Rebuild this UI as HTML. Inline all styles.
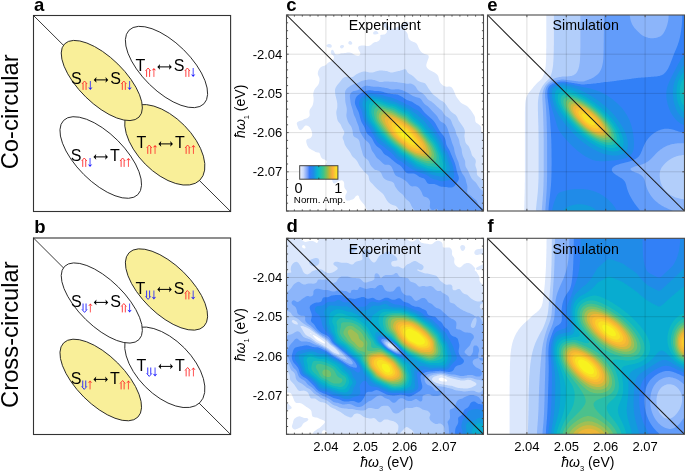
<!DOCTYPE html>
<html><head><meta charset="utf-8"><style>
html,body{margin:0;padding:0;background:#fff;}
svg{display:block;will-change:transform;}
text{font-family:"Liberation Sans", sans-serif;}
</style></head><body>
<svg width="685" height="472" viewBox="0 0 685 472">
<text x="34.0" y="10.9" font-size="18.5" text-anchor="start" font-weight="bold" font-style="normal" fill="#000" >a</text>
<text x="34.2" y="232.9" font-size="18.5" text-anchor="start" font-weight="bold" font-style="normal" fill="#000" >b</text>
<text x="286.3" y="11.0" font-size="18.5" text-anchor="start" font-weight="bold" font-style="normal" fill="#000" >c</text>
<text x="286.5" y="232.3" font-size="18.5" text-anchor="start" font-weight="bold" font-style="normal" fill="#000" >d</text>
<text x="487.3" y="11.0" font-size="18.5" text-anchor="start" font-weight="bold" font-style="normal" fill="#000" >e</text>
<text x="487.5" y="232.3" font-size="18.5" text-anchor="start" font-weight="bold" font-style="normal" fill="#000" >f</text>
<text transform="translate(17.8,111.8) rotate(-90)" font-size="23.8" text-anchor="middle">Co-circular</text>
<text transform="translate(17.6,334.6) rotate(-90)" font-size="23.8" text-anchor="middle">Cross-circular</text>
<rect x="33.5" y="15.5" width="197.1" height="196.0" fill="#fff" stroke="#333" stroke-width="1.1"/>
<line x1="33.5" y1="15.5" x2="230.6" y2="211.5" stroke="#222" stroke-width="0.9"/>
<ellipse cx="164.80" cy="144.80" rx="49.8" ry="27.5" transform="rotate(45.3 164.80 144.80)" fill="#f9ef99" stroke="#222" stroke-width="0.9"/>
<ellipse cx="101.80" cy="80.50" rx="52.2" ry="23.0" transform="rotate(44.5 101.80 80.50)" fill="#f9ef99" stroke="#222" stroke-width="0.9"/>
<ellipse cx="166.50" cy="67.00" rx="52.5" ry="24.3" transform="rotate(44.5 166.50 67.00)" fill="#fff" stroke="#222" stroke-width="0.9"/>
<ellipse cx="100.75" cy="157.50" rx="52.5" ry="24.0" transform="rotate(45.0 100.75 157.50)" fill="#fff" stroke="#222" stroke-width="0.9"/>
<text x="70.98" y="84.2" font-size="16" text-anchor="start" font-weight="normal" font-style="normal" fill="#000" >S</text><path d="M83.04999999999998,89.9 V83.2 M86.04999999999998,89.9 V83.2 M81.94999999999999,84.0 L84.54999999999998,81.0 L87.14999999999998,84.0" stroke="#ff2a2a" stroke-width="0.9" fill="none"/><path d="M90.34999999999998,81.0 V87.9" stroke="#2020ff" stroke-width="0.8" fill="none"/><path d="M88.14999999999998,87.30000000000001 L90.34999999999998,89.9 L92.54999999999998,87.30000000000001 L90.34999999999998,88.10000000000001 Z" fill="#2020ff"/><path d="M95.24999999999999,79.9 H106.74999999999999" stroke="#000" stroke-width="1" fill="none"/><path d="M93.74999999999999,79.9 L96.54999999999998,77.0 L95.94999999999999,79.9 L96.54999999999998,82.80000000000001 Z" fill="#000"/><path d="M108.24999999999999,79.9 L105.44999999999999,77.0 L106.04999999999998,79.9 L105.44999999999999,82.80000000000001 Z" fill="#000"/><text x="110.25" y="84.2" font-size="16" text-anchor="start" font-weight="normal" font-style="normal" fill="#000" >S</text><path d="M122.32199999999997,89.9 V83.2 M125.32199999999997,89.9 V83.2 M121.22199999999998,84.0 L123.82199999999997,81.0 L126.42199999999997,84.0" stroke="#ff2a2a" stroke-width="0.9" fill="none"/><path d="M129.62199999999999,81.0 V87.9" stroke="#2020ff" stroke-width="0.8" fill="none"/><path d="M127.42199999999998,87.30000000000001 L129.62199999999999,89.9 L131.82199999999997,87.30000000000001 L129.62199999999999,88.10000000000001 Z" fill="#2020ff"/>
<text x="135.43" y="71.2" font-size="16" text-anchor="start" font-weight="normal" font-style="normal" fill="#000" >T</text><path d="M146.602,76.9 V70.2 M149.602,76.9 V70.2 M145.502,71.0 L148.102,68.0 L150.702,71.0" stroke="#ff2a2a" stroke-width="0.9" fill="none"/><path d="M153.90200000000002,76.9 V70.0" stroke="#ff2a2a" stroke-width="0.8" fill="none"/><path d="M151.70200000000003,70.6 L153.90200000000002,68.0 L156.102,70.6 L153.90200000000002,69.8 Z" fill="#ff2a2a"/><path d="M158.802,66.9 H170.302" stroke="#000" stroke-width="1" fill="none"/><path d="M157.302,66.9 L160.102,64.0 L159.50199999999998,66.9 L160.102,69.80000000000001 Z" fill="#000"/><path d="M171.802,66.9 L169.00199999999998,64.0 L169.602,66.9 L169.00199999999998,69.80000000000001 Z" fill="#000"/><text x="173.8" y="71.2" font-size="16" text-anchor="start" font-weight="normal" font-style="normal" fill="#000" >S</text><path d="M185.874,76.9 V70.2 M188.874,76.9 V70.2 M184.774,71.0 L187.374,68.0 L189.974,71.0" stroke="#ff2a2a" stroke-width="0.9" fill="none"/><path d="M193.174,68.0 V74.9" stroke="#2020ff" stroke-width="0.8" fill="none"/><path d="M190.97400000000002,74.30000000000001 L193.174,76.9 L195.374,74.30000000000001 L193.174,75.10000000000001 Z" fill="#2020ff"/>
<text x="70.68" y="161.2" font-size="16" text-anchor="start" font-weight="normal" font-style="normal" fill="#000" >S</text><path d="M82.74799999999999,166.89999999999998 V160.2 M85.74799999999999,166.89999999999998 V160.2 M81.648,161.0 L84.24799999999999,158.0 L86.84799999999998,161.0" stroke="#ff2a2a" stroke-width="0.9" fill="none"/><path d="M90.04799999999999,158.0 V164.89999999999998" stroke="#2020ff" stroke-width="0.8" fill="none"/><path d="M87.84799999999998,164.29999999999998 L90.04799999999999,166.89999999999998 L92.24799999999999,164.29999999999998 L90.04799999999999,165.09999999999997 Z" fill="#2020ff"/><path d="M94.948,156.89999999999998 H106.448" stroke="#000" stroke-width="1" fill="none"/><path d="M93.448,156.89999999999998 L96.24799999999999,153.99999999999997 L95.648,156.89999999999998 L96.24799999999999,159.79999999999998 Z" fill="#000"/><path d="M107.948,156.89999999999998 L105.148,153.99999999999997 L105.74799999999999,156.89999999999998 L105.148,159.79999999999998 Z" fill="#000"/><text x="109.95" y="161.2" font-size="16" text-anchor="start" font-weight="normal" font-style="normal" fill="#000" >T</text><path d="M121.12399999999998,166.89999999999998 V160.2 M124.12399999999998,166.89999999999998 V160.2 M120.02399999999999,161.0 L122.62399999999998,158.0 L125.22399999999998,161.0" stroke="#ff2a2a" stroke-width="0.9" fill="none"/><path d="M128.42399999999998,166.89999999999998 V160.0" stroke="#ff2a2a" stroke-width="0.8" fill="none"/><path d="M126.22399999999998,160.6 L128.42399999999998,158.0 L130.62399999999997,160.6 L128.42399999999998,159.8 Z" fill="#ff2a2a"/>
<text x="136.57" y="148.2" font-size="16" text-anchor="start" font-weight="normal" font-style="normal" fill="#000" >T</text><path d="M147.75000000000003,153.89999999999998 V147.2 M150.75000000000003,153.89999999999998 V147.2 M146.65000000000003,148.0 L149.25000000000003,145.0 L151.85000000000002,148.0" stroke="#ff2a2a" stroke-width="0.9" fill="none"/><path d="M155.05000000000004,153.89999999999998 V147.0" stroke="#ff2a2a" stroke-width="0.8" fill="none"/><path d="M152.85000000000005,147.6 L155.05000000000004,145.0 L157.25000000000003,147.6 L155.05000000000004,146.8 Z" fill="#ff2a2a"/><path d="M159.95000000000002,143.89999999999998 H171.45000000000002" stroke="#000" stroke-width="1" fill="none"/><path d="M158.45000000000002,143.89999999999998 L161.25000000000003,140.99999999999997 L160.65,143.89999999999998 L161.25000000000003,146.79999999999998 Z" fill="#000"/><path d="M172.95000000000002,143.89999999999998 L170.15,140.99999999999997 L170.75000000000003,143.89999999999998 L170.15,146.79999999999998 Z" fill="#000"/><text x="174.95" y="148.2" font-size="16" text-anchor="start" font-weight="normal" font-style="normal" fill="#000" >T</text><path d="M186.12600000000003,153.89999999999998 V147.2 M189.12600000000003,153.89999999999998 V147.2 M185.02600000000004,148.0 L187.62600000000003,145.0 L190.22600000000003,148.0" stroke="#ff2a2a" stroke-width="0.9" fill="none"/><path d="M193.42600000000004,153.89999999999998 V147.0" stroke="#ff2a2a" stroke-width="0.8" fill="none"/><path d="M191.22600000000006,147.6 L193.42600000000004,145.0 L195.62600000000003,147.6 L193.42600000000004,146.8 Z" fill="#ff2a2a"/>
<rect x="33.5" y="238.0" width="197.1" height="196.5" fill="#fff" stroke="#333" stroke-width="1.1"/>
<line x1="33.5" y1="238.0" x2="230.6" y2="434.5" stroke="#222" stroke-width="0.9"/>
<ellipse cx="164.80" cy="367.30" rx="49.8" ry="27.5" transform="rotate(45.3 164.80 367.30)" fill="#fff" stroke="#222" stroke-width="0.9"/>
<ellipse cx="101.80" cy="303.00" rx="52.2" ry="23.0" transform="rotate(44.5 101.80 303.00)" fill="#fff" stroke="#222" stroke-width="0.9"/>
<ellipse cx="166.50" cy="289.50" rx="52.5" ry="24.3" transform="rotate(44.5 166.50 289.50)" fill="#f9ef99" stroke="#222" stroke-width="0.9"/>
<ellipse cx="100.75" cy="380.00" rx="52.5" ry="24.0" transform="rotate(45.0 100.75 380.00)" fill="#f9ef99" stroke="#222" stroke-width="0.9"/>
<text x="70.98" y="306.7" font-size="16" text-anchor="start" font-weight="normal" font-style="normal" fill="#000" >S</text><path d="M83.04999999999998,303.5 V310.2 M86.04999999999998,303.5 V310.2 M81.94999999999999,309.4 L84.54999999999998,312.4 L87.14999999999998,309.4" stroke="#2020ff" stroke-width="0.9" fill="none"/><path d="M90.34999999999998,312.4 V305.5" stroke="#ff2a2a" stroke-width="0.8" fill="none"/><path d="M88.14999999999998,306.1 L90.34999999999998,303.5 L92.54999999999998,306.1 L90.34999999999998,305.3 Z" fill="#ff2a2a"/><path d="M95.24999999999999,302.4 H106.74999999999999" stroke="#000" stroke-width="1" fill="none"/><path d="M93.74999999999999,302.4 L96.54999999999998,299.5 L95.94999999999999,302.4 L96.54999999999998,305.29999999999995 Z" fill="#000"/><path d="M108.24999999999999,302.4 L105.44999999999999,299.5 L106.04999999999998,302.4 L105.44999999999999,305.29999999999995 Z" fill="#000"/><text x="110.25" y="306.7" font-size="16" text-anchor="start" font-weight="normal" font-style="normal" fill="#000" >S</text><path d="M122.32199999999997,312.4 V305.7 M125.32199999999997,312.4 V305.7 M121.22199999999998,306.5 L123.82199999999997,303.5 L126.42199999999997,306.5" stroke="#ff2a2a" stroke-width="0.9" fill="none"/><path d="M129.62199999999999,303.5 V310.4" stroke="#2020ff" stroke-width="0.8" fill="none"/><path d="M127.42199999999998,309.79999999999995 L129.62199999999999,312.4 L131.82199999999997,309.79999999999995 L129.62199999999999,310.59999999999997 Z" fill="#2020ff"/>
<text x="135.43" y="293.7" font-size="16" text-anchor="start" font-weight="normal" font-style="normal" fill="#000" >T</text><path d="M146.602,290.5 V297.2 M149.602,290.5 V297.2 M145.502,296.4 L148.102,299.4 L150.702,296.4" stroke="#2020ff" stroke-width="0.9" fill="none"/><path d="M153.90200000000002,290.5 V297.4" stroke="#2020ff" stroke-width="0.8" fill="none"/><path d="M151.70200000000003,296.79999999999995 L153.90200000000002,299.4 L156.102,296.79999999999995 L153.90200000000002,297.59999999999997 Z" fill="#2020ff"/><path d="M158.802,289.4 H170.302" stroke="#000" stroke-width="1" fill="none"/><path d="M157.302,289.4 L160.102,286.5 L159.50199999999998,289.4 L160.102,292.29999999999995 Z" fill="#000"/><path d="M171.802,289.4 L169.00199999999998,286.5 L169.602,289.4 L169.00199999999998,292.29999999999995 Z" fill="#000"/><text x="173.8" y="293.7" font-size="16" text-anchor="start" font-weight="normal" font-style="normal" fill="#000" >S</text><path d="M185.874,299.4 V292.7 M188.874,299.4 V292.7 M184.774,293.5 L187.374,290.5 L189.974,293.5" stroke="#ff2a2a" stroke-width="0.9" fill="none"/><path d="M193.174,290.5 V297.4" stroke="#2020ff" stroke-width="0.8" fill="none"/><path d="M190.97400000000002,296.79999999999995 L193.174,299.4 L195.374,296.79999999999995 L193.174,297.59999999999997 Z" fill="#2020ff"/>
<text x="70.68" y="383.7" font-size="16" text-anchor="start" font-weight="normal" font-style="normal" fill="#000" >S</text><path d="M82.74799999999999,380.5 V387.2 M85.74799999999999,380.5 V387.2 M81.648,386.4 L84.24799999999999,389.4 L86.84799999999998,386.4" stroke="#2020ff" stroke-width="0.9" fill="none"/><path d="M90.04799999999999,389.4 V382.5" stroke="#ff2a2a" stroke-width="0.8" fill="none"/><path d="M87.84799999999998,383.1 L90.04799999999999,380.5 L92.24799999999999,383.1 L90.04799999999999,382.3 Z" fill="#ff2a2a"/><path d="M94.948,379.4 H106.448" stroke="#000" stroke-width="1" fill="none"/><path d="M93.448,379.4 L96.24799999999999,376.5 L95.648,379.4 L96.24799999999999,382.29999999999995 Z" fill="#000"/><path d="M107.948,379.4 L105.148,376.5 L105.74799999999999,379.4 L105.148,382.29999999999995 Z" fill="#000"/><text x="109.95" y="383.7" font-size="16" text-anchor="start" font-weight="normal" font-style="normal" fill="#000" >T</text><path d="M121.12399999999998,389.4 V382.7 M124.12399999999998,389.4 V382.7 M120.02399999999999,383.5 L122.62399999999998,380.5 L125.22399999999998,383.5" stroke="#ff2a2a" stroke-width="0.9" fill="none"/><path d="M128.42399999999998,389.4 V382.5" stroke="#ff2a2a" stroke-width="0.8" fill="none"/><path d="M126.22399999999998,383.1 L128.42399999999998,380.5 L130.62399999999997,383.1 L128.42399999999998,382.3 Z" fill="#ff2a2a"/>
<text x="136.57" y="370.7" font-size="16" text-anchor="start" font-weight="normal" font-style="normal" fill="#000" >T</text><path d="M147.75000000000003,367.5 V374.2 M150.75000000000003,367.5 V374.2 M146.65000000000003,373.4 L149.25000000000003,376.4 L151.85000000000002,373.4" stroke="#2020ff" stroke-width="0.9" fill="none"/><path d="M155.05000000000004,367.5 V374.4" stroke="#2020ff" stroke-width="0.8" fill="none"/><path d="M152.85000000000005,373.79999999999995 L155.05000000000004,376.4 L157.25000000000003,373.79999999999995 L155.05000000000004,374.59999999999997 Z" fill="#2020ff"/><path d="M159.95000000000002,366.4 H171.45000000000002" stroke="#000" stroke-width="1" fill="none"/><path d="M158.45000000000002,366.4 L161.25000000000003,363.5 L160.65,366.4 L161.25000000000003,369.29999999999995 Z" fill="#000"/><path d="M172.95000000000002,366.4 L170.15,363.5 L170.75000000000003,366.4 L170.15,369.29999999999995 Z" fill="#000"/><text x="174.95" y="370.7" font-size="16" text-anchor="start" font-weight="normal" font-style="normal" fill="#000" >T</text><path d="M186.12600000000003,376.4 V369.7 M189.12600000000003,376.4 V369.7 M185.02600000000004,370.5 L187.62600000000003,367.5 L190.22600000000003,370.5" stroke="#ff2a2a" stroke-width="0.9" fill="none"/><path d="M193.42600000000004,376.4 V369.5" stroke="#ff2a2a" stroke-width="0.8" fill="none"/><path d="M191.22600000000006,370.1 L193.42600000000004,367.5 L195.62600000000003,370.1 L193.42600000000004,369.3 Z" fill="#ff2a2a"/>
<clipPath id="clipc"><rect x="286.5" y="15.0" width="197.0" height="196.0"/></clipPath>
<g clip-path="url(#clipc)">
<rect x="286.5" y="15.0" width="197.0" height="196.0" fill="#fff"/>
<path fill-rule="evenodd" fill="#dbe7fc" d="M483.5,211.0 482.5,211.0 481.5,211.0 480.5,211.0 479.5,211.0 478.5,211.0 477.5,211.0 476.5,211.0 475.5,211.0 474.5,211.0 473.5,211.0 472.5,211.0 471.5,211.0 470.5,211.0 469.5,211.0 468.5,211.0 467.5,211.0 466.5,211.0 465.5,211.0 464.5,211.0 463.5,211.0 462.5,211.0 461.5,211.0 460.5,211.0 459.5,211.0 458.5,211.0 457.5,211.0 456.5,211.0 455.5,211.0 454.5,211.0 453.5,211.0 452.5,211.0 451.5,211.0 450.5,211.0 449.5,211.0 448.5,211.0 447.5,211.0 446.5,211.0 445.5,211.0 444.5,211.0 443.5,211.0 442.5,211.0 441.5,211.0 440.5,211.0 439.5,211.0 438.5,211.0 437.5,211.0 436.5,211.0 435.5,211.0 434.5,211.0 433.5,211.0 432.5,211.0 431.5,211.0 430.5,211.0 429.5,211.0 428.5,211.0 427.5,211.0 426.5,211.0 425.5,211.0 424.5,211.0 423.5,211.0 422.5,211.0 421.5,211.0 420.5,211.0 419.5,211.0 418.5,211.0 417.5,211.0 416.5,211.0 415.5,211.0 414.5,211.0 413.5,211.0 412.5,211.0 411.5,211.0 410.5,211.0 409.5,211.0 408.5,211.0 407.5,211.0 406.5,211.0 405.5,211.0 404.5,211.0 403.5,211.0 402.5,211.0 401.5,211.0 400.5,211.0 399.5,211.0 398.5,211.0 397.5,211.0 396.5,211.0 395.5,211.0 394.5,211.0 393.5,211.0 392.5,211.0 391.5,211.0 390.5,211.0 389.5,211.0 388.5,211.0 387.5,211.0 386.5,211.0 385.5,211.0 384.5,211.0 383.5,211.0 382.5,211.0 381.5,211.0 380.5,211.0 379.5,211.0 378.5,211.0 377.5,211.0 376.5,211.0 375.5,211.0 374.5,211.0 373.5,211.0 372.5,211.0 371.5,211.0 370.5,211.0 369.5,211.0 368.5,211.0 367.5,211.0 366.8,210.0 366.3,209.0 365.8,208.0 365.4,207.0 364.9,206.0 364.5,205.1 363.7,204.0 362.7,203.0 361.9,202.0 361.0,201.0 360.5,200.3 359.7,199.0 359.3,198.0 359.1,197.0 358.8,196.0 357.5,195.3 356.5,195.7 355.5,196.6 354.5,197.9 353.5,198.9 352.5,199.4 351.5,199.8 350.5,200.1 349.5,200.4 348.5,200.6 347.5,200.8 346.5,200.5 345.5,199.0 345.3,198.0 345.3,197.0 345.3,196.0 345.5,195.0 346.0,194.0 346.5,193.2 346.9,192.0 346.7,191.0 346.1,190.0 345.2,189.0 344.7,188.0 344.3,187.0 344.2,186.0 344.2,185.0 344.2,184.0 344.1,183.0 343.8,182.0 343.2,181.0 342.5,180.4 341.5,180.3 340.5,180.4 339.5,180.7 338.5,181.2 337.5,181.8 336.5,182.5 335.6,183.0 334.5,183.5 333.5,183.2 332.8,182.0 332.4,181.0 332.1,180.0 331.7,179.0 331.2,178.0 330.7,177.0 330.4,176.0 330.2,175.0 329.9,174.0 329.2,173.0 328.5,172.4 327.5,171.6 326.6,171.0 325.5,170.2 324.5,169.0 324.2,168.0 324.3,167.0 324.7,166.0 325.2,165.0 325.9,164.0 326.5,163.2 327.0,162.0 326.8,161.0 325.5,160.0 324.5,159.6 323.5,159.2 322.5,158.7 321.7,158.0 321.0,157.0 320.6,156.0 320.3,155.0 320.0,154.0 319.5,153.0 318.5,152.6 317.5,152.5 316.5,152.3 315.5,151.9 314.5,151.3 313.5,150.7 312.5,150.2 311.5,149.7 310.5,149.1 309.5,148.4 308.5,147.4 307.6,146.0 307.1,145.0 306.8,144.0 306.5,143.0 306.3,142.0 306.2,141.0 306.4,140.0 307.3,139.0 308.5,138.7 309.5,138.4 310.5,137.9 311.4,137.0 311.9,136.0 312.2,135.0 312.2,134.0 312.1,133.0 311.9,132.0 311.6,131.0 311.2,130.0 310.8,129.0 310.2,128.0 309.5,127.1 308.5,126.3 307.5,125.7 306.5,125.5 305.5,125.6 304.5,126.2 303.9,127.0 303.1,128.0 302.5,128.8 301.5,129.7 300.6,130.0 299.5,129.7 298.7,129.0 298.2,128.0 297.8,127.0 297.5,126.0 297.1,125.0 296.8,124.0 296.8,123.0 297.5,122.1 298.5,121.5 299.5,121.1 300.5,120.8 301.5,120.6 302.5,120.2 303.5,119.5 304.4,119.0 305.5,118.7 306.5,118.4 307.5,118.0 308.5,117.3 309.5,116.0 309.7,115.0 309.6,114.0 309.5,113.0 309.4,112.0 309.5,111.0 309.7,110.0 310.2,109.0 310.9,108.0 311.5,107.2 312.3,106.0 312.7,105.0 313.0,104.0 313.2,103.0 313.4,102.0 313.5,101.1 313.6,100.0 313.6,99.0 313.6,98.0 313.5,97.0 313.3,96.0 313.2,95.0 313.3,94.0 313.4,93.0 313.6,92.0 313.9,91.0 314.3,90.0 314.8,89.0 315.5,88.0 316.4,87.0 317.3,86.0 318.1,85.0 318.6,84.0 319.0,83.0 319.2,82.0 319.4,81.0 319.5,80.0 319.5,79.0 319.4,78.0 319.0,77.0 318.5,76.0 318.0,75.0 317.8,74.0 317.8,73.0 318.0,72.0 318.2,71.0 318.7,70.0 319.2,69.0 319.9,68.0 321.1,67.0 322.5,66.3 323.5,66.0 324.5,65.8 325.5,65.3 326.5,64.4 327.5,63.3 328.5,62.5 329.4,62.0 330.5,61.5 331.5,61.1 332.5,60.4 333.5,59.2 333.9,58.0 333.9,57.0 333.7,56.0 332.5,55.1 331.5,54.3 330.9,53.0 330.8,52.0 331.1,51.0 331.5,50.1 332.5,49.8 333.5,50.6 334.2,52.0 334.6,53.0 335.0,54.0 336.5,54.6 337.5,54.4 338.5,54.2 339.5,53.9 340.5,53.5 341.5,53.3 342.5,53.2 343.5,53.2 344.5,53.1 345.5,53.0 346.5,52.8 347.5,52.5 348.5,52.4 349.5,52.4 350.5,52.7 351.5,53.1 352.5,53.6 353.5,54.2 354.5,54.7 355.5,55.2 356.5,55.6 357.5,55.8 358.5,55.7 359.5,55.2 360.3,54.0 360.3,53.0 359.9,52.0 359.3,51.0 358.8,50.0 358.3,49.0 358.1,48.0 358.2,47.0 359.2,46.0 360.5,45.7 361.5,45.6 362.5,45.5 363.5,45.6 364.5,45.6 365.5,45.8 366.5,45.9 367.5,46.0 368.5,46.0 369.5,45.8 370.5,45.2 371.5,44.4 372.5,43.5 373.5,42.7 374.5,42.3 375.5,42.1 376.5,41.9 377.5,41.6 378.5,41.0 379.5,40.1 380.1,39.0 380.4,38.0 380.4,37.0 380.3,36.0 380.4,35.0 381.5,34.8 382.5,34.7 383.5,34.6 384.5,34.4 385.3,34.0 386.4,33.0 386.9,32.0 387.0,31.0 386.8,30.0 386.2,29.0 385.5,28.3 384.5,27.3 383.5,26.0 383.1,25.0 383.0,24.0 383.3,23.0 384.3,22.0 385.5,22.0 386.5,22.8 387.4,24.0 387.9,25.0 388.5,26.0 389.2,27.0 390.5,28.0 391.5,28.5 392.5,28.7 393.5,28.8 394.5,28.6 395.2,28.0 396.5,27.3 397.5,26.8 398.5,26.4 399.5,26.0 400.5,25.7 401.5,25.2 402.5,24.4 403.5,23.4 404.5,22.6 405.5,22.1 406.5,21.8 407.5,21.8 408.5,22.4 408.8,24.0 408.4,25.0 407.7,26.0 406.7,27.0 405.5,27.6 404.6,28.0 404.3,29.0 404.7,30.0 405.5,30.9 406.5,32.0 407.2,33.0 407.6,34.0 407.9,35.0 408.0,36.0 408.2,37.0 408.5,37.9 409.0,39.0 409.9,40.0 411.3,41.0 412.5,41.5 413.5,41.9 414.5,42.3 415.5,42.8 416.5,43.5 417.5,45.0 417.9,46.0 418.3,47.0 418.7,48.0 419.2,49.0 419.8,50.0 420.5,51.0 421.4,52.0 422.5,52.9 423.5,53.4 424.5,53.9 425.5,54.2 426.5,54.4 427.5,54.7 428.5,55.5 428.8,57.0 428.6,58.0 428.2,59.0 427.8,60.0 427.5,60.9 427.1,62.0 426.8,63.0 426.5,64.0 426.3,65.0 426.3,66.0 426.6,67.0 427.2,68.0 428.2,69.0 429.5,69.9 430.5,70.5 431.5,71.0 432.5,71.5 433.4,72.0 434.5,72.6 435.5,73.2 436.5,73.9 437.5,75.0 438.1,76.0 438.5,77.0 438.7,78.0 438.9,79.0 439.1,80.0 439.4,81.0 439.9,82.0 440.5,83.0 441.4,84.0 442.5,85.0 443.5,85.7 444.5,86.2 445.5,86.5 446.5,86.7 447.5,86.7 448.5,86.6 449.5,86.6 450.5,86.8 451.5,87.3 452.2,88.0 452.9,89.0 453.5,90.0 453.9,91.0 454.3,92.0 454.7,93.0 455.1,94.0 455.5,94.9 456.0,96.0 456.5,96.9 457.2,98.0 458.0,99.0 458.7,100.0 459.5,101.0 460.2,102.0 461.3,103.0 462.5,103.8 463.5,104.3 464.5,104.8 465.5,105.2 466.5,105.8 467.5,106.6 468.5,107.6 469.5,108.7 470.5,109.8 471.4,111.0 472.1,112.0 472.7,113.0 473.3,114.0 474.0,115.0 474.5,116.0 474.9,117.0 475.1,118.0 475.1,119.0 475.2,120.0 475.3,121.0 475.6,122.0 476.5,123.0 477.5,123.6 478.5,124.2 479.5,125.0 480.5,126.0 481.1,127.0 481.4,128.0 481.3,129.0 481.2,130.0 481.4,131.0 481.9,132.0 482.5,132.8 483.5,133.8 483.5,135.0 483.5,136.0 483.5,137.0 483.5,138.0 483.5,139.0 483.5,140.0 483.5,141.0 483.5,142.0 483.5,143.0 483.5,144.0 483.5,145.0 483.5,146.0 483.5,147.0 483.5,148.0 483.5,149.0 483.5,150.0 483.5,151.0 483.5,152.0 483.5,153.0 483.5,154.0 483.5,155.0 483.5,156.0 483.5,157.0 483.5,158.0 483.5,159.0 483.5,160.0 483.5,161.0 483.5,162.0 483.5,163.0 483.5,164.0 483.5,165.0 483.5,166.0 483.5,167.0 483.5,168.0 483.5,169.0 483.5,170.0 483.5,171.0 483.5,172.0 483.5,173.0 483.5,174.0 483.5,175.0 483.5,176.0 483.5,177.0 483.5,178.0 483.5,179.0 483.5,180.0 483.5,181.0 483.5,182.0 483.5,183.0 483.5,184.0 483.5,185.0 483.5,186.0 483.5,187.0 483.5,188.0 483.5,189.0 483.5,190.0 483.5,191.0 483.5,192.0 483.5,193.0 483.5,194.0 483.5,195.0 483.5,196.0 483.5,197.0 483.5,198.0 483.5,199.0 483.5,200.0 483.5,201.0 483.5,202.0 483.5,203.0 483.5,204.0 483.5,205.0 483.5,206.0 483.5,207.0 483.5,208.0 483.5,209.0 483.5,210.0 483.5,211.0ZM377.5,34.1 376.5,34.2 375.5,34.4 374.5,34.4 373.5,34.3 373.0,33.0 373.5,32.0 374.5,31.3 375.5,30.9 376.5,31.0 377.5,31.8 378.4,33.0 378.2,34.0ZM351.5,44.5 350.5,44.7 349.5,44.6 348.6,44.0 348.3,43.0 348.5,42.0 349.5,41.0 350.5,41.0 351.5,41.7 352.3,43.0 352.1,44.0ZM331.5,47.2 330.5,47.8 329.5,47.6 328.5,47.4 327.5,47.1 326.5,46.3 326.5,45.1 327.5,44.4 328.5,44.0 329.5,43.9 330.5,44.2 331.5,44.9 331.8,46.0 331.6,47.0ZM342.5,48.3 341.5,48.4 340.5,48.0 340.0,47.0 340.1,46.0 341.5,45.0 342.5,44.9 343.5,45.3 344.1,46.0 343.8,47.0 342.9,48.0ZM334.8,169.0 334.7,168.0 334.3,169.0Z"/>
<path fill-rule="evenodd" fill="#b2cefa" d="M483.5,211.0 482.5,211.0 481.5,211.0 480.5,211.0 479.5,211.0 478.5,211.0 477.5,211.0 476.5,211.0 475.5,211.0 474.5,211.0 473.5,211.0 472.5,211.0 471.5,211.0 470.5,211.0 469.5,211.0 468.5,211.0 467.5,211.0 466.5,211.0 465.5,211.0 464.5,211.0 463.5,211.0 462.5,211.0 461.5,211.0 460.5,211.0 459.5,211.0 458.5,211.0 457.5,211.0 456.5,211.0 455.5,211.0 454.5,211.0 453.5,211.0 452.5,211.0 451.5,211.0 450.5,211.0 449.5,211.0 448.5,211.0 447.5,211.0 446.5,211.0 445.5,211.0 444.5,211.0 443.5,211.0 442.5,211.0 441.5,211.0 440.5,211.0 439.5,211.0 438.5,211.0 437.5,211.0 436.5,211.0 435.5,211.0 434.5,211.0 433.5,211.0 432.5,211.0 431.5,211.0 430.5,211.0 429.5,211.0 428.5,211.0 427.5,211.0 426.5,211.0 425.5,211.0 424.5,211.0 423.5,211.0 422.5,211.0 421.5,211.0 420.5,211.0 419.5,211.0 418.5,211.0 417.5,211.0 416.5,211.0 415.5,211.0 414.5,211.0 413.5,211.0 412.5,211.0 411.5,211.0 410.5,211.0 409.5,211.0 408.5,211.0 407.5,211.0 406.5,211.0 405.5,211.0 404.5,211.0 403.5,211.0 402.5,211.0 401.5,211.0 400.5,211.0 399.5,210.5 398.5,209.2 397.7,208.0 397.0,207.0 395.8,206.0 394.5,205.4 393.5,205.2 392.6,205.0 391.5,204.6 390.5,204.1 389.5,203.3 388.5,202.4 387.5,201.2 386.6,200.0 386.0,199.0 385.5,198.1 384.9,197.0 384.5,196.2 383.8,195.0 383.0,194.0 382.0,193.0 380.8,192.0 379.6,191.0 378.5,190.1 377.5,189.2 376.5,188.3 375.5,187.3 374.5,186.2 373.5,185.0 372.6,184.0 371.5,183.0 370.5,182.0 369.8,181.0 369.3,180.0 369.1,179.0 368.9,178.0 368.7,177.0 368.5,176.1 367.9,175.0 366.9,174.0 365.6,173.0 364.5,172.0 363.6,171.0 362.8,170.0 362.1,169.0 361.5,168.3 360.5,167.1 359.7,166.0 359.1,165.0 358.6,164.0 358.1,163.0 357.6,162.0 357.0,161.0 356.2,160.0 355.5,159.2 354.5,158.3 353.5,157.5 352.5,156.5 351.5,155.1 351.0,154.0 350.5,153.0 349.9,152.0 349.2,151.0 348.5,150.1 347.6,149.0 346.9,148.0 346.2,147.0 345.6,146.0 345.0,145.0 344.6,144.0 344.3,143.0 344.1,142.0 343.8,141.0 343.4,140.0 342.9,139.0 342.6,138.0 342.7,137.0 343.0,136.0 343.5,135.2 344.0,134.0 344.3,133.0 344.3,132.0 343.9,131.0 343.5,130.2 342.8,129.0 342.2,128.0 341.7,127.0 341.3,126.0 340.9,125.0 340.3,124.0 339.5,123.0 338.6,122.0 337.9,121.0 337.5,120.0 337.2,119.0 337.0,118.0 336.9,117.0 336.7,116.0 336.5,115.0 336.4,114.0 336.3,113.0 336.3,112.0 336.4,111.0 336.7,110.0 336.9,109.0 337.2,108.0 337.3,107.0 337.3,106.0 337.3,105.0 337.3,104.0 337.2,103.0 337.0,102.0 336.9,101.0 336.6,100.0 336.4,99.0 336.1,98.0 335.9,97.0 335.6,96.0 335.4,95.0 335.3,94.0 335.1,93.0 335.0,92.0 335.0,91.0 335.0,90.0 335.2,89.0 335.5,88.1 336.0,87.0 336.5,86.2 337.3,85.0 338.2,84.0 339.0,83.0 339.9,82.0 340.7,81.0 341.4,80.0 342.1,79.0 343.0,78.0 344.5,77.2 345.5,76.9 346.5,76.8 347.5,76.8 348.5,76.9 349.5,77.1 350.5,77.2 351.5,77.2 352.5,76.9 353.5,76.4 354.5,75.7 355.4,75.0 356.5,74.3 357.5,73.7 358.5,73.2 359.5,72.8 360.5,72.4 361.5,72.0 362.5,71.7 363.5,71.5 364.5,71.5 365.5,71.5 366.5,71.7 367.5,71.9 368.5,72.2 369.5,72.4 370.5,72.5 371.5,72.5 372.5,72.4 373.5,72.2 374.5,71.9 375.5,71.5 376.5,71.2 377.5,70.9 378.5,70.7 379.5,70.5 380.5,70.5 381.5,70.6 382.5,70.6 383.5,70.7 384.5,70.8 385.5,70.9 386.5,71.1 387.5,71.3 388.5,71.7 389.5,72.1 390.5,72.4 391.5,72.5 392.5,72.4 393.5,72.2 394.5,71.9 395.5,71.7 396.5,71.5 397.5,71.3 398.5,71.1 399.5,70.9 400.5,70.6 401.5,70.3 402.4,70.0 403.5,69.6 404.5,69.3 405.5,69.2 406.4,70.0 406.8,71.0 407.3,72.0 408.1,73.0 409.5,74.0 410.5,74.4 411.5,75.0 412.5,75.7 413.5,76.6 414.5,77.6 415.5,78.6 416.5,79.6 417.5,80.4 418.4,81.0 419.5,81.6 420.5,82.0 421.5,82.3 422.5,82.5 423.5,82.7 424.4,83.0 425.5,83.8 426.4,85.0 427.0,86.0 427.5,86.8 428.2,88.0 428.9,89.0 429.5,89.8 430.3,91.0 431.1,92.0 431.8,93.0 432.5,93.7 433.5,94.7 434.5,95.5 435.5,96.2 436.5,97.0 437.5,97.8 438.5,98.7 439.5,99.6 440.5,100.2 441.5,100.8 442.5,101.3 443.5,102.0 444.5,102.8 445.5,104.0 446.2,105.0 446.9,106.0 447.5,107.0 448.2,108.0 448.9,109.0 449.5,109.7 450.5,110.9 451.5,111.9 452.5,112.8 453.5,113.5 454.3,114.0 455.5,114.8 456.5,115.9 457.1,117.0 457.5,117.8 458.0,119.0 458.4,120.0 459.0,121.0 459.7,122.0 460.4,123.0 461.1,124.0 461.8,125.0 462.5,126.0 463.2,127.0 463.8,128.0 464.2,129.0 464.6,130.0 464.8,131.0 464.9,132.0 464.8,133.0 464.6,134.0 464.5,135.0 464.4,136.0 464.5,137.0 464.7,138.0 464.9,139.0 465.0,140.0 465.2,141.0 465.4,142.0 465.8,143.0 466.5,144.0 467.5,144.9 468.5,146.0 469.1,147.0 469.5,148.0 469.9,149.0 470.3,150.0 470.7,151.0 471.1,152.0 471.3,153.0 471.6,154.0 471.9,155.0 472.5,156.0 473.4,157.0 474.4,158.0 475.2,159.0 475.6,160.0 475.8,161.0 475.8,162.0 475.6,163.0 475.4,164.0 475.3,165.0 475.5,166.0 475.8,167.0 476.2,168.0 476.5,168.9 476.8,170.0 476.9,171.0 476.8,172.0 476.8,173.0 476.9,174.0 477.2,175.0 478.0,176.0 479.2,177.0 480.4,178.0 481.4,179.0 482.2,180.0 483.0,181.0 483.5,182.0 483.5,183.0 483.5,184.0 483.5,185.0 483.5,186.0 483.5,187.0 483.5,188.0 483.5,189.0 483.5,190.0 483.5,191.0 483.5,192.0 483.5,193.0 483.5,194.0 483.5,195.0 483.5,196.0 483.5,197.0 483.5,198.0 483.5,199.0 483.5,200.0 483.5,201.0 483.5,202.0 483.5,203.0 483.5,204.0 483.5,205.0 483.5,206.0 483.5,207.0 483.5,208.0 483.5,209.0 483.5,210.0 483.5,211.0Z"/>
<path fill-rule="evenodd" fill="#8cb5fa" d="M483.5,211.0 482.5,211.0 481.5,211.0 480.5,211.0 479.5,211.0 478.5,211.0 477.5,211.0 476.5,211.0 475.5,211.0 474.5,211.0 473.5,211.0 472.5,211.0 471.5,211.0 470.5,211.0 469.5,211.0 468.5,211.0 467.5,211.0 466.5,211.0 465.5,211.0 464.5,211.0 463.5,211.0 462.5,211.0 461.5,211.0 460.5,211.0 459.5,211.0 458.5,211.0 457.5,211.0 456.5,211.0 455.5,211.0 454.5,211.0 453.5,211.0 452.5,211.0 451.5,211.0 450.5,211.0 449.5,211.0 448.5,211.0 447.5,211.0 446.5,211.0 445.5,211.0 444.5,211.0 443.5,211.0 442.5,211.0 441.5,211.0 440.5,211.0 439.5,211.0 438.5,211.0 437.5,211.0 436.5,211.0 435.5,211.0 434.5,211.0 433.5,211.0 432.5,211.0 431.5,211.0 430.5,211.0 429.5,211.0 428.5,211.0 427.5,211.0 426.5,211.0 425.5,211.0 424.5,211.0 423.5,211.0 422.5,211.0 421.5,211.0 420.5,211.0 419.5,211.0 418.5,211.0 417.5,211.0 416.5,211.0 415.5,211.0 414.5,210.0 413.6,209.0 412.7,208.0 412.1,207.0 411.5,206.0 411.1,205.0 410.6,204.0 410.1,203.0 409.5,202.1 408.5,201.1 407.5,200.3 406.5,199.5 405.5,198.5 404.5,197.2 403.8,196.0 403.1,195.0 402.1,194.0 400.7,193.0 399.5,192.1 398.5,191.1 397.6,190.0 396.9,189.0 396.1,188.0 395.5,187.1 394.9,186.0 394.6,185.0 394.3,184.0 393.8,183.0 392.5,182.0 391.5,181.6 390.5,181.3 389.5,181.0 388.5,180.8 387.5,180.4 386.5,180.0 385.5,179.5 384.7,179.0 383.6,178.0 382.9,177.0 382.4,176.0 382.0,175.0 381.6,174.0 381.1,173.0 380.5,172.2 379.5,171.3 378.5,170.7 377.5,170.4 376.5,170.1 375.5,169.9 374.5,169.4 373.5,168.6 372.5,167.6 371.5,166.4 370.5,165.0 369.9,164.0 369.5,163.0 369.1,162.0 368.6,161.0 367.9,160.0 366.7,159.0 365.5,158.2 364.5,157.3 363.5,156.1 363.0,155.0 362.7,154.0 362.4,153.0 362.2,152.0 361.9,151.0 361.6,150.0 361.3,149.0 361.0,148.0 360.7,147.0 360.4,146.0 360.2,145.0 360.0,144.0 359.8,143.0 359.6,142.0 359.3,141.0 358.8,140.0 358.0,139.0 356.5,138.1 355.5,137.6 354.5,137.1 353.5,136.0 353.1,135.0 352.9,134.0 352.8,133.0 352.7,132.0 352.6,131.0 352.4,130.0 352.1,129.0 351.8,128.0 351.4,127.0 350.8,126.0 350.1,125.0 349.5,124.2 348.7,123.0 348.2,122.0 347.7,121.0 347.4,120.0 347.1,119.0 346.8,118.0 346.6,117.0 346.4,116.0 346.4,115.0 346.4,114.0 346.6,113.0 346.7,112.0 346.8,111.0 346.8,110.0 346.8,109.0 346.7,108.0 346.5,107.0 346.3,106.0 346.0,105.0 345.8,104.0 345.6,103.0 345.4,102.0 345.3,101.0 345.2,100.0 345.2,99.0 345.2,98.0 345.1,97.0 345.1,96.0 345.1,95.0 345.0,94.0 345.0,93.0 345.1,92.0 345.3,91.0 345.8,90.0 346.5,89.1 347.5,88.0 348.5,87.2 349.5,86.4 350.5,85.7 351.5,85.2 352.5,84.7 353.5,84.3 354.5,84.1 355.5,83.8 356.5,83.5 357.5,83.1 358.5,82.6 359.5,82.0 360.5,81.5 361.5,81.0 362.5,80.7 363.5,80.4 364.5,80.2 365.5,80.0 366.5,79.9 367.5,79.7 368.5,79.6 369.5,79.6 370.5,79.6 371.5,79.6 372.5,79.7 373.5,79.9 374.5,80.1 375.5,80.4 376.5,80.8 377.5,81.3 378.5,81.6 379.5,81.9 380.5,82.0 381.4,82.0 382.5,81.9 383.5,81.7 384.5,81.6 385.5,81.5 386.5,81.5 387.5,81.6 388.5,81.6 389.5,81.7 390.5,81.7 391.5,81.7 392.5,81.7 393.5,81.8 394.5,81.9 395.5,82.0 396.5,82.1 397.5,82.3 398.5,82.5 399.5,82.6 400.5,82.7 401.5,82.8 402.5,83.0 403.5,83.1 404.5,83.3 405.5,83.5 406.5,83.7 407.5,83.7 408.5,83.7 409.5,83.6 410.5,83.6 411.5,83.8 412.5,84.2 413.5,84.8 414.5,85.5 415.5,86.4 416.5,87.9 417.0,89.0 417.7,90.0 418.5,90.8 419.5,91.4 420.4,92.0 421.5,92.6 422.5,93.3 423.4,94.0 424.4,95.0 425.3,96.0 426.1,97.0 426.8,98.0 427.5,98.9 428.5,99.8 429.5,100.5 430.4,101.0 431.5,101.6 432.5,102.4 433.3,103.0 434.4,104.0 435.5,105.0 436.5,106.0 437.5,106.9 438.5,107.8 439.5,108.7 440.5,109.4 441.5,110.3 442.1,111.0 442.8,112.0 443.4,113.0 444.0,114.0 444.8,115.0 445.5,115.7 446.5,116.4 447.5,117.0 448.5,117.7 449.5,118.4 450.5,119.5 451.3,121.0 451.7,122.0 452.0,123.0 452.4,124.0 452.8,125.0 453.3,126.0 453.8,127.0 454.4,128.0 454.8,129.0 455.2,130.0 455.5,130.9 455.8,132.0 456.0,133.0 456.3,134.0 456.7,135.0 457.2,136.0 457.8,137.0 458.3,138.0 458.7,139.0 459.0,140.0 459.3,141.0 459.4,142.0 459.6,143.0 459.8,144.0 460.1,145.0 460.5,145.9 460.9,147.0 461.3,148.0 461.6,149.0 461.7,150.0 461.8,151.0 461.9,152.0 462.1,153.0 462.3,154.0 462.6,155.0 462.9,156.0 463.3,157.0 463.8,158.0 464.3,159.0 464.7,160.0 465.1,161.0 465.2,162.0 465.2,163.0 465.2,164.0 465.3,165.0 465.5,166.0 465.8,167.0 466.4,168.0 467.0,169.0 467.5,169.8 468.2,171.0 468.6,172.0 469.1,173.0 469.5,174.0 469.9,175.0 470.4,176.0 470.9,177.0 471.4,178.0 472.1,179.0 473.0,180.0 474.1,181.0 475.3,182.0 476.2,183.0 476.9,184.0 477.5,184.9 478.1,186.0 478.8,187.0 479.4,188.0 480.3,189.0 481.5,190.0 482.5,190.5 483.5,191.0 483.5,192.0 483.5,193.0 483.5,194.0 483.5,195.0 483.5,196.0 483.5,197.0 483.5,198.0 483.5,199.0 483.5,200.0 483.5,201.0 483.5,202.0 483.5,203.0 483.5,204.0 483.5,205.0 483.5,206.0 483.5,207.0 483.5,208.0 483.5,209.0 483.5,210.0 483.5,211.0Z"/>
<path fill-rule="evenodd" fill="#629cfa" d="M483.5,211.0 482.5,211.0 481.5,211.0 480.5,211.0 479.5,211.0 478.5,211.0 477.5,211.0 476.5,211.0 475.5,211.0 474.5,211.0 473.5,211.0 472.5,211.0 471.5,211.0 470.5,211.0 469.5,211.0 468.5,211.0 467.5,211.0 466.5,211.0 465.5,211.0 464.5,211.0 463.5,211.0 462.5,211.0 461.5,211.0 460.5,211.0 459.5,211.0 458.5,211.0 457.5,211.0 456.5,211.0 455.5,211.0 454.5,211.0 453.5,211.0 452.5,211.0 451.5,211.0 450.5,211.0 449.5,211.0 448.5,211.0 447.5,211.0 446.5,211.0 445.5,211.0 444.5,211.0 443.5,211.0 442.5,211.0 441.5,211.0 440.5,211.0 439.5,211.0 438.6,211.0 438.0,210.0 437.5,209.1 436.5,208.7 435.6,209.0 434.5,209.5 433.5,209.9 432.5,210.0 431.5,209.7 430.7,209.0 430.2,208.0 429.9,207.0 429.8,206.0 429.9,205.0 430.0,204.0 430.1,203.0 430.1,202.0 429.9,201.0 429.5,200.0 428.9,199.0 427.9,198.0 426.5,197.2 425.6,197.0 424.5,196.7 423.5,196.2 422.7,195.0 422.3,194.0 422.0,193.0 421.5,192.0 421.0,191.0 420.5,190.2 419.7,189.0 418.8,188.0 417.6,187.0 416.5,186.5 415.5,186.3 414.5,186.3 413.5,186.3 412.5,186.4 411.5,186.3 410.5,185.8 409.6,185.0 408.7,184.0 407.9,183.0 407.0,182.0 405.8,181.0 404.5,180.0 403.5,179.4 402.5,178.8 401.5,178.2 400.5,177.7 399.5,177.2 398.5,176.9 397.5,176.5 396.5,176.0 395.5,175.3 394.6,174.0 394.2,173.0 393.8,172.0 393.4,171.0 393.0,170.0 392.6,169.0 392.1,168.0 391.6,167.0 390.8,166.0 389.5,165.1 388.5,164.8 387.5,164.8 386.5,164.8 385.5,164.7 384.5,164.4 383.7,164.0 382.5,163.1 381.5,162.1 380.5,161.1 379.5,160.1 378.5,159.2 377.5,158.4 376.5,157.4 375.5,156.0 375.0,155.0 374.5,154.2 373.7,153.0 372.9,152.0 372.2,151.0 371.7,150.0 371.3,149.0 371.0,148.0 370.7,147.0 370.4,146.0 370.0,145.0 369.5,144.0 368.8,143.0 367.9,142.0 366.6,141.0 365.5,140.1 364.5,139.0 363.8,138.0 363.2,137.0 362.5,136.0 361.9,135.0 361.3,134.0 360.7,133.0 360.2,132.0 359.7,131.0 359.4,130.0 359.2,129.0 359.0,128.0 358.8,127.0 358.5,126.0 358.1,125.0 357.7,124.0 357.3,123.0 356.9,122.0 356.5,121.0 356.2,120.0 355.9,119.0 355.5,118.0 355.0,117.0 354.5,116.0 354.0,115.0 353.7,114.0 353.4,113.0 353.2,112.0 353.0,111.0 352.7,110.0 352.4,109.0 352.1,108.0 351.8,107.0 351.5,106.1 351.1,105.0 350.9,104.0 350.7,103.0 350.5,102.0 350.4,101.0 350.3,100.0 350.1,99.0 350.0,98.0 349.9,97.0 349.8,96.0 350.0,95.0 350.3,94.0 350.9,93.0 351.9,92.0 353.5,91.1 354.5,90.9 355.5,90.7 356.5,90.5 357.5,90.2 358.5,89.8 359.5,89.2 360.5,88.5 361.5,87.8 362.5,87.0 363.5,86.4 364.5,86.0 365.5,85.8 366.5,85.8 367.5,85.8 368.5,86.0 369.5,86.1 370.5,86.3 371.5,86.4 372.5,86.6 373.5,86.7 374.5,86.7 375.5,86.7 376.5,86.7 377.5,86.7 378.5,86.8 379.5,86.9 380.5,87.0 381.5,87.2 382.5,87.4 383.5,87.6 384.5,87.8 385.5,87.9 386.5,88.1 387.5,88.3 388.5,88.6 389.5,88.9 390.5,89.2 391.5,89.4 392.5,89.6 393.5,89.6 394.5,89.5 395.5,89.3 396.5,89.2 397.5,89.2 398.5,89.2 399.5,89.4 400.5,89.7 401.5,90.0 402.5,90.3 403.5,90.8 404.5,91.2 405.5,91.7 406.5,92.2 407.5,92.7 408.5,93.3 409.5,93.9 410.5,94.5 411.3,95.0 412.5,95.7 413.5,96.2 414.5,96.6 415.5,96.9 416.5,97.2 417.5,97.4 418.5,97.7 419.5,98.1 420.5,98.8 421.5,99.8 422.3,101.0 422.9,102.0 423.5,102.8 424.5,103.9 425.5,104.7 426.5,105.4 427.4,106.0 428.5,106.9 429.5,108.0 430.4,109.0 431.3,110.0 432.2,111.0 433.2,112.0 434.1,113.0 435.1,114.0 436.1,115.0 436.9,116.0 437.5,116.8 438.1,118.0 438.7,119.0 439.3,120.0 440.1,121.0 441.4,122.0 442.5,122.5 443.5,123.0 444.5,123.7 445.5,124.8 446.3,126.0 446.8,127.0 447.3,128.0 447.7,129.0 448.0,130.0 448.3,131.0 448.6,132.0 448.9,133.0 449.3,134.0 449.6,135.0 449.9,136.0 450.2,137.0 450.6,138.0 450.9,139.0 451.2,140.0 451.5,141.0 451.8,142.0 452.1,143.0 452.5,144.0 452.9,145.0 453.3,146.0 453.7,147.0 454.0,148.0 454.2,149.0 454.3,150.0 454.5,151.0 454.7,152.0 455.0,153.0 455.3,154.0 455.6,155.0 456.0,156.0 456.3,157.0 456.7,158.0 457.1,159.0 457.5,159.9 458.0,161.0 458.4,162.0 458.7,163.0 458.9,164.0 459.1,165.0 459.4,166.0 459.7,167.0 460.0,168.0 460.3,169.0 460.7,170.0 461.1,171.0 461.5,172.0 462.0,173.0 462.5,173.9 463.3,175.0 464.0,176.0 464.5,176.8 465.1,178.0 465.5,179.0 465.8,180.0 466.0,181.0 466.2,182.0 466.5,183.0 466.8,184.0 467.1,185.0 467.3,186.0 467.4,187.0 467.4,188.0 467.3,189.0 467.2,190.0 467.2,191.0 467.2,192.0 467.4,193.0 468.3,194.0 469.5,194.7 470.5,195.4 471.5,196.3 472.2,197.0 473.3,198.0 474.5,199.0 475.5,199.8 476.5,200.8 477.2,202.0 477.7,203.0 478.2,204.0 478.8,205.0 479.5,205.8 480.5,206.8 481.5,207.4 482.5,207.9 483.5,208.2 483.5,210.0 483.5,211.0Z"/>
<path fill-rule="evenodd" fill="#3280f7" d="M452.5,187.2 451.5,187.4 450.5,187.5 449.5,187.5 448.5,187.4 447.5,187.3 446.5,187.1 445.5,187.0 444.5,186.9 443.5,186.8 442.5,186.8 441.5,186.7 440.5,186.6 439.5,186.2 438.5,185.8 437.5,185.3 436.5,184.8 435.5,184.4 434.5,184.1 433.5,184.0 432.5,183.9 431.5,184.0 430.5,184.1 429.5,184.1 428.5,183.8 427.5,183.2 426.6,182.0 426.0,181.0 425.5,180.0 424.7,179.0 423.5,178.2 422.5,177.9 421.5,177.7 420.5,177.3 419.5,176.9 418.5,176.2 417.5,175.5 416.5,174.8 415.5,174.3 414.5,173.8 413.5,173.6 412.5,173.4 411.5,173.4 410.5,173.4 409.5,173.4 408.5,173.4 407.5,173.2 406.5,172.7 405.6,172.0 404.7,171.0 403.9,170.0 403.2,169.0 402.5,168.0 401.7,167.0 400.7,166.0 399.5,165.1 398.5,164.5 397.6,164.0 396.5,163.3 395.5,162.5 394.5,161.7 393.7,161.0 392.5,160.0 391.5,159.2 390.5,158.3 389.5,157.5 388.5,156.8 387.5,156.1 386.5,155.6 385.5,155.0 384.5,154.2 383.5,153.2 382.7,152.0 382.1,151.0 381.5,150.2 380.5,149.1 379.5,148.3 378.5,147.6 377.7,147.0 376.6,146.0 375.7,145.0 375.0,144.0 374.3,143.0 373.8,142.0 373.3,141.0 372.8,140.0 372.3,139.0 371.6,138.0 370.8,137.0 369.7,136.0 368.5,135.0 367.5,134.0 366.8,133.0 366.2,132.0 365.8,131.0 365.5,130.0 365.2,129.0 364.8,128.0 364.4,127.0 363.8,126.0 363.2,125.0 362.6,124.0 362.0,123.0 361.5,122.0 361.1,121.0 360.8,120.0 360.5,119.1 360.2,118.0 359.9,117.0 359.7,116.0 359.5,115.1 359.2,114.0 358.9,113.0 358.6,112.0 358.1,111.0 357.6,110.0 357.1,109.0 356.6,108.0 356.2,107.0 355.8,106.0 355.4,105.0 355.1,104.0 354.9,103.0 354.9,102.0 355.0,101.0 355.2,100.0 355.4,99.0 355.8,98.0 356.3,97.0 357.1,96.0 358.3,95.0 359.5,94.2 360.5,93.6 361.5,93.1 362.5,92.6 363.5,92.1 364.5,91.6 365.5,91.1 366.5,90.7 367.5,90.4 368.5,90.2 369.5,90.2 370.5,90.3 371.5,90.5 372.5,90.6 373.5,90.8 374.5,90.9 375.4,91.0 376.5,91.1 377.5,91.1 378.5,91.1 379.5,91.2 380.5,91.3 381.5,91.5 382.5,91.8 383.5,92.1 384.5,92.4 385.5,92.7 386.5,93.0 387.5,93.2 388.5,93.4 389.5,93.6 390.5,93.8 391.5,94.0 392.5,94.1 393.5,94.2 394.5,94.2 395.5,94.3 396.5,94.4 397.5,94.5 398.5,94.9 399.5,95.4 400.5,96.0 401.5,96.6 402.5,97.1 403.5,97.7 404.5,98.4 405.3,99.0 406.5,99.7 407.5,100.2 408.5,100.6 409.5,100.9 410.5,101.2 411.5,101.6 412.4,102.0 413.5,102.7 414.5,103.4 415.4,104.0 416.5,104.7 417.5,105.2 418.5,105.8 419.5,106.5 420.5,107.4 421.5,108.5 422.5,109.9 423.3,111.0 424.1,112.0 425.0,113.0 426.1,114.0 427.2,115.0 428.3,116.0 429.5,117.0 430.5,117.9 431.5,118.8 432.5,119.8 433.5,120.8 434.5,122.0 435.2,123.0 435.8,124.0 436.3,125.0 436.9,126.0 437.4,127.0 438.0,128.0 438.5,129.0 439.1,130.0 439.7,131.0 440.4,132.0 441.2,133.0 442.0,134.0 442.9,135.0 443.5,135.8 444.3,137.0 444.8,138.0 445.2,139.0 445.5,140.0 445.7,141.0 445.9,142.0 446.0,143.0 446.2,144.0 446.5,144.9 447.0,146.0 447.5,147.0 448.1,148.0 448.8,149.0 449.3,150.0 449.8,151.0 450.2,152.0 450.6,153.0 451.0,154.0 451.4,155.0 451.9,156.0 452.3,157.0 452.7,158.0 453.2,159.0 453.6,160.0 454.0,161.0 454.4,162.0 454.8,163.0 455.1,164.0 455.4,165.0 455.7,166.0 455.9,167.0 456.2,168.0 456.4,169.0 456.6,170.0 456.8,171.0 457.1,172.0 457.4,173.0 457.7,174.0 458.1,175.0 458.5,176.0 458.7,177.0 458.9,178.0 458.8,179.0 458.6,180.0 458.0,181.0 457.5,181.8 456.7,183.0 456.0,184.0 455.5,184.8 454.5,186.0 453.5,186.7 452.5,187.2Z"/>
<path fill-rule="evenodd" fill="#208be8" d="M443.5,181.1 442.5,181.2 441.5,181.2 440.5,181.0 439.5,180.7 438.5,180.4 437.5,180.1 436.5,179.8 435.5,179.6 434.5,179.4 433.5,179.1 432.5,178.8 431.5,178.3 430.5,177.7 429.6,177.0 428.5,176.1 427.5,175.4 426.5,174.8 425.5,174.4 424.5,174.0 423.5,173.7 422.5,173.4 421.5,173.1 420.5,172.8 419.5,172.5 418.5,172.1 417.5,171.7 416.5,171.3 415.5,170.9 414.5,170.5 413.5,170.0 412.5,169.5 411.6,169.0 410.5,168.3 409.5,167.6 408.6,167.0 407.5,166.2 406.5,165.5 405.5,164.6 404.8,164.0 403.5,163.0 402.5,162.2 401.5,161.6 400.5,161.1 399.5,160.6 398.5,160.0 397.5,159.3 396.5,158.4 395.5,157.4 394.5,156.3 393.5,155.1 392.5,154.0 391.6,153.0 390.5,152.0 389.5,151.2 388.5,150.5 387.8,150.0 386.5,149.0 385.5,148.2 384.5,147.3 383.5,146.5 382.5,145.8 381.5,145.2 380.5,144.6 379.5,144.0 378.5,143.2 377.5,142.2 376.6,141.0 376.1,140.0 375.6,139.0 375.1,138.0 374.6,137.0 374.1,136.0 373.5,135.0 372.9,134.0 372.2,133.0 371.6,132.0 371.0,131.0 370.5,130.0 369.9,129.0 369.2,128.0 368.5,127.1 367.6,126.0 366.8,125.0 366.1,124.0 365.5,123.0 364.9,122.0 364.5,121.1 364.0,120.0 363.6,119.0 363.3,118.0 363.0,117.0 362.7,116.0 362.6,115.0 362.4,114.0 362.2,113.0 362.0,112.0 361.7,111.0 361.3,110.0 360.9,109.0 360.4,108.0 359.9,107.0 359.5,106.1 359.2,105.0 359.0,104.0 359.0,103.0 359.2,102.0 359.5,101.1 359.9,100.0 360.3,99.0 360.9,98.0 361.8,97.0 363.2,96.0 364.5,95.3 365.5,94.8 366.5,94.3 367.5,93.9 368.5,93.6 369.5,93.4 370.5,93.3 371.5,93.3 372.5,93.5 373.5,93.7 374.5,93.9 375.5,94.1 376.5,94.3 377.5,94.4 378.5,94.6 379.5,94.7 380.5,94.9 381.5,95.0 382.5,95.3 383.5,95.6 384.5,95.9 385.5,96.2 386.5,96.4 387.5,96.6 388.5,96.9 389.5,97.1 390.5,97.3 391.5,97.6 392.5,98.0 393.5,98.3 394.5,98.7 395.5,99.2 396.5,99.6 397.4,100.0 398.5,100.4 399.5,100.9 400.5,101.3 401.5,101.7 402.5,102.2 403.5,102.8 404.5,103.3 405.5,103.9 406.5,104.4 407.5,104.8 408.5,105.3 409.5,105.8 410.5,106.4 411.3,107.0 412.5,107.8 413.5,108.5 414.5,109.0 415.5,109.4 416.5,109.8 417.5,110.3 418.5,110.9 419.5,111.8 420.5,112.9 421.5,114.0 422.5,114.9 423.5,115.8 424.5,116.7 425.5,117.6 426.5,118.6 427.5,119.5 428.5,120.6 429.5,121.7 430.5,122.9 431.3,124.0 432.0,125.0 432.7,126.0 433.4,127.0 434.1,128.0 434.8,129.0 435.4,130.0 436.0,131.0 436.5,131.8 437.2,133.0 437.9,134.0 438.5,134.8 439.3,136.0 440.0,137.0 440.5,138.0 441.1,139.0 441.5,139.9 442.0,141.0 442.5,142.0 442.8,143.0 443.2,144.0 443.5,144.9 443.9,146.0 444.3,147.0 444.9,148.0 445.5,149.0 446.2,150.0 446.8,151.0 447.4,152.0 447.9,153.0 448.3,154.0 448.7,155.0 449.0,156.0 449.4,157.0 449.8,158.0 450.2,159.0 450.6,160.0 451.0,161.0 451.5,162.0 451.9,163.0 452.2,164.0 452.6,165.0 452.8,166.0 453.1,167.0 453.3,168.0 453.4,169.0 453.6,170.0 453.7,171.0 453.8,172.0 453.9,173.0 454.0,174.0 454.1,175.0 454.1,176.0 453.9,177.0 453.5,177.9 452.5,178.9 451.5,179.4 450.5,179.8 449.5,180.0 448.5,180.2 447.5,180.4 446.5,180.6 445.5,180.8 444.5,181.0 443.5,181.1Z"/>
<path fill-rule="evenodd" fill="#129bdc" d="M444.5,176.2 443.5,176.6 442.5,176.8 441.5,176.9 440.5,176.8 439.5,176.5 438.5,176.3 437.6,176.0 436.5,175.7 435.5,175.5 434.5,175.2 433.5,175.0 432.5,174.7 431.5,174.4 430.5,173.9 429.5,173.4 428.6,173.0 427.5,172.5 426.5,172.1 425.5,171.7 424.5,171.4 423.6,171.0 422.5,170.6 421.5,170.3 420.5,169.9 419.5,169.6 418.5,169.3 417.5,168.9 416.5,168.5 415.5,168.0 414.5,167.4 413.5,166.7 412.7,166.0 411.5,165.0 410.5,164.2 409.5,163.5 408.5,162.7 407.5,162.0 406.5,161.3 405.5,160.6 404.7,160.0 403.5,159.2 402.5,158.6 401.5,158.0 400.5,157.5 399.7,157.0 398.5,156.2 397.5,155.3 396.5,154.3 395.5,153.2 394.5,152.0 393.6,151.0 392.5,150.0 391.5,149.1 390.5,148.4 389.5,147.6 388.7,147.0 387.5,146.0 386.5,145.2 385.5,144.3 384.5,143.4 383.5,142.5 382.5,141.7 381.7,141.0 380.5,140.0 379.5,139.0 378.6,138.0 377.9,137.0 377.2,136.0 376.5,135.0 375.9,134.0 375.3,133.0 374.6,132.0 374.0,131.0 373.5,130.1 372.9,129.0 372.2,128.0 371.6,127.0 370.8,126.0 369.9,125.0 369.1,124.0 368.5,123.2 367.7,122.0 367.2,121.0 366.7,120.0 366.3,119.0 365.9,118.0 365.6,117.0 365.3,116.0 365.1,115.0 364.9,114.0 364.8,113.0 364.6,112.0 364.4,111.0 364.1,110.0 363.7,109.0 363.4,108.0 363.0,107.0 362.7,106.0 362.5,105.1 362.4,104.0 362.5,103.0 362.7,102.0 363.0,101.0 363.5,100.2 364.5,99.0 365.5,98.2 366.5,97.6 367.5,97.1 368.5,96.7 369.5,96.4 370.5,96.2 371.5,96.1 372.5,96.1 373.5,96.3 374.5,96.4 375.5,96.6 376.5,96.8 377.5,97.0 378.5,97.1 379.5,97.3 380.5,97.6 381.5,97.8 382.5,98.2 383.5,98.5 384.5,98.9 385.5,99.2 386.5,99.6 387.5,99.8 388.5,100.1 389.5,100.4 390.5,100.6 391.5,100.9 392.5,101.2 393.5,101.5 394.5,101.9 395.5,102.2 396.5,102.6 397.5,103.0 398.5,103.4 399.5,103.9 400.5,104.4 401.5,104.9 402.5,105.5 403.4,106.0 404.5,106.6 405.5,107.2 406.5,107.7 407.5,108.2 408.5,108.7 409.5,109.2 410.5,109.9 411.5,110.6 412.5,111.4 413.3,112.0 414.5,112.9 415.5,113.6 416.5,114.3 417.4,115.0 418.5,116.0 419.5,116.9 420.5,117.8 421.5,118.7 422.5,119.6 423.5,120.6 424.5,121.6 425.5,122.8 426.4,124.0 427.1,125.0 427.8,126.0 428.5,126.9 429.5,128.0 430.5,129.0 431.5,129.9 432.5,131.0 433.3,132.0 434.0,133.0 434.5,133.8 435.3,135.0 436.0,136.0 436.5,136.8 437.3,138.0 437.9,139.0 438.5,139.9 439.1,141.0 439.6,142.0 440.1,143.0 440.5,143.8 441.0,145.0 441.4,146.0 441.7,147.0 442.1,148.0 442.5,148.9 443.1,150.0 443.7,151.0 444.4,152.0 445.0,153.0 445.5,153.9 446.0,155.0 446.4,156.0 446.7,157.0 447.0,158.0 447.3,159.0 447.6,160.0 447.9,161.0 448.3,162.0 448.7,163.0 449.0,164.0 449.3,165.0 449.6,166.0 449.9,167.0 450.0,168.0 450.1,169.0 450.1,170.0 449.9,171.0 449.5,171.9 448.8,173.0 447.7,174.0 446.5,174.9 445.5,175.6 444.5,176.2Z"/>
<path fill-rule="evenodd" fill="#08acd0" d="M441.5,173.1 440.5,173.2 439.5,173.1 438.5,173.0 437.5,172.8 436.5,172.7 435.5,172.5 434.5,172.3 433.5,172.1 432.5,171.8 431.5,171.5 430.5,171.2 429.5,170.9 428.5,170.6 427.5,170.2 426.5,169.9 425.5,169.5 424.5,169.1 423.5,168.6 422.5,168.2 421.5,167.8 420.5,167.4 419.5,167.1 418.5,166.7 417.5,166.3 416.5,165.8 415.5,165.1 414.5,164.4 413.5,163.6 412.5,162.8 411.6,162.0 410.5,161.2 409.5,160.5 408.7,160.0 407.5,159.2 406.5,158.5 405.5,157.8 404.5,157.1 403.5,156.4 402.5,155.8 401.5,155.2 400.5,154.6 399.7,154.0 398.5,153.0 397.5,152.1 396.5,151.1 395.5,150.1 394.5,149.1 393.5,148.3 392.5,147.5 391.5,146.7 390.6,146.0 389.5,145.1 388.5,144.2 387.5,143.2 386.5,142.2 385.5,141.1 384.5,140.0 383.5,139.0 382.5,138.0 381.5,137.1 380.5,136.1 379.5,135.0 378.6,134.0 377.8,133.0 377.1,132.0 376.5,131.2 375.7,130.0 375.1,129.0 374.5,128.1 373.8,127.0 373.1,126.0 372.5,125.2 371.6,124.0 370.9,123.0 370.2,122.0 369.6,121.0 369.1,120.0 368.6,119.0 368.2,118.0 367.8,117.0 367.5,116.0 367.3,115.0 367.1,114.0 366.9,113.0 366.8,112.0 366.6,111.0 366.5,110.0 366.2,109.0 366.0,108.0 365.8,107.0 365.6,106.0 365.6,105.0 365.6,104.0 365.8,103.0 366.3,102.0 367.1,101.0 368.4,100.0 369.5,99.4 370.5,99.0 371.5,98.8 372.5,98.7 373.5,98.7 374.5,98.7 375.5,98.8 376.5,99.0 377.5,99.1 378.5,99.3 379.5,99.6 380.5,99.9 381.5,100.2 382.5,100.6 383.5,101.0 384.5,101.4 385.5,101.7 386.5,102.1 387.5,102.5 388.5,102.8 389.5,103.0 390.5,103.3 391.5,103.5 392.5,103.7 393.5,103.9 394.5,104.2 395.5,104.6 396.5,105.0 397.5,105.5 398.5,106.0 399.5,106.6 400.5,107.2 401.5,107.8 402.5,108.4 403.5,109.0 404.5,109.5 405.5,110.0 406.5,110.4 407.5,110.9 408.5,111.4 409.4,112.0 410.5,112.9 411.5,114.0 412.4,115.0 413.3,116.0 414.4,117.0 415.5,117.9 416.5,118.7 417.5,119.6 418.5,120.5 419.5,121.4 420.2,122.0 421.3,123.0 422.3,124.0 423.2,125.0 424.1,126.0 424.8,127.0 425.5,127.9 426.3,129.0 427.2,130.0 428.2,131.0 429.3,132.0 430.3,133.0 431.2,134.0 432.0,135.0 432.7,136.0 433.4,137.0 434.2,138.0 434.9,139.0 435.5,139.8 436.3,141.0 436.9,142.0 437.5,142.9 438.1,144.0 438.5,144.8 439.0,146.0 439.4,147.0 439.8,148.0 440.2,149.0 440.6,150.0 441.0,151.0 441.5,151.9 442.1,153.0 442.7,154.0 443.2,155.0 443.6,156.0 444.0,157.0 444.2,158.0 444.5,159.0 444.7,160.0 445.0,161.0 445.3,162.0 445.6,163.0 445.9,164.0 446.2,165.0 446.4,166.0 446.5,167.0 446.5,168.0 446.3,169.0 445.9,170.0 445.2,171.0 444.5,171.7 443.5,172.4 442.5,172.9 441.5,173.1Z"/>
<path fill-rule="evenodd" fill="#0fb8c2" d="M438.5,170.0 437.5,170.0 436.5,170.0 435.5,169.8 434.5,169.7 433.5,169.5 432.5,169.3 431.5,169.1 430.5,168.8 429.5,168.6 428.5,168.4 427.5,168.1 426.5,167.7 425.5,167.3 424.5,166.9 423.5,166.4 422.5,165.9 421.5,165.5 420.5,165.1 419.5,164.7 418.5,164.3 417.5,163.8 416.5,163.2 415.5,162.6 414.8,162.0 413.5,161.1 412.5,160.4 411.5,159.7 410.6,159.0 409.5,158.3 408.5,157.6 407.6,157.0 406.5,156.3 405.5,155.6 404.7,155.0 403.5,154.2 402.5,153.6 401.6,153.0 400.5,152.2 399.5,151.4 398.5,150.5 397.5,149.5 396.5,148.6 395.7,148.0 394.5,147.0 393.5,146.2 392.5,145.4 391.5,144.6 390.8,144.0 389.7,143.0 388.7,142.0 387.8,141.0 386.9,140.0 386.0,139.0 385.1,138.0 384.5,137.3 383.5,136.3 382.5,135.3 381.5,134.3 380.5,133.3 379.5,132.2 378.6,131.0 377.8,130.0 377.1,129.0 376.5,128.0 375.8,127.0 375.2,126.0 374.5,125.0 373.8,124.0 373.1,123.0 372.5,122.0 371.9,121.0 371.4,120.0 370.9,119.0 370.5,118.1 370.1,117.0 369.7,116.0 369.4,115.0 369.2,114.0 369.1,113.0 369.0,112.0 368.9,111.0 368.8,110.0 368.7,109.0 368.7,108.0 368.7,107.0 368.7,106.0 368.9,105.0 369.3,104.0 369.9,103.0 371.1,102.0 372.5,101.4 373.5,101.1 374.5,101.1 375.5,101.1 376.5,101.2 377.5,101.3 378.5,101.5 379.5,101.7 380.5,102.0 381.5,102.3 382.5,102.7 383.4,103.0 384.5,103.4 385.5,103.9 386.5,104.2 387.5,104.6 388.5,104.9 389.5,105.2 390.5,105.4 391.5,105.6 392.5,105.8 393.5,106.1 394.5,106.4 395.5,106.8 396.5,107.3 397.5,107.9 398.5,108.5 399.5,109.2 400.5,109.8 401.5,110.4 402.5,111.0 403.5,111.5 404.5,111.9 405.5,112.4 406.5,112.8 407.5,113.4 408.4,114.0 409.4,115.0 410.3,116.0 411.2,117.0 412.2,118.0 413.3,119.0 414.5,120.0 415.5,120.8 416.5,121.7 417.5,122.5 418.5,123.4 419.2,124.0 420.3,125.0 421.3,126.0 422.2,127.0 423.0,128.0 423.8,129.0 424.5,130.0 425.3,131.0 426.2,132.0 427.1,133.0 428.1,134.0 428.9,135.0 429.7,136.0 430.5,137.0 431.3,138.0 432.1,139.0 432.9,140.0 433.7,141.0 434.5,142.0 435.1,143.0 435.7,144.0 436.3,145.0 436.8,146.0 437.3,147.0 437.7,148.0 438.1,149.0 438.5,150.0 438.9,151.0 439.4,152.0 439.8,153.0 440.3,154.0 440.7,155.0 441.1,156.0 441.4,157.0 441.7,158.0 441.9,159.0 442.1,160.0 442.4,161.0 442.6,162.0 442.9,163.0 443.1,164.0 443.3,165.0 443.3,166.0 443.1,167.0 442.7,168.0 441.8,169.0 440.5,169.6 439.5,169.9 438.5,170.0Z"/>
<path fill-rule="evenodd" fill="#28beaa" d="M438.5,166.3 437.5,166.7 436.5,166.8 435.5,166.9 434.5,166.8 433.5,166.7 432.5,166.5 431.5,166.4 430.5,166.3 429.5,166.2 428.5,166.0 427.5,165.8 426.5,165.5 425.5,165.1 424.5,164.6 423.5,164.2 422.5,163.8 421.5,163.4 420.6,163.0 419.5,162.6 418.5,162.1 417.5,161.6 416.5,161.0 415.5,160.4 414.5,159.7 413.5,159.1 412.5,158.4 411.5,157.8 410.5,157.1 409.5,156.4 408.5,155.8 407.5,155.1 406.5,154.4 405.5,153.8 404.5,153.1 403.5,152.4 402.5,151.7 401.6,151.0 400.5,150.1 399.5,149.2 398.5,148.4 397.5,147.5 396.5,146.7 395.6,146.0 394.5,145.2 393.5,144.3 392.5,143.5 391.5,142.6 390.5,141.6 389.5,140.6 388.5,139.5 387.5,138.4 386.5,137.2 385.5,136.0 384.6,135.0 383.6,134.0 382.6,133.0 381.7,132.0 380.8,131.0 379.9,130.0 379.2,129.0 378.5,128.0 377.8,127.0 377.1,126.0 376.5,125.1 375.8,124.0 375.2,123.0 374.6,122.0 374.1,121.0 373.7,120.0 373.2,119.0 372.8,118.0 372.5,117.1 372.1,116.0 371.8,115.0 371.6,114.0 371.4,113.0 371.3,112.0 371.3,111.0 371.4,110.0 371.5,109.0 371.6,108.0 371.9,107.0 372.3,106.0 372.9,105.0 374.3,104.0 375.5,103.7 376.5,103.6 377.5,103.6 378.5,103.7 379.5,103.9 380.5,104.1 381.5,104.4 382.5,104.7 383.5,105.0 384.5,105.4 385.5,105.7 386.5,106.1 387.5,106.5 388.5,106.8 389.5,107.1 390.5,107.3 391.5,107.5 392.5,107.8 393.5,108.1 394.5,108.5 395.4,109.0 396.5,109.6 397.5,110.3 398.5,110.9 399.5,111.5 400.3,112.0 401.5,112.6 402.5,113.1 403.5,113.6 404.4,114.0 405.5,114.5 406.3,115.0 407.5,115.8 408.5,116.8 409.5,117.8 410.5,118.8 411.5,119.8 412.5,120.6 413.5,121.4 414.2,122.0 415.4,123.0 416.5,123.9 417.5,124.7 418.5,125.6 419.5,126.5 420.5,127.6 421.5,128.8 422.5,130.0 423.2,131.0 424.1,132.0 424.9,133.0 425.5,133.7 426.5,134.9 427.3,136.0 428.1,137.0 428.8,138.0 429.5,138.9 430.4,140.0 431.3,141.0 432.2,142.0 432.9,143.0 433.5,143.9 434.1,145.0 434.7,146.0 435.2,147.0 435.7,148.0 436.1,149.0 436.5,149.9 437.0,151.0 437.4,152.0 437.8,153.0 438.2,154.0 438.5,154.9 438.8,156.0 439.0,157.0 439.1,158.0 439.3,159.0 439.4,160.0 439.6,161.0 439.7,162.0 439.9,163.0 439.9,164.0 439.7,165.0 439.0,166.0Z"/>
<path fill-rule="evenodd" fill="#4bc18c" d="M433.5,163.2 432.5,163.4 431.5,163.5 430.5,163.5 429.5,163.5 428.5,163.5 427.5,163.4 426.5,163.1 425.5,162.8 424.5,162.5 423.5,162.1 422.5,161.8 421.5,161.4 420.5,161.0 419.5,160.6 418.5,160.1 417.5,159.6 416.5,159.1 415.5,158.6 414.6,158.0 413.5,157.4 412.5,156.7 411.5,156.1 410.5,155.5 409.5,154.8 408.5,154.2 407.5,153.5 406.7,153.0 405.5,152.2 404.5,151.5 403.5,150.7 402.5,150.0 401.5,149.1 400.5,148.3 399.5,147.4 398.5,146.6 397.7,146.0 396.5,145.0 395.5,144.2 394.5,143.4 393.5,142.5 392.5,141.6 391.5,140.6 390.5,139.6 389.5,138.6 388.5,137.4 387.5,136.2 386.5,135.0 385.7,134.0 384.8,133.0 383.9,132.0 383.0,131.0 382.1,130.0 381.5,129.3 380.6,128.0 379.9,127.0 379.2,126.0 378.5,125.0 377.8,124.0 377.2,123.0 376.6,122.0 376.1,121.0 375.7,120.0 375.3,119.0 375.0,118.0 374.7,117.0 374.4,116.0 374.2,115.0 374.0,114.0 373.9,113.0 374.0,112.0 374.1,111.0 374.3,110.0 374.7,109.0 375.3,108.0 376.4,107.0 377.5,106.5 378.5,106.3 379.5,106.3 380.5,106.3 381.5,106.4 382.5,106.6 383.5,106.9 384.5,107.2 385.5,107.5 386.5,107.9 387.5,108.2 388.5,108.5 389.5,108.8 390.5,109.1 391.5,109.4 392.5,109.7 393.5,110.1 394.5,110.6 395.5,111.2 396.5,111.8 397.5,112.4 398.5,113.0 399.5,113.5 400.4,114.0 401.5,114.5 402.5,115.0 403.5,115.5 404.5,116.0 405.5,116.6 406.5,117.3 407.4,118.0 408.4,119.0 409.5,120.0 410.5,120.9 411.5,121.8 412.5,122.6 413.5,123.3 414.3,124.0 415.5,124.9 416.5,125.7 417.5,126.6 418.5,127.6 419.5,128.7 420.5,129.8 421.4,131.0 422.2,132.0 423.0,133.0 423.8,134.0 424.5,134.9 425.4,136.0 426.1,137.0 426.8,138.0 427.5,138.9 428.3,140.0 429.1,141.0 430.0,142.0 430.8,143.0 431.5,144.0 432.2,145.0 432.7,146.0 433.3,147.0 433.8,148.0 434.2,149.0 434.7,150.0 435.1,151.0 435.4,152.0 435.8,153.0 436.1,154.0 436.4,155.0 436.5,156.0 436.6,157.0 436.6,158.0 436.4,159.0 436.3,160.0 435.9,161.0 435.5,161.8 434.5,162.8 433.5,163.2Z"/>
<path fill-rule="evenodd" fill="#73c26e" d="M428.5,161.1 427.5,161.0 426.5,160.9 425.5,160.7 424.5,160.5 423.5,160.2 422.5,159.8 421.5,159.5 420.5,159.1 419.5,158.7 418.5,158.3 417.5,157.9 416.5,157.4 415.7,157.0 414.5,156.4 413.5,155.8 412.5,155.2 411.5,154.6 410.6,154.0 409.5,153.4 408.5,152.7 407.5,152.1 406.5,151.4 405.5,150.7 404.6,150.0 403.5,149.2 402.5,148.3 401.5,147.4 400.5,146.6 399.8,146.0 398.5,145.0 397.5,144.2 396.5,143.4 395.5,142.5 394.5,141.6 393.8,141.0 392.8,140.0 391.7,139.0 390.8,138.0 389.9,137.0 389.0,136.0 388.2,135.0 387.5,134.1 386.7,133.0 385.8,132.0 385.0,131.0 384.2,130.0 383.5,129.2 382.6,128.0 381.9,127.0 381.2,126.0 380.6,125.0 379.9,124.0 379.2,123.0 378.6,122.0 378.0,121.0 377.6,120.0 377.2,119.0 376.9,118.0 376.7,117.0 376.6,116.0 376.5,115.0 376.5,114.0 376.6,113.0 376.9,112.0 377.4,111.0 378.3,110.0 379.5,109.2 380.5,108.8 381.5,108.7 382.5,108.7 383.5,108.8 384.5,109.0 385.5,109.3 386.5,109.7 387.5,110.0 388.5,110.3 389.5,110.6 390.5,110.8 391.5,111.1 392.5,111.5 393.5,112.0 394.5,112.5 395.4,113.0 396.5,113.6 397.5,114.2 398.5,114.8 399.5,115.3 400.5,115.8 401.5,116.2 402.5,116.7 403.5,117.2 404.5,117.8 405.5,118.5 406.5,119.3 407.3,120.0 408.4,121.0 409.5,121.9 410.5,122.8 411.5,123.5 412.5,124.3 413.4,125.0 414.5,125.9 415.5,126.7 416.5,127.6 417.5,128.5 418.5,129.6 419.5,130.8 420.5,132.0 421.3,133.0 422.1,134.0 422.9,135.0 423.5,135.8 424.4,137.0 425.2,138.0 425.8,139.0 426.5,140.0 427.2,141.0 428.0,142.0 428.8,143.0 429.5,143.9 430.2,145.0 430.8,146.0 431.4,147.0 431.9,148.0 432.3,149.0 432.7,150.0 433.1,151.0 433.5,152.0 433.8,153.0 434.0,154.0 434.2,155.0 434.2,156.0 434.1,157.0 433.8,158.0 433.3,159.0 432.5,159.9 431.5,160.5 430.5,160.8 429.5,161.0 428.5,161.1Z"/>
<path fill-rule="evenodd" fill="#a0bf55" d="M429.5,158.2 428.5,158.5 427.5,158.7 426.5,158.7 425.5,158.6 424.5,158.5 423.5,158.2 422.5,157.9 421.5,157.6 420.5,157.3 419.5,156.9 418.5,156.6 417.5,156.2 416.5,155.8 415.5,155.4 414.5,154.9 413.5,154.3 412.5,153.7 411.5,153.1 410.5,152.6 409.6,152.0 408.5,151.3 407.5,150.7 406.5,150.0 405.5,149.2 404.5,148.4 403.5,147.6 402.5,146.7 401.7,146.0 400.5,145.0 399.5,144.2 398.5,143.5 397.5,142.6 396.8,142.0 395.7,141.0 394.6,140.0 393.6,139.0 392.6,138.0 391.6,137.0 390.7,136.0 389.9,135.0 389.1,134.0 388.5,133.2 387.6,132.0 386.9,131.0 386.1,130.0 385.5,129.2 384.6,128.0 383.9,127.0 383.2,126.0 382.6,125.0 381.9,124.0 381.3,123.0 380.6,122.0 380.1,121.0 379.5,120.0 379.2,119.0 378.9,118.0 378.7,117.0 378.7,116.0 378.8,115.0 379.1,114.0 379.5,113.1 380.4,112.0 381.5,111.3 382.5,111.0 383.5,111.0 384.5,111.1 385.5,111.3 386.5,111.6 387.5,111.9 388.5,112.1 389.5,112.4 390.5,112.6 391.5,112.9 392.5,113.3 393.5,113.7 394.5,114.2 395.5,114.8 396.5,115.3 397.5,115.9 398.5,116.4 399.5,116.9 400.5,117.4 401.5,117.9 402.5,118.4 403.5,119.0 404.5,119.6 405.5,120.4 406.2,121.0 407.4,122.0 408.5,122.9 409.5,123.7 410.5,124.4 411.2,125.0 412.5,126.0 413.5,126.7 414.5,127.6 415.5,128.5 416.5,129.4 417.5,130.5 418.5,131.7 419.5,132.9 420.4,134.0 421.2,135.0 422.0,136.0 422.8,137.0 423.5,137.9 424.3,139.0 424.9,140.0 425.5,140.8 426.3,142.0 427.0,143.0 427.7,144.0 428.3,145.0 428.9,146.0 429.4,147.0 429.9,148.0 430.3,149.0 430.7,150.0 431.1,151.0 431.4,152.0 431.6,153.0 431.7,154.0 431.7,155.0 431.5,156.0 431.0,157.0 429.9,158.0Z"/>
<path fill-rule="evenodd" fill="#cdba3e" d="M426.5,156.2 425.5,156.3 424.5,156.3 423.5,156.2 422.5,156.0 421.5,155.7 420.5,155.5 419.5,155.2 418.5,154.9 417.5,154.6 416.5,154.3 415.5,153.8 414.5,153.4 413.5,152.8 412.5,152.3 411.5,151.7 410.5,151.2 409.5,150.6 408.6,150.0 407.5,149.2 406.5,148.5 405.5,147.7 404.7,147.0 403.5,146.0 402.5,145.1 401.5,144.3 400.5,143.5 399.5,142.7 398.6,142.0 397.5,141.0 396.5,140.1 395.5,139.1 394.5,138.1 393.5,137.2 392.5,136.1 391.5,135.0 390.7,134.0 389.9,133.0 389.2,132.0 388.5,131.0 387.9,130.0 387.2,129.0 386.5,128.0 385.8,127.0 385.2,126.0 384.5,125.0 384.0,124.0 383.5,123.2 382.9,122.0 382.3,121.0 381.8,120.0 381.5,119.1 381.2,118.0 381.2,117.0 381.3,116.0 381.8,115.0 382.5,114.3 383.5,113.8 384.5,113.7 385.5,113.7 386.5,113.8 387.5,114.0 388.5,114.1 389.5,114.3 390.5,114.5 391.5,114.7 392.4,115.0 393.5,115.4 394.5,115.9 395.5,116.4 396.5,117.0 397.5,117.5 398.5,118.0 399.5,118.5 400.5,119.0 401.5,119.6 402.5,120.1 403.5,120.8 404.5,121.5 405.5,122.2 406.5,123.0 407.5,123.8 408.5,124.5 409.5,125.3 410.5,126.0 411.5,126.8 412.5,127.6 413.5,128.5 414.5,129.4 415.2,130.0 416.1,131.0 417.0,132.0 417.8,133.0 418.5,133.9 419.4,135.0 420.2,136.0 421.1,137.0 421.9,138.0 422.5,138.8 423.4,140.0 424.1,141.0 424.7,142.0 425.3,143.0 425.9,144.0 426.5,145.0 427.0,146.0 427.5,147.0 427.8,148.0 428.2,149.0 428.5,150.0 428.8,151.0 429.0,152.0 429.1,153.0 429.0,154.0 428.5,155.0 427.5,155.8 426.5,156.2Z"/>
<path fill-rule="evenodd" fill="#eeb637" d="M424.5,153.5 423.5,153.8 422.5,153.8 421.5,153.7 420.5,153.6 419.5,153.4 418.5,153.2 417.6,153.0 416.5,152.7 415.5,152.3 414.5,151.8 413.5,151.3 412.5,150.8 411.5,150.3 410.5,149.7 409.5,149.1 408.5,148.4 407.5,147.7 406.6,147.0 405.5,146.1 404.5,145.2 403.5,144.3 402.5,143.5 401.5,142.7 400.5,142.0 399.5,141.2 398.5,140.3 397.5,139.4 396.5,138.4 395.5,137.4 394.5,136.4 393.5,135.3 392.5,134.2 391.6,133.0 390.9,132.0 390.2,131.0 389.6,130.0 389.0,129.0 388.5,128.2 387.8,127.0 387.1,126.0 386.6,125.0 386.0,124.0 385.6,123.0 385.2,122.0 384.9,121.0 384.7,120.0 384.6,119.0 384.8,118.0 385.5,117.2 386.5,116.8 387.5,116.5 388.5,116.4 389.5,116.4 390.5,116.5 391.5,116.6 392.5,116.9 393.5,117.2 394.5,117.6 395.5,118.1 396.5,118.6 397.3,119.0 398.5,119.6 399.5,120.2 400.5,120.7 401.5,121.3 402.5,121.9 403.5,122.6 404.5,123.2 405.5,124.0 406.5,124.7 407.5,125.4 408.4,126.0 409.5,126.8 410.5,127.6 411.5,128.5 412.5,129.3 413.2,130.0 414.2,131.0 415.2,132.0 416.0,133.0 416.8,134.0 417.5,134.9 418.4,136.0 419.2,137.0 420.1,138.0 420.9,139.0 421.5,139.7 422.4,141.0 423.1,142.0 423.7,143.0 424.2,144.0 424.7,145.0 425.1,146.0 425.5,147.0 425.7,148.0 425.9,149.0 426.1,150.0 426.1,151.0 426.0,152.0 425.5,152.9 424.5,153.5Z"/>
<path fill-rule="evenodd" fill="#fabe30" d="M421.5,151.2 420.5,151.3 419.5,151.4 418.5,151.3 417.5,151.2 416.5,150.9 415.5,150.6 414.5,150.2 413.5,149.7 412.5,149.2 411.5,148.7 410.5,148.1 409.5,147.5 408.5,146.8 407.5,146.0 406.5,145.2 405.5,144.3 404.5,143.5 403.5,142.7 402.6,142.0 401.5,141.2 400.5,140.4 399.5,139.6 398.5,138.7 397.8,138.0 396.9,137.0 395.9,136.0 395.0,135.0 394.1,134.0 393.5,133.3 392.5,132.0 391.9,131.0 391.3,130.0 390.8,129.0 390.3,128.0 389.8,127.0 389.3,126.0 388.9,125.0 388.5,124.1 388.2,123.0 388.0,122.0 388.1,121.0 388.5,120.2 389.5,119.4 390.5,119.0 391.5,118.9 392.5,119.0 393.5,119.2 394.5,119.5 395.5,119.9 396.5,120.4 397.5,120.9 398.5,121.4 399.5,121.9 400.5,122.5 401.3,123.0 402.5,123.7 403.5,124.3 404.5,125.0 405.5,125.6 406.5,126.3 407.5,127.0 408.5,127.7 409.5,128.5 410.5,129.3 411.2,130.0 412.3,131.0 413.2,132.0 414.1,133.0 414.9,134.0 415.5,134.7 416.5,136.0 417.3,137.0 418.1,138.0 419.0,139.0 419.8,140.0 420.5,140.9 421.2,142.0 421.8,143.0 422.3,144.0 422.7,145.0 423.1,146.0 423.3,147.0 423.4,148.0 423.4,149.0 423.0,150.0 422.0,151.0Z"/>
<path fill-rule="evenodd" fill="#facf2a" d="M419.5,148.2 418.5,148.6 417.5,148.7 416.5,148.6 415.5,148.4 414.5,148.1 413.5,147.7 412.5,147.3 411.5,146.8 410.5,146.2 409.5,145.6 408.7,145.0 407.5,144.1 406.5,143.3 405.5,142.5 404.5,141.7 403.5,141.0 402.5,140.3 401.5,139.5 400.5,138.7 399.7,138.0 398.7,137.0 397.8,136.0 396.9,135.0 396.0,134.0 395.1,133.0 394.5,132.1 393.8,131.0 393.2,130.0 392.8,129.0 392.4,128.0 392.1,127.0 391.8,126.0 391.6,125.0 391.6,124.0 391.9,123.0 393.5,122.0 394.5,122.0 395.5,122.2 396.5,122.6 397.5,123.0 398.5,123.5 399.5,124.0 400.5,124.5 401.4,125.0 402.5,125.6 403.5,126.2 404.5,126.8 405.5,127.4 406.4,128.0 407.5,128.7 408.5,129.5 409.5,130.3 410.2,131.0 411.2,132.0 412.1,133.0 412.9,134.0 413.5,134.8 414.5,136.0 415.2,137.0 416.0,138.0 416.8,139.0 417.5,139.8 418.3,141.0 419.0,142.0 419.5,143.0 419.9,144.0 420.2,145.0 420.3,146.0 420.3,147.0 419.7,148.0Z"/>
<path fill-rule="evenodd" fill="#f9e123" d="M414.5,145.2 413.5,145.1 412.5,144.8 411.5,144.4 410.7,144.0 409.5,143.2 408.5,142.5 407.8,142.0 406.5,141.1 405.5,140.4 404.5,139.8 403.5,139.1 402.5,138.4 401.5,137.6 400.8,137.0 399.8,136.0 399.0,135.0 398.1,134.0 397.5,133.2 396.6,132.0 396.0,131.0 395.6,130.0 395.3,129.0 395.2,128.0 395.4,127.0 396.4,126.0 397.5,125.9 398.5,126.2 399.5,126.5 400.5,126.9 401.5,127.4 402.5,127.9 403.5,128.4 404.5,128.9 405.5,129.4 406.5,130.0 407.5,130.7 408.5,131.6 409.5,132.6 410.5,133.8 411.4,135.0 412.1,136.0 412.8,137.0 413.5,137.9 414.3,139.0 415.0,140.0 415.5,140.8 416.1,142.0 416.3,143.0 416.2,144.0 415.5,144.9 414.5,145.2Z"/>
<path fill-rule="evenodd" fill="#f8f21e" d="M408.5,138.7 407.5,138.6 406.5,138.3 405.5,137.9 404.5,137.4 403.5,136.7 402.6,136.0 401.7,135.0 401.0,134.0 400.5,133.0 400.3,132.0 400.9,131.0 402.5,130.9 403.5,131.2 404.5,131.5 405.5,131.9 406.5,132.6 407.5,133.6 408.5,134.9 409.0,136.0 409.4,137.0 409.4,138.0 408.5,138.7Z"/>
<path d="M325.9,15.0V211.0M286.5,54.2H483.5M365.3,15.0V211.0M286.5,93.4H483.5M404.7,15.0V211.0M286.5,132.6H483.5M444.1,15.0V211.0M286.5,171.8H483.5" stroke="#000" stroke-opacity="0.13" stroke-width="1" fill="none"/>
<line x1="286.5" y1="15.0" x2="483.5" y2="211.0" stroke="#1a1a1a" stroke-width="1.05"/>
</g>
<path d="M286.5,15.0v2.2M286.5,211.0v-2.2M286.5,15.0h2.2M483.5,15.0h-2.2M294.4,15.0v1.6M294.4,211.0v-1.6M286.5,22.8h1.6M483.5,22.8h-1.6M302.3,15.0v1.6M302.3,211.0v-1.6M286.5,30.7h1.6M483.5,30.7h-1.6M310.1,15.0v1.6M310.1,211.0v-1.6M286.5,38.5h1.6M483.5,38.5h-1.6M318.0,15.0v1.6M318.0,211.0v-1.6M286.5,46.4h1.6M483.5,46.4h-1.6M325.9,15.0v2.2M325.9,211.0v-2.2M286.5,54.2h2.2M483.5,54.2h-2.2M333.8,15.0v1.6M333.8,211.0v-1.6M286.5,62.0h1.6M483.5,62.0h-1.6M341.7,15.0v1.6M341.7,211.0v-1.6M286.5,69.9h1.6M483.5,69.9h-1.6M349.5,15.0v1.6M349.5,211.0v-1.6M286.5,77.7h1.6M483.5,77.7h-1.6M357.4,15.0v1.6M357.4,211.0v-1.6M286.5,85.6h1.6M483.5,85.6h-1.6M365.3,15.0v2.2M365.3,211.0v-2.2M286.5,93.4h2.2M483.5,93.4h-2.2M373.2,15.0v1.6M373.2,211.0v-1.6M286.5,101.2h1.6M483.5,101.2h-1.6M381.1,15.0v1.6M381.1,211.0v-1.6M286.5,109.1h1.6M483.5,109.1h-1.6M388.9,15.0v1.6M388.9,211.0v-1.6M286.5,116.9h1.6M483.5,116.9h-1.6M396.8,15.0v1.6M396.8,211.0v-1.6M286.5,124.8h1.6M483.5,124.8h-1.6M404.7,15.0v2.2M404.7,211.0v-2.2M286.5,132.6h2.2M483.5,132.6h-2.2M412.6,15.0v1.6M412.6,211.0v-1.6M286.5,140.4h1.6M483.5,140.4h-1.6M420.5,15.0v1.6M420.5,211.0v-1.6M286.5,148.3h1.6M483.5,148.3h-1.6M428.3,15.0v1.6M428.3,211.0v-1.6M286.5,156.1h1.6M483.5,156.1h-1.6M436.2,15.0v1.6M436.2,211.0v-1.6M286.5,164.0h1.6M483.5,164.0h-1.6M444.1,15.0v2.2M444.1,211.0v-2.2M286.5,171.8h2.2M483.5,171.8h-2.2M452.0,15.0v1.6M452.0,211.0v-1.6M286.5,179.6h1.6M483.5,179.6h-1.6M459.9,15.0v1.6M459.9,211.0v-1.6M286.5,187.5h1.6M483.5,187.5h-1.6M467.7,15.0v1.6M467.7,211.0v-1.6M286.5,195.3h1.6M483.5,195.3h-1.6M475.6,15.0v1.6M475.6,211.0v-1.6M286.5,203.2h1.6M483.5,203.2h-1.6M483.5,15.0v2.2M483.5,211.0v-2.2M286.5,211.0h2.2M483.5,211.0h-2.2" stroke="#444" stroke-width="0.9" fill="none"/>
<rect x="286.5" y="15.0" width="197.0" height="196.0" fill="none" stroke="#4a4a4a" stroke-width="1.1"/>
<text x="384.7" y="30.3" font-size="14.2" text-anchor="middle" font-weight="normal" font-style="normal" fill="#000" >Experiment</text>
<text x="282.3" y="58.8" font-size="13" text-anchor="end" font-weight="normal" font-style="normal" fill="#000" >-2.04</text>
<text x="282.3" y="98.0" font-size="13" text-anchor="end" font-weight="normal" font-style="normal" fill="#000" >-2.05</text>
<text x="282.3" y="137.2" font-size="13" text-anchor="end" font-weight="normal" font-style="normal" fill="#000" >-2.06</text>
<text x="282.3" y="176.4" font-size="13" text-anchor="end" font-weight="normal" font-style="normal" fill="#000" >-2.07</text>
<text transform="translate(245.2,111.3) rotate(-90)" font-size="14" text-anchor="middle"><tspan font-style="italic">ħω</tspan><tspan font-size="7.5" dy="3.8">1</tspan><tspan dy="-3.8"> (eV)</tspan></text>
<clipPath id="clipe"><rect x="487.5" y="15.0" width="197.0" height="196.0"/></clipPath>
<g clip-path="url(#clipe)">
<rect x="487.5" y="15.0" width="197.0" height="196.0" fill="#fff"/>
<path fill-rule="evenodd" fill="#dbe7fc" d="M684.5,211.0 683.5,211.0 682.5,211.0 681.5,211.0 680.5,211.0 679.5,211.0 678.5,211.0 677.5,211.0 676.5,211.0 675.5,211.0 674.5,211.0 673.5,211.0 672.5,211.0 671.5,211.0 670.5,211.0 669.5,211.0 668.5,211.0 667.5,211.0 666.5,211.0 665.5,211.0 664.5,211.0 663.5,211.0 662.5,211.0 661.5,211.0 660.5,211.0 659.5,211.0 658.5,211.0 657.5,211.0 656.5,211.0 655.5,211.0 654.5,211.0 653.5,211.0 652.5,211.0 651.5,211.0 650.5,211.0 649.5,211.0 648.5,211.0 647.5,211.0 646.5,211.0 645.5,211.0 644.5,211.0 643.5,211.0 642.5,211.0 641.5,211.0 640.5,211.0 639.5,211.0 638.5,211.0 637.5,211.0 636.5,211.0 635.5,211.0 634.5,211.0 633.5,211.0 632.5,211.0 631.5,211.0 630.5,211.0 629.5,211.0 628.5,211.0 627.5,211.0 626.5,211.0 625.5,211.0 624.5,211.0 623.5,211.0 622.5,211.0 621.5,211.0 620.5,211.0 619.5,211.0 618.5,211.0 617.5,211.0 616.5,211.0 615.5,211.0 614.5,211.0 613.5,211.0 612.5,211.0 611.5,211.0 610.5,211.0 609.5,211.0 608.5,211.0 607.5,211.0 606.5,211.0 605.5,211.0 604.5,211.0 603.5,211.0 602.5,211.0 601.5,211.0 600.5,211.0 599.5,211.0 598.5,211.0 597.5,211.0 596.5,211.0 595.5,211.0 594.5,211.0 593.5,211.0 592.5,211.0 591.5,211.0 590.5,211.0 589.5,211.0 588.5,211.0 587.5,211.0 586.5,211.0 585.5,211.0 584.5,211.0 583.5,211.0 582.5,211.0 581.5,211.0 580.5,211.0 579.5,211.0 578.5,211.0 577.5,211.0 576.5,211.0 575.5,211.0 574.5,211.0 573.5,211.0 572.5,211.0 571.5,211.0 570.5,211.0 569.5,211.0 568.5,211.0 567.5,211.0 566.5,211.0 565.5,211.0 564.5,211.0 563.5,211.0 562.5,211.0 561.5,211.0 560.5,211.0 559.5,211.0 558.5,211.0 557.5,211.0 556.5,211.0 555.5,211.0 554.5,211.0 553.5,211.0 552.5,211.0 551.5,211.0 550.5,211.0 549.5,211.0 548.5,211.0 547.5,211.0 546.5,211.0 545.5,211.0 544.5,211.0 543.5,211.0 542.5,211.0 541.5,211.0 540.5,211.0 539.5,211.0 538.5,211.0 537.5,211.0 536.5,211.0 535.5,211.0 534.5,211.0 533.5,211.0 532.5,211.0 531.5,211.0 530.5,211.0 529.5,211.0 528.5,211.0 527.5,211.0 526.5,211.0 525.5,211.0 524.5,211.0 524.2,210.0 524.3,209.0 524.3,208.0 524.3,207.0 524.3,206.0 524.3,205.0 524.4,204.0 524.4,203.0 524.4,202.0 524.4,201.0 524.5,200.0 524.5,199.0 524.5,198.0 524.5,197.0 524.6,196.0 524.6,195.0 524.6,194.0 524.7,193.0 524.7,192.0 524.7,191.0 524.7,190.0 524.8,189.0 524.8,188.0 524.8,187.0 524.8,186.0 524.8,185.0 524.8,184.0 524.8,183.0 524.9,182.0 524.9,181.0 524.9,180.0 524.9,179.0 524.9,178.0 524.9,177.0 524.9,176.0 524.9,175.0 524.9,174.0 524.9,173.0 524.9,172.0 524.9,171.0 524.9,170.0 524.9,169.0 524.9,168.0 524.9,167.0 524.9,166.0 524.9,165.0 524.9,164.0 524.9,163.0 524.9,162.0 524.9,161.0 524.9,160.0 524.9,159.0 524.9,158.0 524.9,157.0 524.9,156.0 524.9,155.0 524.9,154.0 524.9,153.0 524.9,152.0 524.9,151.0 524.9,150.0 524.9,149.0 524.9,148.0 524.9,147.0 524.9,146.0 524.9,145.0 524.9,144.0 524.9,143.0 524.9,142.0 524.9,141.0 524.9,140.0 524.9,139.0 524.9,138.0 524.9,137.0 524.9,136.0 524.9,135.0 524.9,134.0 524.9,133.0 524.9,132.0 524.9,131.0 524.9,130.0 524.9,129.0 524.9,128.0 524.9,127.0 524.9,126.0 524.9,125.0 524.9,124.0 524.9,123.0 524.9,122.0 524.9,121.0 524.9,120.0 524.9,119.0 524.9,118.0 524.9,117.0 524.9,116.0 524.9,115.0 524.9,114.0 524.9,113.0 524.9,112.0 525.0,111.0 525.0,110.0 525.0,109.0 525.0,108.0 525.1,107.0 525.1,106.0 525.2,105.0 525.2,104.0 525.3,103.0 525.4,102.0 525.5,101.0 525.7,100.0 526.0,99.0 526.2,98.0 526.5,97.1 527.0,96.0 527.4,95.0 528.0,94.0 528.7,93.0 529.4,92.0 530.3,91.0 531.1,90.0 532.0,89.0 532.8,88.0 533.5,87.1 534.4,86.0 535.3,85.0 536.2,84.0 537.1,83.0 538.2,82.0 539.4,81.0 540.5,80.0 541.5,79.0 542.2,78.0 542.7,77.0 543.2,76.0 543.7,75.0 544.0,74.0 544.4,73.0 544.6,72.0 544.9,71.0 545.1,70.0 545.3,69.0 545.4,68.0 545.6,67.0 545.7,66.0 545.8,65.0 545.8,64.0 545.9,63.0 546.0,62.0 546.0,61.0 546.0,60.0 546.1,59.0 546.1,58.0 546.1,57.0 546.2,56.0 546.2,55.0 546.2,54.0 546.2,53.0 546.2,52.0 546.2,51.0 546.2,50.0 546.2,49.0 546.3,48.0 546.3,47.0 546.3,46.0 546.3,45.0 546.3,44.0 546.3,43.0 546.3,42.0 546.3,41.0 546.3,40.0 546.3,39.0 546.3,38.0 546.3,37.0 546.3,36.0 546.3,35.0 546.3,34.0 546.3,33.0 546.3,32.0 546.3,31.0 546.3,30.0 546.3,29.0 546.3,28.0 546.3,27.0 546.3,26.0 546.3,25.0 546.3,24.0 546.3,23.0 546.3,22.0 546.3,21.0 546.3,20.0 546.3,19.0 546.3,18.0 546.3,17.0 546.3,16.0 546.3,15.0 547.5,15.0 548.5,15.0 549.5,15.0 550.5,15.0 551.5,15.0 552.5,15.0 553.5,15.0 554.5,15.0 555.5,15.0 556.5,15.0 557.5,15.0 558.5,15.0 559.5,15.0 560.5,15.0 561.5,15.0 562.5,15.0 563.5,15.0 564.5,15.0 565.5,15.0 566.5,15.0 567.5,15.0 568.5,15.0 569.5,15.0 570.5,15.0 571.5,15.0 572.5,15.0 573.5,15.0 574.5,15.0 575.5,15.0 576.5,15.0 577.5,15.0 578.5,15.0 579.5,15.0 580.5,15.0 581.5,15.0 582.5,15.0 583.5,15.0 584.5,15.0 585.5,15.0 586.5,15.0 587.5,15.0 588.5,15.0 589.5,15.0 590.5,15.0 591.5,15.0 592.5,15.0 593.5,15.0 594.5,15.0 595.5,15.0 596.5,15.0 597.5,15.0 598.5,15.0 599.5,15.0 600.5,15.0 601.5,15.0 602.5,15.0 603.5,15.0 604.5,15.0 605.5,15.0 606.5,15.0 607.5,15.0 608.5,15.0 609.5,15.0 610.5,15.0 611.5,15.0 612.5,15.0 613.5,15.0 614.5,15.0 615.5,15.0 616.5,15.0 617.5,15.0 618.5,15.0 619.5,15.0 620.5,15.0 621.5,15.0 622.5,15.0 623.5,15.0 624.5,15.0 625.5,15.0 626.5,15.0 627.5,15.0 628.5,15.0 629.5,15.0 630.5,15.0 631.5,15.0 632.5,15.0 633.5,15.0 634.5,15.0 635.5,15.0 636.5,15.0 637.5,15.0 638.5,15.0 639.5,15.0 640.5,15.0 641.5,15.0 642.5,15.0 643.5,15.0 644.5,15.0 645.5,15.0 646.5,15.0 647.5,15.0 648.5,15.0 649.5,15.0 650.5,15.0 651.5,15.0 652.5,15.0 653.5,15.0 654.5,15.0 655.5,15.0 656.5,15.0 657.5,15.0 658.5,15.0 659.5,15.0 660.5,15.0 661.5,15.0 662.5,15.0 663.5,15.0 664.5,15.0 665.5,15.0 666.5,15.0 667.5,15.0 668.5,15.0 669.5,15.0 670.5,15.0 671.5,15.0 672.5,15.0 673.5,15.0 674.5,15.0 675.5,15.0 676.5,15.0 677.5,15.0 678.5,15.0 679.5,15.0 680.5,15.0 681.5,15.0 682.5,15.0 683.5,15.0 684.5,15.0 684.5,16.0 684.5,17.0 684.5,18.0 684.5,19.0 684.5,20.0 684.5,21.0 684.5,22.0 684.5,23.0 684.5,24.0 684.5,25.0 684.5,26.0 684.5,27.0 684.5,28.0 684.5,29.0 684.5,30.0 684.5,31.0 684.5,32.0 684.5,33.0 684.5,34.0 684.5,35.0 684.5,36.0 684.5,37.0 684.5,38.0 684.5,39.0 684.5,40.0 684.5,41.0 684.5,42.0 684.5,43.0 684.5,44.0 684.5,45.0 684.5,46.0 684.5,47.0 684.5,48.0 684.5,49.0 684.5,50.0 684.5,51.0 684.5,52.0 684.5,53.0 684.5,54.0 684.5,55.0 684.5,56.0 684.5,57.0 684.5,58.0 684.5,59.0 684.5,60.0 684.5,61.0 684.5,62.0 684.5,63.0 684.5,64.0 684.5,65.0 684.5,66.0 684.5,67.0 684.5,68.0 684.5,69.0 684.5,70.0 684.5,71.0 684.5,72.0 684.5,73.0 684.5,74.0 684.5,75.0 684.5,76.0 684.5,77.0 684.5,78.0 684.5,79.0 684.5,80.0 684.5,81.0 684.5,82.0 684.5,83.0 684.5,84.0 684.5,85.0 684.5,86.0 684.5,87.0 684.5,88.0 684.5,89.0 684.5,90.0 684.5,91.0 684.5,92.0 684.5,93.0 684.5,94.0 684.5,95.0 684.5,96.0 684.5,97.0 684.5,98.0 684.5,99.0 684.5,100.0 684.5,101.0 684.5,102.0 684.5,103.0 684.5,104.0 684.5,105.0 684.5,106.0 684.5,107.0 684.5,108.0 684.5,109.0 684.5,110.0 684.5,111.0 684.5,112.0 684.5,113.0 684.5,114.0 684.5,115.0 684.5,116.0 684.5,117.0 684.5,118.0 684.5,119.0 684.5,120.0 684.5,121.0 684.5,122.0 684.5,123.0 684.5,124.0 684.5,125.0 684.5,126.0 684.5,127.0 684.5,128.0 684.5,129.0 684.5,130.0 684.5,131.0 684.5,132.0 684.5,133.0 684.5,134.0 684.5,135.0 684.5,136.0 684.5,137.0 684.5,138.0 684.5,139.0 684.5,140.0 684.5,141.0 684.5,142.0 684.5,143.0 684.5,144.0 684.5,145.0 684.5,146.0 684.5,147.0 684.5,148.0 684.5,149.0 684.5,150.0 684.5,151.0 684.5,152.0 684.5,153.0 684.5,154.0 684.5,155.0 684.5,156.0 684.5,157.0 684.5,158.0 684.5,159.0 684.5,160.0 684.5,161.0 684.5,162.0 684.5,163.0 684.5,164.0 684.5,165.0 684.5,166.0 684.5,167.0 684.5,168.0 684.5,169.0 684.5,170.0 684.5,171.0 684.5,172.0 684.5,173.0 684.5,174.0 684.5,175.0 684.5,176.0 684.5,177.0 684.5,178.0 684.5,179.0 684.5,180.0 684.5,181.0 684.5,182.0 684.5,183.0 684.5,184.0 684.5,185.0 684.5,186.0 684.5,187.0 684.5,188.0 684.5,189.0 684.5,190.0 684.5,191.0 684.5,192.0 684.5,193.0 684.5,194.0 684.5,195.0 684.5,196.0 684.5,197.0 684.5,198.0 684.5,199.0 684.5,200.0 684.5,201.0 684.5,202.0 684.5,203.0 684.5,204.0 684.5,205.0 684.5,206.0 684.5,207.0 684.5,208.0 684.5,209.0 684.5,210.0 684.5,211.0Z"/>
<path fill-rule="evenodd" fill="#b2cefa" d="M684.5,211.0 683.5,211.0 682.5,211.0 681.5,211.0 680.5,211.0 679.5,211.0 678.5,211.0 677.5,211.0 676.5,211.0 675.5,211.0 674.5,211.0 673.5,211.0 672.5,211.0 671.5,211.0 670.5,211.0 669.5,211.0 668.5,211.0 667.5,211.0 666.5,211.0 665.5,211.0 664.5,211.0 663.5,211.0 662.5,211.0 661.5,211.0 660.5,211.0 659.5,211.0 658.5,211.0 657.5,211.0 656.5,211.0 655.5,211.0 654.5,211.0 653.5,211.0 652.5,211.0 651.5,211.0 650.5,211.0 649.5,211.0 648.5,211.0 647.5,211.0 646.5,211.0 645.5,211.0 644.5,211.0 643.5,211.0 642.5,211.0 641.5,211.0 640.5,211.0 639.5,211.0 638.5,211.0 637.5,211.0 636.5,211.0 635.5,211.0 634.5,211.0 633.5,211.0 632.5,211.0 631.5,211.0 630.5,211.0 629.5,211.0 628.5,211.0 627.5,211.0 626.5,211.0 625.5,211.0 624.5,211.0 623.5,211.0 622.5,211.0 621.5,211.0 620.5,211.0 619.5,211.0 618.5,211.0 617.5,211.0 616.5,211.0 615.5,211.0 614.5,211.0 613.5,211.0 612.5,211.0 611.5,211.0 610.5,211.0 609.5,211.0 608.5,211.0 607.5,211.0 606.5,211.0 605.5,211.0 604.5,211.0 603.5,211.0 602.5,211.0 601.5,211.0 600.5,211.0 599.5,211.0 598.5,211.0 597.5,211.0 596.5,211.0 595.5,211.0 594.5,211.0 593.5,211.0 592.5,211.0 591.5,211.0 590.5,211.0 589.5,211.0 588.5,211.0 587.5,211.0 586.5,211.0 585.5,211.0 584.5,211.0 583.5,211.0 582.5,211.0 581.5,211.0 580.5,211.0 579.5,211.0 578.5,211.0 577.5,211.0 576.5,211.0 575.5,211.0 574.5,211.0 573.5,211.0 572.5,211.0 571.5,211.0 570.5,211.0 569.5,211.0 568.5,211.0 567.5,211.0 566.5,211.0 565.5,211.0 564.5,211.0 563.5,211.0 562.5,211.0 561.5,211.0 560.5,211.0 559.5,211.0 558.5,211.0 557.5,211.0 556.5,211.0 555.5,211.0 554.5,211.0 553.5,211.0 552.5,211.0 551.5,211.0 550.5,211.0 549.5,211.0 548.5,211.0 547.5,211.0 546.5,211.0 545.5,211.0 544.5,211.0 543.5,211.0 542.5,211.0 541.5,211.0 540.5,211.0 539.5,211.0 538.5,211.0 537.5,211.0 536.5,211.0 535.9,210.0 536.0,209.0 536.1,208.0 536.2,207.0 536.3,206.0 536.4,205.0 536.5,204.0 536.6,203.0 536.7,202.0 536.8,201.0 537.0,200.0 537.1,199.0 537.2,198.0 537.3,197.0 537.4,196.0 537.5,195.0 537.6,194.0 537.7,193.0 537.8,192.0 537.9,191.0 537.9,190.0 538.0,189.0 538.1,188.0 538.1,187.0 538.2,186.0 538.2,185.0 538.3,184.0 538.3,183.0 538.4,182.0 538.4,181.0 538.4,180.0 538.5,179.0 538.5,178.0 538.5,177.0 538.5,176.0 538.5,175.0 538.5,174.0 538.6,173.0 538.6,172.0 538.6,171.0 538.6,170.0 538.6,169.0 538.6,168.0 538.6,167.0 538.6,166.0 538.6,165.0 538.6,164.0 538.6,163.0 538.6,162.0 538.6,161.0 538.6,160.0 538.6,159.0 538.6,158.0 538.6,157.0 538.6,156.0 538.6,155.0 538.6,154.0 538.6,153.0 538.6,152.0 538.6,151.0 538.6,150.0 538.6,149.0 538.6,148.0 538.6,147.0 538.6,146.0 538.6,145.0 538.6,144.0 538.6,143.0 538.6,142.0 538.6,141.0 538.6,140.0 538.6,139.0 538.5,138.0 538.5,137.0 538.5,136.0 538.5,135.0 538.5,134.0 538.5,133.0 538.5,132.0 538.5,131.0 538.4,130.0 538.4,129.0 538.4,128.0 538.4,127.0 538.4,126.0 538.3,125.0 538.3,124.0 538.3,123.0 538.2,122.0 538.2,121.0 538.2,120.0 538.2,119.0 538.1,118.0 538.1,117.0 538.1,116.0 538.0,115.0 538.0,114.0 538.0,113.0 538.0,112.0 537.9,111.0 537.9,110.0 537.9,109.0 537.9,108.0 537.9,107.0 537.9,106.0 537.9,105.0 537.9,104.0 537.9,103.0 538.0,102.0 538.1,101.0 538.1,100.0 538.3,99.0 538.4,98.0 538.5,97.0 538.7,96.0 538.9,95.0 539.1,94.0 539.4,93.0 539.7,92.0 540.1,91.0 540.5,90.0 541.0,89.0 541.5,88.0 542.0,87.0 542.7,86.0 543.3,85.0 544.1,84.0 544.9,83.0 545.8,82.0 546.5,81.3 547.5,80.3 548.5,79.3 549.5,78.0 550.1,77.0 550.5,76.1 551.0,75.0 551.3,74.0 551.6,73.0 551.9,72.0 552.1,71.0 552.3,70.0 552.5,69.0 552.7,68.0 552.8,67.0 553.0,66.0 553.1,65.0 553.2,64.0 553.2,63.0 553.3,62.0 553.4,61.0 553.4,60.0 553.5,59.0 553.5,58.0 553.6,57.0 553.6,56.0 553.6,55.0 553.7,54.0 553.7,53.0 553.7,52.0 553.8,51.0 553.8,50.0 553.8,49.0 553.8,48.0 553.8,47.0 553.8,46.0 553.9,45.0 553.9,44.0 553.9,43.0 553.9,42.0 553.9,41.0 553.9,40.0 553.9,39.0 553.9,38.0 553.9,37.0 553.9,36.0 553.9,35.0 553.9,34.0 553.9,33.0 553.9,32.0 553.9,31.0 553.9,30.0 553.9,29.0 553.9,28.0 553.9,27.0 553.9,26.0 553.9,25.0 553.9,24.0 553.9,23.0 553.9,22.0 553.9,21.0 553.9,20.0 553.9,19.0 553.9,18.0 553.9,17.0 553.9,16.0 553.9,15.0 555.5,15.0 556.5,15.0 557.5,15.0 558.5,15.0 559.5,15.0 560.5,15.0 561.5,15.0 562.5,15.0 563.5,15.0 564.5,15.0 565.5,15.0 566.5,15.0 567.5,15.0 568.5,15.0 569.5,15.0 570.5,15.0 571.5,15.0 572.5,15.0 573.5,15.0 574.5,15.0 575.5,15.0 576.5,15.0 577.5,15.0 578.5,15.0 579.5,15.0 580.5,15.0 581.5,15.0 582.5,15.0 583.5,15.0 584.5,15.0 585.5,15.0 586.5,15.0 587.5,15.0 588.5,15.0 589.5,15.0 590.5,15.0 591.5,15.0 592.5,15.0 593.5,15.0 594.5,15.0 595.5,15.0 596.5,15.0 597.5,15.0 598.5,15.0 599.5,15.0 600.5,15.0 601.5,15.0 602.5,15.0 603.5,15.0 604.5,15.0 605.5,15.0 606.5,15.0 607.5,15.0 608.5,15.0 609.5,15.0 610.5,15.0 611.5,15.0 612.5,15.0 613.5,15.0 614.5,15.0 615.5,15.0 616.5,15.0 617.5,15.0 618.5,15.0 619.5,15.0 620.5,15.0 621.5,15.0 622.5,15.0 623.5,15.0 624.5,15.0 625.5,15.0 626.5,15.0 627.5,15.0 628.5,15.0 629.5,15.0 630.5,15.0 631.5,15.0 632.5,15.0 633.5,15.0 634.5,15.0 635.5,15.0 636.5,15.0 637.5,15.0 638.5,15.0 639.5,15.0 640.5,15.0 641.5,15.0 642.5,15.0 643.5,15.0 644.5,15.0 645.5,15.0 646.5,15.0 647.5,15.0 648.5,15.0 649.5,15.0 650.5,15.0 651.5,15.0 652.5,15.0 653.5,15.0 654.5,15.0 655.5,15.0 656.5,15.0 657.5,15.0 658.5,15.0 659.5,15.0 660.5,15.0 661.5,15.0 662.5,15.0 663.5,15.0 664.5,15.0 665.5,15.0 666.5,15.0 667.5,15.0 668.5,15.0 669.5,15.0 670.5,15.0 671.5,15.0 672.5,15.0 673.5,15.0 674.5,15.0 675.5,15.0 676.5,15.0 677.5,15.0 678.5,15.0 679.5,15.0 680.5,15.0 681.5,15.0 682.5,15.0 683.5,15.0 684.5,15.0 684.5,16.0 684.5,17.0 684.5,18.0 684.5,19.0 684.5,20.0 684.5,21.0 684.5,22.0 684.5,23.0 684.5,24.0 684.5,25.0 684.5,26.0 684.5,27.0 684.5,28.0 684.5,29.0 684.5,30.0 684.5,31.0 684.5,32.0 684.5,33.0 684.5,34.0 684.5,35.0 684.5,36.0 684.5,37.0 684.5,38.0 684.5,39.0 684.5,40.0 684.5,41.0 684.5,42.0 684.5,43.0 684.5,44.0 684.5,45.0 684.5,46.0 684.5,47.0 684.5,48.0 684.5,49.0 684.5,50.0 684.5,51.0 684.5,52.0 684.5,53.0 684.5,54.0 684.5,55.0 684.5,56.0 684.5,57.0 684.5,58.0 684.5,59.0 684.5,60.0 684.5,61.0 684.5,62.0 684.5,63.0 684.5,64.0 684.5,65.0 684.5,66.0 684.5,67.0 684.5,68.0 684.5,69.0 684.5,70.0 684.5,71.0 684.5,72.0 684.5,73.0 684.5,74.0 684.5,75.0 684.5,76.0 684.5,77.0 684.5,78.0 684.5,79.0 684.5,80.0 684.5,81.0 684.5,82.0 684.5,83.0 684.5,84.0 684.5,85.0 684.5,86.0 684.5,87.0 684.5,88.0 684.5,89.0 684.5,90.0 684.5,91.0 684.5,92.0 684.5,93.0 684.5,94.0 684.5,95.0 684.5,96.0 684.5,97.0 684.5,98.0 684.5,99.0 684.5,100.0 684.5,101.0 684.5,102.0 684.5,103.0 684.5,104.0 684.5,105.0 684.5,106.0 684.5,107.0 684.5,108.0 684.5,109.0 684.5,110.0 684.5,111.0 684.5,112.0 684.5,113.0 684.5,114.0 684.5,115.0 684.5,116.0 684.5,117.0 684.5,118.0 684.5,119.0 684.5,120.0 684.5,121.0 684.5,122.0 684.5,123.0 684.5,124.0 684.5,125.0 684.5,126.0 684.5,127.0 684.5,128.0 684.5,129.0 684.5,130.0 684.5,131.0 684.5,132.0 684.5,133.0 684.5,134.0 684.5,135.0 684.5,136.0 684.5,137.0 684.5,138.0 684.5,139.0 684.5,140.0 684.5,141.0 684.5,142.0 684.5,143.0 684.5,144.0 684.5,145.0 684.5,146.0 684.5,147.0 684.5,148.0 684.5,149.0 684.5,150.0 684.5,151.0 684.5,152.0 684.5,153.0 684.5,154.0 684.5,155.0 684.5,156.0 684.5,157.0 684.5,158.0 684.5,159.0 684.5,160.0 684.5,161.0 684.5,162.0 684.5,163.0 684.5,164.0 684.5,165.0 684.5,166.0 684.5,167.0 684.5,168.0 684.5,169.0 684.5,170.0 684.5,171.0 684.5,172.0 684.5,173.0 684.5,174.0 684.5,175.0 684.5,176.0 684.5,177.0 684.5,178.0 684.5,179.0 684.5,180.0 684.5,181.0 684.5,182.0 684.5,183.0 684.5,184.0 684.5,185.0 684.5,186.0 684.5,187.0 684.5,188.0 684.5,189.0 684.5,190.0 684.5,191.0 684.5,192.0 684.5,193.0 684.5,194.0 684.5,195.0 684.5,196.0 684.5,197.0 684.5,198.0 684.5,199.0 684.5,200.0 684.5,201.0 684.5,202.0 684.5,203.0 684.5,204.0 684.5,205.0 684.5,206.0 684.5,207.0 684.5,208.0 684.5,209.0 684.5,210.0 684.5,211.0Z"/>
<path fill-rule="evenodd" fill="#8cb5fa" d="M684.5,211.0 683.5,211.0 682.5,211.0 681.5,211.0 680.5,211.0 679.5,211.0 678.5,211.0 677.5,211.0 676.5,211.0 675.5,211.0 674.5,211.0 673.5,211.0 672.5,211.0 671.5,211.0 670.5,211.0 669.5,211.0 668.5,211.0 667.5,211.0 666.5,211.0 665.5,211.0 664.5,211.0 663.5,211.0 662.5,211.0 661.5,211.0 660.5,211.0 659.5,211.0 658.5,211.0 657.5,211.0 656.5,211.0 655.5,211.0 654.5,211.0 653.5,211.0 652.5,211.0 651.5,211.0 650.5,211.0 649.5,211.0 648.5,211.0 647.5,211.0 646.5,211.0 645.5,211.0 644.5,211.0 643.5,211.0 642.5,211.0 641.5,211.0 640.5,211.0 639.5,211.0 638.5,211.0 637.5,211.0 636.5,211.0 635.5,211.0 634.5,211.0 633.5,211.0 632.5,211.0 631.5,211.0 630.5,211.0 629.5,211.0 628.5,211.0 627.5,211.0 626.5,211.0 625.5,211.0 624.5,211.0 623.5,211.0 622.5,211.0 621.5,211.0 620.5,211.0 619.5,211.0 618.5,211.0 617.5,211.0 616.5,211.0 615.5,211.0 614.5,211.0 613.5,211.0 612.5,211.0 611.5,211.0 610.5,211.0 609.5,211.0 608.5,211.0 607.5,211.0 606.5,211.0 605.5,211.0 604.5,211.0 603.5,211.0 602.5,211.0 601.5,211.0 600.5,211.0 599.5,211.0 598.5,211.0 597.5,211.0 596.5,211.0 595.5,211.0 594.5,211.0 593.5,211.0 592.5,211.0 591.5,211.0 590.5,211.0 589.5,211.0 588.5,211.0 587.5,211.0 586.5,211.0 585.5,211.0 584.5,211.0 583.5,211.0 582.5,211.0 581.5,211.0 580.5,211.0 579.5,211.0 578.5,211.0 577.5,211.0 576.5,211.0 575.5,211.0 574.5,211.0 573.5,211.0 572.5,211.0 571.5,211.0 570.5,211.0 569.5,211.0 568.5,211.0 567.5,211.0 566.5,211.0 565.5,211.0 564.5,211.0 563.5,211.0 562.5,211.0 561.5,211.0 560.5,211.0 559.5,211.0 558.5,211.0 557.5,211.0 556.5,211.0 555.5,211.0 554.5,211.0 553.5,211.0 552.5,211.0 551.5,211.0 550.5,211.0 549.5,211.0 548.5,211.0 547.5,211.0 546.5,211.0 545.5,211.0 544.5,211.0 543.5,211.0 542.5,211.0 541.8,210.0 541.9,209.0 542.0,208.0 542.0,207.0 542.1,206.0 542.2,205.0 542.3,204.0 542.3,203.0 542.4,202.0 542.5,201.1 542.6,200.0 542.7,199.0 542.7,198.0 542.8,197.0 542.9,196.0 543.0,195.0 543.0,194.0 543.1,193.0 543.2,192.0 543.2,191.0 543.3,190.0 543.3,189.0 543.4,188.0 543.4,187.0 543.5,186.0 543.5,185.0 543.5,184.0 543.5,183.0 543.6,182.0 543.6,181.0 543.6,180.0 543.6,179.0 543.6,178.0 543.7,177.0 543.7,176.0 543.7,175.0 543.7,174.0 543.7,173.0 543.7,172.0 543.7,171.0 543.7,170.0 543.7,169.0 543.7,168.0 543.7,167.0 543.7,166.0 543.7,165.0 543.7,164.0 543.7,163.0 543.7,162.0 543.7,161.0 543.7,160.0 543.7,159.0 543.7,158.0 543.7,157.0 543.7,156.0 543.7,155.0 543.7,154.0 543.7,153.0 543.7,152.0 543.7,151.0 543.7,150.0 543.7,149.0 543.7,148.0 543.7,147.0 543.7,146.0 543.7,145.0 543.7,144.0 543.7,143.0 543.7,142.0 543.7,141.0 543.7,140.0 543.7,139.0 543.7,138.0 543.6,137.0 543.6,136.0 543.6,135.0 543.6,134.0 543.6,133.0 543.6,132.0 543.6,131.0 543.6,130.0 543.5,129.0 543.5,128.0 543.5,127.0 543.5,126.0 543.4,125.0 543.4,124.0 543.4,123.0 543.4,122.0 543.3,121.0 543.3,120.0 543.3,119.0 543.2,118.0 543.2,117.0 543.2,116.0 543.1,115.0 543.1,114.0 543.1,113.0 543.0,112.0 543.0,111.0 542.9,110.0 542.9,109.0 542.8,108.0 542.8,107.0 542.7,106.0 542.7,105.0 542.6,104.0 542.6,103.0 542.5,102.0 542.5,101.0 542.4,100.0 542.4,99.0 542.4,98.0 542.4,97.0 542.4,96.0 542.4,95.0 542.5,94.0 542.7,93.0 542.8,92.0 543.1,91.0 543.4,90.0 543.7,89.0 544.1,88.0 544.5,87.2 545.2,86.0 545.8,85.0 546.5,84.2 547.5,83.2 548.5,82.3 549.5,81.6 550.3,81.0 551.5,80.1 552.5,79.4 553.5,78.8 554.5,78.4 555.5,78.1 556.5,77.8 557.5,77.6 558.5,77.3 559.5,77.1 560.5,77.0 561.5,76.7 562.5,76.6 563.5,76.5 564.5,76.5 565.5,76.5 566.5,76.4 567.5,76.4 568.5,76.3 569.5,76.2 570.5,76.1 571.5,75.9 572.5,75.6 573.5,75.2 574.5,74.6 575.4,74.0 576.3,73.0 577.0,72.0 577.5,71.1 578.0,70.0 578.4,69.0 578.7,68.0 578.9,67.0 579.2,66.0 579.3,65.0 579.5,64.1 579.7,63.0 579.8,62.0 579.9,61.0 580.0,60.0 580.0,59.0 580.1,58.0 580.1,57.0 580.2,56.0 580.2,55.0 580.3,54.0 580.3,53.0 580.3,52.0 580.3,51.0 580.3,50.0 580.3,49.0 580.4,48.0 580.4,47.0 580.4,46.0 580.4,45.0 580.4,44.0 580.4,43.0 580.4,42.0 580.4,41.0 580.4,40.0 580.4,39.0 580.4,38.0 580.4,37.0 580.4,36.0 580.4,35.0 580.4,34.0 580.4,33.0 580.4,32.0 580.4,31.0 580.4,30.0 580.4,29.0 580.4,28.0 580.4,27.0 580.4,26.0 580.4,25.0 580.4,24.0 580.4,23.0 580.4,22.0 580.4,21.0 580.4,20.0 580.4,19.0 580.4,18.0 580.4,17.0 580.4,16.0 580.4,15.0 581.5,15.0 582.5,15.0 583.5,15.0 584.5,15.0 585.5,15.0 586.5,15.0 587.5,15.0 588.5,15.0 589.5,15.0 590.5,15.0 591.5,15.0 592.5,15.0 593.5,15.0 594.5,15.0 595.5,15.0 596.5,15.0 597.5,15.0 598.5,15.0 599.5,15.0 600.5,15.0 601.5,15.0 602.5,15.0 603.5,15.0 604.5,15.0 605.5,15.0 606.5,15.0 607.5,15.0 608.5,15.0 609.5,15.0 610.5,15.0 611.5,15.0 612.5,15.0 613.5,15.0 614.5,15.0 615.5,15.0 616.5,15.0 617.5,15.0 618.5,15.0 619.5,15.0 620.5,15.0 621.5,15.0 622.5,15.0 623.5,15.0 624.5,15.0 625.5,15.0 626.5,15.0 627.5,15.0 628.5,15.0 629.5,15.0 630.5,15.0 631.5,15.0 632.5,15.0 633.5,15.0 634.5,15.0 635.5,15.0 636.5,15.0 637.5,15.0 638.5,15.0 639.5,15.0 640.5,15.0 641.5,15.0 642.5,15.0 643.5,15.0 644.5,15.0 645.5,15.0 646.5,15.0 647.5,15.0 648.5,15.0 649.5,15.0 650.5,15.0 651.5,15.0 652.5,15.0 653.5,15.0 654.5,15.0 655.5,15.0 656.5,15.0 657.5,15.0 658.5,15.0 659.5,15.0 660.5,15.0 661.5,15.0 662.5,15.0 663.5,15.0 664.5,15.0 665.5,15.0 666.5,15.0 667.5,15.0 668.5,15.0 669.5,15.0 670.5,15.0 671.5,15.0 672.5,15.0 673.5,15.0 674.5,15.0 675.5,15.0 676.5,15.0 677.5,15.0 678.5,15.0 679.5,15.0 680.5,15.0 681.5,15.0 682.5,15.0 683.5,15.0 684.5,15.0 684.5,16.0 684.5,17.0 684.5,18.0 684.5,19.0 684.5,20.0 684.5,21.0 684.5,22.0 684.5,23.0 684.5,24.0 684.5,25.0 684.5,26.0 684.5,27.0 684.5,28.0 684.5,29.0 684.5,30.0 684.5,31.0 684.5,32.0 684.5,33.0 684.5,34.0 684.5,35.0 684.5,36.0 684.5,37.0 684.5,38.0 684.5,39.0 684.5,40.0 684.5,41.0 684.5,42.0 684.5,43.0 684.5,44.0 684.5,45.0 684.5,46.0 684.5,47.0 684.5,48.0 684.5,49.0 684.5,50.0 684.5,51.0 684.5,52.0 684.5,53.0 684.5,54.0 684.5,55.0 684.5,56.0 684.5,57.0 684.5,58.0 684.5,59.0 684.5,60.0 684.5,61.0 684.5,62.0 684.5,63.0 684.5,64.0 684.5,65.0 684.5,66.0 684.5,67.0 684.5,68.0 684.5,69.0 684.5,70.0 684.5,71.0 684.5,72.0 684.5,73.0 684.5,74.0 684.5,75.0 684.5,76.0 684.5,77.0 684.5,78.0 684.5,79.0 684.5,80.0 684.5,81.0 684.5,82.0 684.5,83.0 684.5,84.0 684.5,85.0 684.5,86.0 684.5,87.0 684.5,88.0 684.5,89.0 684.5,90.0 684.5,91.0 684.5,92.0 684.5,93.0 684.5,94.0 684.5,95.0 684.5,96.0 684.5,97.0 684.5,98.0 684.5,99.0 684.5,100.0 684.5,101.0 684.5,102.0 684.5,103.0 684.5,104.0 684.5,105.0 684.5,106.0 684.5,107.0 684.5,108.0 684.5,109.0 684.5,110.0 684.5,111.0 684.5,112.0 684.5,113.0 684.5,114.0 684.5,115.0 684.5,116.0 684.5,117.0 684.5,118.0 684.5,119.0 684.5,120.0 684.5,121.0 684.5,122.0 684.5,123.0 684.5,124.0 684.5,125.0 684.5,126.0 684.5,127.0 684.5,128.0 684.5,129.0 684.5,130.0 684.5,131.0 684.5,132.0 684.5,133.0 684.5,134.0 684.5,135.0 684.5,136.0 684.5,137.0 684.5,138.0 684.5,139.0 684.5,140.0 684.5,141.0 684.5,142.0 684.5,143.0 684.5,144.0 684.5,145.0 684.5,146.0 684.5,147.0 684.5,148.0 684.5,149.0 684.5,150.0 684.5,151.0 684.5,152.0 684.5,153.0 684.5,154.0 684.5,155.0 683.5,155.0 682.5,155.1 681.5,155.2 680.5,155.4 679.5,155.6 678.5,155.8 677.5,156.0 676.5,156.3 675.5,156.7 674.5,157.1 673.5,157.5 672.5,158.0 671.5,158.5 670.7,159.0 669.5,159.8 668.5,160.5 667.5,161.2 666.6,162.0 665.5,163.0 664.5,164.0 663.6,165.0 662.8,166.0 662.0,167.0 661.5,167.8 660.9,169.0 660.5,169.9 660.1,171.0 659.9,172.0 659.8,173.0 659.7,174.0 659.7,175.0 659.7,176.0 659.8,177.0 659.9,178.0 660.0,179.0 660.2,180.0 660.4,181.0 660.6,182.0 660.9,183.0 661.3,184.0 661.7,185.0 662.1,186.0 662.7,187.0 663.3,188.0 664.0,189.0 664.8,190.0 665.5,190.8 666.5,191.8 667.5,192.8 668.5,193.6 669.5,194.3 670.5,195.0 671.5,195.6 672.3,196.0 673.5,196.6 674.4,197.0 675.5,197.4 676.5,197.8 677.5,198.1 678.5,198.3 679.5,198.6 680.5,198.8 681.5,198.9 682.5,199.1 683.5,199.2 684.5,199.2 684.5,201.0 684.5,202.0 684.5,203.0 684.5,204.0 684.5,205.0 684.5,206.0 684.5,207.0 684.5,208.0 684.5,209.0 684.5,210.0 684.5,211.0Z"/>
<path fill-rule="evenodd" fill="#629cfa" d="M672.5,211.0 671.5,211.0 670.5,211.0 669.5,211.0 668.5,211.0 667.5,211.0 666.5,211.0 665.5,211.0 664.5,211.0 663.5,211.0 662.5,211.0 661.5,211.0 660.5,211.0 659.5,211.0 658.5,211.0 657.5,211.0 656.5,211.0 655.5,211.0 654.5,211.0 653.5,211.0 652.5,211.0 651.5,211.0 650.5,211.0 649.5,211.0 648.5,211.0 647.5,211.0 646.5,211.0 645.5,211.0 644.5,211.0 643.5,211.0 642.5,211.0 641.5,211.0 640.5,211.0 639.5,211.0 638.5,211.0 637.5,211.0 636.5,211.0 635.5,211.0 634.5,211.0 633.5,211.0 632.5,211.0 631.5,211.0 630.5,211.0 629.5,211.0 628.5,211.0 627.5,211.0 626.5,211.0 625.5,211.0 624.5,211.0 623.5,211.0 622.5,211.0 621.5,211.0 620.5,211.0 619.5,211.0 618.5,211.0 617.5,211.0 616.5,211.0 615.5,211.0 614.5,211.0 613.5,211.0 612.5,211.0 611.5,211.0 610.5,211.0 609.5,211.0 608.5,211.0 607.5,211.0 606.5,211.0 605.5,211.0 604.5,211.0 603.5,211.0 602.5,211.0 601.5,211.0 600.5,211.0 599.5,211.0 598.5,211.0 597.5,211.0 596.5,211.0 595.5,211.0 594.5,211.0 593.5,211.0 592.5,211.0 591.5,211.0 590.5,211.0 589.5,211.0 588.5,211.0 587.5,211.0 586.5,211.0 585.5,211.0 584.5,211.0 583.5,211.0 582.5,211.0 581.5,211.0 580.5,211.0 579.5,211.0 578.5,211.0 577.5,211.0 576.5,211.0 575.5,211.0 574.5,211.0 573.5,211.0 572.5,211.0 571.5,211.0 570.5,211.0 569.5,211.0 568.5,211.0 567.5,211.0 566.5,211.0 565.5,211.0 564.5,211.0 563.5,211.0 562.5,211.0 561.5,211.0 560.5,211.0 559.5,211.0 558.5,211.0 557.5,211.0 556.5,211.0 555.5,211.0 554.5,211.0 553.5,211.0 552.5,211.0 551.5,211.0 550.5,211.0 549.5,211.0 548.5,211.0 547.5,211.0 546.5,211.0 545.5,211.0 545.4,210.0 545.4,209.0 545.5,208.0 545.5,207.0 545.6,206.0 545.7,205.0 545.7,204.0 545.8,203.0 545.9,202.0 546.0,201.0 546.0,200.0 546.1,199.0 546.2,198.0 546.2,197.0 546.3,196.0 546.4,195.0 546.4,194.0 546.5,193.0 546.6,192.0 546.6,191.0 546.7,190.0 546.7,189.0 546.8,188.0 546.8,187.0 546.8,186.0 546.9,185.0 546.9,184.0 546.9,183.0 547.0,182.0 547.0,181.0 547.0,180.0 547.0,179.0 547.0,178.0 547.1,177.0 547.1,176.0 547.1,175.0 547.1,174.0 547.1,173.0 547.1,172.0 547.1,171.0 547.1,170.0 547.1,169.0 547.1,168.0 547.1,167.0 547.1,166.0 547.1,165.0 547.1,164.0 547.1,163.0 547.1,162.0 547.1,161.0 547.1,160.0 547.1,159.0 547.1,158.0 547.1,157.0 547.1,156.0 547.1,155.0 547.1,154.0 547.1,153.0 547.1,152.0 547.1,151.0 547.1,150.0 547.1,149.0 547.1,148.0 547.1,147.0 547.1,146.0 547.1,145.0 547.1,144.0 547.1,143.0 547.1,142.0 547.1,141.0 547.1,140.0 547.0,139.0 547.0,138.0 547.0,137.0 547.0,136.0 547.0,135.0 547.0,134.0 546.9,133.0 546.9,132.0 546.9,131.0 546.9,130.0 546.9,129.0 546.8,128.0 546.8,127.0 546.8,126.0 546.7,125.0 546.7,124.0 546.7,123.0 546.7,122.0 546.6,121.0 546.6,120.0 546.5,119.0 546.5,118.0 546.5,117.0 546.4,116.0 546.4,115.0 546.3,114.0 546.3,113.0 546.2,112.0 546.2,111.0 546.1,110.0 546.1,109.0 546.0,108.0 545.9,107.0 545.9,106.0 545.8,105.0 545.7,104.0 545.6,103.0 545.5,102.0 545.4,101.0 545.4,100.0 545.3,99.0 545.2,98.0 545.1,97.0 545.1,96.0 545.1,95.0 545.1,94.0 545.1,93.0 545.2,92.0 545.3,91.0 545.5,90.0 545.8,89.0 546.1,88.0 546.5,87.1 547.2,86.0 548.0,85.0 549.1,84.0 550.5,83.0 551.5,82.4 552.5,81.9 553.5,81.4 554.5,81.1 555.5,80.8 556.5,80.6 557.5,80.3 558.5,80.1 559.5,80.0 560.5,79.8 561.5,79.6 562.5,79.5 563.5,79.6 564.5,79.7 565.5,79.8 566.5,79.9 567.5,80.1 568.5,80.2 569.5,80.3 570.5,80.4 571.5,80.5 572.5,80.7 573.5,80.8 574.5,80.9 575.5,81.1 576.5,81.2 577.5,81.3 578.5,81.4 579.5,81.5 580.5,81.6 581.5,81.6 582.5,81.6 583.5,81.4 584.5,81.2 585.5,80.8 586.5,80.5 587.5,80.1 588.5,79.7 589.5,79.3 590.5,78.9 591.5,78.4 592.4,78.0 593.5,77.4 594.5,76.8 595.5,76.1 596.5,75.3 597.5,74.5 598.5,73.4 599.5,72.2 600.2,71.0 600.8,70.0 601.2,69.0 601.6,68.0 601.9,67.0 602.2,66.0 602.4,65.0 602.6,64.0 602.8,63.0 603.0,62.0 603.1,61.0 603.2,60.0 603.3,59.0 603.4,58.0 603.4,57.0 603.5,56.0 603.5,55.1 603.5,54.0 603.6,53.0 603.6,52.0 603.6,51.0 603.7,50.0 603.7,49.0 603.7,48.0 603.7,47.0 603.7,46.0 603.7,45.0 603.7,44.0 603.7,43.0 603.8,42.0 603.8,41.0 603.8,40.0 603.8,39.0 603.8,38.0 603.8,37.0 603.8,36.0 603.8,35.0 603.8,34.0 603.9,33.0 603.9,32.0 603.9,31.0 603.9,30.0 603.9,29.0 603.9,28.0 603.9,27.0 603.9,26.0 603.9,25.0 603.9,24.0 604.0,23.0 604.0,22.0 604.0,21.0 604.0,20.0 604.0,19.0 604.0,18.0 604.0,17.0 604.0,16.0 604.0,15.0 605.5,15.0 606.5,15.0 607.5,15.0 608.5,15.0 609.5,15.0 610.5,15.0 611.5,15.0 612.5,15.0 613.5,15.0 614.5,15.0 615.5,15.0 616.5,15.0 617.5,15.0 618.5,15.0 619.5,15.0 620.5,15.0 621.5,15.0 622.5,15.0 623.5,15.0 624.5,15.0 625.5,15.0 626.5,15.0 627.5,15.0 628.5,15.0 629.5,15.0 629.9,16.0 630.0,17.0 630.2,18.0 630.3,19.0 630.6,20.0 630.8,21.0 631.2,22.0 631.6,23.0 632.0,24.0 632.5,24.9 633.2,26.0 633.8,27.0 634.5,27.9 635.5,29.0 636.4,30.0 637.4,31.0 638.4,32.0 639.5,33.0 640.5,33.9 641.5,34.7 642.5,35.4 643.5,36.0 644.5,36.5 645.5,36.9 646.5,37.3 647.5,37.6 648.5,37.9 649.5,38.0 650.5,38.2 651.5,38.2 652.5,38.3 653.5,38.2 654.5,38.1 655.5,38.0 656.5,37.7 657.5,37.5 658.5,37.1 659.5,36.7 660.5,36.2 661.5,35.6 662.5,34.6 663.5,33.3 664.2,32.0 664.8,31.0 665.2,30.0 665.7,29.0 666.1,28.0 666.5,27.0 666.8,26.0 667.2,25.0 667.4,24.0 667.7,23.0 667.9,22.0 668.1,21.0 668.3,20.0 668.4,19.0 668.5,18.0 668.6,17.0 668.6,16.0 668.6,15.0 670.5,15.0 671.5,15.0 672.5,15.0 673.5,15.0 674.5,15.0 675.5,15.0 676.5,15.0 677.5,15.0 678.5,15.0 679.5,15.0 680.5,15.0 681.5,15.0 682.5,15.0 683.5,15.0 684.5,15.0 684.5,16.0 684.5,17.0 684.5,18.0 684.5,19.0 684.5,20.0 684.5,21.0 684.5,22.0 684.5,23.0 684.5,24.0 684.5,25.0 684.5,26.0 684.5,27.0 684.5,28.0 684.5,29.0 684.5,30.0 684.5,31.0 684.5,32.0 684.5,33.0 684.5,34.0 684.5,35.0 684.5,36.0 684.5,37.0 684.5,38.0 684.5,39.0 684.5,40.0 684.5,41.0 684.5,42.0 684.5,43.0 684.5,44.0 684.5,45.0 684.5,46.0 684.5,47.0 684.5,48.0 684.5,49.0 684.5,50.0 684.5,51.0 684.5,52.0 684.5,53.0 684.5,54.0 684.5,55.0 684.5,56.0 684.5,57.0 684.5,58.0 684.5,59.0 684.5,60.0 684.5,61.0 684.5,62.0 684.5,63.0 684.5,64.0 684.5,65.0 684.5,66.0 684.5,67.0 684.5,68.0 684.5,69.0 684.5,70.0 684.5,71.0 684.5,72.0 684.5,73.0 684.5,74.0 684.5,75.0 684.5,76.0 684.5,77.0 684.5,78.0 684.5,79.0 684.5,80.0 684.5,81.0 684.5,82.0 684.5,83.0 684.5,84.0 684.5,85.0 684.5,86.0 684.5,87.0 684.5,88.0 684.5,89.0 684.5,90.0 684.5,91.0 684.5,92.0 684.5,93.0 684.5,94.0 684.5,95.0 684.5,96.0 684.5,97.0 684.5,98.0 684.5,99.0 684.5,100.0 684.5,101.0 684.5,102.0 684.5,103.0 684.5,104.0 684.5,105.0 684.5,106.0 684.5,107.0 684.5,108.0 684.5,109.0 684.5,110.0 684.5,111.0 684.5,112.0 684.5,113.0 684.5,114.0 684.5,115.0 684.5,116.0 684.5,117.0 684.5,118.0 684.5,119.0 684.5,120.0 684.5,121.0 684.5,122.0 684.5,123.0 684.5,124.0 684.5,125.0 684.5,126.0 684.5,127.0 684.5,128.0 684.5,129.0 684.5,130.0 684.5,131.0 684.5,132.0 684.5,133.0 684.5,134.0 684.5,135.0 684.5,136.0 684.5,137.0 684.5,138.0 684.5,139.0 684.5,140.0 684.5,141.0 684.5,142.0 684.5,143.0 683.5,143.2 682.5,143.2 681.5,143.2 680.5,143.2 679.5,143.2 678.5,143.3 677.5,143.3 676.5,143.4 675.5,143.6 674.5,143.7 673.5,143.9 672.5,144.1 671.5,144.3 670.5,144.6 669.5,144.9 668.5,145.3 667.5,145.6 666.5,146.1 665.5,146.6 664.6,147.0 663.5,147.6 662.5,148.2 661.5,148.9 660.5,149.6 659.5,150.4 658.8,151.0 657.6,152.0 656.6,153.0 655.6,154.0 654.7,155.0 653.8,156.0 652.8,157.0 651.9,158.0 650.9,159.0 649.8,160.0 648.5,161.0 647.5,161.7 646.5,162.3 645.5,162.9 644.5,163.4 643.5,163.8 642.5,164.2 641.5,164.6 640.5,164.9 639.5,165.2 638.5,165.5 637.5,165.8 636.6,166.0 635.5,166.3 634.5,166.6 633.5,166.9 632.5,167.4 631.5,167.8 630.5,168.8 630.7,170.0 631.5,170.6 632.5,171.2 633.5,171.6 634.4,172.0 635.5,172.4 636.5,172.8 637.5,173.2 638.5,173.6 639.5,174.2 640.5,174.8 641.5,175.5 642.5,176.4 643.5,177.7 644.2,179.0 644.6,180.0 644.9,181.0 645.2,182.0 645.4,183.0 645.7,184.0 645.9,185.0 646.2,186.0 646.5,187.0 646.8,188.0 647.2,189.0 647.6,190.0 648.1,191.0 648.6,192.0 649.2,193.0 649.8,194.0 650.4,195.0 651.1,196.0 651.9,197.0 652.5,197.7 653.5,198.9 654.5,199.9 655.5,200.9 656.5,201.8 657.5,202.6 658.5,203.4 659.3,204.0 660.5,204.8 661.5,205.5 662.4,206.0 663.5,206.6 664.5,207.2 665.5,207.6 666.5,208.1 667.5,208.6 668.5,209.0 669.5,209.4 670.5,209.8 671.5,210.2 672.5,210.8Z"/>
<path fill-rule="evenodd" fill="#3280f7" d="M639.5,211.0 638.5,211.0 637.5,211.0 636.5,211.0 635.5,211.0 634.5,211.0 633.5,211.0 632.5,211.0 631.5,211.0 630.5,211.0 629.5,211.0 628.5,211.0 627.5,211.0 626.5,211.0 625.5,211.0 624.5,211.0 623.5,211.0 622.5,211.0 621.5,211.0 620.5,211.0 619.5,211.0 618.5,211.0 617.5,211.0 616.5,211.0 615.5,211.0 614.5,211.0 613.5,211.0 612.5,211.0 611.5,211.0 610.5,211.0 609.5,211.0 608.5,211.0 607.5,211.0 606.5,211.0 605.5,211.0 604.5,211.0 603.5,211.0 602.5,211.0 601.5,211.0 600.5,211.0 599.5,211.0 598.5,211.0 597.5,211.0 596.5,211.0 595.5,211.0 594.5,211.0 593.5,211.0 592.5,211.0 591.5,211.0 590.5,211.0 589.5,211.0 588.5,211.0 587.5,211.0 586.5,211.0 585.5,211.0 584.5,211.0 583.5,211.0 582.5,211.0 581.5,211.0 580.5,211.0 579.5,211.0 578.5,211.0 577.5,211.0 576.5,211.0 575.5,211.0 574.5,211.0 573.5,211.0 572.5,211.0 571.5,211.0 570.5,211.0 569.5,211.0 568.5,211.0 567.5,211.0 566.5,211.0 565.5,211.0 564.5,211.0 563.5,211.0 562.5,211.0 561.5,211.0 560.5,211.0 559.5,211.0 558.5,211.0 557.5,211.0 556.5,211.0 555.5,211.0 554.5,211.0 553.5,211.0 552.5,211.0 551.5,211.0 550.5,211.0 549.5,211.0 548.5,211.0 548.5,210.0 548.6,209.0 548.6,208.0 548.7,207.0 548.8,206.0 548.9,205.0 549.0,204.0 549.1,203.0 549.2,202.0 549.3,201.0 549.4,200.0 549.5,199.0 549.7,198.0 549.8,197.0 549.9,196.0 550.0,195.0 550.1,194.0 550.2,193.0 550.3,192.0 550.4,191.0 550.5,190.0 550.6,189.0 550.7,188.0 550.8,187.0 550.9,186.0 551.0,185.0 551.0,184.0 551.1,183.0 551.2,182.0 551.2,181.0 551.3,180.0 551.3,179.0 551.3,178.0 551.4,177.0 551.4,176.0 551.4,175.0 551.4,174.0 551.5,173.0 551.5,172.0 551.5,171.0 551.5,170.0 551.5,169.0 551.5,168.0 551.5,167.0 551.6,166.0 551.6,165.0 551.6,164.0 551.6,163.0 551.6,162.0 551.6,161.0 551.6,160.0 551.6,159.0 551.6,158.0 551.5,157.0 551.5,156.0 551.5,155.0 551.5,154.0 551.5,153.0 551.5,152.0 551.5,151.0 551.5,150.0 551.5,149.0 551.4,148.0 551.4,147.0 551.4,146.0 551.4,145.0 551.4,144.0 551.3,143.0 551.3,142.0 551.3,141.0 551.3,140.0 551.2,139.0 551.2,138.0 551.1,137.0 551.1,136.0 551.0,135.0 551.0,134.0 550.9,133.0 550.9,132.0 550.8,131.0 550.8,130.0 550.7,129.0 550.6,128.0 550.6,127.0 550.5,126.0 550.4,125.0 550.4,124.0 550.3,123.0 550.2,122.0 550.2,121.0 550.1,120.0 550.0,119.0 550.0,118.0 549.9,117.0 549.8,116.0 549.7,115.0 549.6,114.0 549.5,113.0 549.4,112.0 549.3,111.0 549.2,110.0 549.0,109.0 548.9,108.0 548.8,107.0 548.7,106.0 548.5,105.0 548.4,104.0 548.3,103.0 548.1,102.0 548.0,101.0 547.9,100.0 547.7,99.0 547.6,98.0 547.5,97.0 547.4,96.0 547.4,95.0 547.3,94.0 547.3,93.0 547.4,92.0 547.4,91.0 547.6,90.0 547.8,89.0 548.2,88.0 548.7,87.0 549.5,86.0 550.5,85.1 551.5,84.4 552.5,83.8 553.5,83.4 554.5,83.0 555.5,82.7 556.5,82.4 557.5,82.2 558.5,82.0 559.5,81.8 560.5,81.6 561.5,81.5 562.5,81.4 563.5,81.5 564.5,81.6 565.5,81.8 566.5,81.9 567.5,82.1 568.5,82.2 569.5,82.4 570.5,82.6 571.5,82.7 572.5,82.9 573.5,83.1 574.5,83.2 575.5,83.4 576.5,83.6 577.5,83.7 578.5,83.9 579.5,84.1 580.5,84.2 581.5,84.4 582.5,84.4 583.5,84.4 584.5,84.4 585.5,84.3 586.5,84.2 587.5,84.1 588.5,84.1 589.5,84.0 590.5,83.9 591.5,83.8 592.5,83.7 593.5,83.6 594.5,83.5 595.5,83.4 596.5,83.3 597.5,83.1 598.5,83.0 599.5,82.9 600.5,82.7 601.5,82.5 602.5,82.4 603.5,82.2 604.5,82.1 605.5,82.0 606.5,82.0 607.5,81.9 608.5,81.8 609.5,81.7 610.5,81.5 611.5,81.4 612.5,81.3 613.5,81.2 614.5,81.0 615.5,80.9 616.5,80.7 617.5,80.6 618.5,80.4 619.5,80.3 620.5,80.2 621.5,80.1 622.5,80.0 623.5,79.8 624.5,79.7 625.5,79.6 626.5,79.5 627.5,79.3 628.5,79.2 629.5,79.0 630.5,78.9 631.5,78.8 632.5,78.6 633.5,78.5 634.5,78.3 635.5,78.2 636.5,78.0 637.5,77.9 638.5,77.8 639.5,77.7 640.5,77.7 641.5,77.6 642.5,77.5 643.5,77.4 644.5,77.4 645.5,77.3 646.5,77.2 647.5,77.2 648.5,77.1 649.5,77.0 650.5,76.9 651.5,76.8 652.5,76.8 653.5,76.7 654.5,76.6 655.5,76.5 656.5,76.4 657.5,76.2 658.5,76.1 659.5,75.9 660.5,75.6 661.5,75.3 662.5,74.8 663.5,74.2 664.5,73.3 665.5,72.3 666.5,71.0 667.2,70.0 667.8,69.0 668.4,68.0 668.8,67.0 669.3,66.0 669.7,65.0 670.2,64.0 670.5,63.1 670.9,62.0 671.3,61.0 671.7,60.0 672.1,59.0 672.5,58.0 672.8,57.0 673.2,56.0 673.6,55.0 674.0,54.0 674.4,53.0 674.8,52.0 675.2,51.0 675.7,50.0 676.1,49.0 676.5,48.0 676.9,47.0 677.3,46.0 677.7,45.0 678.0,44.0 678.4,43.0 678.7,42.0 679.0,41.0 679.3,40.0 679.5,39.1 679.8,38.0 680.0,37.0 680.2,36.0 680.4,35.0 680.6,34.0 680.7,33.0 680.9,32.0 681.1,31.0 681.2,30.0 681.3,29.0 681.4,28.0 681.6,27.0 681.7,26.0 681.8,25.0 681.9,24.0 681.9,23.0 682.0,22.0 682.1,21.0 682.1,20.0 682.2,19.0 682.2,18.0 682.2,17.0 682.2,16.0 682.2,15.0 683.5,15.0 684.5,15.0 684.5,16.0 684.5,17.0 684.5,18.0 684.5,19.0 684.5,20.0 684.5,21.0 684.5,22.0 684.5,23.0 684.5,24.0 684.5,25.0 684.5,26.0 684.5,27.0 684.5,28.0 684.5,29.0 684.5,30.0 684.5,31.0 684.5,32.0 684.5,33.0 684.5,34.0 684.5,35.0 684.5,36.0 684.5,37.0 684.5,38.0 684.5,39.0 684.5,40.0 684.5,41.0 684.5,42.0 684.5,43.0 684.5,44.0 684.5,45.0 684.5,46.0 684.5,47.0 684.5,48.0 684.5,49.0 684.5,50.0 684.5,51.0 684.5,52.0 684.5,53.0 684.5,54.0 684.5,55.0 684.5,56.0 684.5,57.0 684.5,58.0 684.5,59.0 684.5,60.0 684.5,61.0 684.5,62.0 684.5,63.0 684.5,64.0 684.5,65.0 684.5,66.0 684.5,67.0 684.5,68.0 684.5,69.0 684.5,70.0 684.5,71.0 684.5,72.0 684.5,73.0 684.5,74.0 684.5,75.0 684.5,76.0 684.5,77.0 684.5,78.0 684.5,79.0 684.5,80.0 684.5,81.0 684.5,82.0 684.5,83.0 684.5,84.0 684.5,85.0 684.5,86.0 684.5,87.0 684.5,88.0 684.5,89.0 684.5,90.0 684.5,91.0 684.5,92.0 684.5,93.0 684.5,94.0 684.5,95.0 684.5,96.0 684.5,97.0 684.5,98.0 684.5,99.0 684.5,100.0 684.5,101.0 684.5,102.0 684.5,103.0 684.5,104.0 684.5,105.0 684.5,106.0 684.5,107.0 684.5,108.0 684.5,109.0 684.5,110.0 684.5,111.0 684.5,112.0 684.5,113.0 684.5,114.0 684.5,115.0 684.5,116.0 684.5,117.0 684.5,118.0 684.5,119.0 684.5,120.0 684.5,121.0 684.5,122.0 684.5,123.0 684.5,124.0 684.5,125.0 684.5,126.0 684.5,127.0 684.5,128.0 684.5,129.0 684.5,130.0 684.5,131.0 684.5,132.0 683.5,132.5 682.5,132.4 681.5,132.2 680.5,131.9 679.5,131.7 678.5,131.4 677.5,131.1 676.5,130.8 675.5,130.4 674.5,130.1 673.5,129.8 672.5,129.5 671.5,129.3 670.5,129.0 669.5,128.9 668.5,128.7 667.5,128.7 666.5,128.7 665.5,128.7 664.5,128.8 663.5,129.0 662.5,129.2 661.5,129.5 660.5,129.8 659.5,130.2 658.5,130.6 657.7,131.0 656.5,131.6 655.5,132.2 654.5,132.8 653.5,133.5 652.5,134.2 651.5,135.0 650.5,136.0 649.5,137.0 648.6,138.0 647.8,139.0 647.1,140.0 646.5,140.8 645.8,142.0 645.2,143.0 644.7,144.0 644.2,145.0 643.8,146.0 643.3,147.0 642.9,148.0 642.5,149.0 642.2,150.0 641.8,151.0 641.3,152.0 640.9,153.0 640.4,154.0 639.8,155.0 639.1,156.0 638.2,157.0 637.0,158.0 635.5,159.0 634.5,159.5 633.5,160.0 632.5,160.4 631.5,160.8 630.5,161.1 629.5,161.4 628.5,161.7 627.5,162.0 626.5,162.2 625.5,162.5 624.5,162.7 623.5,163.0 622.5,163.2 621.5,163.5 620.5,163.7 619.6,164.0 618.5,164.4 617.5,164.7 616.5,165.1 615.5,165.6 614.7,166.0 613.5,166.8 612.5,167.8 611.9,169.0 611.8,170.0 612.0,171.0 612.5,171.8 613.5,173.0 614.5,173.8 615.5,174.6 616.5,175.2 617.5,175.8 618.5,176.5 619.4,177.0 620.5,177.7 621.5,178.3 622.5,179.0 623.5,179.9 624.4,181.0 625.1,182.0 625.5,182.9 625.9,184.0 626.2,185.0 626.4,186.0 626.7,187.0 626.9,188.0 627.2,189.0 627.6,190.0 627.9,191.0 628.3,192.0 628.7,193.0 629.1,194.0 629.6,195.0 630.1,196.0 630.7,197.0 631.2,198.0 631.8,199.0 632.4,200.0 633.0,201.0 633.7,202.0 634.3,203.0 635.0,204.0 635.8,205.0 636.5,206.0 637.3,207.0 638.1,208.0 638.9,209.0 639.5,209.8 640.2,211.0Z"/>
<path fill-rule="evenodd" fill="#208be8" d="M684.5,125.0 683.5,124.8 682.5,124.4 681.5,124.0 680.5,123.4 679.5,122.8 678.5,122.1 677.5,121.2 676.5,120.3 675.5,119.3 674.5,118.1 673.7,117.0 673.0,116.0 672.3,115.0 671.7,114.0 671.1,113.0 670.6,112.0 670.1,111.0 669.7,110.0 669.3,109.0 668.9,108.0 668.6,107.0 668.2,106.0 667.9,105.0 667.6,104.0 667.4,103.0 667.2,102.0 667.0,101.0 666.8,100.0 666.6,99.0 666.5,98.0 666.4,97.0 666.4,96.0 666.3,95.0 666.3,94.0 666.4,93.0 666.4,92.0 666.5,91.0 666.7,90.0 666.8,89.0 667.0,88.0 667.3,87.0 667.6,86.0 667.9,85.0 668.3,84.0 668.7,83.0 669.1,82.0 669.5,81.2 670.0,80.0 670.5,79.1 671.0,78.0 671.5,77.1 672.0,76.0 672.5,75.1 673.0,74.0 673.5,73.1 674.1,72.0 674.5,71.1 675.1,70.0 675.5,69.2 676.1,68.0 676.6,67.0 677.2,66.0 677.7,65.0 678.2,64.0 678.8,63.0 679.4,62.0 679.9,61.0 680.5,60.0 681.1,59.0 681.8,58.0 682.4,57.0 683.2,56.0 684.2,55.0 684.5,56.0 684.5,57.0 684.5,58.0 684.5,59.0 684.5,60.0 684.5,61.0 684.5,62.0 684.5,63.0 684.5,64.0 684.5,65.0 684.5,66.0 684.5,67.0 684.5,68.0 684.5,69.0 684.5,70.0 684.5,71.0 684.5,72.0 684.5,73.0 684.5,74.0 684.5,75.0 684.5,76.0 684.5,77.0 684.5,78.0 684.5,79.0 684.5,80.0 684.5,81.0 684.5,82.0 684.5,83.0 684.5,84.0 684.5,85.0 684.5,86.0 684.5,87.0 684.5,88.0 684.5,89.0 684.5,90.0 684.5,91.0 684.5,92.0 684.5,93.0 684.5,94.0 684.5,95.0 684.5,96.0 684.5,97.0 684.5,98.0 684.5,99.0 684.5,100.0 684.5,101.0 684.5,102.0 684.5,103.0 684.5,104.0 684.5,105.0 684.5,106.0 684.5,107.0 684.5,108.0 684.5,109.0 684.5,110.0 684.5,111.0 684.5,112.0 684.5,113.0 684.5,114.0 684.5,115.0 684.5,116.0 684.5,117.0 684.5,118.0 684.5,119.0 684.5,120.0 684.5,121.0 684.5,122.0 684.5,123.0 684.5,124.0 684.5,125.0ZM607.5,161.0 606.5,161.1 605.5,161.2 604.5,161.2 603.5,161.3 602.5,161.3 601.5,161.3 600.5,161.3 599.5,161.2 598.5,161.1 597.5,161.0 596.5,160.9 595.5,160.7 594.5,160.5 593.5,160.2 592.5,159.9 591.5,159.5 590.5,159.1 589.5,158.6 588.5,158.1 587.5,157.6 586.5,157.0 585.5,156.4 584.5,155.8 583.5,155.2 582.5,154.5 581.5,153.8 580.5,153.0 579.5,152.3 578.5,151.5 577.5,150.7 576.7,150.0 575.6,149.0 574.5,148.1 573.5,147.2 572.5,146.2 571.5,145.2 570.5,144.3 569.5,143.2 568.5,142.2 567.5,141.1 566.5,140.0 565.6,139.0 564.8,138.0 563.9,137.0 563.1,136.0 562.5,135.2 561.6,134.0 560.8,133.0 560.1,132.0 559.5,131.2 558.8,130.0 558.3,129.0 557.9,128.0 557.5,127.1 557.2,126.0 556.8,125.0 556.5,124.0 556.3,123.0 556.0,122.0 555.7,121.0 555.4,120.0 555.1,119.0 554.8,118.0 554.5,117.0 554.2,116.0 553.9,115.0 553.6,114.0 553.3,113.0 553.0,112.0 552.6,111.0 552.3,110.0 552.1,109.0 551.8,108.0 551.5,107.0 551.3,106.0 551.0,105.0 550.8,104.0 550.6,103.0 550.4,102.0 550.2,101.0 550.0,100.0 549.9,99.0 549.7,98.0 549.6,97.0 549.5,96.0 549.4,95.0 549.4,94.0 549.4,93.0 549.4,92.0 549.5,91.0 549.7,90.0 550.0,89.0 550.4,88.0 551.1,87.0 552.2,86.0 553.5,85.2 554.5,84.8 555.5,84.4 556.5,84.0 557.5,83.8 558.5,83.5 559.5,83.4 560.5,83.2 561.5,83.1 562.5,83.1 563.5,83.1 564.5,83.3 565.5,83.4 566.5,83.6 567.5,83.8 568.5,84.0 569.5,84.2 570.5,84.4 571.5,84.6 572.5,84.8 573.5,85.0 574.5,85.2 575.5,85.5 576.5,85.7 577.5,85.9 578.5,86.1 579.5,86.4 580.5,86.6 581.5,86.8 582.5,87.0 583.5,87.2 584.5,87.4 585.5,87.5 586.5,87.7 587.5,87.9 588.5,88.1 589.5,88.4 590.5,88.6 591.5,88.9 592.5,89.2 593.5,89.5 594.5,89.8 595.5,90.1 596.5,90.4 597.5,90.8 598.5,91.2 599.5,91.6 600.5,92.0 601.5,92.5 602.5,92.9 603.5,93.4 604.5,94.0 605.5,94.6 606.5,95.2 607.5,95.8 608.5,96.4 609.4,97.0 610.5,97.8 611.5,98.5 612.5,99.3 613.4,100.0 614.5,100.9 615.5,101.8 616.5,102.7 617.5,103.6 618.5,104.5 619.5,105.5 620.5,106.5 621.5,107.6 622.5,108.8 623.4,110.0 624.2,111.0 624.9,112.0 625.5,112.9 626.2,114.0 626.8,115.0 627.4,116.0 627.9,117.0 628.4,118.0 628.9,119.0 629.3,120.0 629.8,121.0 630.1,122.0 630.5,123.0 630.8,124.0 631.2,125.0 631.4,126.0 631.7,127.0 632.0,128.0 632.2,129.0 632.4,130.0 632.6,131.0 632.8,132.0 633.0,133.0 633.1,134.0 633.3,135.0 633.4,136.0 633.5,137.0 633.7,138.0 633.8,139.0 633.8,140.0 633.9,141.0 634.0,142.0 634.0,143.0 634.0,144.0 634.0,145.0 633.9,146.0 633.8,147.0 633.7,148.0 633.6,149.0 633.4,150.0 633.1,151.0 632.7,152.0 632.3,153.0 631.6,154.0 630.8,155.0 629.7,156.0 628.5,156.8 627.5,157.3 626.5,157.8 625.5,158.2 624.5,158.5 623.5,158.8 622.5,159.0 621.5,159.2 620.5,159.4 619.5,159.6 618.5,159.8 617.5,159.9 616.5,160.0 615.5,160.2 614.5,160.3 613.5,160.4 612.5,160.5 611.5,160.6 610.5,160.7 609.5,160.8 608.5,160.9 607.5,161.0ZM616.5,211.0 615.5,211.0 614.5,211.0 613.5,211.0 612.5,211.0 611.5,211.0 610.5,211.0 609.5,211.0 608.5,211.0 607.5,211.0 606.5,211.0 605.5,211.0 604.5,211.0 603.5,211.0 602.5,211.0 601.5,211.0 600.5,211.0 599.5,211.0 598.5,211.0 597.5,211.0 596.5,211.0 595.5,211.0 594.5,211.0 593.5,211.0 592.5,211.0 591.5,211.0 590.5,211.0 589.5,211.0 588.5,211.0 587.5,211.0 586.5,211.0 585.5,211.0 584.5,211.0 583.5,211.0 582.5,211.0 581.5,211.0 580.5,211.0 579.5,211.0 578.5,211.0 577.5,211.0 576.5,211.0 575.5,211.0 574.5,211.0 573.5,211.0 572.5,211.0 571.5,211.0 570.5,211.0 569.5,211.0 568.5,211.0 567.5,211.0 566.5,211.0 565.5,211.0 564.5,211.0 563.5,211.0 562.5,211.0 561.5,211.0 560.5,211.0 559.5,211.0 558.5,211.0 557.5,211.0 556.5,211.0 555.5,211.0 554.5,211.0 553.5,211.0 552.5,211.0 552.2,210.0 552.3,209.0 552.5,208.1 552.8,207.0 553.0,206.0 553.3,205.0 553.6,204.0 553.9,203.0 554.3,202.0 554.6,201.0 555.0,200.0 555.4,199.0 555.8,198.0 556.2,197.0 556.7,196.0 557.2,195.0 557.8,194.0 558.5,193.2 559.5,192.6 560.5,192.1 561.5,191.8 562.5,191.5 563.5,191.2 564.5,190.9 565.5,190.6 566.5,190.4 567.5,190.2 568.5,189.9 569.5,189.8 570.5,189.6 571.5,189.4 572.5,189.3 573.5,189.2 574.5,189.1 575.5,189.0 576.5,189.0 577.5,188.9 578.5,188.9 579.5,188.9 580.5,188.9 581.5,189.0 582.5,189.0 583.5,189.1 584.5,189.2 585.5,189.3 586.5,189.5 587.5,189.6 588.5,189.8 589.4,190.0 590.5,190.2 591.5,190.5 592.5,190.8 593.5,191.1 594.5,191.4 595.5,191.8 596.5,192.2 597.5,192.7 598.5,193.1 599.5,193.6 600.5,194.2 601.5,194.7 602.5,195.3 603.5,196.0 604.5,196.7 605.5,197.4 606.2,198.0 607.5,199.0 608.5,199.9 609.5,200.9 610.5,201.9 611.5,203.0 612.4,204.0 613.2,205.0 613.9,206.0 614.5,206.8 615.3,208.0 615.9,209.0 616.4,210.0 616.7,211.0Z"/>
<path fill-rule="evenodd" fill="#129bdc" d="M684.5,118.4 683.5,118.1 682.5,117.5 681.5,116.8 680.6,116.0 679.7,115.0 678.9,114.0 678.2,113.0 677.5,112.0 677.0,111.0 676.5,110.0 676.0,109.0 675.6,108.0 675.2,107.0 674.9,106.0 674.6,105.0 674.3,104.0 674.1,103.0 673.8,102.0 673.6,101.0 673.5,100.0 673.3,99.0 673.2,98.0 673.1,97.0 673.0,96.0 672.9,95.0 672.9,94.0 672.9,93.0 672.9,92.0 672.9,91.0 673.0,90.0 673.0,89.0 673.1,88.0 673.3,87.0 673.4,86.0 673.6,85.0 673.9,84.0 674.1,83.0 674.4,82.0 674.7,81.0 675.1,80.0 675.5,79.0 675.9,78.0 676.4,77.0 676.8,76.0 677.3,75.0 677.9,74.0 678.4,73.0 679.0,72.0 679.5,71.1 680.2,70.0 680.8,69.0 681.5,68.0 682.2,67.0 683.1,66.0 684.4,65.0 684.5,66.0 684.5,67.0 684.5,68.0 684.5,69.0 684.5,70.0 684.5,71.0 684.5,72.0 684.5,73.0 684.5,74.0 684.5,75.0 684.5,76.0 684.5,77.0 684.5,78.0 684.5,79.0 684.5,80.0 684.5,81.0 684.5,82.0 684.5,83.0 684.5,84.0 684.5,85.0 684.5,86.0 684.5,87.0 684.5,88.0 684.5,89.0 684.5,90.0 684.5,91.0 684.5,92.0 684.5,93.0 684.5,94.0 684.5,95.0 684.5,96.0 684.5,97.0 684.5,98.0 684.5,99.0 684.5,100.0 684.5,101.0 684.5,102.0 684.5,103.0 684.5,104.0 684.5,105.0 684.5,106.0 684.5,107.0 684.5,108.0 684.5,109.0 684.5,110.0 684.5,111.0 684.5,112.0 684.5,113.0 684.5,114.0 684.5,115.0 684.5,116.0 684.5,117.0 684.5,118.0ZM619.5,155.1 618.5,155.3 617.5,155.4 616.5,155.5 615.5,155.5 614.5,155.5 613.5,155.5 612.5,155.5 611.5,155.4 610.5,155.3 609.5,155.1 608.5,155.0 607.5,154.8 606.5,154.5 605.5,154.3 604.5,154.0 603.5,153.7 602.5,153.4 601.5,153.0 600.5,152.6 599.5,152.2 598.5,151.8 597.5,151.3 596.5,150.8 595.5,150.3 594.5,149.8 593.5,149.3 592.5,148.7 591.5,148.1 590.5,147.5 589.7,147.0 588.5,146.2 587.5,145.5 586.7,145.0 585.5,144.1 584.5,143.4 583.5,142.6 582.7,142.0 581.5,141.0 580.5,140.2 579.5,139.3 578.5,138.4 577.5,137.5 576.5,136.6 575.5,135.6 574.5,134.6 573.5,133.6 572.5,132.6 571.5,131.5 570.5,130.4 569.5,129.3 568.5,128.1 567.5,127.0 566.7,126.0 565.9,125.0 565.1,124.0 564.5,123.3 563.5,122.0 562.8,121.0 562.0,120.0 561.3,119.0 560.6,118.0 559.9,117.0 559.2,116.0 558.6,115.0 558.0,114.0 557.5,113.1 557.0,112.0 556.5,111.0 556.0,110.0 555.6,109.0 555.2,108.0 554.8,107.0 554.5,106.2 554.1,105.0 553.7,104.0 553.4,103.0 553.1,102.0 552.8,101.0 552.6,100.0 552.4,99.0 552.2,98.0 552.0,97.0 551.9,96.0 551.8,95.0 551.8,94.0 551.9,93.0 552.0,92.0 552.2,91.0 552.5,90.0 553.0,89.0 553.8,88.0 555.0,87.0 556.5,86.2 557.5,85.8 558.5,85.6 559.5,85.4 560.5,85.3 561.5,85.2 562.5,85.2 563.5,85.3 564.5,85.5 565.5,85.7 566.5,85.9 567.5,86.1 568.5,86.3 569.5,86.6 570.5,86.8 571.5,87.1 572.5,87.4 573.5,87.7 574.4,88.0 575.5,88.4 576.5,88.7 577.5,89.1 578.5,89.5 579.5,89.9 580.5,90.3 581.5,90.8 582.5,91.2 583.5,91.7 584.5,92.2 585.5,92.7 586.5,93.2 587.5,93.8 588.5,94.4 589.5,94.9 590.5,95.5 591.3,96.0 592.5,96.7 593.5,97.4 594.4,98.0 595.5,98.7 596.5,99.4 597.4,100.0 598.5,100.8 599.5,101.5 600.5,102.3 601.4,103.0 602.5,103.9 603.5,104.7 604.5,105.5 605.5,106.4 606.2,107.0 607.3,108.0 608.3,109.0 609.4,110.0 610.4,111.0 611.3,112.0 612.3,113.0 613.2,114.0 614.1,115.0 614.9,116.0 615.5,116.7 616.5,118.0 617.3,119.0 618.0,120.0 618.7,121.0 619.4,122.0 620.1,123.0 620.7,124.0 621.3,125.0 621.9,126.0 622.5,127.0 623.1,128.0 623.5,128.9 624.1,130.0 624.5,131.0 625.0,132.0 625.4,133.0 625.8,134.0 626.1,135.0 626.5,136.0 626.8,137.0 627.1,138.0 627.3,139.0 627.5,139.9 627.7,141.0 627.8,142.0 627.9,143.0 628.0,144.0 628.0,145.0 627.9,146.0 627.8,147.0 627.6,148.0 627.3,149.0 626.9,150.0 626.3,151.0 625.5,152.0 624.5,152.9 623.5,153.6 622.5,154.1 621.5,154.5 620.5,154.8 619.5,155.1ZM595.5,211.0 594.5,211.0 593.5,211.0 592.5,211.0 591.5,211.0 590.5,211.0 589.5,211.0 588.5,211.0 587.5,211.0 586.5,211.0 585.5,211.0 584.5,211.0 583.5,211.0 582.5,211.0 581.5,211.0 580.5,211.0 579.5,211.0 578.5,211.0 577.5,211.0 576.5,211.0 575.5,211.0 574.5,211.0 573.5,211.0 572.5,211.0 571.5,211.0 570.5,211.0 569.5,211.0 568.5,211.0 567.5,211.0 566.5,211.0 565.5,211.0 564.5,211.0 563.5,211.0 563.2,210.0 564.3,209.0 565.5,208.1 566.5,207.5 567.4,207.0 568.5,206.5 569.5,206.1 570.5,205.7 571.5,205.4 572.5,205.1 573.5,204.9 574.5,204.7 575.5,204.5 576.5,204.4 577.5,204.3 578.5,204.3 579.5,204.3 580.5,204.3 581.5,204.3 582.5,204.4 583.5,204.5 584.5,204.7 585.5,204.9 586.5,205.1 587.5,205.4 588.5,205.7 589.4,206.0 590.5,206.5 591.5,206.9 592.5,207.5 593.4,208.0 594.5,208.8 595.5,209.7 596.5,211.0 595.5,211.0Z"/>
<path fill-rule="evenodd" fill="#08acd0" d="M684.5,112.3 683.5,111.8 682.5,111.0 681.6,110.0 680.8,109.0 680.2,108.0 679.7,107.0 679.2,106.0 678.8,105.0 678.4,104.0 678.1,103.0 677.8,102.0 677.5,101.0 677.3,100.0 677.1,99.0 676.9,98.0 676.8,97.0 676.7,96.0 676.6,95.0 676.6,94.0 676.5,93.0 676.5,92.0 676.5,91.0 676.6,90.0 676.7,89.0 676.8,88.0 676.9,87.0 677.1,86.0 677.3,85.0 677.5,84.1 677.8,83.0 678.1,82.0 678.4,81.0 678.8,80.0 679.3,79.0 679.8,78.0 680.3,77.0 680.9,76.0 681.5,75.0 682.2,74.0 683.0,73.0 684.3,72.0 684.5,73.0 684.5,74.0 684.5,75.0 684.5,76.0 684.5,77.0 684.5,78.0 684.5,79.0 684.5,80.0 684.5,81.0 684.5,82.0 684.5,83.0 684.5,84.0 684.5,85.0 684.5,86.0 684.5,87.0 684.5,88.0 684.5,89.0 684.5,90.0 684.5,91.0 684.5,92.0 684.5,93.0 684.5,94.0 684.5,95.0 684.5,96.0 684.5,97.0 684.5,98.0 684.5,99.0 684.5,100.0 684.5,101.0 684.5,102.0 684.5,103.0 684.5,104.0 684.5,105.0 684.5,106.0 684.5,107.0 684.5,108.0 684.5,109.0 684.5,110.0 684.5,111.0 684.5,112.0ZM616.5,151.2 615.5,151.3 614.5,151.4 613.5,151.4 612.5,151.4 611.5,151.3 610.5,151.1 609.5,151.0 608.5,150.8 607.5,150.5 606.5,150.3 605.6,150.0 604.5,149.7 603.5,149.3 602.5,148.9 601.5,148.5 600.5,148.1 599.5,147.7 598.5,147.2 597.5,146.7 596.5,146.2 595.5,145.7 594.5,145.1 593.5,144.5 592.6,144.0 591.5,143.3 590.5,142.7 589.5,142.0 588.5,141.3 587.5,140.6 586.7,140.0 585.5,139.1 584.5,138.4 583.5,137.6 582.8,137.0 581.6,136.0 580.5,135.1 579.5,134.2 578.5,133.3 577.5,132.4 576.5,131.4 575.5,130.4 574.5,129.4 573.5,128.4 572.5,127.4 571.5,126.3 570.5,125.2 569.5,124.0 568.6,123.0 567.8,122.0 567.0,121.0 566.2,120.0 565.5,119.1 564.6,118.0 563.9,117.0 563.2,116.0 562.5,115.1 561.8,114.0 561.1,113.0 560.5,112.1 559.8,111.0 559.2,110.0 558.7,109.0 558.1,108.0 557.6,107.0 557.2,106.0 556.8,105.0 556.4,104.0 556.1,103.0 555.8,102.0 555.5,101.0 555.3,100.0 555.1,99.0 554.9,98.0 554.8,97.0 554.8,96.0 554.8,95.0 554.9,94.0 555.1,93.0 555.5,92.0 556.0,91.0 556.5,90.2 557.5,89.3 558.5,88.8 559.5,88.5 560.5,88.4 561.5,88.3 562.5,88.3 563.5,88.3 564.5,88.4 565.5,88.6 566.5,88.8 567.5,89.0 568.5,89.2 569.5,89.5 570.5,89.8 571.5,90.1 572.5,90.4 573.5,90.8 574.5,91.2 575.5,91.6 576.4,92.0 577.5,92.5 578.5,92.9 579.5,93.4 580.5,93.9 581.5,94.4 582.5,94.9 583.5,95.5 584.5,96.0 585.5,96.6 586.5,97.2 587.5,97.8 588.5,98.4 589.4,99.0 590.5,99.7 591.5,100.4 592.4,101.0 593.5,101.7 594.5,102.5 595.2,103.0 596.5,104.0 597.5,104.7 598.5,105.5 599.5,106.3 600.3,107.0 601.5,108.0 602.5,108.9 603.5,109.8 604.5,110.7 605.5,111.7 606.5,112.7 607.5,113.7 608.5,114.7 609.5,115.8 610.5,116.9 611.4,118.0 612.3,119.0 613.1,120.0 613.9,121.0 614.5,121.8 615.4,123.0 616.1,124.0 616.7,125.0 617.4,126.0 618.0,127.0 618.5,127.8 619.2,129.0 619.7,130.0 620.2,131.0 620.7,132.0 621.2,133.0 621.6,134.0 622.0,135.0 622.3,136.0 622.7,137.0 622.9,138.0 623.2,139.0 623.3,140.0 623.5,141.0 623.6,142.0 623.6,143.0 623.5,143.9 623.3,145.0 623.1,146.0 622.7,147.0 622.1,148.0 621.5,148.7 620.5,149.6 619.5,150.2 618.5,150.7 617.5,151.0 616.5,151.2Z"/>
<path fill-rule="evenodd" fill="#0fb8c2" d="M684.5,105.9 683.5,105.2 682.5,104.0 682.0,103.0 681.5,102.0 681.1,101.0 680.8,100.0 680.5,99.0 680.3,98.0 680.1,97.0 679.9,96.0 679.8,95.0 679.7,94.0 679.7,93.0 679.7,92.0 679.7,91.0 679.8,90.0 679.8,89.0 680.0,88.0 680.1,87.0 680.3,86.0 680.6,85.0 680.9,84.0 681.2,83.0 681.6,82.0 682.1,81.0 682.7,80.0 683.4,79.0 684.5,78.1 684.5,80.0 684.5,81.0 684.5,82.0 684.5,83.0 684.5,84.0 684.5,85.0 684.5,86.0 684.5,87.0 684.5,88.0 684.5,89.0 684.5,90.0 684.5,91.0 684.5,92.0 684.5,93.0 684.5,94.0 684.5,95.0 684.5,96.0 684.5,97.0 684.5,98.0 684.5,99.0 684.5,100.0 684.5,101.0 684.5,102.0 684.5,103.0 684.5,104.0 684.5,105.0 684.5,105.9ZM616.5,147.0 615.5,147.4 614.5,147.7 613.5,147.9 612.5,148.0 611.5,148.0 610.5,147.9 609.5,147.8 608.5,147.7 607.5,147.5 606.5,147.2 605.5,147.0 604.5,146.7 603.5,146.3 602.6,146.0 601.5,145.6 600.5,145.2 599.5,144.7 598.5,144.2 597.5,143.8 596.5,143.2 595.5,142.7 594.5,142.1 593.5,141.6 592.6,141.0 591.5,140.3 590.5,139.7 589.5,139.0 588.5,138.3 587.5,137.6 586.7,137.0 585.5,136.1 584.5,135.3 583.5,134.5 582.5,133.7 581.7,133.0 580.5,132.0 579.5,131.1 578.5,130.2 577.5,129.2 576.5,128.3 575.5,127.3 574.5,126.2 573.5,125.2 572.5,124.1 571.5,123.0 570.6,122.0 569.8,121.0 568.9,120.0 568.1,119.0 567.5,118.2 566.6,117.0 565.9,116.0 565.1,115.0 564.5,114.1 563.8,113.0 563.1,112.0 562.5,111.0 561.9,110.0 561.3,109.0 560.8,108.0 560.3,107.0 559.8,106.0 559.4,105.0 559.0,104.0 558.6,103.0 558.3,102.0 558.0,101.0 557.9,100.0 557.7,99.0 557.7,98.0 557.7,97.0 557.8,96.0 558.1,95.0 558.5,94.1 559.4,93.0 560.5,92.3 561.5,91.9 562.5,91.7 563.5,91.5 564.5,91.5 565.5,91.5 566.5,91.6 567.5,91.8 568.5,91.9 569.5,92.2 570.5,92.4 571.5,92.7 572.4,93.0 573.5,93.4 574.5,93.7 575.5,94.1 576.5,94.6 577.5,95.0 578.5,95.4 579.5,95.9 580.5,96.4 581.5,96.9 582.5,97.5 583.4,98.0 584.5,98.6 585.5,99.2 586.5,99.8 587.5,100.4 588.4,101.0 589.5,101.7 590.5,102.4 591.4,103.0 592.5,103.8 593.5,104.5 594.5,105.3 595.4,106.0 596.5,106.9 597.5,107.7 598.5,108.5 599.5,109.4 600.2,110.0 601.3,111.0 602.4,112.0 603.5,113.0 604.5,114.0 605.5,115.0 606.4,116.0 607.3,117.0 608.2,118.0 609.1,119.0 609.9,120.0 610.5,120.7 611.5,122.0 612.3,123.0 613.0,124.0 613.7,125.0 614.3,126.0 615.0,127.0 615.5,127.9 616.2,129.0 616.7,130.0 617.2,131.0 617.7,132.0 618.1,133.0 618.5,133.9 618.9,135.0 619.2,136.0 619.5,137.0 619.7,138.0 619.9,139.0 620.0,140.0 620.0,141.0 619.9,142.0 619.7,143.0 619.4,144.0 618.8,145.0 618.0,146.0 616.6,147.0Z"/>
<path fill-rule="evenodd" fill="#28beaa" d="M684.5,96.8 683.8,95.0 683.5,94.0 683.4,93.0 683.4,92.0 683.4,91.0 683.5,90.0 683.7,89.0 684.1,88.0 684.5,87.0 684.5,88.0 684.5,89.0 684.5,90.0 684.5,91.0 684.5,92.0 684.5,93.0 684.5,94.0 684.5,95.0 684.5,96.0ZM610.5,145.1 609.5,145.1 608.5,145.0 607.5,144.9 606.5,144.7 605.5,144.5 604.5,144.2 603.5,143.9 602.5,143.6 601.5,143.2 600.5,142.8 599.5,142.4 598.6,142.0 597.5,141.5 596.6,141.0 595.5,140.5 594.7,140.0 593.5,139.3 592.5,138.7 591.5,138.1 590.5,137.4 589.5,136.8 588.5,136.1 587.5,135.3 586.5,134.6 585.7,134.0 584.5,133.0 583.5,132.2 582.5,131.4 581.5,130.6 580.5,129.7 579.8,129.0 578.7,128.0 577.7,127.0 576.6,126.0 575.7,125.0 574.7,124.0 573.8,123.0 572.9,122.0 572.0,121.0 571.1,120.0 570.5,119.2 569.5,118.0 568.7,117.0 568.0,116.0 567.3,115.0 566.6,114.0 565.9,113.0 565.3,112.0 564.7,111.0 564.1,110.0 563.5,109.0 563.0,108.0 562.6,107.0 562.1,106.0 561.7,105.0 561.4,104.0 561.1,103.0 560.9,102.0 560.7,101.0 560.6,100.0 560.7,99.0 560.9,98.0 561.2,97.0 561.9,96.0 563.3,95.0 564.5,94.6 565.5,94.4 566.5,94.3 567.5,94.3 568.5,94.4 569.5,94.5 570.5,94.7 571.5,94.9 572.5,95.2 573.5,95.5 574.5,95.9 575.5,96.2 576.5,96.6 577.4,97.0 578.5,97.5 579.5,98.0 580.5,98.4 581.5,99.0 582.5,99.5 583.4,100.0 584.5,100.6 585.5,101.2 586.5,101.8 587.5,102.5 588.3,103.0 589.5,103.8 590.5,104.5 591.5,105.2 592.5,105.9 593.5,106.7 594.5,107.5 595.5,108.3 596.4,109.0 597.5,109.9 598.5,110.8 599.5,111.7 600.5,112.6 601.5,113.6 602.5,114.5 603.5,115.5 604.5,116.6 605.5,117.7 606.5,118.8 607.5,120.0 608.3,121.0 609.1,122.0 609.9,123.0 610.5,123.9 611.3,125.0 612.0,126.0 612.5,126.9 613.2,128.0 613.8,129.0 614.3,130.0 614.8,131.0 615.2,132.0 615.6,133.0 616.0,134.0 616.3,135.0 616.5,136.0 616.7,137.0 616.8,138.0 616.9,139.0 616.8,140.0 616.6,141.0 616.2,142.0 615.5,143.0 614.5,143.9 613.5,144.4 612.5,144.8 611.5,145.0 610.5,145.1Z"/>
<path fill-rule="evenodd" fill="#4bc18c" d="M610.5,142.2 609.5,142.4 608.5,142.5 607.5,142.5 606.5,142.4 605.5,142.3 604.5,142.1 603.5,141.8 602.5,141.6 601.5,141.2 600.5,140.9 599.5,140.5 598.5,140.0 597.5,139.6 596.5,139.1 595.5,138.6 594.5,138.0 593.5,137.4 592.5,136.8 591.5,136.2 590.5,135.6 589.6,135.0 588.5,134.2 587.5,133.5 586.5,132.7 585.5,132.0 584.5,131.2 583.5,130.4 582.5,129.5 581.5,128.6 580.8,128.0 579.7,127.0 578.7,126.0 577.6,125.0 576.6,124.0 575.7,123.0 574.8,122.0 573.9,121.0 573.0,120.0 572.2,119.0 571.5,118.2 570.6,117.0 569.8,116.0 569.1,115.0 568.5,114.1 567.8,113.0 567.2,112.0 566.6,111.0 566.0,110.0 565.5,109.0 565.0,108.0 564.6,107.0 564.2,106.0 563.9,105.0 563.6,104.0 563.5,103.0 563.4,102.0 563.4,101.0 563.6,100.0 564.0,99.0 564.8,98.0 566.5,97.1 567.5,96.9 568.5,96.8 569.5,96.8 570.5,96.9 571.5,97.0 572.5,97.2 573.5,97.5 574.5,97.7 575.5,98.1 576.5,98.4 577.5,98.8 578.5,99.3 579.5,99.7 580.5,100.2 581.5,100.7 582.5,101.2 583.5,101.8 584.5,102.3 585.5,102.9 586.5,103.5 587.5,104.2 588.5,104.8 589.5,105.5 590.5,106.2 591.5,107.0 592.5,107.7 593.5,108.5 594.5,109.3 595.4,110.0 596.5,111.0 597.5,111.8 598.5,112.7 599.5,113.7 600.5,114.6 601.5,115.6 602.5,116.7 603.5,117.7 604.5,118.8 605.5,120.0 606.3,121.0 607.1,122.0 607.9,123.0 608.5,123.9 609.3,125.0 609.9,126.0 610.5,126.9 611.1,128.0 611.7,129.0 612.2,130.0 612.6,131.0 613.0,132.0 613.4,133.0 613.7,134.0 613.9,135.0 614.0,136.0 614.1,137.0 614.0,138.0 613.8,139.0 613.4,140.0 612.6,141.0 611.5,141.8 610.5,142.2Z"/>
<path fill-rule="evenodd" fill="#73c26e" d="M607.5,140.1 606.5,140.1 605.5,140.1 604.5,140.0 603.5,139.9 602.5,139.6 601.5,139.4 600.5,139.0 599.5,138.7 598.5,138.3 597.5,137.9 596.5,137.4 595.5,136.9 594.5,136.4 593.5,135.8 592.5,135.2 591.5,134.6 590.6,134.0 589.5,133.3 588.5,132.6 587.7,132.0 586.5,131.1 585.5,130.3 584.5,129.5 583.5,128.7 582.7,128.0 581.6,127.0 580.5,126.0 579.5,125.1 578.5,124.1 577.5,123.1 576.5,122.0 575.6,121.0 574.7,120.0 573.9,119.0 573.0,118.0 572.3,117.0 571.5,116.0 570.8,115.0 570.1,114.0 569.5,113.0 568.9,112.0 568.3,111.0 567.8,110.0 567.3,109.0 566.9,108.0 566.5,107.0 566.2,106.0 566.0,105.0 565.9,104.0 565.9,103.0 566.1,102.0 566.5,101.0 567.4,100.0 568.5,99.4 569.5,99.1 570.5,99.0 571.5,99.0 572.5,99.1 573.5,99.3 574.5,99.5 575.5,99.8 576.5,100.1 577.5,100.5 578.5,100.9 579.5,101.3 580.5,101.8 581.5,102.3 582.5,102.8 583.5,103.3 584.5,103.9 585.5,104.5 586.4,105.0 587.5,105.7 588.5,106.4 589.4,107.0 590.5,107.8 591.5,108.5 592.5,109.3 593.4,110.0 594.5,110.9 595.5,111.8 596.5,112.6 597.5,113.5 598.5,114.5 599.5,115.4 600.5,116.5 601.5,117.5 602.5,118.6 603.5,119.8 604.5,121.0 605.3,122.0 606.1,123.0 606.8,124.0 607.5,125.0 608.1,126.0 608.7,127.0 609.3,128.0 609.8,129.0 610.2,130.0 610.6,131.0 611.0,132.0 611.2,133.0 611.4,134.0 611.5,135.0 611.5,136.0 611.3,137.0 610.9,138.0 610.0,139.0 608.5,139.8 607.5,140.1Z"/>
<path fill-rule="evenodd" fill="#a0bf55" d="M607.5,137.1 606.5,137.6 605.5,137.8 604.5,137.9 603.5,137.9 602.5,137.7 601.5,137.5 600.5,137.3 599.6,137.0 598.5,136.6 597.5,136.2 596.5,135.8 595.5,135.3 594.5,134.8 593.5,134.3 592.5,133.7 591.5,133.1 590.5,132.4 589.5,131.8 588.5,131.1 587.5,130.4 586.5,129.6 585.7,129.0 584.5,128.0 583.5,127.2 582.5,126.3 581.5,125.4 580.5,124.4 579.5,123.5 578.5,122.4 577.5,121.4 576.5,120.3 575.5,119.1 574.6,118.0 573.8,117.0 573.1,116.0 572.5,115.2 571.7,114.0 571.1,113.0 570.5,112.0 570.0,111.0 569.5,110.0 569.1,109.0 568.8,108.0 568.5,107.0 568.3,106.0 568.3,105.0 568.4,104.0 568.8,103.0 569.5,102.1 570.5,101.6 571.5,101.3 572.5,101.2 573.5,101.2 574.5,101.3 575.5,101.5 576.5,101.8 577.5,102.1 578.5,102.4 579.5,102.8 580.5,103.3 581.5,103.7 582.5,104.2 583.5,104.8 584.5,105.3 585.5,105.9 586.5,106.5 587.5,107.2 588.5,107.8 589.5,108.5 590.5,109.3 591.5,110.0 592.5,110.8 593.5,111.6 594.5,112.4 595.5,113.3 596.3,114.0 597.3,115.0 598.4,116.0 599.3,117.0 600.3,118.0 601.2,119.0 602.1,120.0 602.9,121.0 603.5,121.8 604.4,123.0 605.1,124.0 605.8,125.0 606.4,126.0 606.9,127.0 607.5,128.0 607.9,129.0 608.3,130.0 608.6,131.0 608.9,132.0 609.0,133.0 609.0,134.0 608.9,135.0 608.5,136.0 607.6,137.0Z"/>
<path fill-rule="evenodd" fill="#cdba3e" d="M604.5,135.4 603.5,135.6 602.5,135.7 601.5,135.6 600.5,135.5 599.5,135.3 598.6,135.0 597.5,134.6 596.5,134.2 595.5,133.8 594.5,133.3 593.5,132.8 592.5,132.2 591.5,131.6 590.5,131.0 589.5,130.3 588.5,129.6 587.6,129.0 586.5,128.2 585.5,127.4 584.5,126.5 583.5,125.7 582.7,125.0 581.7,124.0 580.6,123.0 579.6,122.0 578.7,121.0 577.8,120.0 577.0,119.0 576.1,118.0 575.5,117.2 574.6,116.0 573.9,115.0 573.3,114.0 572.7,113.0 572.2,112.0 571.7,111.0 571.3,110.0 571.0,109.0 570.7,108.0 570.6,107.0 570.7,106.0 571.0,105.0 571.9,104.0 573.5,103.4 574.5,103.3 575.5,103.4 576.5,103.5 577.5,103.7 578.4,104.0 579.5,104.4 580.5,104.8 581.5,105.2 582.5,105.7 583.5,106.2 584.5,106.7 585.5,107.3 586.5,107.9 587.5,108.6 588.5,109.2 589.5,109.9 590.5,110.7 591.5,111.4 592.2,112.0 593.4,113.0 594.5,113.9 595.5,114.8 596.5,115.8 597.5,116.8 598.5,117.8 599.5,118.9 600.5,120.0 601.3,121.0 602.1,122.0 602.8,123.0 603.5,124.0 604.1,125.0 604.7,126.0 605.2,127.0 605.7,128.0 606.0,129.0 606.4,130.0 606.6,131.0 606.6,132.0 606.5,133.0 606.2,134.0 605.5,134.8 604.5,135.4Z"/>
<path fill-rule="evenodd" fill="#eeb637" d="M602.5,133.2 601.5,133.4 600.5,133.5 599.5,133.4 598.5,133.2 597.5,133.0 596.5,132.6 595.5,132.2 594.5,131.8 593.5,131.3 592.5,130.7 591.5,130.2 590.5,129.6 589.6,129.0 588.5,128.2 587.5,127.5 586.5,126.7 585.6,126.0 584.5,125.1 583.5,124.2 582.5,123.3 581.5,122.3 580.5,121.3 579.5,120.2 578.5,119.0 577.7,118.0 576.9,117.0 576.2,116.0 575.5,115.0 574.9,114.0 574.4,113.0 573.9,112.0 573.5,111.0 573.2,110.0 573.1,109.0 573.1,108.0 573.3,107.0 574.2,106.0 575.5,105.5 576.5,105.5 577.5,105.5 578.5,105.7 579.5,106.0 580.5,106.3 581.5,106.7 582.5,107.1 583.5,107.6 584.5,108.1 585.5,108.7 586.5,109.3 587.5,109.9 588.5,110.6 589.5,111.3 590.4,112.0 591.5,112.8 592.5,113.7 593.5,114.5 594.5,115.4 595.5,116.4 596.5,117.4 597.5,118.4 598.5,119.6 599.5,120.8 600.5,122.0 601.2,123.0 601.8,124.0 602.4,125.0 602.9,126.0 603.4,127.0 603.8,128.0 604.0,129.0 604.2,130.0 604.1,131.0 603.8,132.0 602.8,133.0Z"/>
<path fill-rule="evenodd" fill="#fabe30" d="M599.5,131.1 598.5,131.2 597.5,131.1 596.5,130.8 595.5,130.5 594.5,130.2 593.5,129.7 592.5,129.2 591.5,128.7 590.5,128.1 589.5,127.4 588.5,126.7 587.5,126.0 586.5,125.2 585.5,124.4 584.5,123.5 583.5,122.6 582.5,121.6 581.5,120.6 580.5,119.5 579.5,118.3 578.5,117.0 577.8,116.0 577.2,115.0 576.7,114.0 576.2,113.0 575.8,112.0 575.6,111.0 575.5,110.0 575.8,109.0 576.5,108.2 577.5,107.8 578.5,107.7 579.5,107.8 580.5,108.0 581.5,108.3 582.5,108.7 583.5,109.1 584.5,109.6 585.5,110.2 586.5,110.8 587.5,111.4 588.4,112.0 589.5,112.8 590.5,113.5 591.5,114.3 592.3,115.0 593.4,116.0 594.5,117.0 595.5,118.0 596.4,119.0 597.2,120.0 598.0,121.0 598.8,122.0 599.5,123.0 600.1,124.0 600.5,124.8 601.0,126.0 601.4,127.0 601.6,128.0 601.6,129.0 601.2,130.0 600.5,130.7 599.5,131.1Z"/>
<path fill-rule="evenodd" fill="#facf2a" d="M597.5,128.4 596.5,128.6 595.5,128.5 594.5,128.2 593.5,127.9 592.5,127.5 591.5,127.0 590.5,126.4 589.5,125.8 588.5,125.1 587.5,124.4 586.5,123.6 585.5,122.7 584.7,122.0 583.7,121.0 582.7,120.0 581.9,119.0 581.1,118.0 580.5,117.2 579.7,116.0 579.2,115.0 578.7,114.0 578.4,113.0 578.4,112.0 578.7,111.0 579.5,110.4 580.5,110.3 581.5,110.3 582.5,110.6 583.5,110.9 584.5,111.3 585.5,111.8 586.5,112.4 587.5,113.0 588.5,113.7 589.5,114.4 590.3,115.0 591.5,116.0 592.5,116.9 593.5,117.9 594.5,118.9 595.4,120.0 596.2,121.0 596.9,122.0 597.5,122.9 598.0,124.0 598.5,125.0 598.7,126.0 598.7,127.0 598.2,128.0Z"/>
<path fill-rule="evenodd" fill="#f9e123" d="M594.5,125.1 593.5,125.3 592.5,125.1 591.5,124.8 590.5,124.3 589.5,123.7 588.5,123.1 587.5,122.3 586.5,121.5 585.5,120.5 584.5,119.5 583.5,118.2 582.7,117.0 582.2,116.0 582.0,115.0 582.1,114.0 583.5,113.5 584.5,113.7 585.5,114.0 586.5,114.5 587.5,115.0 588.5,115.7 589.5,116.4 590.5,117.3 591.3,118.0 592.3,119.0 593.1,120.0 593.9,121.0 594.5,122.0 594.9,123.0 595.1,124.0 594.7,125.0Z"/>
<path d="M526.9,15.0V211.0M487.5,54.2H684.5M566.3,15.0V211.0M487.5,93.4H684.5M605.7,15.0V211.0M487.5,132.6H684.5M645.1,15.0V211.0M487.5,171.8H684.5" stroke="#000" stroke-opacity="0.13" stroke-width="1" fill="none"/>
<line x1="487.5" y1="15.0" x2="684.5" y2="211.0" stroke="#1a1a1a" stroke-width="1.05"/>
</g>
<path d="M526.9,15.0v2.2M526.9,211.0v-2.2M487.5,54.2h2.2M684.5,54.2h-2.2M566.3,15.0v2.2M566.3,211.0v-2.2M487.5,93.4h2.2M684.5,93.4h-2.2M605.7,15.0v2.2M605.7,211.0v-2.2M487.5,132.6h2.2M684.5,132.6h-2.2M645.1,15.0v2.2M645.1,211.0v-2.2M487.5,171.8h2.2M684.5,171.8h-2.2" stroke="#444" stroke-width="0.9" fill="none"/>
<rect x="487.5" y="15.0" width="197.0" height="196.0" fill="none" stroke="#4a4a4a" stroke-width="1.1"/>
<text x="585.7" y="30.3" font-size="14.2" text-anchor="middle" font-weight="normal" font-style="normal" fill="#000" >Simulation</text>
<clipPath id="clipd"><rect x="286.5" y="238.3" width="197.0" height="196.0"/></clipPath>
<g clip-path="url(#clipd)">
<rect x="286.5" y="238.3" width="197.0" height="196.0" fill="#fff"/>
<path fill-rule="evenodd" fill="#dbe7fc" d="M483.5,434.3 482.5,434.3 481.5,434.3 480.5,434.3 479.5,434.3 478.5,434.3 477.5,434.3 476.5,434.3 475.5,434.3 474.5,434.3 473.5,434.3 472.5,434.3 471.5,434.3 470.5,434.3 469.5,434.3 468.5,434.3 467.5,434.3 466.5,434.3 465.5,434.3 464.5,434.3 463.5,434.3 462.5,434.3 461.5,434.3 460.5,434.3 459.5,434.3 458.5,434.3 457.5,434.3 456.5,434.3 455.5,434.3 454.5,434.3 453.5,434.3 452.5,434.3 451.5,434.3 450.5,434.3 449.5,434.3 448.5,434.3 447.5,434.3 446.5,434.3 445.5,434.3 444.5,434.3 443.5,434.3 442.5,434.3 441.5,434.3 440.5,434.3 439.5,434.3 438.5,434.3 437.5,434.3 436.5,434.3 435.5,434.3 434.5,434.3 433.5,434.3 432.5,434.3 431.5,434.3 430.5,434.3 429.5,434.3 428.5,434.3 427.5,434.3 426.5,434.3 425.5,434.3 424.5,434.3 423.5,434.3 422.5,434.3 421.5,434.3 420.5,434.3 419.5,434.3 418.5,434.3 417.5,434.3 416.5,434.3 415.5,434.3 414.5,434.3 413.5,434.3 412.5,434.3 411.5,434.3 410.5,434.3 409.5,434.3 408.5,434.3 407.5,434.3 406.5,434.3 405.5,434.3 404.5,434.3 403.5,434.3 402.5,434.3 401.5,434.3 400.5,434.3 399.5,434.3 398.5,434.3 397.5,434.3 396.5,434.3 395.5,434.3 394.5,434.3 393.5,434.3 392.5,434.3 391.5,434.3 390.5,434.3 389.5,434.3 388.5,434.3 387.5,434.3 386.5,434.3 385.5,434.3 384.5,434.3 383.5,434.3 382.5,434.3 381.5,434.3 380.5,434.3 379.5,434.3 378.5,434.3 377.5,434.3 376.5,434.3 375.5,434.3 374.5,434.3 373.5,434.3 372.5,434.3 371.5,434.3 370.5,434.3 369.5,434.3 368.5,434.3 367.5,434.3 366.5,434.3 365.5,434.3 364.5,434.3 363.5,434.3 362.5,434.3 361.5,433.6 360.5,433.2 359.5,433.1 358.5,433.0 357.5,433.1 356.5,433.2 355.5,433.7 354.5,434.3 353.5,434.3 352.5,434.3 351.5,434.3 350.5,434.3 349.5,434.3 348.5,434.3 347.5,434.3 346.5,434.3 345.5,434.3 344.5,434.3 343.5,434.3 342.5,434.3 341.5,434.3 340.5,434.3 339.5,434.3 338.5,434.3 337.5,434.3 336.5,434.3 335.5,434.3 334.5,434.3 333.5,434.3 332.5,434.3 331.5,434.3 330.5,434.3 329.5,434.3 328.5,434.3 327.5,434.3 327.1,433.3 326.8,432.3 326.3,431.3 325.5,430.5 324.5,430.2 323.5,430.3 322.5,431.0 321.9,432.3 321.7,433.3 321.6,434.3 320.5,434.3 319.5,434.3 318.5,434.3 317.5,434.3 316.5,434.3 315.5,434.3 314.5,434.3 313.5,434.3 313.0,433.3 313.4,432.3 314.3,431.3 315.5,430.4 316.5,429.7 317.5,429.1 318.5,428.6 319.5,427.9 320.3,427.3 321.4,426.3 322.4,425.3 323.5,424.3 324.4,423.3 324.9,422.3 324.8,421.3 323.6,420.3 322.5,419.9 321.5,419.6 320.5,419.2 319.5,418.7 318.5,418.2 317.5,417.8 316.5,417.6 315.5,417.5 314.5,417.3 313.5,417.1 312.5,416.4 312.0,415.3 311.8,414.3 311.7,413.3 311.6,412.3 311.4,411.3 310.9,410.3 310.0,409.3 308.6,408.3 307.5,407.6 306.5,407.0 305.5,406.3 304.5,405.6 303.5,404.8 302.7,404.3 301.5,403.6 300.6,403.3 299.5,403.0 298.5,402.9 297.5,402.9 296.5,402.9 295.5,402.5 294.5,401.3 294.0,400.3 293.7,399.3 293.3,398.3 292.9,397.3 292.5,396.3 292.1,395.3 291.6,394.3 290.7,393.3 289.5,392.6 288.5,392.4 287.5,392.4 286.5,392.3 286.5,391.3 286.5,390.3 286.5,389.3 286.5,388.3 286.5,387.3 286.5,386.3 286.5,385.3 286.5,384.3 286.5,383.3 286.5,382.3 286.5,381.3 286.5,380.3 286.5,379.3 286.5,378.3 286.5,377.3 286.5,376.3 286.5,375.3 286.5,374.3 286.5,373.3 286.5,372.3 286.5,371.3 286.5,370.3 286.5,369.3 286.5,368.3 286.5,367.3 286.5,366.3 286.5,365.3 286.5,364.3 286.5,363.3 286.5,362.3 286.5,361.3 286.5,360.3 286.5,359.3 286.5,358.3 286.5,357.3 286.5,356.3 286.5,355.3 286.5,354.3 286.5,353.3 286.5,352.3 286.5,351.3 286.5,350.3 286.5,349.3 286.5,348.3 286.5,347.3 286.5,346.3 286.5,345.3 286.5,344.3 286.5,343.3 286.5,342.3 286.5,341.3 286.5,340.3 286.5,339.3 286.5,338.3 286.5,337.3 286.5,336.3 286.5,335.3 286.5,334.3 286.5,333.3 286.5,332.3 286.5,331.3 286.5,330.3 286.5,329.3 286.5,328.3 286.5,327.3 286.5,326.3 286.5,325.3 286.5,324.3 286.5,323.3 286.5,322.3 286.5,321.3 286.5,320.3 286.5,319.3 286.5,318.3 286.5,317.3 286.5,316.3 286.5,315.3 286.5,314.3 286.5,313.3 286.5,312.3 286.5,311.3 286.5,310.3 286.5,309.3 286.5,308.3 286.5,307.3 286.5,306.3 286.5,305.3 286.5,304.3 286.5,303.3 286.5,302.3 286.5,301.3 286.5,300.3 286.5,299.3 286.5,298.3 286.5,297.3 286.5,296.3 286.5,295.3 286.5,294.3 286.5,293.3 286.5,292.3 286.5,291.3 286.5,290.3 286.5,289.3 286.5,288.3 286.5,287.3 286.5,286.3 286.5,285.3 286.5,284.3 286.5,283.3 286.5,282.3 286.5,281.3 286.5,280.3 286.5,279.3 286.5,278.3 286.5,277.3 286.5,276.3 286.5,275.3 286.5,274.3 286.5,273.3 286.5,272.3 286.5,271.3 286.5,270.3 286.5,269.3 286.5,268.3 286.5,267.3 286.5,266.3 286.5,265.3 286.5,264.3 286.5,263.3 286.5,262.3 286.5,261.3 286.5,260.3 286.5,259.3 286.5,258.3 286.5,257.3 286.5,256.3 286.5,255.3 286.5,254.3 286.5,253.3 286.5,252.3 286.5,251.3 286.5,250.3 286.5,249.3 286.5,248.3 286.5,247.3 286.5,246.3 286.5,245.3 286.5,244.3 286.5,243.3 286.5,242.3 286.5,241.3 286.5,240.3 286.5,239.3 286.5,238.3 287.5,238.3 288.5,238.3 289.5,238.3 290.5,238.3 291.5,238.3 292.5,238.3 293.5,238.3 294.5,238.3 295.5,238.3 296.5,238.3 297.5,238.3 298.5,238.3 299.5,238.3 300.5,238.9 301.5,239.8 302.5,240.6 303.5,241.3 304.5,241.8 305.5,241.9 306.5,241.8 307.5,241.6 308.5,241.3 309.5,241.1 310.5,241.0 311.5,240.9 312.5,241.0 313.5,241.3 314.5,241.8 315.4,242.3 316.5,242.9 317.5,242.7 318.1,241.3 318.4,240.3 318.7,239.3 318.9,238.3 320.5,238.3 321.5,238.3 322.5,238.3 323.5,238.3 324.5,238.3 325.5,238.3 326.5,238.3 327.5,238.3 328.5,238.3 329.5,238.3 330.5,238.3 331.5,238.3 332.5,238.3 333.5,238.3 334.5,238.3 335.5,238.3 336.5,238.3 337.5,238.3 338.5,238.3 339.5,238.3 340.5,238.3 341.5,238.3 342.5,238.3 343.5,238.3 344.5,238.3 345.5,238.3 346.5,238.3 347.5,238.3 348.5,238.3 349.5,238.3 350.5,238.3 351.5,238.3 352.5,238.3 353.5,238.3 354.5,238.3 355.5,238.3 356.5,238.3 357.5,238.3 358.5,238.3 359.5,238.3 360.5,238.3 361.5,238.3 362.5,238.3 363.5,238.3 364.5,238.3 365.5,238.3 366.5,238.3 367.5,238.3 368.5,238.3 369.5,238.3 370.5,238.3 371.5,238.3 372.5,238.3 373.5,238.3 374.5,238.3 375.5,238.3 376.5,238.3 377.5,238.3 378.5,238.3 379.5,238.3 380.5,238.3 381.5,238.3 382.5,238.3 383.5,238.3 384.5,238.3 385.5,238.3 386.5,238.3 387.5,238.3 388.5,238.3 389.5,238.3 390.5,238.3 391.5,238.3 392.5,238.3 393.5,238.3 394.5,238.3 395.5,238.3 396.5,238.3 397.5,238.3 398.5,238.3 399.5,238.3 400.5,238.3 401.5,238.3 402.5,238.3 403.5,238.3 404.5,238.3 405.5,238.3 406.5,238.3 407.2,239.3 408.4,240.3 409.5,240.9 410.5,241.3 411.5,241.4 412.5,241.4 413.5,241.2 414.5,240.8 415.5,240.0 416.3,239.3 417.5,238.3 418.5,239.1 419.2,240.3 419.9,241.3 420.5,242.0 421.5,242.8 422.5,243.1 423.5,243.3 424.5,243.4 425.5,243.5 426.5,243.7 427.5,243.8 428.5,244.0 429.5,244.2 430.5,244.3 431.5,244.2 432.5,243.8 433.3,243.3 434.4,242.3 435.5,241.4 436.5,240.9 437.5,240.7 438.5,240.8 439.5,241.0 440.5,241.4 441.5,242.1 442.3,243.3 442.6,244.3 442.7,245.3 442.7,246.3 443.1,247.3 444.5,247.8 445.5,247.6 446.5,247.5 447.5,247.4 448.5,247.4 449.5,247.6 450.5,248.2 451.4,249.3 451.8,250.3 452.1,251.3 452.1,252.3 452.0,253.3 452.0,254.3 452.3,255.3 453.0,256.3 453.8,257.3 454.3,258.3 454.4,259.3 454.3,260.3 454.2,261.3 454.2,262.3 454.4,263.3 454.9,264.3 455.5,265.1 456.5,266.1 457.5,266.8 458.4,267.3 459.5,267.5 460.5,267.2 461.5,266.4 462.5,265.4 463.5,264.5 464.5,263.8 465.5,263.4 466.5,263.1 467.5,263.0 468.5,263.0 469.5,263.3 470.5,263.7 471.4,264.3 472.5,265.3 473.4,266.3 474.3,267.3 475.1,268.3 475.0,269.3 474.6,270.3 475.5,271.0 476.5,271.7 477.3,273.3 477.9,274.3 478.5,275.3 479.1,276.3 479.4,277.3 479.5,278.3 479.4,279.3 479.4,280.3 479.7,281.3 480.3,282.3 481.1,283.3 482.2,284.3 483.5,285.2 483.5,286.3 483.5,287.3 483.5,288.3 483.5,289.3 483.5,290.3 483.5,291.3 483.5,292.3 483.5,293.3 483.5,294.3 483.5,295.3 483.5,296.3 483.5,297.3 483.5,298.3 483.5,299.3 483.5,300.3 483.5,301.3 483.5,302.3 483.5,303.3 483.5,304.3 483.5,305.3 483.5,306.3 483.5,307.3 483.5,308.3 483.5,309.3 483.5,310.3 483.5,311.3 483.5,312.3 483.5,313.3 483.5,314.3 483.5,315.3 483.5,316.3 483.5,317.3 483.5,318.3 483.5,319.3 483.5,320.3 483.5,321.3 483.5,322.3 483.5,323.3 483.5,324.3 483.5,325.3 483.5,326.3 483.5,327.3 483.5,328.3 483.5,329.3 483.5,330.3 483.5,331.3 483.5,332.3 483.5,333.3 483.5,334.3 483.5,335.3 483.5,336.3 483.5,337.3 483.5,338.3 483.5,339.3 483.5,340.3 483.5,341.3 483.5,342.3 483.5,343.3 483.5,344.3 483.5,345.3 483.5,346.3 483.5,347.3 483.5,348.3 483.5,349.3 483.5,350.3 483.5,351.3 483.5,352.3 483.5,353.3 483.5,354.3 483.5,355.3 483.5,356.3 483.5,357.3 483.5,358.3 483.5,359.3 483.5,360.3 483.5,361.3 483.5,362.3 483.5,363.3 483.5,364.3 483.5,365.3 483.5,366.3 483.5,367.3 483.5,368.3 483.5,369.3 483.5,370.3 483.5,371.3 483.5,372.3 483.5,373.3 483.5,374.3 483.5,375.3 483.5,376.3 483.5,377.3 483.5,378.3 483.5,379.3 483.5,380.3 483.5,381.3 483.5,382.3 483.5,383.3 483.5,384.3 483.5,385.3 483.5,386.3 483.5,387.3 483.5,388.3 483.5,389.3 483.5,390.3 483.5,391.3 483.5,392.3 483.5,393.3 483.5,394.3 483.5,395.3 483.5,396.3 483.5,397.3 483.5,398.3 483.5,399.3 483.5,400.3 483.5,401.3 483.5,402.3 483.5,403.3 483.5,404.3 483.5,405.3 483.5,406.3 483.5,407.3 483.5,408.3 483.5,409.3 483.5,410.3 483.5,411.3 483.5,412.3 483.5,413.3 483.5,414.3 483.5,415.3 483.5,416.3 483.5,417.3 483.5,418.3 483.5,419.3 483.5,420.3 483.5,421.3 483.5,422.3 483.5,423.3 483.5,424.3 483.5,425.3 483.5,426.3 483.5,427.3 483.5,428.3 483.5,429.3 483.5,430.3 483.5,431.3 483.5,432.3 483.5,433.3 483.5,434.3ZM483.5,240.8 482.5,239.8 482.0,238.3 483.5,238.3 483.5,239.3 483.5,240.3ZM305.4,248.3 305.5,247.3 305.1,246.3 304.5,245.4 303.5,244.9 302.6,245.3 302.0,246.3 302.1,247.3 303.4,248.3 304.5,248.5ZM463.5,250.7 462.5,250.9 461.5,250.4 460.8,249.3 460.4,248.3 460.2,247.3 460.3,246.3 461.3,245.3 462.5,245.1 463.5,245.3 464.5,245.8 465.3,247.3 465.1,248.3 464.8,249.3 464.0,250.3ZM480.5,254.3 479.5,254.5 478.5,254.7 477.5,254.9 476.5,254.9 475.5,254.7 474.5,253.7 474.3,252.3 474.7,251.3 475.4,250.3 476.5,249.6 477.4,249.3 478.5,249.1 479.5,248.9 480.5,248.8 481.5,248.7 482.5,248.6 483.5,248.5 483.5,250.3 483.5,251.3 483.5,252.3 483.5,253.3 482.5,254.1 481.5,254.2 480.5,254.3ZM480.5,269.5 479.5,269.7 478.5,269.9 477.5,270.1 476.5,269.8 475.8,268.3 477.0,267.3 478.5,266.4 479.5,265.9 480.5,265.4 481.5,264.9 482.5,264.6 483.5,264.4 483.5,265.3 483.5,266.3 483.5,267.3 483.5,268.3 482.5,269.1 481.5,269.3 480.5,269.5ZM312.0,334.3 310.7,333.3 309.8,333.3 311.2,334.3ZM325.2,343.3 324.6,342.3 323.5,341.3 322.5,340.6 321.5,339.8 320.5,339.1 319.5,338.3 318.5,337.7 317.5,337.0 316.5,336.4 315.5,336.0 314.5,335.5 313.5,335.1 312.5,335.3 313.5,336.3 314.3,337.3 315.2,338.3 316.3,339.3 317.5,340.2 318.5,340.8 319.4,341.3 320.5,341.8 321.3,342.3 322.5,342.8 323.3,343.3 324.5,343.6ZM447.0,381.3 447.2,380.3 446.0,379.3 444.5,378.4 443.5,378.0 442.5,377.7 441.5,377.6 440.5,377.7 439.5,378.0 438.5,379.1 439.2,380.3 440.5,380.9 441.5,381.2 442.5,381.4 443.5,381.5 444.5,381.6 445.5,381.5 446.5,381.4ZM289.5,409.4 288.5,409.7 287.5,409.9 286.5,410.0 286.5,408.3 286.5,407.3 286.5,406.3 286.5,405.3 286.5,404.3 286.5,403.3 287.5,403.2 288.5,404.0 289.5,405.1 290.5,406.1 291.5,407.1 291.7,408.3 290.5,409.0 289.5,409.4ZM295.5,429.5 294.5,429.5 293.5,429.1 292.7,428.3 292.1,427.3 291.9,426.3 292.1,425.3 292.5,424.3 292.8,423.3 293.1,422.3 293.2,421.3 293.5,420.4 294.0,419.3 295.0,418.3 296.5,417.3 297.5,416.8 298.5,416.4 299.5,416.3 300.5,416.5 301.5,416.9 302.4,417.3 303.5,417.7 304.5,417.9 305.5,417.9 306.5,418.0 307.5,418.3 308.4,419.3 308.0,420.3 306.9,421.3 305.5,421.9 304.5,422.4 303.5,423.2 302.7,424.3 302.2,425.3 301.6,426.3 300.6,427.3 299.5,427.8 298.5,428.2 297.5,428.7 296.5,429.1 295.5,429.5Z"/>
<path fill-rule="evenodd" fill="#b2cefa" d="M352.5,253.6 351.5,253.5 350.5,252.8 349.5,251.7 349.0,250.3 349.2,249.3 349.9,248.3 351.0,247.3 352.5,246.6 353.4,246.3 354.5,246.2 355.5,246.3 356.5,246.9 357.5,248.1 357.1,249.3 355.7,250.3 354.7,251.3 353.8,252.3 352.8,253.3ZM483.5,434.3 482.5,434.3 481.5,434.3 480.5,434.3 479.5,434.3 478.5,434.3 477.5,434.3 476.5,434.3 475.5,434.3 474.5,434.3 473.5,434.3 472.5,434.3 471.5,434.3 470.5,434.3 469.5,434.3 468.5,434.3 467.5,434.3 466.5,434.3 465.5,434.3 464.5,434.3 463.5,434.3 462.5,434.3 461.5,434.3 460.5,434.3 459.5,434.3 458.5,434.3 457.5,434.3 456.5,434.3 455.5,434.3 454.5,434.3 453.5,434.3 452.5,434.3 451.5,434.3 450.5,434.3 449.5,434.3 448.5,434.3 447.5,434.3 446.5,434.3 445.5,434.3 444.5,434.3 443.5,434.3 442.5,434.3 441.5,434.3 440.5,434.3 439.5,434.3 438.5,434.3 437.5,434.3 436.5,434.3 435.5,434.3 434.5,434.3 433.5,434.3 432.5,434.3 431.5,434.3 430.5,434.3 429.5,434.3 428.5,434.3 427.5,434.3 426.5,434.3 425.5,434.3 424.5,434.3 423.5,434.3 422.5,434.3 421.5,434.3 420.5,434.3 419.5,434.3 418.5,434.3 417.5,434.3 416.5,434.3 415.5,434.3 414.5,434.3 414.0,433.3 413.6,432.3 413.0,431.3 412.1,430.3 410.8,429.3 409.5,428.4 408.5,427.8 407.5,427.3 406.5,427.1 405.5,427.4 404.5,428.3 403.8,429.3 402.9,430.3 401.8,431.3 400.8,432.3 400.0,433.3 399.5,434.3 398.5,434.3 397.5,434.3 396.5,434.3 396.6,433.3 397.2,432.3 397.7,431.3 398.0,430.3 398.2,429.3 398.3,428.3 398.4,427.3 398.4,426.3 398.2,425.3 397.6,424.3 396.7,423.3 395.5,422.3 394.5,421.7 393.6,421.3 392.5,421.0 391.5,420.7 390.5,420.5 389.5,420.2 388.5,419.8 387.5,419.5 386.5,419.4 385.5,419.4 384.5,419.6 383.5,420.1 382.5,420.9 381.5,421.7 380.5,422.3 379.5,422.3 378.5,421.8 377.5,421.0 376.9,420.3 376.0,419.3 374.7,418.3 373.5,418.1 372.5,418.2 371.5,418.4 370.5,418.5 369.5,418.4 368.6,418.3 367.5,418.1 366.5,417.9 365.5,417.6 364.5,417.3 363.5,416.8 362.5,416.1 361.5,415.3 360.5,414.6 359.5,414.1 358.5,413.8 357.5,413.6 356.5,413.6 355.5,413.8 354.5,414.1 353.5,415.0 352.7,416.3 351.8,417.3 350.5,417.5 349.5,417.2 348.5,416.8 347.5,416.4 346.5,416.0 345.5,415.5 344.5,414.9 343.7,414.3 342.5,413.4 341.5,412.7 340.5,412.1 339.5,411.5 338.5,411.0 337.5,410.4 336.5,409.9 335.5,409.3 334.5,408.8 333.5,408.4 332.5,408.0 331.5,407.6 330.5,407.0 329.6,406.3 328.5,405.3 327.5,404.4 326.5,403.7 325.5,403.1 324.5,402.7 323.5,402.5 322.5,402.3 321.5,402.2 320.5,402.0 319.5,401.6 318.5,401.0 317.6,400.3 316.5,399.4 315.5,398.8 314.5,398.6 313.5,398.5 312.5,398.6 311.5,398.5 310.5,397.9 309.6,396.3 309.2,395.3 308.8,394.3 308.3,393.3 307.5,392.3 306.5,391.6 305.5,391.1 304.5,390.8 303.5,390.6 302.5,390.7 301.5,390.8 300.5,391.0 299.5,391.1 298.5,390.6 297.5,389.5 296.7,388.3 296.1,387.3 295.5,386.4 294.7,385.3 294.0,384.3 293.0,383.3 292.1,382.3 291.1,381.3 290.5,380.4 290.0,379.3 289.8,378.3 289.8,377.3 289.7,376.3 289.6,375.3 289.3,374.3 288.9,373.3 288.4,372.3 288.0,371.3 287.6,370.3 287.2,369.3 286.9,368.3 286.6,367.3 286.5,366.3 286.5,365.3 286.5,364.3 286.5,363.3 286.5,362.3 286.5,361.3 286.5,360.3 286.5,359.3 286.5,358.3 286.5,357.3 286.5,356.3 286.5,355.3 286.5,354.3 286.5,353.3 286.5,352.3 286.5,351.3 286.5,350.3 286.5,349.3 286.5,348.3 286.5,347.3 286.5,346.3 286.5,345.3 286.5,344.3 286.5,343.3 286.5,342.3 286.5,341.3 286.5,340.3 286.5,339.3 286.5,338.3 286.5,337.3 286.5,336.3 286.5,335.3 286.5,334.3 286.5,333.3 286.5,332.3 286.5,331.3 286.5,330.3 286.5,329.3 286.5,328.3 286.5,327.3 286.5,326.3 286.5,325.3 286.5,324.3 286.5,323.3 286.5,322.3 286.5,321.3 286.5,320.3 286.5,319.3 286.5,318.3 287.5,317.4 287.2,316.3 286.5,315.6 286.5,314.3 286.5,313.3 286.5,312.3 286.5,311.3 286.5,310.3 286.5,309.3 286.5,308.3 286.5,307.3 286.5,306.3 286.5,305.3 286.5,304.3 286.5,303.3 286.5,302.3 286.5,301.3 286.5,300.3 286.5,299.3 286.5,298.3 286.5,297.3 286.5,296.3 286.5,295.3 286.5,294.3 286.5,293.3 286.5,292.3 286.5,291.3 286.5,290.3 286.5,289.3 286.5,288.3 286.5,287.3 286.5,286.3 286.5,285.3 286.5,284.3 286.5,283.3 286.5,282.3 286.6,281.3 286.5,280.3 286.5,279.3 286.5,278.3 286.5,277.3 286.5,276.3 286.5,275.3 286.5,274.3 286.5,273.3 287.5,272.9 288.5,272.9 289.5,272.8 290.5,272.8 291.4,272.3 291.1,271.3 290.8,270.3 290.7,269.3 290.8,268.3 290.9,267.3 291.2,266.3 291.7,265.3 292.3,264.3 293.2,263.3 294.5,262.3 295.5,261.9 296.5,261.8 297.5,262.2 298.5,263.1 299.3,264.3 300.0,265.3 300.5,266.1 301.2,267.3 301.7,268.3 302.2,269.3 302.5,270.3 302.9,271.3 303.5,272.3 304.4,273.3 305.5,274.0 306.5,274.3 307.5,274.4 308.5,274.1 309.5,273.6 310.5,272.7 311.5,271.8 312.3,271.3 313.5,270.7 314.5,270.4 315.5,270.0 316.5,269.7 317.5,269.4 318.5,269.3 319.5,269.3 320.5,269.3 321.5,269.4 322.5,269.9 323.5,270.7 324.5,271.5 325.5,272.1 326.5,272.6 327.5,272.9 328.5,273.1 329.5,273.2 330.5,273.0 331.5,272.8 332.5,272.4 333.5,271.9 334.5,271.4 335.5,270.8 336.4,270.3 337.5,269.3 337.7,268.3 337.2,267.3 336.5,266.7 335.5,266.1 334.5,265.5 333.5,264.5 333.4,263.3 334.3,262.3 335.5,261.8 336.5,261.7 337.5,261.8 338.5,262.0 339.4,262.3 340.5,262.6 341.5,262.8 342.5,262.8 343.5,262.7 344.5,262.7 345.5,262.7 346.5,262.8 347.5,263.0 348.5,263.3 349.5,263.7 350.5,264.2 351.5,264.5 352.5,264.5 353.5,263.9 354.5,262.8 355.5,261.9 356.5,261.5 357.4,261.3 358.5,261.0 359.5,260.8 360.5,260.6 361.4,260.3 362.5,259.3 362.5,258.3 362.4,257.3 362.2,256.3 362.2,255.3 362.2,254.3 362.2,253.3 362.2,252.3 362.1,251.3 362.5,250.4 363.5,249.9 364.5,249.6 365.4,249.3 366.5,249.1 367.5,249.3 368.5,249.7 369.5,250.3 370.5,250.9 371.5,251.7 371.7,253.3 370.5,254.2 369.5,255.0 368.7,256.3 368.8,257.3 369.3,258.3 370.0,259.3 370.8,260.3 371.5,261.0 372.5,262.0 373.5,262.6 374.5,262.5 375.5,261.7 376.5,260.4 377.2,259.3 377.8,258.3 378.4,257.3 379.0,256.3 380.0,255.3 381.5,254.4 382.5,254.0 383.5,253.5 384.5,252.9 385.4,252.3 386.5,251.7 387.5,251.4 388.5,251.4 389.5,251.8 390.5,252.6 391.2,253.3 392.3,254.3 393.5,255.1 394.5,255.7 395.4,256.3 396.4,257.3 397.0,258.3 397.3,259.3 397.3,260.3 395.5,260.7 394.5,260.8 393.5,260.9 392.5,261.2 391.5,262.1 391.2,263.3 391.3,264.3 391.7,265.3 392.5,266.2 393.5,266.6 394.5,266.8 395.5,266.7 396.5,266.6 397.5,266.6 398.5,266.6 399.5,267.0 400.5,267.5 401.5,268.1 402.5,268.4 403.5,268.4 404.5,267.6 405.3,266.3 406.1,265.3 407.5,264.3 408.5,263.9 409.5,263.5 410.5,263.0 411.5,262.3 412.5,261.7 413.5,261.2 414.5,261.0 415.5,261.1 416.5,261.4 417.5,262.0 418.5,262.7 419.4,263.3 420.5,264.0 421.4,264.3 422.5,264.9 423.5,266.2 423.6,267.3 423.4,268.3 422.8,269.3 421.5,270.2 420.5,270.2 419.5,270.0 418.5,269.5 417.5,269.2 417.2,270.3 418.5,271.1 419.5,271.5 420.5,271.7 421.5,272.3 422.5,272.6 423.5,273.0 424.5,273.3 425.5,273.4 426.5,273.4 427.5,273.5 428.5,273.7 429.5,273.9 430.5,274.2 431.5,274.4 432.5,274.7 433.5,275.0 434.5,275.3 435.5,275.6 436.5,276.1 437.5,276.9 438.5,278.2 439.2,279.3 439.8,280.3 440.9,281.3 442.3,282.3 443.5,283.2 444.5,283.9 445.5,284.4 446.5,284.7 447.5,284.7 448.5,284.6 449.5,284.4 450.5,284.4 451.5,284.9 452.4,286.3 452.4,287.3 452.4,288.3 452.6,289.3 453.5,290.2 454.5,290.3 455.5,290.2 456.5,289.7 457.4,289.3 458.5,288.9 459.5,289.1 460.5,290.0 461.4,291.3 462.1,292.3 463.2,293.3 464.5,293.9 465.5,294.2 466.5,294.5 467.5,295.1 468.5,296.0 469.5,297.1 470.5,298.0 471.5,298.8 472.3,299.3 473.5,300.0 474.5,300.5 475.5,301.0 476.5,301.3 477.5,301.5 478.5,301.6 479.5,301.5 480.5,301.2 481.5,300.9 482.5,300.8 483.5,300.9 483.5,302.3 482.9,303.3 481.5,303.8 480.5,304.6 479.8,306.3 479.8,307.3 480.4,308.3 481.5,309.2 482.5,309.9 483.5,310.4 483.5,312.3 483.5,313.3 483.5,314.3 483.5,315.3 483.5,316.3 483.5,317.3 483.5,318.3 483.5,319.3 483.5,320.3 483.5,321.3 483.5,322.3 483.5,323.3 483.5,324.3 483.5,325.3 483.5,326.3 483.5,327.3 483.5,328.3 483.5,329.3 483.5,330.3 483.5,331.3 483.5,332.3 483.5,333.3 483.5,334.3 483.5,335.3 483.5,336.3 483.5,337.3 483.5,338.3 483.5,339.3 483.5,340.3 483.5,341.3 483.5,342.3 483.5,343.3 483.5,344.3 483.5,345.3 483.5,346.3 483.5,347.3 483.5,348.3 483.5,349.3 483.5,350.3 483.5,351.3 483.5,352.3 483.5,353.3 483.5,354.3 483.5,355.3 483.5,356.3 483.5,357.3 483.5,358.3 483.5,359.3 483.5,360.3 483.5,361.3 483.5,362.3 483.5,363.3 483.5,364.3 483.5,365.3 483.5,366.3 483.5,367.3 483.5,368.3 483.5,369.3 483.5,370.3 483.5,371.3 483.5,372.3 483.5,373.3 483.5,374.3 483.5,375.3 483.5,376.3 483.5,377.3 483.5,378.3 483.5,379.3 483.5,380.3 483.5,381.3 483.5,382.3 483.5,383.3 483.5,384.3 483.5,385.3 483.5,386.3 483.5,387.3 483.5,388.3 483.5,389.3 483.5,390.3 483.5,391.3 483.5,392.3 483.5,393.3 483.5,394.3 483.5,395.3 483.5,396.3 483.5,397.3 483.5,398.3 483.5,399.3 483.5,400.3 483.5,401.3 483.5,402.3 483.5,403.3 483.5,404.3 483.5,405.3 483.5,406.3 483.5,407.3 483.5,408.3 483.5,409.3 483.5,410.3 483.5,411.3 483.5,412.3 483.5,413.3 483.5,414.3 483.5,415.3 483.5,416.3 483.5,417.3 483.5,418.3 483.5,419.3 483.5,420.3 483.5,421.3 483.5,422.3 483.5,423.3 483.5,424.3 483.5,425.3 483.5,426.3 483.5,427.3 483.5,428.3 483.5,429.3 483.5,430.3 483.5,431.3 483.5,432.3 483.5,433.3 483.5,434.3ZM316.5,265.8 315.5,266.1 314.5,266.2 313.5,266.2 312.5,266.1 311.5,265.8 310.5,265.1 309.8,264.3 309.3,263.3 309.1,262.3 309.2,261.3 309.8,260.3 311.5,259.3 312.5,258.9 313.5,258.6 314.5,258.3 315.5,258.1 316.5,258.0 317.5,258.2 318.5,258.8 319.2,260.3 319.3,261.3 319.3,262.3 319.1,263.3 318.5,264.3 317.5,265.2 316.5,265.8ZM298.0,324.3 297.7,323.3 297.1,322.3 296.1,321.3 294.5,320.4 293.5,320.1 292.5,320.1 291.7,321.3 292.2,322.3 293.3,323.3 294.5,323.9 295.5,324.3 296.5,324.5 297.5,324.5ZM339.6,354.3 339.2,353.3 338.5,352.3 337.7,351.3 336.8,350.3 335.9,349.3 334.8,348.3 333.6,347.3 332.5,346.5 331.5,345.8 330.5,345.1 329.6,344.3 328.7,343.3 327.8,342.3 326.8,341.3 325.6,340.3 324.5,339.5 323.5,338.8 322.7,338.3 321.5,337.5 320.5,336.9 319.7,336.3 318.5,335.5 317.5,334.8 316.5,334.1 315.5,333.4 314.5,332.6 313.5,331.9 312.7,331.3 311.5,330.4 310.5,329.7 309.5,329.0 308.5,328.4 307.5,327.9 306.5,327.4 305.5,327.1 304.5,326.7 303.5,326.3 302.5,326.1 301.5,325.9 300.5,326.1 300.8,327.3 301.5,328.3 302.2,329.3 302.7,330.3 303.3,331.3 303.8,332.3 304.5,333.3 305.2,334.3 306.3,335.3 307.5,336.0 308.5,336.6 309.5,337.1 310.5,337.6 311.5,338.2 312.5,338.9 313.5,339.7 314.2,340.3 315.5,341.2 316.5,341.9 317.5,342.5 318.5,343.0 319.5,343.5 320.5,344.1 321.5,344.6 322.5,345.1 323.5,345.7 324.5,346.2 325.5,346.8 326.4,347.3 327.5,348.0 328.5,348.6 329.4,349.3 330.5,350.2 331.5,351.0 332.5,351.7 333.4,352.3 334.5,352.9 335.3,353.3 336.5,353.8 337.5,354.1 338.5,354.4 339.5,354.4ZM394.9,348.3 394.5,347.4 393.6,346.3 392.5,345.3 391.5,344.6 390.5,344.0 389.5,343.6 388.6,343.3 387.5,343.7 387.9,345.3 388.5,346.0 389.5,346.9 390.5,347.5 391.5,348.1 392.5,348.6 393.5,348.9 394.5,349.0ZM468.3,388.3 469.5,388.1 470.5,387.8 471.5,387.5 472.5,387.1 473.5,386.6 474.5,386.1 475.5,385.5 476.5,384.3 476.2,383.3 475.0,382.3 473.5,381.5 472.5,380.9 471.5,380.5 470.5,380.1 469.5,379.9 468.5,379.8 467.5,379.8 466.5,380.0 465.5,380.2 464.5,380.4 463.5,380.6 462.5,380.6 461.5,380.5 460.5,380.4 459.5,380.1 458.5,379.9 457.5,379.7 456.5,379.5 455.5,379.2 454.5,379.0 453.5,378.7 452.5,378.5 451.5,378.2 450.5,377.9 449.5,377.6 448.6,377.3 447.5,376.9 446.5,376.5 445.5,376.1 444.5,375.8 443.5,375.5 442.5,375.3 441.5,375.1 440.5,375.1 439.5,375.2 438.5,375.4 437.5,375.6 436.5,375.9 435.5,376.2 434.5,376.6 433.5,377.1 432.5,378.0 432.0,379.3 432.3,380.3 433.3,381.3 434.5,382.0 435.5,382.5 436.5,382.9 437.5,383.3 438.5,383.6 439.5,383.9 440.5,384.1 441.5,384.2 442.5,384.4 443.5,384.6 444.5,384.8 445.5,384.9 446.5,385.1 447.5,385.3 448.5,385.4 449.5,385.6 450.5,385.7 451.5,385.8 452.5,386.1 453.5,386.4 454.5,386.8 455.5,387.2 456.5,387.5 457.5,387.8 458.5,387.9 459.5,388.1 460.5,388.2 461.5,388.2 462.4,388.3 463.5,388.4 464.5,388.4 465.5,388.5 466.5,388.5 467.5,388.4Z"/>
<path fill-rule="evenodd" fill="#8cb5fa" d="M483.5,434.3 482.5,434.3 481.5,434.3 480.5,434.3 479.5,434.3 478.5,434.3 477.5,434.3 476.5,434.3 475.5,434.3 474.5,434.3 473.5,434.3 472.5,434.3 471.5,434.3 470.5,434.3 469.5,434.3 468.5,434.3 467.5,434.3 466.5,434.3 465.5,434.3 464.5,434.3 463.5,434.3 462.5,434.3 461.5,434.3 460.5,434.3 459.5,434.3 458.5,434.3 457.5,434.3 456.5,434.3 455.5,434.3 454.5,434.3 453.5,434.3 452.5,434.3 451.5,434.3 450.5,434.3 449.5,434.3 448.5,434.3 447.5,434.3 446.5,434.3 445.5,434.3 444.9,433.3 444.7,432.3 444.6,431.3 444.5,430.3 444.5,429.3 444.4,428.3 444.1,427.3 443.7,426.3 442.9,425.3 441.8,424.3 440.5,423.6 439.5,423.4 438.5,423.5 437.5,423.9 436.5,424.1 435.5,424.0 434.5,423.5 433.5,423.0 432.5,422.3 431.5,421.5 430.5,420.5 429.8,419.3 429.5,418.4 429.4,417.3 429.8,416.3 430.3,415.3 430.4,414.3 430.0,413.3 429.3,412.3 428.5,411.5 427.5,410.8 426.5,410.4 425.5,410.2 424.5,410.0 423.5,409.8 422.5,409.4 421.5,408.8 420.6,408.3 419.5,407.6 418.5,407.2 417.5,406.9 416.5,406.8 415.5,406.9 414.5,407.2 413.5,407.6 412.5,407.9 411.5,408.1 410.5,408.1 409.5,408.0 408.5,407.9 407.5,407.8 406.5,407.8 405.5,408.2 404.5,408.8 403.5,409.4 402.5,410.1 401.5,410.8 400.5,411.6 399.7,412.3 398.5,413.0 397.6,413.3 396.5,413.4 395.5,413.4 394.5,413.2 393.5,412.7 392.5,411.7 391.6,410.3 391.0,409.3 390.5,408.5 389.6,407.3 388.5,406.3 387.5,405.8 386.5,405.7 385.5,405.7 384.5,405.7 383.5,405.8 382.5,405.9 381.5,406.3 380.5,407.0 379.5,408.0 378.5,408.8 377.5,409.1 376.5,409.1 375.5,408.9 374.5,408.7 373.5,408.4 372.5,408.2 371.5,408.0 370.5,407.9 369.5,407.9 368.5,408.1 367.5,408.6 366.5,409.2 365.5,409.9 364.5,410.2 363.5,410.4 362.5,410.5 361.5,410.5 360.5,410.5 359.5,410.3 358.5,410.2 357.5,410.0 356.5,409.9 355.5,409.7 354.5,409.5 353.5,409.3 352.5,409.1 351.5,409.0 350.5,408.9 349.5,408.9 348.5,408.9 347.5,408.7 346.5,408.6 345.5,408.5 344.5,408.4 343.5,408.3 342.5,408.2 341.5,408.0 340.5,407.7 339.5,407.4 338.5,406.9 337.5,406.5 336.5,406.1 335.5,405.7 334.5,405.4 333.5,405.0 332.5,404.5 331.5,403.8 330.5,403.1 329.6,402.3 328.5,401.4 327.5,400.7 326.5,400.2 325.5,399.7 324.5,399.4 323.5,399.1 322.5,398.7 321.5,398.3 320.5,397.7 319.5,396.9 318.7,396.3 317.5,395.4 316.5,394.9 315.5,394.3 314.5,393.7 313.5,392.9 312.5,391.8 311.5,390.7 310.5,389.8 309.5,389.1 308.5,388.6 307.5,388.0 306.5,387.4 305.5,386.6 304.5,385.8 303.5,385.0 302.6,384.3 301.5,383.6 300.5,383.1 299.5,382.5 298.5,381.9 297.5,381.0 296.8,380.3 296.2,379.3 295.8,378.3 295.6,377.3 295.5,376.3 295.3,375.3 295.0,374.3 294.6,373.3 293.8,372.3 292.6,371.3 291.5,370.4 290.7,369.3 290.2,368.3 289.8,367.3 289.5,366.3 289.2,365.3 288.7,364.3 288.2,363.3 287.6,362.3 287.0,361.3 286.5,360.3 286.5,359.3 286.5,358.3 286.5,357.3 286.5,356.3 286.5,355.3 286.5,354.3 286.5,353.3 286.5,352.3 286.5,351.3 286.5,350.3 286.5,349.3 286.5,348.3 286.5,347.3 286.5,346.3 286.5,345.3 286.5,344.3 286.5,343.3 286.5,342.3 286.5,341.3 286.5,340.3 286.5,339.3 286.5,338.3 286.5,337.3 286.5,336.3 287.5,335.5 288.5,335.1 289.5,334.8 290.5,334.5 291.5,334.2 292.5,333.8 293.5,333.3 294.5,332.6 295.5,331.9 296.5,331.4 297.5,331.3 298.5,331.5 299.5,332.1 300.5,333.1 301.3,334.3 302.0,335.3 302.8,336.3 303.5,337.0 304.5,337.6 305.5,338.0 306.5,338.3 307.5,338.6 308.5,338.9 309.5,339.3 310.5,339.8 311.5,340.3 312.5,341.0 313.5,341.6 314.5,342.3 315.5,342.9 316.5,343.4 317.5,343.9 318.3,344.3 319.5,344.9 320.4,345.3 321.5,345.9 322.4,346.3 323.5,346.9 324.5,347.5 325.5,348.0 326.5,348.7 327.5,349.3 328.5,350.0 329.5,350.7 330.2,351.3 331.5,352.3 332.5,353.0 333.5,353.7 334.5,354.3 335.5,354.8 336.4,355.3 337.5,355.9 338.3,356.3 339.5,356.9 340.5,357.5 341.5,357.9 342.5,358.4 343.5,358.8 344.5,359.3 345.5,359.6 346.5,359.9 346.5,358.5 345.5,357.3 344.6,356.3 343.7,355.3 342.7,354.3 341.7,353.3 340.6,352.3 339.5,351.3 338.5,350.3 337.5,349.4 336.5,348.4 335.5,347.6 334.5,346.7 333.5,346.0 332.6,345.3 331.5,344.5 330.5,343.5 329.5,342.5 328.5,341.3 327.5,340.3 326.5,339.4 325.5,338.7 324.5,338.1 323.5,337.5 322.5,336.9 321.6,336.3 320.5,335.6 319.5,334.9 318.7,334.3 317.5,333.4 316.5,332.7 315.5,331.9 314.7,331.3 313.5,330.3 312.5,329.5 311.5,328.6 310.5,327.8 309.7,327.3 308.5,326.5 307.5,325.9 306.5,325.4 305.5,324.8 304.7,324.3 303.5,323.5 302.5,322.8 301.5,322.0 300.7,321.3 299.6,320.3 298.5,319.3 297.5,318.6 296.5,317.9 295.5,317.4 294.5,316.9 293.5,316.3 292.5,315.4 291.6,314.3 291.0,313.3 290.1,312.3 288.5,311.3 287.5,310.9 286.5,310.6 286.5,309.3 286.5,308.3 286.5,307.3 286.5,306.3 286.5,305.3 286.5,304.3 286.5,303.3 286.5,302.3 286.5,301.3 286.5,300.3 286.5,299.3 286.5,298.3 286.5,297.3 286.5,296.3 286.5,295.3 286.5,294.3 286.5,293.3 286.5,292.3 287.5,291.7 288.5,291.0 289.2,290.3 290.2,289.3 291.0,288.3 291.8,287.3 292.4,286.3 293.1,285.3 294.0,284.3 295.3,283.3 296.5,282.6 297.5,282.0 298.5,281.7 299.5,281.9 300.5,282.7 301.5,283.6 302.5,284.1 303.5,284.4 304.5,284.5 305.5,284.4 306.5,284.1 307.5,283.7 308.5,283.5 309.5,283.4 310.5,283.4 311.5,283.6 312.5,283.7 313.5,283.7 314.5,283.6 315.4,283.3 316.5,282.5 317.3,281.3 317.6,280.3 318.5,279.5 319.5,279.4 320.5,279.6 321.5,279.8 322.5,279.8 323.5,279.7 324.5,279.6 325.5,279.6 326.5,279.6 327.5,279.8 328.5,280.1 329.5,280.6 330.5,281.2 331.5,282.0 332.5,282.7 333.5,283.0 334.5,282.8 335.5,282.3 336.5,281.4 337.2,280.3 337.8,279.3 338.5,278.3 339.5,277.5 340.5,276.9 341.5,276.6 342.5,276.4 343.5,276.4 344.5,276.4 345.5,276.4 346.5,276.5 347.5,276.6 348.5,276.8 349.5,277.1 350.5,277.5 351.5,277.7 352.5,277.9 353.5,278.0 354.5,278.1 355.5,278.1 356.5,278.2 357.5,278.2 358.5,278.3 359.5,278.5 360.5,279.0 361.5,279.9 362.5,281.1 363.5,282.0 364.5,282.5 365.5,282.6 366.5,282.5 367.5,282.2 368.5,281.8 369.5,281.5 370.5,281.2 371.5,280.9 372.5,280.6 373.5,280.0 374.2,279.3 374.5,278.3 374.5,277.3 374.5,276.3 374.6,275.3 374.9,274.3 375.5,273.5 376.5,273.2 377.5,273.4 378.5,274.2 379.3,275.3 379.7,276.3 380.0,277.3 380.5,278.2 381.5,278.0 382.2,277.3 383.1,276.3 384.5,275.4 385.5,275.1 386.5,275.0 387.5,275.0 388.5,275.1 389.5,275.1 390.5,275.1 391.5,275.1 392.5,274.8 393.5,274.4 394.5,273.7 395.5,273.1 396.5,273.1 397.5,273.6 398.5,275.3 399.0,276.3 400.5,277.0 401.5,277.1 402.5,277.3 403.5,277.4 404.5,277.6 405.5,277.7 406.5,277.9 407.5,278.1 408.5,278.8 409.4,280.3 410.1,281.3 411.5,282.0 412.4,282.3 413.5,282.5 414.5,282.9 415.3,283.3 416.5,284.3 417.4,285.3 418.3,286.3 419.5,286.8 420.5,286.5 421.5,286.2 422.5,285.9 423.5,285.9 424.5,286.1 425.5,286.4 426.5,286.6 427.5,286.6 428.5,286.3 429.5,286.0 430.5,286.0 431.5,286.2 432.5,286.7 433.3,287.3 434.2,288.3 435.1,289.3 436.2,290.3 437.5,291.0 438.5,291.1 439.5,291.0 440.5,290.8 441.5,291.7 442.5,292.7 443.4,293.3 444.5,293.8 445.4,294.3 446.5,294.9 447.5,295.6 448.2,296.3 448.9,297.3 449.2,298.3 449.3,299.3 449.4,300.3 449.5,301.3 450.0,302.3 451.5,303.1 452.5,303.3 453.5,303.6 454.5,304.1 455.5,304.9 456.5,305.9 457.5,306.9 458.5,307.6 459.5,308.2 460.5,308.9 461.5,309.5 462.5,310.1 463.5,310.7 464.5,311.1 465.5,311.6 466.5,312.0 467.5,312.4 468.5,312.7 469.5,313.1 470.5,313.5 471.5,313.9 472.5,314.5 473.5,315.1 474.5,315.9 475.4,316.3 476.5,316.7 477.5,316.3 478.5,316.3 479.5,316.9 480.5,318.2 481.1,319.3 481.7,320.3 482.2,321.3 482.7,322.3 483.3,323.3 483.5,324.3 483.5,325.3 483.5,326.3 483.5,327.3 483.5,328.3 483.5,329.3 483.5,330.3 483.5,331.3 483.5,332.3 483.5,333.3 483.5,334.3 483.5,335.3 483.5,336.3 483.5,337.3 483.5,338.3 483.5,339.3 483.5,340.3 483.5,341.3 483.5,342.3 483.5,343.3 483.5,344.3 483.5,345.3 483.5,346.3 483.5,347.3 483.5,348.3 483.5,349.3 483.5,350.3 483.5,351.3 483.5,352.3 483.5,353.3 483.5,354.3 483.5,355.3 483.5,356.3 483.5,357.3 483.5,358.3 483.5,359.3 483.5,360.3 483.5,361.3 483.5,362.3 483.5,363.3 483.5,364.3 483.5,365.3 483.5,366.3 483.5,367.3 483.5,368.3 483.5,369.3 483.5,370.3 483.5,371.3 483.5,372.3 483.5,373.3 483.5,374.3 483.5,375.3 483.5,376.3 483.5,377.3 483.5,378.3 483.5,379.3 483.5,380.3 483.5,381.3 482.5,380.9 481.5,380.6 480.6,380.3 479.5,380.1 478.5,379.8 477.5,379.7 476.5,379.4 475.5,379.2 474.5,378.9 473.5,378.6 472.6,378.3 471.5,378.0 470.5,377.8 469.5,377.7 468.5,377.7 467.5,377.8 466.5,378.0 465.5,378.2 464.5,378.3 463.5,378.4 462.5,378.5 461.5,378.4 460.5,378.2 459.5,378.0 458.5,377.8 457.5,377.6 456.5,377.3 455.5,377.1 454.5,376.9 453.5,376.7 452.5,376.5 451.5,376.3 450.5,376.1 449.5,375.9 448.5,375.7 447.5,375.3 446.5,375.0 445.5,374.7 444.5,374.3 443.5,374.1 442.5,373.9 441.5,373.8 440.5,373.7 439.5,373.8 438.5,373.9 437.5,374.0 436.5,374.2 435.5,374.4 434.5,374.6 433.5,374.8 432.5,375.1 431.5,375.4 430.5,375.8 429.7,376.3 428.7,377.3 428.2,378.3 428.1,379.3 428.2,380.3 428.8,381.3 429.5,382.0 430.5,382.7 431.5,383.2 432.5,383.7 433.5,384.2 434.5,384.7 435.5,385.1 436.5,385.6 437.5,385.9 438.5,386.1 439.5,386.3 440.5,386.4 441.5,386.5 442.5,386.7 443.5,386.8 444.5,387.1 445.5,387.3 446.5,387.6 447.5,387.9 448.5,388.0 449.5,388.2 450.5,388.4 451.5,388.8 452.5,389.1 453.5,389.6 454.5,390.1 455.4,390.3 456.5,390.5 457.5,390.6 458.5,390.7 459.5,390.8 460.5,391.0 461.5,391.1 462.5,391.3 463.5,391.4 464.5,391.4 465.5,391.4 466.5,391.3 467.5,391.2 468.5,391.0 469.5,390.9 470.5,390.8 471.5,390.7 472.5,390.7 473.5,390.8 474.5,391.0 475.5,391.4 476.5,391.9 477.4,392.3 478.5,392.6 479.5,392.6 480.5,392.3 481.5,391.5 482.5,390.3 483.5,389.3 483.5,390.3 483.5,391.3 483.5,392.3 483.5,393.3 483.5,394.3 483.5,395.3 483.5,396.3 483.5,397.3 483.5,398.3 483.5,399.3 483.5,400.3 483.5,401.3 483.5,402.3 483.5,403.3 483.5,404.3 483.5,405.3 483.5,406.3 483.5,407.3 483.5,408.3 483.5,409.3 483.5,410.3 483.5,411.3 483.5,412.3 483.5,413.3 483.5,414.3 483.5,415.3 483.5,416.3 483.5,417.3 483.5,418.3 483.5,419.3 483.5,420.3 483.5,421.3 483.5,422.3 483.5,423.3 483.5,424.3 483.5,425.3 483.5,426.3 483.5,427.3 483.5,428.3 483.5,429.3 483.5,430.3 483.5,431.3 483.5,432.3 483.5,433.3 483.5,434.3ZM474.5,327.3 475.2,326.3 475.6,325.3 475.9,324.3 476.2,323.3 476.3,322.3 476.5,321.4 476.6,320.3 476.6,319.3 476.2,318.3 475.5,317.6 474.5,318.1 473.5,319.1 472.7,320.3 472.2,321.3 471.8,322.3 471.4,323.3 471.0,324.3 470.8,325.3 470.8,326.3 471.3,327.3 472.5,328.0 473.5,327.9 474.5,327.3ZM397.5,350.3 397.2,349.3 396.7,348.3 395.9,347.3 394.9,346.3 393.8,345.3 392.6,344.3 391.5,343.5 390.5,342.9 389.5,342.4 388.5,342.0 387.5,341.7 386.5,341.7 385.5,342.0 385.3,343.3 385.8,344.3 386.5,345.3 387.4,346.3 388.5,347.3 389.5,348.0 390.5,348.6 391.5,349.1 392.5,349.7 393.5,350.2 394.5,350.6 395.5,350.9 396.5,351.0 397.5,350.3ZM440.5,434.3 439.5,434.3 439.4,433.3 440.5,433.1 441.1,434.3Z"/>
<path fill-rule="evenodd" fill="#629cfa" d="M361.5,406.5 360.5,406.8 359.5,406.9 358.5,407.0 357.5,406.9 356.5,406.7 355.5,406.4 354.5,406.1 353.5,405.5 352.5,405.0 351.5,404.5 350.5,404.2 349.5,404.1 348.5,404.1 347.5,404.1 346.5,404.2 345.5,404.3 344.5,404.4 343.5,404.5 342.5,404.4 341.5,404.1 340.5,403.8 339.5,403.4 338.5,403.1 337.5,402.8 336.5,402.7 335.5,402.5 334.5,402.3 333.5,401.9 332.5,401.3 331.5,400.6 330.5,399.8 329.5,399.1 328.5,398.4 327.5,397.9 326.5,397.4 325.5,397.0 324.5,396.6 323.5,396.2 322.5,395.7 321.5,395.1 320.5,394.5 319.5,393.9 318.6,393.3 317.5,392.6 316.5,391.9 315.8,391.3 314.8,390.3 313.9,389.3 312.9,388.3 311.7,387.3 310.5,386.5 309.5,385.8 308.7,385.3 307.6,384.3 306.8,383.3 306.1,382.3 305.2,381.3 303.9,380.3 302.5,379.5 301.5,378.9 300.5,378.3 299.5,377.4 298.7,376.3 298.2,375.3 297.9,374.3 297.5,373.3 297.2,372.3 296.7,371.3 296.1,370.3 295.5,369.6 294.5,368.7 293.5,367.7 292.5,366.3 292.0,365.3 291.5,364.3 291.0,363.3 290.5,362.3 290.0,361.3 289.5,360.3 289.1,359.3 288.7,358.3 288.1,357.3 287.5,356.3 286.9,355.3 286.5,354.4 286.5,353.3 286.5,352.3 286.8,351.3 287.3,350.3 287.9,349.3 288.4,348.3 288.8,347.3 289.3,346.3 289.9,345.3 290.5,344.4 291.5,343.3 292.5,342.3 293.4,341.3 294.2,340.3 295.0,339.3 296.5,338.5 297.5,338.8 298.5,339.6 299.2,340.3 300.5,341.1 301.5,341.5 302.5,341.6 303.5,341.6 304.5,341.6 305.5,341.6 306.5,341.6 307.5,341.7 308.5,341.9 309.5,342.1 310.5,342.5 311.5,343.0 312.5,343.5 313.5,344.0 314.5,344.5 315.5,344.8 316.5,345.2 317.5,345.5 318.5,345.8 319.5,346.2 320.5,346.7 321.5,347.1 322.5,347.6 323.5,348.2 324.5,348.7 325.5,349.3 326.5,349.9 327.5,350.5 328.5,351.2 329.5,352.0 330.5,352.8 331.5,353.5 332.5,354.3 333.5,354.9 334.5,355.5 335.5,356.1 336.5,356.6 337.5,357.2 338.5,357.8 339.4,358.3 340.5,358.9 341.5,359.5 342.5,360.1 343.5,360.7 344.5,361.3 345.5,361.9 346.5,362.5 347.5,363.0 348.5,363.5 349.5,364.0 350.4,364.3 351.5,364.5 352.4,364.3 352.9,363.3 352.6,362.3 352.0,361.3 351.2,360.3 350.5,359.5 349.5,358.6 348.5,357.7 347.5,356.8 346.5,356.0 345.7,355.3 344.6,354.3 343.5,353.3 342.5,352.5 341.5,351.6 340.5,350.7 339.5,349.8 338.5,348.9 337.8,348.3 336.6,347.3 335.5,346.4 334.5,345.6 333.5,344.8 332.5,344.0 331.7,343.3 330.8,342.3 330.1,341.3 329.5,340.5 328.5,339.3 327.5,338.4 326.5,337.7 325.5,337.1 324.5,336.5 323.5,336.0 322.5,335.4 321.5,334.8 320.7,334.3 319.5,333.5 318.5,332.7 317.5,331.9 316.5,331.0 315.6,330.3 314.5,329.3 313.5,328.3 312.5,327.3 311.5,326.4 310.5,325.6 309.5,324.9 308.5,324.3 307.5,323.6 306.5,322.6 305.5,321.3 305.2,320.3 305.1,319.3 305.2,318.3 305.2,317.3 305.0,316.3 303.5,315.7 302.5,315.7 301.5,315.7 300.5,315.5 299.5,315.1 298.5,314.5 297.5,313.3 297.2,312.3 297.0,311.3 296.8,310.3 296.5,309.3 296.1,308.3 295.6,307.3 294.6,306.3 293.5,305.5 292.5,304.7 291.6,303.3 291.6,302.3 292.0,301.3 293.5,300.3 294.5,300.5 295.5,301.1 296.5,301.7 297.5,301.9 298.5,301.7 299.5,301.1 300.5,300.4 301.5,299.6 302.5,298.8 303.2,298.3 304.5,297.4 305.5,296.8 306.5,296.3 307.5,296.0 308.5,296.1 309.5,296.4 310.5,296.4 311.5,296.3 312.5,295.7 313.4,294.3 313.4,293.3 313.4,292.3 313.5,291.3 314.0,290.3 315.1,289.3 316.5,288.8 317.5,288.7 318.5,288.8 319.5,289.0 320.5,289.3 321.5,289.6 322.5,289.8 323.5,289.9 324.5,289.9 325.5,289.9 326.5,289.9 327.5,290.1 328.5,290.3 329.5,290.6 330.5,290.9 331.5,291.2 332.5,291.4 333.5,291.5 334.5,291.4 335.5,291.2 336.5,290.8 337.5,290.4 338.5,290.2 339.5,290.2 340.5,290.4 341.5,290.6 342.5,290.8 343.5,290.9 344.5,290.9 345.5,291.0 346.5,291.2 347.5,291.7 348.5,292.5 349.5,293.0 350.5,292.9 351.1,291.3 351.5,290.3 352.5,289.9 353.5,289.8 354.5,289.8 355.5,290.0 356.5,290.1 357.5,289.9 358.2,289.3 358.7,288.3 359.2,287.3 360.5,287.1 361.5,287.4 362.5,287.8 363.5,288.2 364.5,288.6 365.5,288.8 366.5,288.9 367.5,288.8 368.5,288.5 369.5,288.2 370.5,288.0 371.5,287.9 372.5,288.1 373.5,288.3 374.5,288.4 375.5,287.9 376.5,287.0 377.2,286.3 378.5,285.4 379.5,285.0 380.5,284.9 381.5,285.0 382.5,285.6 383.0,286.3 383.5,287.2 384.0,288.3 384.5,289.3 385.3,290.3 386.5,291.1 387.5,291.4 388.5,291.6 389.5,291.7 390.5,291.7 391.5,291.6 392.5,291.4 393.5,290.9 394.3,290.3 395.1,289.3 395.8,288.3 396.5,287.5 397.5,286.8 398.5,286.4 399.5,286.5 400.2,287.3 400.6,288.3 400.8,289.3 401.1,290.3 401.5,291.2 402.1,292.3 403.0,293.3 404.1,294.3 405.5,295.1 406.5,295.4 407.5,295.5 408.5,295.5 409.5,295.6 410.5,295.9 411.5,296.6 412.1,297.3 412.9,298.3 413.5,299.1 414.5,300.2 415.5,300.8 416.5,300.9 417.5,300.6 418.5,300.1 419.5,299.4 420.5,298.8 421.5,298.3 422.5,298.0 423.5,297.9 424.5,298.1 425.5,298.7 426.2,299.3 427.0,300.3 427.5,301.2 428.3,302.3 429.5,303.0 430.4,303.3 431.5,303.8 432.5,304.6 433.2,305.3 434.2,306.3 435.4,307.3 436.5,308.0 437.5,308.3 438.5,308.6 439.5,308.9 440.5,309.5 441.4,310.3 442.3,311.3 443.4,312.3 444.5,313.3 445.5,314.1 446.5,315.0 447.5,315.9 448.5,316.8 449.5,317.6 450.5,318.1 451.5,318.7 452.5,319.1 453.5,319.6 454.5,320.2 455.5,321.0 456.2,322.3 456.4,323.3 456.4,324.3 456.4,325.3 456.2,326.3 456.1,327.3 456.0,328.3 456.5,329.1 457.5,329.3 458.5,329.4 459.5,329.6 460.5,330.0 461.5,330.5 462.5,331.2 463.5,331.7 464.5,332.2 465.5,332.5 466.5,332.6 467.5,332.6 468.5,332.7 469.5,332.8 470.5,333.0 471.5,333.5 472.5,334.2 473.4,335.3 473.8,336.3 473.9,337.3 473.7,338.3 473.0,339.3 472.2,340.3 471.5,341.3 471.1,342.3 470.8,343.3 470.4,344.3 469.9,345.3 469.1,346.3 468.1,347.3 467.1,348.3 466.5,349.0 465.5,350.1 464.7,351.3 464.5,352.3 465.2,353.3 466.3,354.3 467.5,355.3 468.5,356.0 469.4,356.3 470.5,355.9 471.5,354.8 472.4,353.3 472.8,352.3 473.0,351.3 473.1,350.3 473.1,349.3 473.2,348.3 473.3,347.3 473.7,346.3 474.5,345.6 475.5,345.4 476.5,345.6 477.5,346.2 478.3,347.3 478.7,348.3 479.0,349.3 479.1,350.3 479.0,351.3 478.7,352.3 478.4,353.3 478.2,354.3 478.1,355.3 478.3,356.3 478.5,357.2 478.1,358.3 476.5,358.5 475.5,358.9 474.5,359.3 473.5,359.9 472.7,361.3 472.6,362.3 472.8,363.3 473.2,364.3 474.0,365.3 474.9,366.3 476.0,367.3 477.5,368.0 478.5,368.4 479.5,368.9 480.5,369.7 481.5,371.3 481.8,372.3 481.9,373.3 481.8,374.3 481.3,375.3 480.5,376.0 479.5,376.5 478.5,376.6 477.5,376.6 476.5,376.5 475.5,376.2 474.5,375.7 473.5,375.4 472.5,375.1 471.5,374.9 470.5,374.9 469.5,374.9 468.5,375.0 467.5,375.1 466.5,375.4 465.5,375.6 464.5,375.8 463.5,376.0 462.5,376.1 461.5,376.0 460.5,375.9 459.5,375.7 458.5,375.5 457.5,375.3 456.5,375.0 455.5,374.8 454.5,374.6 453.5,374.5 452.5,374.4 451.5,374.4 450.5,374.3 449.5,374.2 448.5,374.0 447.5,373.7 446.5,373.5 445.5,373.2 444.5,372.9 443.5,372.7 442.5,372.5 441.5,372.4 440.5,372.4 439.5,372.4 438.5,372.4 437.5,372.5 436.5,372.7 435.5,372.8 434.5,372.9 433.5,373.0 432.5,373.2 431.5,373.3 430.5,373.5 429.5,373.7 428.5,374.1 427.5,374.5 426.5,375.2 425.5,376.3 424.9,377.3 424.6,378.3 424.5,379.3 424.6,380.3 424.9,381.3 425.3,382.3 425.9,383.3 426.5,384.0 427.5,384.8 428.5,385.2 429.5,385.6 430.5,386.0 431.5,386.5 432.5,387.2 433.4,388.3 434.1,389.3 435.0,390.3 436.5,391.0 437.5,391.1 438.5,391.0 439.5,391.0 440.5,391.0 441.5,391.2 442.1,392.3 441.8,393.3 441.1,394.3 439.9,395.3 438.5,395.8 437.5,395.9 436.5,395.9 435.5,396.0 434.5,396.0 433.5,396.0 432.5,395.8 431.5,395.4 430.5,394.6 429.5,394.2 428.5,394.0 427.5,394.0 426.5,394.2 425.5,394.5 424.5,394.9 423.6,395.3 422.6,396.3 422.4,397.3 422.4,398.3 422.4,399.3 422.2,400.3 421.5,401.3 420.5,401.6 419.5,401.3 418.5,400.6 417.5,399.7 416.5,399.1 415.5,399.1 414.5,399.4 413.5,399.9 412.5,400.5 411.5,400.9 410.5,401.1 409.5,401.1 408.5,400.9 407.5,400.7 406.5,400.4 405.5,399.9 404.5,399.3 403.5,398.8 402.5,398.3 401.5,398.2 400.5,398.3 399.5,398.7 398.6,399.3 397.6,400.3 396.7,401.3 395.6,402.3 394.5,402.8 393.5,402.8 392.5,402.5 391.5,401.7 390.5,400.7 389.5,399.8 388.6,399.3 387.5,398.9 386.5,398.6 385.5,398.2 384.5,397.7 383.5,397.0 382.5,396.3 381.5,395.8 380.5,395.5 379.5,395.5 378.5,395.7 377.5,396.1 376.5,396.6 375.5,397.2 374.5,397.9 373.5,398.8 372.5,399.6 371.5,400.3 370.5,400.7 369.5,401.1 368.5,401.5 367.5,402.2 366.5,403.0 365.5,403.8 364.5,404.6 363.6,405.3 362.5,406.0 361.5,406.5ZM399.3,352.3 399.5,351.3 399.1,350.3 398.5,349.3 397.8,348.3 396.9,347.3 396.0,346.3 394.9,345.3 393.8,344.3 392.5,343.3 391.5,342.6 390.5,342.0 389.5,341.5 388.5,341.0 387.5,340.6 386.5,340.3 385.5,340.2 384.5,340.2 383.5,340.9 383.4,342.3 383.9,343.3 384.5,344.2 385.4,345.3 386.3,346.3 387.4,347.3 388.5,348.2 389.5,348.8 390.3,349.3 391.5,350.0 392.5,350.5 393.5,351.1 394.5,351.6 395.5,352.0 396.5,352.4 397.5,352.6 398.5,352.6ZM483.5,360.5 482.5,360.7 481.5,360.7 480.5,360.3 479.5,359.3 478.7,358.3 480.5,358.1 481.5,358.1 482.5,358.3 483.5,358.8 483.5,360.3ZM483.5,434.3 482.5,434.3 481.5,434.3 480.5,434.3 479.5,434.3 478.5,434.3 477.5,434.3 476.5,434.3 475.5,434.3 474.5,434.3 473.5,434.3 472.5,434.3 471.5,434.3 470.5,434.3 469.5,434.3 468.5,434.3 467.5,434.3 466.5,434.3 465.5,434.3 464.5,434.3 463.5,434.3 462.5,434.3 461.5,434.3 460.5,434.3 459.5,434.3 458.5,434.3 457.5,434.3 456.5,434.3 455.5,434.3 454.5,434.3 453.5,434.3 452.5,434.3 451.5,434.3 450.5,434.3 449.5,434.3 449.2,433.3 449.1,432.3 449.0,431.3 448.9,430.3 448.8,429.3 448.8,428.3 448.7,427.3 448.6,426.3 448.4,425.3 448.1,424.3 447.8,423.3 447.5,422.3 447.8,421.3 448.5,420.4 449.5,419.3 449.8,418.3 450.0,417.3 450.0,416.3 449.9,415.3 449.9,414.3 449.8,413.3 449.7,412.3 449.6,411.3 449.7,410.3 450.5,409.3 451.5,408.9 452.5,408.6 453.5,408.2 454.5,407.3 455.1,406.3 455.4,405.3 455.7,404.3 456.0,403.3 456.5,402.3 457.0,401.3 457.8,400.3 459.5,399.3 460.5,399.1 461.5,398.8 462.5,398.4 463.5,397.8 464.4,397.3 465.5,396.7 466.4,396.3 467.5,395.9 468.5,395.6 469.4,395.3 470.5,395.1 471.5,395.0 472.5,395.0 473.5,395.1 474.5,395.4 475.5,395.7 476.5,396.0 477.5,396.4 478.5,397.0 479.5,397.9 480.4,399.3 481.2,400.3 482.5,401.2 483.5,401.5 483.5,403.3 483.5,404.3 483.5,405.3 483.5,406.3 483.5,407.3 483.5,408.3 483.5,409.3 483.5,410.3 483.5,411.3 483.5,412.3 483.5,413.3 483.5,414.3 483.5,415.3 483.5,416.3 483.5,417.3 483.5,418.3 483.5,419.3 483.5,420.3 483.5,421.3 483.5,422.3 483.5,423.3 483.5,424.3 483.5,425.3 483.5,426.3 483.5,427.3 483.5,428.3 483.5,429.3 483.5,430.3 483.5,431.3 483.5,432.3 483.5,433.3 483.5,434.3Z"/>
<path fill-rule="evenodd" fill="#3280f7" d="M359.5,402.5 358.5,402.7 357.5,402.6 356.6,402.3 355.5,401.7 354.5,401.2 353.5,400.9 352.5,400.9 351.5,401.0 350.5,401.1 349.5,401.2 348.5,401.4 347.5,401.5 346.5,401.5 345.5,401.5 344.5,401.4 343.5,401.2 342.5,400.9 341.5,400.5 340.5,400.1 339.5,399.6 338.6,399.3 337.5,399.0 336.5,398.7 335.5,398.6 334.5,398.3 333.5,398.0 332.5,397.6 331.5,397.1 330.5,396.6 329.5,396.1 328.5,395.5 327.5,394.9 326.5,394.5 325.5,394.0 324.5,393.7 323.5,393.4 322.5,393.0 321.5,392.6 320.5,392.1 319.5,391.5 318.5,390.9 317.8,390.3 316.7,389.3 315.8,388.3 315.1,387.3 314.5,386.5 313.5,385.4 312.5,384.5 311.5,383.6 310.5,382.6 309.5,381.5 308.5,380.4 307.5,379.4 306.5,378.7 305.5,378.0 304.5,377.4 303.5,376.9 302.5,376.3 301.5,375.5 300.5,374.3 300.0,373.3 299.6,372.3 299.3,371.3 299.0,370.3 298.7,369.3 298.2,368.3 297.6,367.3 296.8,366.3 296.0,365.3 295.1,364.3 294.2,363.3 293.5,362.4 292.9,361.3 292.4,360.3 292.1,359.3 291.9,358.3 291.8,357.3 291.8,356.3 291.9,355.3 292.1,354.3 292.4,353.3 292.7,352.3 293.0,351.3 293.3,350.3 293.8,349.3 294.5,348.3 295.5,347.6 296.5,347.2 297.5,346.9 298.5,346.7 299.5,346.5 300.5,346.3 301.5,346.2 302.5,345.9 303.5,345.7 304.5,345.5 305.5,345.4 306.5,345.3 307.5,345.4 308.5,345.6 309.5,345.9 310.5,346.3 311.5,346.6 312.5,346.9 313.5,347.1 314.5,347.2 315.5,347.2 316.5,347.2 317.5,347.3 318.5,347.6 319.5,347.9 320.5,348.2 321.5,348.7 322.5,349.2 323.5,349.7 324.5,350.2 325.5,350.7 326.5,351.3 327.5,351.9 328.5,352.6 329.4,353.3 330.5,354.1 331.5,354.9 332.5,355.6 333.5,356.2 334.5,356.8 335.4,357.3 336.5,357.9 337.5,358.5 338.5,359.1 339.5,359.7 340.5,360.3 341.5,360.9 342.5,361.6 343.5,362.2 344.5,362.9 345.5,363.6 346.5,364.2 347.5,364.8 348.3,365.3 349.5,366.0 350.5,366.4 351.5,366.8 352.5,367.1 353.5,367.4 354.5,367.6 355.5,367.8 356.5,367.8 357.0,366.3 356.7,365.3 356.2,364.3 355.7,363.3 355.0,362.3 354.2,361.3 353.5,360.5 352.5,359.5 351.5,358.6 350.5,357.7 349.5,356.8 348.5,356.0 347.6,355.3 346.5,354.3 345.5,353.5 344.5,352.6 343.5,351.8 342.5,351.0 341.7,350.3 340.5,349.3 339.5,348.4 338.5,347.6 337.5,346.8 336.5,346.0 335.7,345.3 334.5,344.4 333.5,343.5 332.5,342.5 331.6,341.3 331.1,340.3 330.5,339.3 329.9,338.3 329.1,337.3 327.9,336.3 326.5,335.3 325.5,334.8 324.5,334.4 323.5,333.9 322.5,333.5 321.5,332.9 320.6,332.3 319.5,331.4 318.5,330.5 317.5,329.4 316.5,328.3 315.9,327.3 315.3,326.3 314.7,325.3 313.9,324.3 312.9,323.3 311.7,322.3 311.1,321.3 310.9,320.3 311.1,319.3 311.4,318.3 311.6,317.3 311.8,316.3 311.8,315.3 311.7,314.3 311.4,313.3 311.1,312.3 310.7,311.3 310.3,310.3 310.0,309.3 309.7,308.3 309.7,307.3 310.0,306.3 310.7,305.3 311.5,304.7 312.5,304.1 313.5,303.6 314.5,303.1 315.5,302.8 316.5,302.6 317.5,302.5 318.5,302.4 319.5,302.3 320.5,302.0 321.4,301.3 321.9,300.3 322.2,299.3 322.7,298.3 323.5,297.5 324.5,297.2 325.5,297.3 326.5,297.3 327.5,297.2 328.5,296.9 329.5,296.4 330.5,295.9 331.5,295.6 332.5,295.4 333.5,295.3 334.5,295.2 335.5,295.1 336.5,295.0 337.5,295.0 338.5,294.9 339.5,294.9 340.5,295.0 341.5,295.2 342.5,295.6 343.5,296.2 344.5,296.9 345.5,297.5 346.5,297.8 347.5,298.0 348.5,298.1 349.5,298.2 350.5,298.3 351.5,298.5 352.5,298.7 353.5,298.8 354.5,298.9 355.5,298.8 356.5,298.6 357.5,298.3 358.5,298.1 359.5,297.8 360.5,297.4 361.5,297.0 362.5,296.9 363.5,296.9 364.5,297.3 365.5,298.0 366.5,298.5 367.5,298.7 368.5,298.7 369.5,298.5 370.5,298.2 371.5,297.9 372.5,297.8 373.5,298.1 374.5,298.6 375.5,299.2 376.5,299.7 377.5,300.1 378.5,300.2 379.5,300.2 380.5,300.0 381.5,299.6 382.5,299.1 383.5,298.6 384.5,298.1 385.5,297.8 386.5,297.7 387.5,297.8 388.5,298.0 389.5,298.5 390.5,298.9 391.5,299.4 392.5,299.7 393.5,299.8 394.5,299.7 395.5,299.4 396.5,299.0 397.5,298.6 398.5,298.3 399.5,298.3 400.5,298.7 401.2,299.3 402.1,300.3 403.1,301.3 404.5,302.1 405.5,302.3 406.5,302.5 407.5,302.8 408.5,303.2 409.5,303.8 410.5,304.5 411.5,305.2 412.5,305.7 413.5,306.1 414.5,306.5 415.5,306.7 416.5,306.8 417.5,306.8 418.5,307.0 419.5,307.3 420.5,307.8 421.4,308.3 422.5,308.9 423.5,309.3 424.5,309.7 425.5,310.3 426.5,311.3 426.9,312.3 427.2,313.3 427.8,314.3 428.5,314.9 429.5,315.5 430.5,315.8 431.5,316.0 432.5,316.2 433.5,316.4 434.5,316.6 435.5,317.1 436.5,318.1 437.5,319.3 438.5,320.2 439.5,320.9 440.5,321.6 441.3,322.3 442.2,323.3 442.7,324.3 443.2,325.3 443.8,326.3 444.5,327.1 445.5,327.9 446.5,328.5 447.5,329.2 448.4,330.3 449.0,331.3 449.5,332.3 449.9,333.3 450.5,334.3 451.4,335.3 452.5,336.1 453.5,336.5 454.5,336.8 455.5,337.1 456.5,337.7 457.3,338.3 457.9,339.3 458.2,340.3 458.4,341.3 458.7,342.3 458.9,343.3 459.2,344.3 459.3,345.3 459.3,346.3 459.2,347.3 459.0,348.3 458.8,349.3 458.7,350.3 458.6,351.3 458.7,352.3 458.9,353.3 459.2,354.3 459.7,355.3 460.3,356.3 461.1,357.3 462.2,358.3 463.2,359.3 463.8,360.3 464.0,361.3 463.7,362.3 463.0,363.3 461.6,364.3 460.5,364.7 459.5,365.0 458.5,365.2 457.5,365.5 456.5,366.0 455.5,366.7 454.5,368.0 454.0,369.3 453.5,370.1 452.5,371.0 451.5,371.5 450.5,371.8 449.5,371.9 448.5,371.9 447.5,371.8 446.5,371.7 445.5,371.5 444.5,371.4 443.5,371.2 442.5,371.0 441.5,370.9 440.5,370.8 439.5,370.8 438.5,370.9 437.5,370.9 436.5,371.0 435.5,371.1 434.5,371.2 433.5,371.3 432.5,371.4 431.5,371.5 430.5,371.6 429.5,371.6 428.5,371.7 427.5,371.8 426.5,372.0 425.5,372.3 424.5,372.7 423.5,373.2 422.5,373.8 421.7,374.3 420.9,375.3 420.5,376.3 420.5,377.3 420.6,378.3 420.8,379.3 421.0,380.3 421.1,381.3 421.4,382.3 421.7,383.3 421.9,384.3 422.2,385.3 422.3,386.3 422.3,387.3 422.1,388.3 421.5,389.3 420.6,390.3 419.5,391.2 418.5,391.8 417.5,392.5 416.5,393.1 415.5,393.7 414.5,394.2 413.5,394.9 412.7,395.3 411.5,395.9 410.5,396.3 409.5,396.5 408.5,396.4 407.5,396.2 406.5,395.9 405.5,395.6 404.6,395.3 403.5,395.1 402.5,394.9 401.5,394.8 400.5,394.8 399.5,394.8 398.5,394.9 397.5,395.0 396.5,395.2 395.6,395.3 394.5,395.5 393.5,395.5 392.5,395.4 391.5,395.3 390.5,395.2 389.5,395.1 388.5,394.9 387.5,394.7 386.5,394.4 385.5,394.0 384.5,393.5 383.5,392.9 382.5,392.4 381.5,391.9 380.5,391.4 379.5,390.9 378.5,390.5 377.5,390.2 376.5,390.1 375.5,390.2 374.5,390.6 373.5,391.1 372.5,391.5 371.5,391.7 370.5,391.8 369.5,391.7 368.5,391.7 367.5,391.9 366.5,392.5 366.0,393.3 365.5,394.3 365.1,395.3 364.7,396.3 364.2,397.3 363.6,398.3 363.0,399.3 362.2,400.3 361.5,401.2 360.5,402.0 359.5,402.5ZM401.2,354.3 401.8,353.3 401.6,352.3 401.0,351.3 400.5,350.5 399.6,349.3 398.8,348.3 397.9,347.3 397.0,346.3 395.9,345.3 394.8,344.3 393.6,343.3 392.5,342.5 391.5,341.8 390.5,341.1 389.5,340.5 388.5,340.0 387.5,339.6 386.6,339.3 385.5,339.0 384.5,338.8 383.5,338.7 382.5,338.9 381.7,339.3 381.3,340.3 381.4,341.3 381.9,342.3 382.5,343.1 383.4,344.3 384.3,345.3 385.3,346.3 386.3,347.3 387.5,348.3 388.5,349.0 389.5,349.6 390.5,350.2 391.5,350.8 392.4,351.3 393.5,351.9 394.5,352.5 395.5,353.0 396.5,353.4 397.5,353.8 398.5,354.1 399.5,354.3 400.5,354.4ZM483.5,434.3 482.5,434.3 481.5,434.3 480.5,434.3 479.5,434.3 478.5,434.3 477.5,434.3 476.5,434.3 475.5,434.3 474.5,434.3 473.5,434.3 472.5,434.3 471.5,434.3 470.5,434.3 469.5,434.3 468.5,434.3 467.5,434.3 466.5,434.3 465.5,434.3 464.5,434.3 463.5,434.3 462.5,434.3 461.5,434.3 460.5,434.3 459.5,434.3 458.5,434.3 457.5,434.3 456.5,434.3 455.5,434.3 455.0,433.3 455.0,432.3 455.1,431.3 455.2,430.3 455.3,429.3 455.5,428.4 455.9,427.3 456.4,426.3 457.1,425.3 457.6,424.3 458.0,423.3 458.2,422.3 458.3,421.3 458.2,420.3 458.1,419.3 458.1,418.3 458.5,417.3 459.5,416.4 460.5,415.9 461.4,415.3 462.4,414.3 463.0,413.3 463.3,412.3 463.6,411.3 464.0,410.3 464.8,409.3 466.5,408.3 467.5,407.7 468.5,406.8 469.5,405.3 469.9,404.3 470.4,403.3 471.4,402.3 472.5,401.7 473.5,401.5 474.5,401.6 475.5,402.1 476.5,402.8 477.3,403.3 478.5,403.9 479.5,404.1 480.5,404.3 481.5,404.4 482.5,404.4 483.5,404.5 483.5,406.3 483.5,407.3 483.5,408.3 483.5,409.3 483.5,410.3 483.5,411.3 483.5,412.3 483.5,413.3 483.5,414.3 483.5,415.3 483.5,416.3 483.5,417.3 483.5,418.3 483.5,419.3 483.5,420.3 483.5,421.3 483.5,422.3 483.5,423.3 483.5,424.3 483.5,425.3 483.5,426.3 483.5,427.3 483.5,428.3 483.5,429.3 483.5,430.3 483.5,431.3 483.5,432.3 483.5,433.3 483.5,434.3Z"/>
<path fill-rule="evenodd" fill="#208be8" d="M350.5,398.4 349.5,398.7 348.5,399.0 347.5,399.1 346.5,399.1 345.5,399.1 344.5,398.9 343.5,398.6 342.5,398.2 341.5,397.7 340.7,397.3 339.5,396.7 338.5,396.3 337.5,396.0 336.5,395.8 335.5,395.5 334.5,395.3 333.5,395.0 332.5,394.7 331.5,394.3 330.5,393.8 329.5,393.1 328.5,392.5 327.5,392.0 326.5,391.6 325.5,391.4 324.5,391.3 323.5,391.1 322.5,390.8 321.5,390.5 320.5,390.0 319.5,389.4 318.5,388.6 317.5,387.5 316.6,386.3 316.0,385.3 315.3,384.3 314.5,383.4 313.5,382.4 312.5,381.5 311.5,380.6 310.5,379.6 309.5,378.7 308.5,377.9 307.7,377.3 306.5,376.6 305.5,376.0 304.5,375.4 303.5,374.7 302.5,373.7 301.7,372.3 301.4,371.3 301.1,370.3 300.8,369.3 300.5,368.4 300.0,367.3 299.5,366.3 298.9,365.3 298.3,364.3 297.6,363.3 296.8,362.3 296.1,361.3 295.5,360.4 295.1,359.3 294.9,358.3 294.9,357.3 295.0,356.3 295.2,355.3 295.5,354.4 296.1,353.3 296.9,352.3 298.3,351.3 299.5,350.7 300.5,350.5 301.5,350.2 302.5,350.1 303.5,349.9 304.5,349.8 305.5,349.6 306.5,349.4 307.5,349.2 308.5,349.1 309.5,349.1 310.5,349.1 311.5,349.2 312.5,349.3 313.5,349.4 314.5,349.4 315.5,349.4 316.5,349.4 317.5,349.5 318.5,349.7 319.5,350.0 320.4,350.3 321.5,350.8 322.5,351.2 323.5,351.5 324.5,351.9 325.5,352.3 326.5,352.8 327.4,353.3 328.5,354.0 329.5,354.8 330.5,355.5 331.5,356.2 332.5,356.9 333.5,357.5 334.5,358.0 335.5,358.6 336.5,359.1 337.5,359.7 338.5,360.3 339.5,360.9 340.5,361.5 341.5,362.2 342.5,362.9 343.5,363.6 344.5,364.3 345.5,365.1 346.5,365.8 347.5,366.5 348.5,367.2 349.5,367.7 350.5,368.2 351.5,368.7 352.5,369.1 353.5,369.7 354.4,370.3 355.5,371.2 356.5,371.9 357.5,372.4 358.5,372.6 359.5,372.1 360.0,371.3 360.3,370.3 360.3,369.3 360.2,368.3 359.8,367.3 359.3,366.3 358.8,365.3 358.1,364.3 357.5,363.4 356.7,362.3 355.9,361.3 355.1,360.3 354.0,359.3 352.9,358.3 351.7,357.3 350.5,356.3 349.5,355.5 348.5,354.7 347.5,353.8 346.5,352.9 345.8,352.3 344.6,351.3 343.5,350.4 342.5,349.6 341.5,348.7 340.5,347.9 339.7,347.3 338.5,346.4 337.5,345.6 336.5,344.8 335.5,344.0 334.7,343.3 333.7,342.3 333.0,341.3 332.5,340.3 332.2,339.3 331.8,338.3 331.3,337.3 330.6,336.3 329.7,335.3 328.7,334.3 327.8,333.3 326.9,332.3 326.0,331.3 325.5,330.5 324.5,329.4 323.6,328.3 323.1,327.3 322.7,326.3 322.4,325.3 322.1,324.3 321.9,323.3 321.7,322.3 321.5,321.3 321.2,320.3 320.9,319.3 320.6,318.3 320.2,317.3 319.8,316.3 319.4,315.3 318.5,314.4 317.5,313.8 316.5,313.0 315.9,312.3 315.2,311.3 314.9,310.3 314.9,309.3 315.1,308.3 315.7,307.3 316.5,306.6 317.5,306.1 318.5,305.9 319.5,305.9 320.5,305.8 321.5,305.8 322.5,305.6 323.5,305.1 324.5,304.5 325.5,303.6 326.5,302.8 327.3,302.3 328.5,301.9 329.5,301.7 330.5,301.7 331.5,301.7 332.5,301.8 333.5,301.7 334.5,301.6 335.5,301.2 336.5,300.5 337.5,300.0 338.5,299.8 339.5,300.0 340.5,300.5 341.5,301.1 342.5,301.8 343.5,302.2 344.5,302.3 345.5,302.4 346.5,302.3 347.5,302.2 348.5,302.2 349.5,302.5 350.5,303.3 351.4,304.3 352.3,305.3 353.5,306.3 354.5,306.7 355.5,307.0 356.5,307.0 357.5,307.0 358.5,306.8 359.5,306.7 360.5,306.7 361.5,306.7 362.5,306.7 363.5,306.7 364.5,306.6 365.5,306.3 366.5,305.7 367.5,304.7 368.5,303.5 369.5,302.6 370.5,302.0 371.5,301.7 372.5,301.6 373.5,301.7 374.5,301.9 375.5,302.1 376.5,302.4 377.5,302.5 378.5,302.5 379.5,302.4 380.5,302.2 381.5,301.9 382.5,301.5 383.5,301.1 384.5,300.7 385.5,300.6 386.5,300.6 387.5,300.8 388.5,301.3 389.5,301.9 390.5,302.6 391.5,303.2 392.5,303.6 393.5,304.0 394.5,304.2 395.5,304.4 396.5,304.5 397.5,304.7 398.5,304.8 399.5,305.0 400.5,305.3 401.5,305.5 402.5,305.7 403.5,305.9 404.5,306.1 405.4,306.3 406.5,306.6 407.5,306.9 408.5,307.3 409.5,307.7 410.5,308.1 411.5,308.6 412.5,309.0 413.5,309.4 414.5,309.8 415.5,310.1 416.5,310.5 417.5,310.9 418.5,311.3 419.5,311.8 420.4,312.3 421.5,313.0 422.5,313.7 423.5,314.7 424.5,315.7 425.2,316.3 426.5,317.2 427.5,317.7 428.5,318.1 429.5,318.5 430.5,318.9 431.4,319.3 432.5,320.1 433.5,321.0 434.5,322.0 435.5,322.9 436.5,323.7 437.2,324.3 438.2,325.3 439.0,326.3 439.7,327.3 440.5,328.3 441.5,329.3 442.5,330.2 443.5,330.9 444.5,331.7 445.3,332.3 446.1,333.3 446.7,334.3 447.1,335.3 447.5,336.1 448.1,337.3 448.7,338.3 449.3,339.3 449.9,340.3 450.4,341.3 450.9,342.3 451.4,343.3 452.0,344.3 452.5,345.3 452.9,346.3 453.3,347.3 453.7,348.3 454.0,349.3 454.3,350.3 454.6,351.3 454.9,352.3 455.3,353.3 455.8,354.3 456.2,355.3 456.5,356.3 456.7,357.3 456.7,358.3 456.4,359.3 455.8,360.3 454.8,361.3 453.7,362.3 452.7,363.3 451.8,364.3 451.0,365.3 450.3,366.3 449.6,367.3 448.9,368.3 447.5,369.3 446.5,369.6 445.5,369.7 444.5,369.7 443.5,369.7 442.5,369.6 441.5,369.5 440.5,369.4 439.5,369.4 438.5,369.4 437.5,369.4 436.5,369.5 435.5,369.6 434.5,369.7 433.5,369.8 432.5,369.9 431.5,369.9 430.5,369.9 429.5,369.9 428.5,369.8 427.5,369.7 426.5,369.5 425.5,369.4 424.5,369.5 423.5,369.6 422.5,369.9 421.5,370.2 420.5,370.6 419.5,370.9 418.5,371.5 417.5,372.3 417.1,373.3 416.9,374.3 417.0,375.3 417.2,376.3 417.4,377.3 417.6,378.3 417.7,379.3 417.8,380.3 417.9,381.3 418.0,382.3 418.1,383.3 418.2,384.3 418.4,385.3 418.5,386.3 418.4,387.3 418.1,388.3 417.5,389.3 416.5,390.3 415.5,391.0 414.5,391.6 413.5,392.1 412.5,392.5 411.5,392.9 410.5,393.1 409.5,393.3 408.5,393.3 407.5,393.3 406.5,393.2 405.5,393.1 404.5,393.1 403.5,393.1 402.5,393.0 401.5,393.0 400.5,392.9 399.5,392.9 398.5,392.9 397.5,392.9 396.5,392.9 395.5,393.0 394.5,393.0 393.5,393.1 392.5,393.0 391.5,393.0 390.5,392.8 389.5,392.7 388.5,392.4 387.5,392.1 386.5,391.7 385.6,391.3 384.5,390.8 383.5,390.4 382.5,389.9 381.5,389.4 380.5,388.9 379.5,388.3 378.5,387.8 377.5,387.4 376.5,387.1 375.5,386.9 374.5,386.8 373.5,386.7 372.5,386.6 371.5,386.4 370.5,386.1 369.5,385.6 368.5,384.7 367.6,383.3 367.0,382.3 366.5,381.6 365.5,380.9 364.5,380.8 363.5,381.1 362.5,381.8 361.5,382.7 360.5,384.0 360.0,385.3 359.7,386.3 359.7,387.3 359.8,388.3 360.0,389.3 360.1,390.3 360.3,391.3 360.3,392.3 360.2,393.3 359.9,394.3 359.0,395.3 357.5,396.0 356.5,396.2 355.5,396.4 354.5,396.7 353.5,397.1 352.5,397.5 351.5,398.0 350.5,398.4ZM404.3,355.3 404.1,354.3 403.6,353.3 402.9,352.3 402.2,351.3 401.5,350.5 400.5,349.3 399.6,348.3 398.7,347.3 397.7,346.3 396.7,345.3 395.6,344.3 394.5,343.3 393.5,342.5 392.5,341.7 391.5,341.0 390.5,340.4 389.5,339.7 388.6,339.3 387.5,338.8 386.5,338.4 385.5,338.0 384.5,337.8 383.5,337.6 382.5,337.4 381.5,337.4 380.5,337.7 379.8,338.3 379.5,339.3 379.7,340.3 380.1,341.3 380.7,342.3 381.5,343.3 382.4,344.3 383.4,345.3 384.4,346.3 385.5,347.3 386.5,348.2 387.5,348.9 388.5,349.6 389.5,350.2 390.5,350.8 391.5,351.4 392.5,352.0 393.5,352.6 394.5,353.2 395.5,353.7 396.5,354.2 397.5,354.7 398.5,355.1 399.5,355.5 400.5,355.9 401.5,356.1 402.5,356.3 403.5,356.2 404.3,355.3ZM483.5,434.3 482.5,434.3 481.5,434.3 480.5,434.3 479.5,434.3 478.5,434.3 477.5,434.3 476.5,434.3 475.5,434.3 474.5,434.3 473.5,434.3 472.5,434.3 471.5,434.3 470.5,434.3 469.5,434.3 468.5,434.3 467.5,434.3 466.5,434.3 465.5,434.3 464.5,434.3 463.5,434.3 462.5,434.3 462.3,433.3 462.4,432.3 462.4,431.3 462.3,430.3 462.0,429.3 461.6,428.3 461.4,427.3 461.3,426.3 461.4,425.3 461.6,424.3 461.9,423.3 462.1,422.3 462.4,421.3 462.7,420.3 463.2,419.3 464.0,418.3 465.0,417.3 465.9,416.3 466.5,415.4 466.9,414.3 467.1,413.3 467.5,412.4 468.4,411.3 469.5,410.6 470.5,410.2 471.5,409.8 472.5,409.5 473.5,409.3 474.5,409.2 475.5,409.1 476.5,409.1 477.5,409.1 478.5,409.2 479.5,409.4 480.5,409.6 481.5,409.7 482.5,409.7 483.5,410.0 483.5,411.3 483.5,412.3 483.5,413.3 483.5,414.3 483.5,415.3 483.5,416.3 483.5,417.3 483.5,418.3 483.5,419.3 483.5,420.3 483.5,421.3 483.5,422.3 483.5,423.3 483.5,424.3 483.5,425.3 483.5,426.3 483.5,427.3 483.5,428.3 483.5,429.3 483.5,430.3 483.5,431.3 483.5,432.3 483.5,433.3 483.5,434.3Z"/>
<path fill-rule="evenodd" fill="#129bdc" d="M402.5,391.3 401.5,391.3 400.5,391.3 399.5,391.3 398.5,391.3 397.5,391.3 396.5,391.3 395.5,391.3 394.5,391.4 393.5,391.4 392.5,391.3 391.5,391.2 390.5,391.0 389.5,390.7 388.5,390.4 387.5,389.9 386.5,389.5 385.5,389.1 384.5,388.7 383.5,388.3 382.5,387.9 381.5,387.4 380.5,386.8 379.5,386.3 378.5,385.8 377.5,385.4 376.5,385.0 375.5,384.6 374.5,384.1 373.5,383.5 372.5,382.8 371.5,381.9 370.5,380.9 369.5,379.7 368.5,378.6 367.5,377.5 366.5,376.4 365.5,375.3 364.6,374.3 364.0,373.3 363.5,372.4 363.0,371.3 362.7,370.3 362.3,369.3 361.9,368.3 361.5,367.3 361.0,366.3 360.4,365.3 359.7,364.3 359.0,363.3 358.5,362.5 357.7,361.3 356.9,360.3 356.0,359.3 354.8,358.3 353.6,357.3 352.5,356.4 351.5,355.6 350.5,354.8 349.5,354.0 348.7,353.3 347.6,352.3 346.5,351.3 345.5,350.4 344.5,349.5 343.5,348.6 342.5,347.8 341.5,347.0 340.5,346.4 339.5,345.7 338.5,345.0 337.6,344.3 336.5,343.4 335.5,342.5 334.6,341.3 334.1,340.3 333.8,339.3 333.5,338.3 333.2,337.3 332.7,336.3 332.0,335.3 331.2,334.3 330.5,333.4 329.7,332.3 329.1,331.3 328.7,330.3 328.3,329.3 327.9,328.3 327.5,327.3 327.1,326.3 326.6,325.3 326.2,324.3 326.0,323.3 325.9,322.3 325.9,321.3 325.9,320.3 325.9,319.3 325.8,318.3 325.6,317.3 325.2,316.3 324.8,315.3 324.5,314.3 324.3,313.3 324.3,312.3 324.4,311.3 324.8,310.3 325.5,309.3 326.4,308.3 327.4,307.3 328.4,306.3 329.5,305.7 330.5,305.5 331.5,305.5 332.5,305.6 333.5,305.7 334.5,305.8 335.5,305.8 336.5,305.8 337.5,305.8 338.5,305.9 339.5,306.0 340.5,306.2 341.5,306.2 342.5,306.3 343.5,306.2 344.5,306.2 345.5,306.2 346.5,306.3 347.5,306.5 348.5,307.0 349.5,307.6 350.5,308.2 351.5,308.7 352.5,309.2 353.5,309.6 354.5,309.9 355.5,310.2 356.5,310.5 357.5,310.8 358.5,311.1 359.5,311.4 360.5,311.5 361.5,311.4 362.5,311.2 363.5,310.9 364.5,310.6 365.5,310.3 366.5,310.0 367.5,309.7 368.5,309.2 369.5,308.4 370.5,307.4 371.5,306.5 372.5,305.9 373.5,305.7 374.5,305.6 375.5,305.7 376.5,305.8 377.5,305.8 378.5,305.7 379.5,305.6 380.5,305.3 381.5,305.0 382.5,304.6 383.5,304.2 384.5,304.0 385.5,304.0 386.5,304.4 387.5,305.1 388.5,305.8 389.5,306.3 390.5,306.6 391.5,306.9 392.5,307.1 393.5,307.2 394.5,307.4 395.5,307.4 396.5,307.4 397.5,307.5 398.5,307.5 399.5,307.6 400.5,307.7 401.5,307.9 402.5,308.1 403.5,308.3 404.5,308.5 405.5,308.7 406.5,309.0 407.5,309.4 408.5,309.8 409.5,310.2 410.5,310.7 411.5,311.1 412.5,311.5 413.5,311.9 414.5,312.3 415.5,312.7 416.5,313.2 417.5,313.7 418.5,314.3 419.5,314.9 420.5,315.6 421.5,316.3 422.5,317.1 423.5,317.8 424.3,318.3 425.5,319.0 426.5,319.6 427.5,320.0 428.5,320.5 429.5,321.0 430.5,321.7 431.3,322.3 432.3,323.3 433.4,324.3 434.5,325.3 435.5,326.3 436.4,327.3 437.3,328.3 438.2,329.3 439.2,330.3 440.2,331.3 441.2,332.3 441.9,333.3 442.5,334.3 442.9,335.3 443.3,336.3 443.6,337.3 444.1,338.3 444.7,339.3 445.5,340.3 446.3,341.3 446.9,342.3 447.4,343.3 447.8,344.3 448.1,345.3 448.4,346.3 448.7,347.3 449.0,348.3 449.3,349.3 449.7,350.3 450.1,351.3 450.5,352.3 450.8,353.3 451.2,354.3 451.4,355.3 451.6,356.3 451.6,357.3 451.5,358.3 451.2,359.3 450.7,360.3 450.2,361.3 449.7,362.3 449.1,363.3 448.5,364.2 447.7,365.3 446.8,366.3 445.5,367.3 444.5,367.7 443.5,367.8 442.5,367.8 441.5,367.8 440.5,367.7 439.5,367.6 438.5,367.6 437.5,367.6 436.5,367.7 435.5,367.7 434.5,367.8 433.5,367.9 432.5,367.9 431.5,368.0 430.5,367.9 429.5,367.7 428.5,367.4 427.5,367.1 426.5,366.7 425.5,366.4 424.5,366.2 423.5,366.0 422.5,366.0 421.5,366.0 420.5,366.1 419.5,366.4 418.5,366.7 417.6,367.3 416.5,368.1 415.5,369.0 414.6,370.3 414.2,371.3 414.1,372.3 414.1,373.3 414.2,374.3 414.3,375.3 414.5,376.3 414.6,377.3 414.7,378.3 414.8,379.3 414.8,380.3 414.7,381.3 414.7,382.3 414.7,383.3 414.8,384.3 414.9,385.3 414.9,386.3 414.8,387.3 414.3,388.3 413.5,389.0 412.5,389.5 411.5,389.9 410.5,390.1 409.6,390.3 408.5,390.5 407.5,390.6 406.5,390.8 405.5,391.0 404.5,391.1 403.5,391.2 402.5,391.3ZM408.0,358.3 407.8,357.3 407.4,356.3 406.7,355.3 406.0,354.3 405.1,353.3 404.2,352.3 403.5,351.6 402.5,350.5 401.5,349.4 400.5,348.4 399.5,347.3 398.5,346.3 397.5,345.3 396.5,344.4 395.5,343.5 394.5,342.6 393.5,341.7 392.5,340.9 391.6,340.3 390.5,339.5 389.5,338.9 388.5,338.3 387.5,337.8 386.5,337.4 385.5,337.0 384.5,336.7 383.5,336.4 382.5,336.1 381.5,335.8 380.5,335.6 379.5,335.6 378.5,336.0 377.7,337.3 377.7,338.3 377.8,339.3 378.2,340.3 378.7,341.3 379.4,342.3 380.2,343.3 381.2,344.3 382.3,345.3 383.4,346.3 384.5,347.3 385.5,348.1 386.5,348.9 387.5,349.7 388.5,350.3 389.5,350.9 390.5,351.5 391.5,352.1 392.5,352.8 393.4,353.3 394.5,354.0 395.5,354.6 396.5,355.1 397.5,355.7 398.5,356.2 399.5,356.7 400.5,357.1 401.5,357.6 402.5,358.0 403.4,358.3 404.5,358.7 405.5,358.9 406.5,359.1 407.5,358.9ZM349.5,395.3 348.5,395.7 347.5,396.0 346.5,396.0 345.5,395.9 344.5,395.8 343.5,395.5 342.5,395.1 341.5,394.7 340.5,394.4 339.5,394.0 338.5,393.7 337.5,393.5 336.5,393.2 335.5,392.9 334.5,392.6 333.5,392.2 332.5,391.8 331.6,391.3 330.5,390.7 329.5,390.2 328.5,389.8 327.5,389.4 326.5,389.2 325.5,389.0 324.5,388.8 323.5,388.6 322.5,388.3 321.5,387.9 320.5,387.3 319.5,386.4 318.5,385.3 317.7,384.3 316.9,383.3 316.0,382.3 315.0,381.3 313.9,380.3 312.7,379.3 311.6,378.3 310.5,377.4 309.5,376.6 308.5,375.9 307.6,375.3 306.5,374.6 305.5,373.9 304.8,373.3 304.0,372.3 303.5,371.3 303.2,370.3 303.0,369.3 302.7,368.3 302.3,367.3 301.9,366.3 301.5,365.3 301.1,364.3 300.7,363.3 300.4,362.3 300.0,361.3 299.7,360.3 299.2,359.3 298.9,358.3 298.7,357.3 298.8,356.3 299.2,355.3 300.5,354.3 301.5,353.9 302.5,353.6 303.4,353.3 304.5,353.0 305.5,352.6 306.5,352.3 307.5,352.0 308.5,351.7 309.5,351.5 310.5,351.4 311.5,351.4 312.5,351.5 313.5,351.7 314.5,351.9 315.5,352.2 316.5,352.7 317.5,353.1 318.5,353.5 319.5,353.8 320.5,354.0 321.5,354.0 322.5,354.0 323.5,354.1 324.5,354.2 325.5,354.4 326.5,354.8 327.5,355.3 328.5,355.9 329.5,356.6 330.5,357.3 331.5,357.9 332.5,358.5 333.5,359.0 334.5,359.5 335.5,360.0 336.5,360.6 337.5,361.1 338.5,361.8 339.4,362.3 340.5,363.0 341.5,363.7 342.3,364.3 343.5,365.3 344.5,366.3 345.5,367.3 346.5,368.2 347.5,369.0 348.5,369.7 349.5,370.3 350.5,371.1 351.5,372.3 351.9,373.3 352.2,374.3 352.4,375.3 352.8,376.3 353.3,377.3 354.1,378.3 354.9,379.3 355.5,380.0 356.2,381.3 356.3,382.3 356.2,383.3 355.9,384.3 355.3,385.3 354.7,386.3 354.0,387.3 353.5,388.2 353.1,389.3 353.0,390.3 352.8,391.3 352.4,392.3 351.8,393.3 350.9,394.3 349.6,395.3ZM483.5,434.3 482.5,434.3 481.5,434.3 480.5,434.3 479.5,434.3 478.5,434.3 477.5,434.3 476.5,434.3 475.5,434.3 474.5,434.3 473.5,434.3 472.5,434.3 471.5,434.3 470.5,434.3 469.5,434.3 468.5,434.3 467.5,434.3 466.5,434.3 466.1,433.3 466.2,432.3 466.3,431.3 466.3,430.3 466.3,429.3 466.2,428.3 466.1,427.3 466.0,426.3 466.0,425.3 466.3,424.3 466.9,423.3 468.1,422.3 469.5,421.8 470.5,421.6 471.5,421.5 472.5,421.3 473.5,421.0 474.5,420.5 475.5,419.9 476.3,419.3 477.5,418.5 478.5,418.1 479.5,417.9 480.5,417.8 481.5,417.7 482.5,417.7 483.5,417.7 483.5,419.3 483.5,420.3 483.5,421.3 483.5,422.3 483.5,423.3 483.5,424.3 483.5,425.3 483.5,426.3 483.5,427.3 483.5,428.3 483.5,429.3 483.5,430.3 483.5,431.3 483.5,432.3 483.5,433.3 483.5,434.3Z"/>
<path fill-rule="evenodd" fill="#08acd0" d="M403.5,389.5 402.5,389.7 401.5,389.8 400.5,389.9 399.5,389.9 398.5,389.9 397.5,389.9 396.5,389.9 395.5,390.0 394.5,390.0 393.5,390.0 392.5,389.9 391.5,389.7 390.5,389.4 389.5,389.0 388.5,388.6 387.5,388.1 386.5,387.6 385.6,387.3 384.5,386.9 383.5,386.5 382.5,386.0 381.5,385.5 380.5,385.0 379.5,384.5 378.5,384.0 377.5,383.6 376.5,383.1 375.5,382.5 374.5,381.9 373.7,381.3 372.5,380.3 371.5,379.3 370.6,378.3 369.8,377.3 369.0,376.3 368.3,375.3 367.5,374.4 366.6,373.3 365.8,372.3 365.1,371.3 364.5,370.3 364.0,369.3 363.5,368.4 363.0,367.3 362.5,366.4 361.8,365.3 361.2,364.3 360.5,363.3 359.9,362.3 359.3,361.3 358.7,360.3 358.0,359.3 357.1,358.3 356.0,357.3 354.7,356.3 353.5,355.4 352.5,354.6 351.5,353.8 350.5,352.9 349.8,352.3 348.7,351.3 347.7,350.3 346.7,349.3 345.7,348.3 344.6,347.3 343.5,346.3 342.5,345.7 341.5,345.1 340.5,344.5 339.5,343.9 338.6,343.3 337.5,342.4 336.5,341.3 335.9,340.3 335.6,339.3 335.3,338.3 335.0,337.3 334.6,336.3 334.1,335.3 333.5,334.3 332.8,333.3 332.2,332.3 331.6,331.3 331.2,330.3 331.0,329.3 330.7,328.3 330.4,327.3 330.1,326.3 329.7,325.3 329.2,324.3 328.9,323.3 328.8,322.3 328.8,321.3 328.9,320.3 329.0,319.3 329.1,318.3 329.2,317.3 329.3,316.3 329.4,315.3 329.6,314.3 330.1,313.3 330.8,312.3 331.5,311.7 332.5,310.9 333.5,310.4 334.5,309.9 335.5,309.6 336.5,309.4 337.5,309.3 338.5,309.3 339.5,309.4 340.5,309.6 341.5,309.8 342.5,310.0 343.5,310.3 344.5,310.6 345.5,311.0 346.4,311.3 347.5,311.6 348.5,311.8 349.5,311.9 350.5,312.1 351.5,312.3 352.5,312.6 353.5,313.0 354.5,313.4 355.5,313.9 356.3,314.3 357.5,315.0 358.5,315.6 359.5,316.3 360.5,316.9 361.5,317.6 362.5,318.3 363.5,319.0 364.5,319.7 365.3,320.3 366.5,320.8 367.5,321.1 368.5,321.1 369.5,320.9 370.5,320.5 371.5,319.4 371.8,318.3 371.9,317.3 372.3,316.3 373.1,315.3 374.4,314.3 375.5,313.5 376.5,312.7 377.5,311.9 378.3,311.3 379.5,310.5 380.5,310.0 381.5,309.6 382.5,309.3 383.5,309.1 384.5,308.9 385.5,308.9 386.5,308.9 387.5,309.0 388.5,309.1 389.5,309.2 390.5,309.3 391.5,309.3 392.5,309.4 393.5,309.5 394.5,309.5 395.5,309.5 396.5,309.5 397.5,309.5 398.5,309.5 399.5,309.6 400.5,309.7 401.5,309.8 402.5,310.0 403.5,310.2 404.5,310.4 405.5,310.7 406.5,311.0 407.5,311.4 408.5,311.8 409.5,312.3 410.5,312.7 411.5,313.1 412.5,313.5 413.5,313.9 414.4,314.3 415.5,314.8 416.4,315.3 417.5,316.0 418.5,316.6 419.5,317.3 420.5,317.9 421.5,318.6 422.5,319.2 423.5,319.9 424.5,320.5 425.5,321.1 426.5,321.7 427.5,322.3 428.5,322.9 429.5,323.6 430.4,324.3 431.5,325.2 432.5,326.1 433.5,327.1 434.5,328.1 435.5,329.1 436.5,330.1 437.5,331.1 438.5,332.2 439.4,333.3 440.0,334.3 440.5,335.3 440.9,336.3 441.2,337.3 441.6,338.3 442.1,339.3 442.6,340.3 443.4,341.3 444.1,342.3 444.9,343.3 445.4,344.3 445.8,345.3 446.2,346.3 446.4,347.3 446.6,348.3 446.8,349.3 447.0,350.3 447.1,351.3 447.3,352.3 447.5,353.3 447.8,354.3 448.0,355.3 448.1,356.3 448.1,357.3 448.0,358.3 447.8,359.3 447.4,360.3 447.0,361.3 446.5,362.3 445.9,363.3 445.1,364.3 443.6,365.3 442.5,365.6 441.5,365.6 440.5,365.5 439.5,365.5 438.5,365.4 437.5,365.4 436.5,365.4 435.5,365.3 434.5,365.3 433.5,365.3 432.5,365.3 431.5,365.3 430.5,365.2 429.5,365.1 428.5,364.8 427.5,364.5 426.5,364.2 425.5,363.9 424.5,363.6 423.5,363.3 422.5,363.0 421.5,362.6 420.5,362.2 419.5,361.8 418.5,361.3 417.5,360.8 416.6,360.3 415.5,359.7 414.5,359.1 413.5,358.5 412.5,357.9 411.6,357.3 410.5,356.5 409.5,355.8 408.5,354.9 407.8,354.3 406.6,353.3 405.5,352.3 404.5,351.4 403.5,350.5 402.5,349.5 401.5,348.5 400.5,347.5 399.5,346.5 398.5,345.5 397.5,344.5 396.5,343.6 395.5,342.6 394.5,341.7 393.5,340.9 392.5,340.0 391.6,339.3 390.5,338.5 389.5,337.8 388.6,337.3 387.5,336.7 386.5,336.3 385.5,335.9 384.5,335.5 383.5,334.9 382.5,334.4 381.5,333.7 380.5,332.9 379.6,332.3 378.5,331.8 377.5,331.7 376.5,332.0 375.5,332.9 375.1,334.3 375.1,335.3 375.3,336.3 375.5,337.2 375.8,338.3 376.2,339.3 376.7,340.3 377.2,341.3 377.9,342.3 378.8,343.3 379.5,343.9 380.5,344.8 381.5,345.6 382.3,346.3 383.5,347.3 384.5,348.1 385.5,348.9 386.5,349.7 387.4,350.3 388.5,351.0 389.5,351.6 390.5,352.2 391.5,352.9 392.5,353.5 393.5,354.2 394.5,354.8 395.3,355.3 396.5,356.1 397.5,356.7 398.5,357.3 399.5,357.9 400.5,358.5 401.5,359.1 402.5,359.8 403.3,360.3 404.5,361.1 405.5,361.7 406.5,362.3 407.5,363.0 408.5,363.8 409.5,364.9 410.2,366.3 410.5,367.3 410.6,368.3 410.7,369.3 410.8,370.3 411.0,371.3 411.2,372.3 411.5,373.3 411.7,374.3 411.8,375.3 411.9,376.3 412.0,377.3 412.0,378.3 411.9,379.3 411.9,380.3 411.8,381.3 411.7,382.3 411.5,383.2 411.3,384.3 410.9,385.3 410.2,386.3 408.8,387.3 407.5,388.0 406.5,388.4 405.5,388.9 404.5,389.2 403.5,389.5ZM345.5,392.5 344.5,392.5 343.5,392.4 342.5,392.2 341.5,392.1 340.5,391.9 339.5,391.7 338.5,391.4 337.5,391.1 336.5,390.8 335.5,390.4 334.5,390.1 333.5,389.7 332.5,389.3 331.5,388.9 330.5,388.5 329.5,388.1 328.5,387.7 327.5,387.4 326.5,387.0 325.5,386.6 324.5,386.2 323.5,385.7 322.6,385.3 321.5,384.6 320.5,383.9 319.8,383.3 318.6,382.3 317.6,381.3 316.5,380.4 315.5,379.5 314.5,378.7 313.5,377.8 312.5,377.0 311.6,376.3 310.5,375.4 309.5,374.6 308.5,373.8 307.5,373.0 306.8,372.3 306.0,371.3 305.6,370.3 305.3,369.3 305.0,368.3 304.8,367.3 304.6,366.3 304.3,365.3 304.1,364.3 303.8,363.3 303.6,362.3 303.5,361.3 303.4,360.3 303.3,359.3 303.4,358.3 303.7,357.3 304.5,356.3 305.5,355.5 306.5,354.9 307.5,354.5 308.5,354.1 309.5,353.9 310.5,353.8 311.5,353.8 312.5,354.1 313.5,354.4 314.5,354.9 315.5,355.4 316.5,355.9 317.4,356.3 318.5,356.6 319.5,356.7 320.5,356.7 321.5,356.7 322.5,356.6 323.5,356.6 324.5,356.7 325.5,356.9 326.5,357.3 327.5,357.8 328.4,358.3 329.5,358.9 330.5,359.5 331.5,360.0 332.5,360.5 333.5,360.9 334.5,361.4 335.5,362.0 336.5,362.6 337.5,363.2 338.5,363.8 339.5,364.5 340.5,365.3 341.5,366.3 342.3,367.3 342.9,368.3 343.5,369.1 344.5,370.3 345.5,371.1 346.5,371.9 347.5,372.7 348.5,373.9 349.3,375.3 349.7,376.3 350.2,377.3 350.7,378.3 351.2,379.3 351.9,380.3 352.4,381.3 352.7,382.3 352.6,383.3 352.1,384.3 351.5,385.1 350.6,386.3 350.1,387.3 349.6,388.3 349.2,389.3 348.8,390.3 348.1,391.3 346.5,392.3 345.5,392.5ZM483.5,434.3 482.5,434.3 481.5,434.3 480.5,434.3 479.5,434.3 478.5,434.3 477.5,434.3 476.5,434.3 475.5,434.3 474.5,434.3 473.5,434.3 472.5,434.3 472.2,433.3 472.1,432.3 472.0,431.3 472.2,430.3 472.5,429.3 472.9,428.3 473.5,427.4 474.3,426.3 475.1,425.3 476.2,424.3 477.5,423.4 478.5,423.0 479.5,422.8 480.5,422.9 481.5,423.2 482.5,424.0 483.5,424.9 483.5,426.3 483.5,427.3 483.5,428.3 483.5,429.3 483.5,430.3 483.5,431.3 483.5,432.3 483.5,433.3 483.5,434.3Z"/>
<path fill-rule="evenodd" fill="#0fb8c2" d="M441.5,362.5 440.5,362.7 439.5,362.8 438.5,362.9 437.5,362.9 436.5,363.0 435.5,363.0 434.5,363.0 433.5,363.1 432.5,363.1 431.5,363.1 430.5,363.1 429.5,363.0 428.5,362.8 427.5,362.6 426.5,362.4 425.5,362.1 424.5,361.8 423.5,361.3 422.5,360.9 421.5,360.4 420.5,359.9 419.5,359.5 418.5,359.0 417.5,358.6 416.5,358.1 415.5,357.5 414.5,357.0 413.5,356.4 412.5,355.9 411.5,355.3 410.5,354.7 409.5,354.1 408.5,353.4 407.5,352.7 406.5,352.0 405.7,351.3 404.5,350.3 403.5,349.5 402.5,348.6 401.5,347.6 400.5,346.6 399.5,345.7 398.5,344.7 397.5,343.7 396.5,342.7 395.5,341.7 394.5,340.8 393.5,339.8 392.5,338.9 391.5,338.0 390.6,337.3 389.5,336.5 388.5,335.9 387.5,335.4 386.5,334.8 385.5,334.3 384.5,333.6 383.5,332.7 382.6,331.3 382.0,330.3 381.6,329.3 381.0,328.3 380.5,327.3 380.0,326.3 379.5,325.3 379.1,324.3 378.8,323.3 378.5,322.3 378.4,321.3 378.4,320.3 378.5,319.3 378.7,318.3 378.9,317.3 379.2,316.3 379.6,315.3 380.2,314.3 381.1,313.3 382.5,312.4 383.5,312.1 384.5,311.8 385.5,311.7 386.5,311.6 387.5,311.5 388.5,311.4 389.5,311.4 390.5,311.4 391.5,311.3 392.5,311.3 393.5,311.3 394.5,311.3 395.5,311.3 396.5,311.3 397.5,311.3 398.5,311.3 399.5,311.4 400.5,311.5 401.5,311.6 402.5,311.8 403.5,311.9 404.5,312.1 405.5,312.4 406.5,312.7 407.5,313.1 408.5,313.5 409.5,313.9 410.5,314.4 411.5,314.8 412.5,315.2 413.5,315.6 414.5,316.1 415.5,316.6 416.5,317.3 417.5,317.9 418.5,318.5 419.5,319.1 420.5,319.7 421.4,320.3 422.5,321.0 423.5,321.7 424.3,322.3 425.5,323.1 426.5,323.8 427.3,324.3 428.5,325.2 429.5,325.9 430.5,326.7 431.2,327.3 432.3,328.3 433.3,329.3 434.3,330.3 435.3,331.3 436.3,332.3 437.2,333.3 438.0,334.3 438.5,335.2 439.0,336.3 439.4,337.3 439.8,338.3 440.3,339.3 440.7,340.3 441.3,341.3 441.9,342.3 442.5,343.2 443.2,344.3 443.8,345.3 444.2,346.3 444.5,347.3 444.7,348.3 444.8,349.3 444.9,350.3 444.9,351.3 445.1,352.3 445.2,353.3 445.4,354.3 445.6,355.3 445.7,356.3 445.6,357.3 445.4,358.3 445.0,359.3 444.5,360.2 443.6,361.3 442.5,362.1 441.5,362.5ZM401.5,388.3 400.5,388.4 399.5,388.5 398.5,388.6 397.5,388.6 396.5,388.7 395.5,388.7 394.5,388.7 393.5,388.6 392.5,388.5 391.5,388.3 390.5,387.9 389.5,387.4 388.5,386.9 387.5,386.5 386.5,386.0 385.5,385.6 384.6,385.3 383.5,384.8 382.5,384.3 381.5,383.8 380.5,383.3 379.5,382.8 378.5,382.3 377.5,381.9 376.5,381.3 375.5,380.7 374.5,380.0 373.6,379.3 372.6,378.3 371.7,377.3 370.9,376.3 370.2,375.3 369.5,374.3 368.6,373.3 367.8,372.3 366.9,371.3 366.1,370.3 365.5,369.3 364.9,368.3 364.4,367.3 363.8,366.3 363.3,365.3 362.7,364.3 362.1,363.3 361.5,362.4 360.9,361.3 360.4,360.3 359.9,359.3 359.3,358.3 358.5,357.3 357.5,356.4 356.5,355.6 355.5,354.8 354.5,353.9 353.7,353.3 352.6,352.3 351.5,351.4 350.5,350.5 349.5,349.6 348.5,348.6 347.5,347.6 346.5,346.6 345.5,345.6 344.5,344.8 343.8,344.3 342.5,343.5 341.5,342.9 340.5,342.3 339.5,341.6 338.5,340.6 337.7,339.3 337.3,338.3 337.0,337.3 336.6,336.3 336.2,335.3 335.7,334.3 335.2,333.3 334.9,332.3 334.6,331.3 334.5,330.3 334.5,329.3 334.4,328.3 334.3,327.3 334.0,326.3 333.6,325.3 333.1,324.3 332.6,323.3 332.3,322.3 332.1,321.3 332.2,320.3 332.4,319.3 332.8,318.3 333.2,317.3 333.8,316.3 334.5,315.5 335.5,314.7 336.5,314.1 337.5,313.7 338.5,313.4 339.5,313.2 340.5,313.2 341.5,313.4 342.5,313.6 343.5,313.9 344.4,314.3 345.5,314.8 346.5,315.2 347.5,315.6 348.5,315.9 349.5,316.1 350.5,316.4 351.5,316.6 352.5,316.9 353.5,317.3 354.5,317.7 355.5,318.1 356.5,318.6 357.5,319.2 358.5,319.8 359.5,320.5 360.5,321.2 361.5,321.9 362.5,322.7 363.5,323.6 364.3,324.3 365.3,325.3 366.4,326.3 367.3,327.3 368.1,328.3 368.7,329.3 369.3,330.3 369.8,331.3 370.3,332.3 370.8,333.3 371.4,334.3 371.9,335.3 372.5,336.2 373.2,337.3 373.8,338.3 374.4,339.3 375.0,340.3 375.5,341.2 376.2,342.3 377.0,343.3 378.0,344.3 379.4,345.3 380.5,346.0 381.5,346.7 382.3,347.3 383.5,348.2 384.5,349.0 385.5,349.8 386.5,350.5 387.5,351.2 388.5,351.8 389.3,352.3 390.5,353.1 391.5,353.7 392.4,354.3 393.5,355.1 394.5,355.8 395.3,356.3 396.5,357.2 397.5,357.9 398.5,358.6 399.4,359.3 400.5,360.2 401.5,361.1 402.5,362.0 403.5,362.9 404.5,363.7 405.2,364.3 406.1,365.3 406.7,366.3 407.0,367.3 407.3,368.3 407.5,369.3 407.8,370.3 408.2,371.3 408.5,372.2 408.9,373.3 409.2,374.3 409.4,375.3 409.6,376.3 409.6,377.3 409.5,378.3 409.4,379.3 409.3,380.3 409.1,381.3 408.7,382.3 408.3,383.3 407.7,384.3 406.9,385.3 405.9,386.3 404.5,387.3 403.5,387.7 402.5,388.1 401.6,388.3ZM343.5,389.5 342.5,389.6 341.5,389.6 340.5,389.6 339.5,389.4 338.5,389.2 337.5,388.9 336.5,388.6 335.5,388.3 334.5,388.0 333.5,387.7 332.5,387.4 331.5,387.1 330.5,386.7 329.5,386.3 328.5,385.9 327.5,385.4 326.5,384.8 325.7,384.3 324.5,383.6 323.5,383.0 322.5,382.5 321.5,381.9 320.5,381.3 319.5,380.6 318.5,379.8 317.5,378.9 316.8,378.3 315.6,377.3 314.5,376.4 313.5,375.6 312.5,374.8 311.5,373.9 310.5,372.9 309.5,371.8 308.5,370.4 308.1,369.3 307.8,368.3 307.7,367.3 307.7,366.3 307.7,365.3 307.5,364.3 307.3,363.3 307.0,362.3 306.7,361.3 306.6,360.3 306.7,359.3 307.1,358.3 308.2,357.3 309.5,356.7 310.5,356.6 311.5,356.7 312.5,356.9 313.5,357.2 314.5,357.6 315.5,358.0 316.5,358.3 317.5,358.6 318.5,358.8 319.5,358.9 320.5,359.0 321.5,359.0 322.5,359.0 323.5,359.0 324.5,359.2 325.5,359.5 326.5,360.0 327.5,360.5 328.5,361.0 329.5,361.5 330.5,362.0 331.5,362.5 332.5,363.0 333.5,363.5 334.5,364.1 335.5,364.8 336.5,365.5 337.4,366.3 338.4,367.3 339.2,368.3 340.0,369.3 340.9,370.3 341.9,371.3 343.0,372.3 344.4,373.3 345.5,374.1 346.5,375.1 347.4,376.3 347.9,377.3 348.3,378.3 348.7,379.3 349.0,380.3 349.2,381.3 349.2,382.3 349.0,383.3 348.5,384.3 348.0,385.3 347.5,386.2 346.8,387.3 346.0,388.3 344.5,389.2 343.5,389.5Z"/>
<path fill-rule="evenodd" fill="#28beaa" d="M432.5,361.3 431.5,361.4 430.5,361.4 429.5,361.4 428.5,361.3 427.5,361.1 426.5,360.9 425.5,360.6 424.5,360.2 423.5,359.7 422.7,359.3 421.5,358.8 420.5,358.3 419.5,357.9 418.5,357.4 417.5,357.0 416.5,356.5 415.5,355.9 414.5,355.4 413.5,354.9 412.5,354.4 411.5,353.9 410.5,353.3 409.5,352.8 408.7,352.3 407.5,351.5 406.5,350.8 405.8,350.3 404.5,349.3 403.5,348.5 402.5,347.6 401.5,346.7 400.5,345.7 399.5,344.7 398.5,343.7 397.5,342.7 396.5,341.7 395.5,340.6 394.5,339.5 393.5,338.4 392.5,337.4 391.5,336.3 390.5,335.4 389.5,334.7 388.5,334.0 387.5,333.4 386.5,332.6 385.5,331.5 384.8,330.3 384.4,329.3 384.1,328.3 383.7,327.3 383.5,326.3 383.2,325.3 383.0,324.3 382.9,323.3 382.8,322.3 382.8,321.3 382.9,320.3 383.0,319.3 383.1,318.3 383.4,317.3 383.9,316.3 384.5,315.6 385.5,314.9 386.5,314.4 387.5,314.0 388.5,313.7 389.5,313.5 390.5,313.3 391.5,313.2 392.5,313.1 393.5,313.0 394.5,313.0 395.5,312.9 396.5,312.9 397.5,312.9 398.5,313.0 399.5,313.0 400.5,313.1 401.5,313.2 402.5,313.4 403.5,313.5 404.5,313.7 405.5,313.9 406.5,314.3 407.5,314.6 408.5,315.1 409.5,315.5 410.5,315.9 411.4,316.3 412.5,316.7 413.5,317.2 414.5,317.7 415.5,318.3 416.5,318.8 417.5,319.4 418.5,320.0 419.5,320.6 420.5,321.3 421.5,321.9 422.5,322.6 423.4,323.3 424.5,324.1 425.5,324.9 426.5,325.6 427.4,326.3 428.5,327.1 429.5,327.9 430.5,328.8 431.5,329.8 432.5,330.8 433.5,331.8 434.5,332.8 435.5,333.9 436.5,335.1 437.3,336.3 437.8,337.3 438.2,338.3 438.7,339.3 439.1,340.3 439.5,341.2 440.0,342.3 440.5,343.2 441.1,344.3 441.5,345.1 442.0,346.3 442.3,347.3 442.6,348.3 442.7,349.3 442.7,350.3 442.8,351.3 442.9,352.3 443.0,353.3 443.1,354.3 443.2,355.3 443.1,356.3 442.8,357.3 442.0,358.3 440.5,359.2 439.5,359.6 438.5,359.9 437.5,360.3 436.5,360.6 435.5,360.8 434.5,361.0 433.5,361.2 432.5,361.3ZM396.5,387.3 395.5,387.4 394.5,387.4 393.5,387.3 392.5,387.1 391.5,386.8 390.5,386.4 389.5,385.9 388.5,385.4 387.5,385.0 386.5,384.6 385.5,384.2 384.5,383.8 383.5,383.3 382.5,382.8 381.5,382.3 380.5,381.8 379.5,381.3 378.5,380.9 377.5,380.3 376.5,379.8 375.5,379.1 374.5,378.3 373.5,377.4 372.6,376.3 371.8,375.3 371.1,374.3 370.5,373.5 369.5,372.3 368.6,371.3 367.7,370.3 366.9,369.3 366.3,368.3 365.7,367.3 365.2,366.3 364.7,365.3 364.2,364.3 363.6,363.3 363.0,362.3 362.5,361.3 362.0,360.3 361.6,359.3 361.2,358.3 360.8,357.3 360.2,356.3 359.5,355.6 358.5,354.8 357.5,354.1 356.5,353.3 355.5,352.5 354.5,351.5 353.5,350.6 352.5,349.7 351.5,348.8 350.5,348.0 349.7,347.3 348.6,346.3 347.6,345.3 346.5,344.3 345.5,343.5 344.5,342.7 343.5,341.9 342.7,341.3 341.5,340.4 340.5,339.3 339.8,338.3 339.2,337.3 338.8,336.3 338.3,335.3 337.9,334.3 337.5,333.3 337.3,332.3 337.2,331.3 337.2,330.3 337.2,329.3 337.3,328.3 337.3,327.3 337.2,326.3 337.0,325.3 336.7,324.3 336.5,323.3 336.5,322.3 336.8,321.3 337.5,320.3 338.5,319.3 339.5,318.6 340.5,318.1 341.5,317.8 342.5,317.7 343.5,317.9 344.5,318.2 345.5,318.6 346.5,318.9 347.5,319.1 348.5,319.2 349.5,319.3 350.5,319.5 351.5,319.8 352.5,320.1 353.5,320.5 354.5,320.8 355.5,321.2 356.5,321.7 357.5,322.2 358.5,322.7 359.5,323.3 360.5,324.0 361.5,324.9 362.5,325.9 363.5,327.1 364.5,328.3 365.4,329.3 366.2,330.3 366.9,331.3 367.5,332.1 368.2,333.3 368.8,334.3 369.3,335.3 369.9,336.3 370.5,337.2 371.4,338.3 372.2,339.3 372.9,340.3 373.5,341.3 374.0,342.3 374.5,343.3 375.2,344.3 376.4,345.3 377.5,345.9 378.4,346.3 379.5,346.8 380.5,347.3 381.5,347.9 382.5,348.5 383.5,349.3 384.5,350.0 385.5,350.8 386.3,351.3 387.5,352.1 388.5,352.7 389.5,353.3 390.5,354.0 391.5,354.7 392.4,355.3 393.5,356.1 394.5,356.9 395.5,357.6 396.3,358.3 397.5,359.3 398.5,360.2 399.5,361.2 400.5,362.3 401.4,363.3 402.4,364.3 403.4,365.3 404.2,366.3 404.8,367.3 405.2,368.3 405.5,369.2 405.9,370.3 406.2,371.3 406.6,372.3 407.0,373.3 407.3,374.3 407.5,375.3 407.6,376.3 407.7,377.3 407.6,378.3 407.4,379.3 407.2,380.3 406.8,381.3 406.4,382.3 405.8,383.3 405.1,384.3 404.5,385.0 403.5,385.8 402.6,386.3 401.5,386.7 400.5,386.9 399.5,387.1 398.5,387.2 397.5,387.2 396.5,387.3ZM342.5,386.6 341.5,386.9 340.5,387.0 339.5,387.0 338.5,386.8 337.5,386.6 336.5,386.4 335.5,386.2 334.5,386.0 333.5,385.8 332.5,385.5 331.5,385.2 330.5,384.8 329.5,384.3 328.5,383.7 327.5,383.0 326.6,382.3 325.5,381.6 324.5,381.1 323.5,380.6 322.5,380.1 321.5,379.6 320.5,378.9 319.8,378.3 318.6,377.3 317.6,376.3 316.6,375.3 315.6,374.3 314.5,373.3 313.5,372.3 312.6,371.3 312.0,370.3 311.6,369.3 311.3,368.3 311.3,367.3 311.5,366.3 311.7,365.3 311.9,364.3 312.3,363.3 312.7,362.3 313.5,361.3 314.5,360.9 315.5,360.8 316.5,360.8 317.5,360.9 318.5,361.0 319.5,361.1 320.5,361.2 321.4,361.3 322.5,361.4 323.5,361.7 324.5,361.9 325.4,362.3 326.5,362.7 327.5,363.2 328.5,363.6 329.5,364.1 330.5,364.6 331.5,365.1 332.5,365.7 333.5,366.3 334.5,367.1 335.5,368.1 336.5,369.2 337.4,370.3 338.3,371.3 339.3,372.3 340.3,373.3 341.5,374.2 342.5,374.9 343.5,375.5 344.5,376.2 345.5,377.3 346.0,378.3 346.3,379.3 346.4,380.3 346.3,381.3 346.0,382.3 345.5,383.3 345.0,384.3 344.3,385.3 343.5,386.0 342.5,386.6Z"/>
<path fill-rule="evenodd" fill="#4bc18c" d="M433.5,359.4 432.5,359.7 431.5,359.8 430.5,359.9 429.5,359.9 428.5,359.8 427.5,359.6 426.5,359.4 425.5,359.0 424.5,358.6 423.5,358.2 422.5,357.7 421.5,357.3 420.5,356.9 419.5,356.5 418.5,356.0 417.5,355.5 416.5,355.0 415.5,354.5 414.5,354.0 413.5,353.5 412.5,353.1 411.5,352.6 410.5,352.1 409.5,351.6 408.5,351.0 407.5,350.4 406.5,349.7 405.5,349.0 404.6,348.3 403.5,347.4 402.5,346.6 401.5,345.6 400.5,344.7 399.5,343.7 398.5,342.6 397.5,341.5 396.5,340.4 395.6,339.3 394.8,338.3 394.1,337.3 393.5,336.5 392.5,335.3 391.6,334.3 390.5,333.3 389.5,332.4 388.5,331.5 387.5,330.3 387.0,329.3 386.6,328.3 386.2,327.3 385.9,326.3 385.7,325.3 385.5,324.3 385.4,323.3 385.3,322.3 385.4,321.3 385.5,320.3 385.9,319.3 386.3,318.3 387.1,317.3 388.3,316.3 389.5,315.6 390.3,315.3 391.5,315.0 392.5,314.8 393.5,314.7 394.5,314.6 395.5,314.6 396.5,314.5 397.5,314.5 398.5,314.6 399.5,314.6 400.5,314.7 401.5,314.8 402.5,314.9 403.5,315.0 404.5,315.2 405.5,315.5 406.5,315.8 407.5,316.2 408.5,316.6 409.5,317.0 410.5,317.4 411.5,317.8 412.5,318.2 413.5,318.6 414.5,319.1 415.5,319.7 416.5,320.2 417.5,320.8 418.4,321.3 419.5,322.0 420.5,322.7 421.4,323.3 422.5,324.2 423.5,324.9 424.5,325.7 425.2,326.3 426.5,327.3 427.5,328.1 428.5,329.0 429.5,329.9 430.5,330.9 431.5,332.0 432.5,333.1 433.5,334.1 434.5,335.2 435.4,336.3 436.0,337.3 436.5,338.1 437.1,339.3 437.5,340.3 437.9,341.3 438.3,342.3 438.6,343.3 439.0,344.3 439.3,345.3 439.7,346.3 440.0,347.3 440.2,348.3 440.4,349.3 440.5,350.3 440.5,351.3 440.5,352.3 440.4,353.3 440.2,354.3 439.8,355.3 438.9,356.3 437.5,357.3 436.5,358.0 435.5,358.6 434.5,359.0 433.5,359.4ZM399.5,385.4 398.5,385.6 397.5,385.7 396.5,385.8 395.5,385.9 394.5,385.9 393.5,385.8 392.5,385.6 391.6,385.3 390.5,384.9 389.5,384.5 388.5,384.1 387.5,383.7 386.5,383.3 385.5,382.9 384.5,382.5 383.5,382.0 382.5,381.6 381.5,381.1 380.5,380.6 379.5,380.1 378.5,379.5 377.5,379.0 376.5,378.3 375.5,377.6 374.5,376.6 373.5,375.5 372.6,374.3 371.8,373.3 371.0,372.3 370.1,371.3 369.2,370.3 368.5,369.5 367.6,368.3 367.0,367.3 366.5,366.3 366.1,365.3 365.6,364.3 365.1,363.3 364.6,362.3 364.1,361.3 363.7,360.3 363.4,359.3 363.1,358.3 362.9,357.3 362.6,356.3 362.2,355.3 361.5,354.3 360.5,353.6 359.5,353.1 358.5,352.5 357.5,351.9 356.5,351.0 355.8,350.3 354.8,349.3 353.8,348.3 352.6,347.3 351.5,346.4 350.5,345.6 349.5,344.8 348.5,343.9 347.8,343.3 346.7,342.3 345.7,341.3 344.7,340.3 343.8,339.3 342.9,338.3 342.1,337.3 341.5,336.4 340.8,335.3 340.3,334.3 340.0,333.3 339.8,332.3 339.8,331.3 340.0,330.3 340.2,329.3 340.5,328.4 340.8,327.3 340.9,326.3 341.0,325.3 341.0,324.3 341.3,323.3 342.5,322.4 343.5,322.2 344.5,322.2 345.5,322.3 346.5,322.3 347.5,322.3 348.5,322.3 349.5,322.3 350.5,322.5 351.5,322.7 352.5,322.9 353.5,323.3 354.5,323.7 355.5,324.2 356.5,324.7 357.5,325.3 358.5,326.0 359.5,326.8 360.5,327.7 361.5,328.7 362.5,329.8 363.5,330.8 364.5,331.9 365.5,333.2 366.2,334.3 366.7,335.3 367.2,336.3 367.8,337.3 368.4,338.3 369.2,339.3 370.0,340.3 370.5,341.1 371.0,342.3 371.2,343.3 371.2,344.3 371.2,345.3 371.2,346.3 371.7,347.3 372.5,347.8 373.5,348.0 374.5,348.1 375.5,348.1 376.5,348.1 377.5,348.1 378.5,348.2 379.5,348.4 380.5,348.7 381.5,349.2 382.5,349.8 383.3,350.3 384.5,351.1 385.5,351.8 386.5,352.5 387.5,353.1 388.5,353.7 389.4,354.3 390.5,355.1 391.5,355.8 392.5,356.6 393.4,357.3 394.5,358.2 395.5,359.0 396.5,359.9 397.5,360.9 398.5,362.1 399.5,363.3 400.4,364.3 401.3,365.3 402.1,366.3 402.9,367.3 403.5,368.3 404.0,369.3 404.4,370.3 404.7,371.3 405.1,372.3 405.4,373.3 405.7,374.3 405.9,375.3 406.0,376.3 406.0,377.3 405.9,378.3 405.7,379.3 405.4,380.3 404.9,381.3 404.3,382.3 403.6,383.3 402.5,384.3 401.5,384.8 400.5,385.2 399.5,385.4ZM339.5,383.4 338.5,383.6 337.5,383.6 336.5,383.6 335.5,383.6 334.5,383.5 333.5,383.4 332.5,383.1 331.5,382.6 330.5,382.1 329.5,381.4 328.5,380.7 327.5,380.1 326.5,379.6 325.5,379.2 324.5,378.8 323.5,378.3 322.5,377.7 321.5,377.0 320.8,376.3 320.0,375.3 319.5,374.4 318.9,373.3 318.5,372.3 318.0,371.3 317.5,370.4 316.7,369.3 316.2,368.3 315.8,367.3 315.8,366.3 316.2,365.3 317.2,364.3 318.5,364.0 319.5,364.0 320.5,364.1 321.5,364.2 322.5,364.5 323.5,364.7 324.5,365.0 325.5,365.3 326.5,365.6 327.5,365.9 328.4,366.3 329.5,366.8 330.5,367.3 331.5,367.9 332.5,368.6 333.2,369.3 334.0,370.3 334.7,371.3 335.2,372.3 335.7,373.3 336.2,374.3 336.7,375.3 337.5,376.3 338.5,377.1 339.5,377.7 340.5,378.1 341.5,378.6 342.2,379.3 342.5,380.3 342.2,381.3 341.6,382.3 340.5,383.1 339.5,383.4Z"/>
<path fill-rule="evenodd" fill="#73c26e" d="M430.5,358.3 429.5,358.4 428.5,358.3 427.5,358.1 426.5,357.8 425.5,357.5 424.5,357.1 423.5,356.7 422.5,356.3 421.5,355.9 420.5,355.5 419.5,355.1 418.5,354.6 417.5,354.1 416.5,353.6 415.5,353.2 414.5,352.7 413.6,352.3 412.5,351.8 411.5,351.4 410.5,350.9 409.5,350.3 408.5,349.7 407.5,349.1 406.5,348.5 405.5,347.8 404.5,347.0 403.6,346.3 402.5,345.4 401.5,344.4 400.5,343.4 399.5,342.4 398.6,341.3 397.8,340.3 397.0,339.3 396.3,338.3 395.6,337.3 394.9,336.3 394.3,335.3 393.6,334.3 392.8,333.3 391.8,332.3 390.9,331.3 390.0,330.3 389.5,329.5 388.9,328.3 388.5,327.3 388.3,326.3 388.1,325.3 387.9,324.3 387.8,323.3 387.7,322.3 387.8,321.3 388.1,320.3 388.5,319.4 389.4,318.3 390.5,317.5 391.5,317.0 392.5,316.7 393.5,316.4 394.5,316.3 395.5,316.2 396.5,316.2 397.5,316.2 398.5,316.2 399.5,316.2 400.5,316.3 401.5,316.3 402.5,316.4 403.5,316.6 404.5,316.8 405.5,317.1 406.5,317.4 407.5,317.8 408.5,318.1 409.5,318.5 410.5,318.8 411.5,319.2 412.5,319.6 413.5,320.0 414.5,320.5 415.5,321.0 416.5,321.5 417.5,322.1 418.5,322.7 419.4,323.3 420.5,324.1 421.5,324.8 422.5,325.6 423.4,326.3 424.5,327.2 425.5,328.1 426.5,328.9 427.5,329.8 428.5,330.8 429.5,331.8 430.5,332.9 431.5,334.1 432.5,335.2 433.5,336.3 434.3,337.3 434.9,338.3 435.5,339.3 436.0,340.3 436.3,341.3 436.6,342.3 436.9,343.3 437.1,344.3 437.3,345.3 437.6,346.3 437.8,347.3 438.0,348.3 438.2,349.3 438.3,350.3 438.4,351.3 438.2,352.3 437.9,353.3 437.5,354.1 436.5,355.3 435.5,356.2 434.5,356.9 433.5,357.5 432.5,357.9 431.5,358.2 430.5,358.3ZM399.5,383.5 398.5,383.7 397.5,383.9 396.5,384.0 395.5,384.1 394.5,384.2 393.5,384.1 392.5,384.0 391.5,383.8 390.5,383.5 389.5,383.2 388.5,382.8 387.5,382.5 386.5,382.1 385.5,381.7 384.5,381.3 383.5,380.9 382.5,380.4 381.5,379.9 380.5,379.4 379.5,378.8 378.5,378.3 377.5,377.6 376.5,376.9 375.8,376.3 374.8,375.3 374.0,374.3 373.2,373.3 372.5,372.4 371.5,371.3 370.6,370.3 369.7,369.3 368.9,368.3 368.3,367.3 367.8,366.3 367.3,365.3 367.0,364.3 366.6,363.3 366.2,362.3 365.7,361.3 365.4,360.3 365.1,359.3 364.9,358.3 364.8,357.3 364.8,356.3 364.9,355.3 365.0,354.3 365.1,353.3 364.8,352.3 363.5,351.7 362.5,351.4 361.5,351.2 360.5,351.0 359.5,350.6 358.5,350.1 357.5,349.3 356.5,348.4 355.5,347.4 354.5,346.4 353.5,345.4 352.5,344.6 351.5,343.8 350.5,343.1 349.6,342.3 348.6,341.3 347.8,340.3 347.1,339.3 346.5,338.3 345.8,337.3 345.1,336.3 344.5,335.5 343.7,334.3 343.4,333.3 343.4,332.3 343.6,331.3 344.1,330.3 344.7,329.3 345.3,328.3 346.1,327.3 347.5,326.3 348.5,325.9 349.5,325.8 350.5,325.7 351.5,325.9 352.5,326.2 353.5,326.8 354.5,327.6 355.4,328.3 356.5,329.1 357.5,329.7 358.5,330.3 359.5,330.9 360.5,331.8 361.5,332.9 362.5,334.2 363.0,335.3 363.5,336.3 364.0,337.3 364.5,338.1 365.3,339.3 366.1,340.3 366.8,341.3 367.2,342.3 367.4,343.3 367.4,344.3 367.3,345.3 367.1,346.3 367.0,347.3 366.9,348.3 366.9,349.3 367.2,350.3 368.5,350.9 369.5,351.0 370.5,351.0 371.5,351.0 372.5,350.9 373.5,350.8 374.5,350.7 375.5,350.5 376.5,350.4 377.5,350.2 378.5,350.1 379.5,350.1 380.5,350.3 381.5,350.7 382.5,351.2 383.5,351.8 384.4,352.3 385.5,353.0 386.5,353.6 387.5,354.3 388.5,354.9 389.5,355.6 390.4,356.3 391.5,357.1 392.5,357.9 393.5,358.7 394.2,359.3 395.3,360.3 396.3,361.3 397.2,362.3 398.0,363.3 398.8,364.3 399.5,365.2 400.4,366.3 401.2,367.3 401.9,368.3 402.5,369.3 403.0,370.3 403.4,371.3 403.7,372.3 404.1,373.3 404.3,374.3 404.5,375.3 404.5,376.3 404.5,377.3 404.3,378.3 403.9,379.3 403.5,380.2 402.8,381.3 401.8,382.3 400.5,383.1 399.5,383.5ZM330.5,376.6 329.5,377.1 328.5,377.1 327.5,377.0 326.5,376.8 325.5,376.6 324.5,376.1 323.5,375.4 322.7,374.3 322.4,373.3 322.3,372.3 322.5,371.4 323.2,370.3 324.5,369.6 325.5,369.5 326.5,369.6 327.5,369.8 328.5,370.2 329.5,370.8 330.5,372.1 331.0,373.3 331.1,374.3 331.1,375.3 330.7,376.3Z"/>
<path fill-rule="evenodd" fill="#a0bf55" d="M431.5,356.3 430.5,356.5 429.5,356.6 428.5,356.5 427.5,356.3 426.5,356.1 425.5,355.7 424.5,355.4 423.5,355.1 422.5,354.8 421.5,354.5 420.5,354.2 419.5,353.7 418.5,353.3 417.5,352.8 416.5,352.3 415.5,351.9 414.5,351.4 413.5,351.0 412.5,350.5 411.5,350.1 410.5,349.5 409.5,348.9 408.5,348.3 407.5,347.7 406.5,347.1 405.5,346.4 404.5,345.7 403.5,344.8 402.5,343.9 401.8,343.3 400.9,342.3 400.0,341.3 399.2,340.3 398.5,339.4 397.7,338.3 397.1,337.3 396.5,336.4 395.9,335.3 395.3,334.3 394.6,333.3 393.9,332.3 393.1,331.3 392.5,330.5 391.7,329.3 391.2,328.3 390.8,327.3 390.6,326.3 390.6,325.3 390.6,324.3 390.6,323.3 390.7,322.3 391.0,321.3 391.4,320.3 392.4,319.3 393.5,318.7 394.5,318.4 395.5,318.2 396.5,318.0 397.5,318.0 398.5,317.9 399.5,317.9 400.5,318.0 401.5,318.0 402.5,318.1 403.5,318.2 404.5,318.4 405.5,318.7 406.5,319.0 407.5,319.3 408.5,319.6 409.5,319.9 410.5,320.2 411.5,320.5 412.5,320.9 413.5,321.3 414.5,321.7 415.5,322.2 416.5,322.8 417.4,323.3 418.5,324.0 419.5,324.7 420.3,325.3 421.5,326.2 422.5,327.0 423.5,327.9 424.5,328.7 425.5,329.6 426.3,330.3 427.3,331.3 428.3,332.3 429.2,333.3 430.1,334.3 430.9,335.3 431.5,336.0 432.5,337.2 433.3,338.3 434.0,339.3 434.5,340.3 434.9,341.3 435.2,342.3 435.4,343.3 435.5,344.3 435.7,345.3 435.8,346.3 436.0,347.3 436.1,348.3 436.3,349.3 436.4,350.3 436.3,351.3 436.1,352.3 435.6,353.3 434.8,354.3 433.6,355.3 432.5,355.9 431.5,356.3ZM361.5,347.6 360.5,347.6 359.5,347.4 358.5,346.8 357.5,346.0 356.8,345.3 355.9,344.3 355.1,343.3 354.5,342.6 353.5,341.7 352.5,340.9 351.5,339.9 350.5,338.3 350.0,337.3 349.5,336.4 348.9,335.3 348.3,334.3 347.9,333.3 347.8,332.3 347.9,331.3 348.5,330.3 349.5,329.5 350.5,329.3 351.5,329.5 352.5,330.1 353.5,330.8 354.5,331.6 355.5,332.2 356.5,333.0 357.5,333.9 358.3,335.3 358.6,336.3 358.8,337.3 359.1,338.3 359.8,339.3 360.5,339.9 361.5,340.7 362.2,341.3 363.1,342.3 363.5,343.1 363.7,344.3 363.6,345.3 363.2,346.3 362.5,347.2 361.5,347.6ZM395.5,382.4 394.5,382.5 393.5,382.5 392.5,382.5 391.5,382.4 390.5,382.2 389.5,382.0 388.5,381.7 387.5,381.4 386.5,381.0 385.5,380.6 384.5,380.2 383.5,379.8 382.5,379.3 381.5,378.8 380.6,378.3 379.5,377.6 378.5,377.0 377.5,376.3 376.5,375.4 375.5,374.4 374.6,373.3 373.7,372.3 372.9,371.3 372.0,370.3 371.1,369.3 370.2,368.3 369.5,367.3 369.0,366.3 368.6,365.3 368.2,364.3 367.9,363.3 367.6,362.3 367.3,361.3 367.0,360.3 366.7,359.3 366.6,358.3 366.7,357.3 367.0,356.3 367.5,355.3 368.4,354.3 369.5,353.7 370.5,353.3 371.5,353.0 372.5,352.8 373.5,352.6 374.5,352.5 375.5,352.3 376.5,352.2 377.5,352.0 378.5,351.9 379.5,351.9 380.5,352.0 381.5,352.2 382.5,352.6 383.5,353.1 384.5,353.6 385.5,354.2 386.5,354.9 387.5,355.5 388.5,356.3 389.5,357.0 390.5,357.7 391.2,358.3 392.5,359.3 393.5,360.1 394.5,361.0 395.5,362.0 396.5,363.2 397.4,364.3 398.1,365.3 398.9,366.3 399.5,367.1 400.4,368.3 401.0,369.3 401.5,370.2 402.0,371.3 402.4,372.3 402.7,373.3 402.9,374.3 403.0,375.3 403.0,376.3 402.9,377.3 402.5,378.3 401.9,379.3 401.0,380.3 399.5,381.3 398.5,381.7 397.5,382.0 396.5,382.2 395.5,382.4Z"/>
<path fill-rule="evenodd" fill="#cdba3e" d="M430.5,354.3 429.5,354.4 428.5,354.4 427.5,354.2 426.5,354.1 425.5,353.8 424.5,353.6 423.5,353.5 422.5,353.3 421.5,353.0 420.5,352.7 419.5,352.4 418.5,351.9 417.5,351.5 416.5,351.0 415.5,350.5 414.5,350.1 413.5,349.6 412.5,349.2 411.5,348.6 410.5,348.1 409.5,347.5 408.5,346.9 407.6,346.3 406.5,345.6 405.5,344.9 404.7,344.3 403.6,343.3 402.6,342.3 401.7,341.3 400.8,340.3 400.0,339.3 399.3,338.3 398.5,337.3 397.9,336.3 397.3,335.3 396.8,334.3 396.3,333.3 395.7,332.3 395.1,331.3 394.5,330.3 393.9,329.3 393.5,328.3 393.2,327.3 393.1,326.3 393.2,325.3 393.4,324.3 393.8,323.3 394.3,322.3 395.1,321.3 396.5,320.4 397.5,320.1 398.5,319.9 399.5,319.8 400.5,319.7 401.5,319.7 402.5,319.7 403.5,319.8 404.5,320.0 405.5,320.2 406.5,320.5 407.5,320.7 408.5,321.0 409.5,321.2 410.5,321.5 411.5,321.8 412.5,322.1 413.5,322.6 414.5,323.0 415.5,323.6 416.5,324.2 417.5,324.8 418.3,325.3 419.5,326.2 420.5,326.9 421.5,327.7 422.3,328.3 423.5,329.3 424.5,330.2 425.5,331.1 426.5,332.1 427.5,333.1 428.5,334.2 429.4,335.3 430.2,336.3 431.0,337.3 431.8,338.3 432.5,339.3 433.1,340.3 433.5,341.3 433.8,342.3 434.0,343.3 434.1,344.3 434.2,345.3 434.3,346.3 434.4,347.3 434.4,348.3 434.5,349.3 434.4,350.3 434.2,351.3 433.7,352.3 432.8,353.3 431.5,354.0 430.5,354.3ZM396.5,380.3 395.5,380.6 394.5,380.8 393.5,381.0 392.5,381.1 391.5,381.0 390.5,380.9 389.5,380.8 388.5,380.5 387.5,380.2 386.5,379.9 385.5,379.6 384.5,379.2 383.5,378.7 382.7,378.3 381.5,377.7 380.5,377.1 379.5,376.4 378.5,375.7 377.5,374.9 376.5,373.9 375.5,372.8 374.5,371.6 373.5,370.5 372.5,369.4 371.6,368.3 370.8,367.3 370.2,366.3 369.8,365.3 369.4,364.3 369.1,363.3 368.9,362.3 368.7,361.3 368.5,360.3 368.5,359.3 368.5,358.3 368.8,357.3 369.5,356.3 370.5,355.5 371.5,354.9 372.5,354.6 373.4,354.3 374.5,354.1 375.5,353.9 376.5,353.7 377.5,353.6 378.5,353.5 379.5,353.4 380.5,353.5 381.5,353.7 382.5,354.0 383.5,354.4 384.5,354.9 385.5,355.5 386.5,356.2 387.5,356.9 388.5,357.7 389.4,358.3 390.5,359.1 391.5,359.9 392.5,360.6 393.3,361.3 394.3,362.3 395.2,363.3 396.0,364.3 396.5,365.0 397.4,366.3 398.1,367.3 398.8,368.3 399.5,369.3 400.1,370.3 400.5,371.2 400.9,372.3 401.2,373.3 401.4,374.3 401.4,375.3 401.3,376.3 400.9,377.3 400.2,378.3 398.9,379.3 397.5,380.0 396.5,380.3Z"/>
<path fill-rule="evenodd" fill="#eeb637" d="M430.5,351.7 429.5,352.0 428.5,352.1 427.5,352.1 426.5,352.1 425.5,352.0 424.5,351.9 423.5,351.8 422.5,351.7 421.5,351.6 420.5,351.3 419.5,351.0 418.5,350.5 417.5,350.1 416.5,349.6 415.5,349.2 414.5,348.7 413.6,348.3 412.5,347.7 411.5,347.1 410.5,346.6 409.5,346.0 408.5,345.4 407.5,344.7 406.5,344.0 405.6,343.3 404.5,342.3 403.5,341.3 402.6,340.3 401.7,339.3 400.9,338.3 400.2,337.3 399.5,336.4 398.9,335.3 398.3,334.3 397.8,333.3 397.3,332.3 396.9,331.3 396.4,330.3 396.0,329.3 395.7,328.3 395.5,327.3 395.5,326.3 395.7,325.3 396.1,324.3 396.8,323.3 398.2,322.3 399.5,321.8 400.5,321.6 401.5,321.5 402.5,321.5 403.5,321.5 404.5,321.6 405.5,321.8 406.5,321.9 407.5,322.1 408.4,322.3 409.5,322.5 410.5,322.8 411.5,323.1 412.5,323.5 413.5,323.9 414.5,324.5 415.5,325.1 416.5,325.7 417.5,326.3 418.5,327.0 419.5,327.7 420.4,328.3 421.5,329.1 422.5,330.0 423.5,330.9 424.5,331.8 425.5,332.7 426.5,333.7 427.5,334.7 428.5,335.9 429.5,337.2 430.4,338.3 431.1,339.3 431.7,340.3 432.2,341.3 432.5,342.3 432.7,343.3 432.8,344.3 432.9,345.3 432.9,346.3 432.9,347.3 432.8,348.3 432.6,349.3 432.1,350.3 431.5,351.1 430.5,351.7ZM393.5,379.4 392.5,379.6 391.5,379.7 390.5,379.6 389.5,379.5 388.5,379.3 387.5,379.1 386.5,378.8 385.5,378.5 384.5,378.1 383.5,377.6 382.5,377.0 381.5,376.4 380.5,375.8 379.5,375.1 378.6,374.3 377.5,373.3 376.5,372.3 375.6,371.3 374.7,370.3 373.8,369.3 373.0,368.3 372.2,367.3 371.5,366.3 371.0,365.3 370.7,364.3 370.4,363.3 370.3,362.3 370.2,361.3 370.2,360.3 370.3,359.3 370.7,358.3 371.4,357.3 372.5,356.5 373.5,356.0 374.5,355.6 375.5,355.4 376.5,355.2 377.5,355.0 378.5,354.9 379.5,354.8 380.5,354.9 381.5,355.0 382.5,355.3 383.5,355.7 384.5,356.3 385.5,356.9 386.5,357.6 387.4,358.3 388.5,359.1 389.5,359.8 390.3,360.3 391.5,361.2 392.5,362.1 393.5,363.1 394.5,364.3 395.3,365.3 395.9,366.3 396.5,367.2 397.2,368.3 397.9,369.3 398.5,370.3 398.9,371.3 399.3,372.3 399.5,373.3 399.6,374.3 399.5,375.2 399.0,376.3 398.2,377.3 396.6,378.3 395.5,378.8 394.5,379.1 393.5,379.4Z"/>
<path fill-rule="evenodd" fill="#fabe30" d="M429.5,349.6 428.5,350.0 427.5,350.1 426.5,350.2 425.5,350.2 424.5,350.2 423.5,350.2 422.5,350.1 421.5,350.0 420.5,349.8 419.5,349.5 418.5,349.1 417.5,348.7 416.5,348.3 415.5,347.8 414.5,347.3 413.5,346.8 412.5,346.3 411.5,345.7 410.5,345.1 409.5,344.5 408.5,343.9 407.6,343.3 406.5,342.5 405.5,341.5 404.5,340.5 403.5,339.4 402.6,338.3 401.9,337.3 401.2,336.3 400.5,335.3 399.9,334.3 399.5,333.5 399.0,332.3 398.6,331.3 398.3,330.3 398.0,329.3 397.8,328.3 397.8,327.3 397.9,326.3 398.4,325.3 399.4,324.3 400.5,323.7 401.5,323.4 402.5,323.3 403.5,323.2 404.5,323.2 405.5,323.3 406.5,323.4 407.5,323.5 408.5,323.7 409.5,323.9 410.5,324.1 411.5,324.5 412.5,324.9 413.5,325.4 414.5,326.0 415.5,326.7 416.5,327.3 417.5,327.9 418.5,328.5 419.5,329.2 420.5,329.9 421.5,330.7 422.2,331.3 423.3,332.3 424.4,333.3 425.4,334.3 426.5,335.3 427.4,336.3 428.2,337.3 428.9,338.3 429.5,339.1 430.3,340.3 430.8,341.3 431.2,342.3 431.4,343.3 431.5,344.3 431.5,345.3 431.5,346.3 431.2,347.3 430.8,348.3 430.0,349.3ZM393.5,377.6 392.5,377.9 391.5,378.1 390.5,378.2 389.5,378.2 388.5,378.1 387.5,377.9 386.5,377.6 385.5,377.3 384.5,376.8 383.5,376.3 382.5,375.7 381.5,375.0 380.5,374.3 379.5,373.5 378.5,372.6 377.5,371.6 376.5,370.6 375.5,369.4 374.5,368.3 373.7,367.3 373.1,366.3 372.5,365.3 372.1,364.3 371.9,363.3 371.8,362.3 371.8,361.3 372.1,360.3 372.5,359.3 373.3,358.3 374.5,357.4 375.5,357.0 376.5,356.7 377.5,356.4 378.4,356.3 379.5,356.2 380.5,356.2 381.5,356.4 382.5,356.7 383.5,357.1 384.5,357.7 385.3,358.3 386.5,359.1 387.5,359.8 388.5,360.5 389.5,361.1 390.5,361.9 391.5,362.7 392.2,363.3 393.0,364.3 393.7,365.3 394.4,366.3 394.9,367.3 395.5,368.2 396.1,369.3 396.7,370.3 397.1,371.3 397.4,372.3 397.5,373.3 397.4,374.3 396.9,375.3 396.0,376.3 394.5,377.2 393.5,377.6Z"/>
<path fill-rule="evenodd" fill="#facf2a" d="M426.5,348.3 425.5,348.5 424.5,348.5 423.5,348.5 422.5,348.5 421.5,348.4 420.5,348.3 419.5,348.0 418.5,347.7 417.5,347.3 416.5,346.9 415.5,346.5 414.5,346.0 413.5,345.4 412.5,344.9 411.5,344.3 410.5,343.8 409.5,343.2 408.5,342.5 407.5,341.7 406.5,340.8 405.5,339.7 404.5,338.5 403.6,337.3 402.9,336.3 402.3,335.3 401.7,334.3 401.2,333.3 400.8,332.3 400.5,331.3 400.3,330.3 400.2,329.3 400.2,328.3 400.5,327.3 401.2,326.3 402.5,325.6 403.5,325.3 404.5,325.1 405.5,325.1 406.5,325.0 407.5,325.1 408.5,325.2 409.5,325.3 410.5,325.6 411.5,326.0 412.5,326.4 413.5,327.0 414.5,327.7 415.5,328.3 416.5,328.9 417.5,329.5 418.5,330.1 419.5,330.8 420.5,331.5 421.4,332.3 422.4,333.3 423.5,334.3 424.5,335.2 425.5,336.1 426.5,337.2 427.4,338.3 428.1,339.3 428.8,340.3 429.3,341.3 429.7,342.3 429.9,343.3 430.0,344.3 429.9,345.3 429.6,346.3 428.9,347.3 427.5,348.1 426.5,348.3ZM391.5,376.4 390.5,376.6 389.5,376.7 388.5,376.6 387.5,376.5 386.6,376.3 385.5,375.9 384.5,375.4 383.5,374.8 382.7,374.3 381.5,373.3 380.5,372.5 379.5,371.6 378.5,370.6 377.5,369.5 376.5,368.3 375.7,367.3 375.0,366.3 374.5,365.5 374.0,364.3 373.8,363.3 373.8,362.3 374.0,361.3 374.4,360.3 375.3,359.3 376.5,358.5 377.5,358.1 378.5,357.9 379.5,357.8 380.5,357.8 381.5,357.9 382.5,358.3 383.5,358.8 384.4,359.3 385.5,360.0 386.5,360.7 387.5,361.3 388.5,361.9 389.5,362.6 390.4,363.3 391.4,364.3 392.1,365.3 392.7,366.3 393.2,367.3 393.7,368.3 394.2,369.3 394.7,370.3 395.1,371.3 395.2,372.3 395.2,373.3 394.7,374.3 393.8,375.3 392.5,376.0 391.5,376.4Z"/>
<path fill-rule="evenodd" fill="#f9e123" d="M425.5,346.3 424.5,346.5 423.5,346.6 422.5,346.7 421.5,346.7 420.5,346.6 419.5,346.4 418.5,346.2 417.5,345.9 416.5,345.5 415.5,345.1 414.5,344.6 413.5,344.1 412.5,343.5 411.5,343.0 410.5,342.4 409.5,341.7 408.5,341.0 407.7,340.3 406.8,339.3 406.0,338.3 405.3,337.3 404.7,336.3 404.1,335.3 403.7,334.3 403.3,333.3 403.0,332.3 402.8,331.3 402.9,330.3 403.1,329.3 403.8,328.3 404.5,327.7 405.4,327.3 406.5,327.0 407.5,326.9 408.5,326.9 409.5,327.0 410.5,327.2 411.5,327.6 412.5,328.1 413.5,328.7 414.4,329.3 415.5,329.9 416.5,330.5 417.5,331.1 418.5,331.7 419.3,332.3 420.4,333.3 421.5,334.3 422.5,335.3 423.5,336.2 424.5,337.1 425.5,338.2 426.4,339.3 427.0,340.3 427.5,341.3 427.8,342.3 427.9,343.3 427.8,344.3 427.3,345.3 426.5,345.9 425.6,346.3ZM390.5,374.6 389.5,374.9 388.5,374.9 387.5,374.8 386.5,374.6 385.5,374.2 384.5,373.6 383.5,372.8 382.5,371.9 381.8,371.3 380.8,370.3 379.9,369.3 379.2,368.3 378.5,367.3 377.9,366.3 377.5,365.4 377.0,364.3 376.8,363.3 376.8,362.3 377.2,361.3 378.4,360.3 379.5,360.0 380.5,359.9 381.5,360.0 382.4,360.3 383.5,360.8 384.5,361.3 385.5,361.8 386.5,362.3 387.5,362.9 388.5,363.5 389.5,364.3 390.4,365.3 391.0,366.3 391.5,367.3 391.9,368.3 392.2,369.3 392.6,370.3 392.8,371.3 392.8,372.3 392.4,373.3 391.5,374.1 390.5,374.6Z"/>
<path fill-rule="evenodd" fill="#f8f21e" d="M422.5,344.4 421.5,344.6 420.5,344.7 419.5,344.7 418.5,344.6 417.5,344.4 416.5,344.0 415.5,343.6 414.5,343.1 413.5,342.6 412.5,342.1 411.5,341.5 410.5,340.9 409.7,340.3 408.6,339.3 407.7,338.3 407.0,337.3 406.5,336.4 406.0,335.3 405.7,334.3 405.5,333.3 405.5,332.3 405.6,331.3 406.2,330.3 407.5,329.3 408.5,329.0 409.5,329.0 410.5,329.2 411.5,329.5 412.5,330.0 413.5,330.5 414.5,331.0 415.5,331.5 416.5,332.1 417.5,332.7 418.3,333.3 419.4,334.3 420.4,335.3 421.4,336.3 422.4,337.3 423.3,338.3 424.0,339.3 424.5,340.1 424.9,341.3 424.9,342.3 424.5,343.2 423.5,344.0 422.5,344.4ZM388.5,372.6 387.5,372.6 386.5,372.3 385.5,371.8 384.5,371.0 383.8,370.3 383.0,369.3 382.5,368.5 382.0,367.3 381.8,366.3 381.8,365.3 382.2,364.3 383.5,363.7 384.5,363.7 385.5,363.9 386.5,364.3 387.5,364.8 388.5,365.7 389.5,367.3 389.8,368.3 390.1,369.3 390.1,370.3 390.0,371.3 389.1,372.3Z"/>
<path d="M325.9,238.3V434.3M286.5,277.5H483.5M365.3,238.3V434.3M286.5,316.7H483.5M404.7,238.3V434.3M286.5,355.9H483.5M444.1,238.3V434.3M286.5,395.1H483.5" stroke="#000" stroke-opacity="0.13" stroke-width="1" fill="none"/>
<line x1="286.5" y1="238.3" x2="483.5" y2="434.3" stroke="#1a1a1a" stroke-width="1.05"/>
</g>
<path d="M286.5,238.3v2.2M286.5,434.3v-2.2M286.5,238.3h2.2M483.5,238.3h-2.2M294.4,238.3v1.6M294.4,434.3v-1.6M286.5,246.1h1.6M483.5,246.1h-1.6M302.3,238.3v1.6M302.3,434.3v-1.6M286.5,254.0h1.6M483.5,254.0h-1.6M310.1,238.3v1.6M310.1,434.3v-1.6M286.5,261.8h1.6M483.5,261.8h-1.6M318.0,238.3v1.6M318.0,434.3v-1.6M286.5,269.7h1.6M483.5,269.7h-1.6M325.9,238.3v2.2M325.9,434.3v-2.2M286.5,277.5h2.2M483.5,277.5h-2.2M333.8,238.3v1.6M333.8,434.3v-1.6M286.5,285.3h1.6M483.5,285.3h-1.6M341.7,238.3v1.6M341.7,434.3v-1.6M286.5,293.2h1.6M483.5,293.2h-1.6M349.5,238.3v1.6M349.5,434.3v-1.6M286.5,301.0h1.6M483.5,301.0h-1.6M357.4,238.3v1.6M357.4,434.3v-1.6M286.5,308.9h1.6M483.5,308.9h-1.6M365.3,238.3v2.2M365.3,434.3v-2.2M286.5,316.7h2.2M483.5,316.7h-2.2M373.2,238.3v1.6M373.2,434.3v-1.6M286.5,324.5h1.6M483.5,324.5h-1.6M381.1,238.3v1.6M381.1,434.3v-1.6M286.5,332.4h1.6M483.5,332.4h-1.6M388.9,238.3v1.6M388.9,434.3v-1.6M286.5,340.2h1.6M483.5,340.2h-1.6M396.8,238.3v1.6M396.8,434.3v-1.6M286.5,348.1h1.6M483.5,348.1h-1.6M404.7,238.3v2.2M404.7,434.3v-2.2M286.5,355.9h2.2M483.5,355.9h-2.2M412.6,238.3v1.6M412.6,434.3v-1.6M286.5,363.7h1.6M483.5,363.7h-1.6M420.5,238.3v1.6M420.5,434.3v-1.6M286.5,371.6h1.6M483.5,371.6h-1.6M428.3,238.3v1.6M428.3,434.3v-1.6M286.5,379.4h1.6M483.5,379.4h-1.6M436.2,238.3v1.6M436.2,434.3v-1.6M286.5,387.3h1.6M483.5,387.3h-1.6M444.1,238.3v2.2M444.1,434.3v-2.2M286.5,395.1h2.2M483.5,395.1h-2.2M452.0,238.3v1.6M452.0,434.3v-1.6M286.5,402.9h1.6M483.5,402.9h-1.6M459.9,238.3v1.6M459.9,434.3v-1.6M286.5,410.8h1.6M483.5,410.8h-1.6M467.7,238.3v1.6M467.7,434.3v-1.6M286.5,418.6h1.6M483.5,418.6h-1.6M475.6,238.3v1.6M475.6,434.3v-1.6M286.5,426.5h1.6M483.5,426.5h-1.6M483.5,238.3v2.2M483.5,434.3v-2.2M286.5,434.3h2.2M483.5,434.3h-2.2" stroke="#444" stroke-width="0.9" fill="none"/>
<rect x="286.5" y="238.3" width="197.0" height="196.0" fill="none" stroke="#4a4a4a" stroke-width="1.1"/>
<text x="384.7" y="253.60000000000002" font-size="14.2" text-anchor="middle" font-weight="normal" font-style="normal" fill="#000" >Experiment</text>
<text x="282.3" y="282.1" font-size="13" text-anchor="end" font-weight="normal" font-style="normal" fill="#000" >-2.04</text>
<text x="282.3" y="321.3" font-size="13" text-anchor="end" font-weight="normal" font-style="normal" fill="#000" >-2.05</text>
<text x="282.3" y="360.5" font-size="13" text-anchor="end" font-weight="normal" font-style="normal" fill="#000" >-2.06</text>
<text x="282.3" y="399.7" font-size="13" text-anchor="end" font-weight="normal" font-style="normal" fill="#000" >-2.07</text>
<text transform="translate(245.2,334.6) rotate(-90)" font-size="14" text-anchor="middle"><tspan font-style="italic">ħω</tspan><tspan font-size="7.5" dy="3.8">1</tspan><tspan dy="-3.8"> (eV)</tspan></text>
<text x="325.9" y="450.7" font-size="13" text-anchor="middle" font-weight="normal" font-style="normal" fill="#000" >2.04</text>
<text x="365.3" y="450.7" font-size="13" text-anchor="middle" font-weight="normal" font-style="normal" fill="#000" >2.05</text>
<text x="404.7" y="450.7" font-size="13" text-anchor="middle" font-weight="normal" font-style="normal" fill="#000" >2.06</text>
<text x="444.1" y="450.7" font-size="13" text-anchor="middle" font-weight="normal" font-style="normal" fill="#000" >2.07</text>
<text x="386.8" y="467.1" font-size="14" text-anchor="middle"><tspan font-style="italic">ħω</tspan><tspan font-size="7.5" dy="3.8">3</tspan><tspan dy="-3.8"> (eV)</tspan></text>
<clipPath id="clipf"><rect x="487.5" y="238.3" width="197.0" height="196.0"/></clipPath>
<g clip-path="url(#clipf)">
<rect x="487.5" y="238.3" width="197.0" height="196.0" fill="#fff"/>
<path fill-rule="evenodd" fill="#dbe7fc" d="M684.5,434.3 683.5,434.3 682.5,434.3 681.5,434.3 680.5,434.3 679.5,434.3 678.5,434.3 677.5,434.3 676.5,434.3 675.5,434.3 674.5,434.3 673.5,434.3 672.5,434.3 671.5,434.3 670.5,434.3 669.5,434.3 668.5,434.3 667.5,434.3 666.5,434.3 665.5,434.3 664.5,434.3 663.5,434.3 662.5,434.3 661.5,434.3 660.5,434.3 659.5,434.3 658.5,434.3 657.5,434.3 656.5,434.3 655.5,434.3 654.5,434.3 653.5,434.3 652.5,434.3 651.5,434.3 650.5,434.3 649.5,434.3 648.5,434.3 647.5,434.3 646.5,434.3 645.5,434.3 644.5,434.3 643.5,434.3 642.5,434.3 641.5,434.3 640.5,434.3 639.5,434.3 638.5,434.3 637.5,434.3 636.5,434.3 635.5,434.3 634.5,434.3 633.5,434.3 632.5,434.3 631.5,434.3 630.5,434.3 629.5,434.3 628.5,434.3 627.5,434.3 626.5,434.3 625.5,434.3 624.5,434.3 623.5,434.3 622.5,434.3 621.5,434.3 620.5,434.3 619.5,434.3 618.5,434.3 617.5,434.3 616.5,434.3 615.5,434.3 614.5,434.3 613.5,434.3 612.5,434.3 611.5,434.3 610.5,434.3 609.5,434.3 608.5,434.3 607.5,434.3 606.5,434.3 605.5,434.3 604.5,434.3 603.5,434.3 602.5,434.3 601.5,434.3 600.5,434.3 599.5,434.3 598.5,434.3 597.5,434.3 596.5,434.3 595.5,434.3 594.5,434.3 593.5,434.3 592.5,434.3 591.5,434.3 590.5,434.3 589.5,434.3 588.5,434.3 587.5,434.3 586.5,434.3 585.5,434.3 584.5,434.3 583.5,434.3 582.5,434.3 581.5,434.3 580.5,434.3 579.5,434.3 578.5,434.3 577.5,434.3 576.5,434.3 575.5,434.3 574.5,434.3 573.5,434.3 572.5,434.3 571.5,434.3 570.5,434.3 569.5,434.3 568.5,434.3 567.5,434.3 566.5,434.3 565.5,434.3 564.5,434.3 563.5,434.3 562.5,434.3 561.5,434.3 560.5,434.3 559.5,434.3 558.5,434.3 557.5,434.3 556.5,434.3 555.5,434.3 554.5,434.3 553.5,434.3 552.5,434.3 551.5,434.3 550.5,434.3 549.5,434.3 548.5,434.3 547.5,434.3 546.5,434.3 545.5,434.3 544.5,434.3 543.5,434.3 542.5,434.3 541.5,434.3 540.5,434.3 539.5,434.3 538.5,434.3 537.5,434.3 536.5,434.3 535.5,434.3 534.5,434.3 533.5,434.3 532.5,434.3 531.5,434.3 530.5,434.3 529.5,434.3 528.5,434.3 527.5,434.3 526.5,434.3 525.5,434.3 524.5,434.3 523.5,434.3 522.5,434.3 521.5,434.3 520.5,434.3 519.5,434.3 518.5,434.3 517.5,434.3 516.5,434.3 515.5,434.3 514.5,434.3 513.5,434.3 512.5,434.3 511.5,434.3 510.5,434.3 509.6,434.3 509.6,433.3 509.6,432.3 509.6,431.3 509.6,430.3 509.6,429.3 509.6,428.3 509.6,427.3 509.6,426.3 509.6,425.3 509.6,424.3 509.6,423.3 509.6,422.3 509.6,421.3 509.6,420.3 509.6,419.3 509.6,418.3 509.6,417.3 509.6,416.3 509.6,415.3 509.6,414.3 509.6,413.3 509.6,412.3 509.6,411.3 509.6,410.3 509.6,409.3 509.6,408.3 509.6,407.3 509.6,406.3 509.6,405.3 509.6,404.3 509.6,403.3 509.6,402.3 509.6,401.3 509.6,400.3 509.6,399.3 509.6,398.3 509.6,397.3 509.6,396.3 509.6,395.3 509.6,394.3 509.6,393.3 509.6,392.3 509.6,391.3 509.6,390.3 509.6,389.3 509.6,388.3 509.6,387.3 509.6,386.3 509.7,385.3 509.7,384.3 509.7,383.3 509.7,382.3 509.7,381.3 509.7,380.3 509.7,379.3 509.7,378.3 509.7,377.3 509.7,376.3 509.7,375.3 509.8,374.3 509.8,373.3 509.8,372.3 509.8,371.3 509.8,370.3 509.9,369.3 509.9,368.3 509.9,367.3 509.9,366.3 510.0,365.3 510.0,364.3 510.0,363.3 510.1,362.3 510.1,361.3 510.2,360.3 510.2,359.3 510.3,358.3 510.3,357.3 510.4,356.3 510.5,355.3 510.5,354.3 510.6,353.3 510.8,352.3 510.9,351.3 511.0,350.3 511.1,349.3 511.3,348.3 511.5,347.3 511.6,346.3 511.9,345.3 512.1,344.3 512.3,343.3 512.6,342.3 512.9,341.3 513.2,340.3 513.6,339.3 514.0,338.3 514.4,337.3 514.8,336.3 515.3,335.3 515.8,334.3 516.3,333.3 516.9,332.3 517.5,331.4 518.2,330.3 518.9,329.3 519.5,328.6 520.5,327.3 521.4,326.3 522.3,325.3 523.3,324.3 524.3,323.3 525.4,322.3 526.5,321.3 527.5,320.4 528.5,319.5 529.5,318.5 530.5,317.5 531.5,316.6 532.5,315.6 533.5,314.8 534.5,313.9 535.3,313.3 536.5,312.4 537.5,311.6 538.5,310.7 539.5,309.6 540.5,308.3 541.1,307.3 541.5,306.5 541.9,305.3 542.2,304.3 542.5,303.3 542.7,302.3 542.8,301.3 543.0,300.3 543.1,299.3 543.3,298.3 543.4,297.3 543.6,296.3 543.7,295.3 543.8,294.3 543.9,293.3 544.0,292.3 544.1,291.3 544.2,290.3 544.3,289.3 544.4,288.3 544.5,287.3 544.6,286.3 544.7,285.3 544.8,284.3 544.9,283.3 544.9,282.3 545.0,281.3 545.1,280.3 545.2,279.3 545.3,278.3 545.3,277.3 545.4,276.3 545.5,275.3 545.5,274.3 545.6,273.3 545.7,272.3 545.7,271.3 545.8,270.3 545.8,269.3 545.9,268.3 545.9,267.3 546.0,266.3 546.0,265.3 546.0,264.3 546.1,263.3 546.1,262.3 546.1,261.3 546.2,260.3 546.2,259.3 546.2,258.3 546.3,257.3 546.3,256.3 546.3,255.3 546.3,254.3 546.4,253.3 546.4,252.3 546.4,251.3 546.4,250.3 546.4,249.3 546.5,248.3 546.5,247.3 546.5,246.3 546.5,245.3 546.5,244.3 546.5,243.3 546.5,242.3 546.5,241.3 546.6,240.3 546.6,239.3 546.6,238.3 547.5,238.3 548.5,238.3 549.5,238.3 550.5,238.3 551.5,238.3 552.5,238.3 553.5,238.3 554.5,238.3 555.5,238.3 556.5,238.3 557.5,238.3 558.5,238.3 559.5,238.3 560.5,238.3 561.5,238.3 562.5,238.3 563.5,238.3 564.5,238.3 565.5,238.3 566.5,238.3 567.5,238.3 568.5,238.3 569.5,238.3 570.5,238.3 571.5,238.3 572.5,238.3 573.5,238.3 574.5,238.3 575.5,238.3 576.5,238.3 577.5,238.3 578.5,238.3 579.5,238.3 580.5,238.3 581.5,238.3 582.5,238.3 583.5,238.3 584.5,238.3 585.5,238.3 586.5,238.3 587.5,238.3 588.5,238.3 589.5,238.3 590.5,238.3 591.5,238.3 592.5,238.3 593.5,238.3 594.5,238.3 595.5,238.3 596.5,238.3 597.5,238.3 598.5,238.3 599.5,238.3 600.5,238.3 601.5,238.3 602.5,238.3 603.5,238.3 604.5,238.3 605.5,238.3 606.5,238.3 607.5,238.3 608.5,238.3 609.5,238.3 610.5,238.3 611.5,238.3 612.5,238.3 613.5,238.3 614.5,238.3 615.5,238.3 616.5,238.3 617.5,238.3 618.5,238.3 619.5,238.3 620.5,238.3 621.5,238.3 622.5,238.3 623.5,238.3 624.5,238.3 625.5,238.3 626.5,238.3 627.5,238.3 628.5,238.3 629.5,238.3 630.5,238.3 631.5,238.3 632.5,238.3 633.5,238.3 634.5,238.3 635.5,238.3 636.5,238.3 637.5,238.3 638.5,238.3 639.5,238.3 640.5,238.3 641.5,238.3 642.5,238.3 643.5,238.3 644.5,238.3 645.5,238.3 646.5,238.3 647.5,238.3 648.5,238.3 649.5,238.3 650.5,238.3 651.5,238.3 652.5,238.3 653.5,238.3 654.5,238.3 655.5,238.3 656.5,238.3 657.5,238.3 658.5,238.3 659.5,238.3 660.5,238.3 661.5,238.3 662.5,238.3 663.5,238.3 664.5,238.3 665.5,238.3 666.5,238.3 667.5,238.3 668.5,238.3 669.5,238.3 670.5,238.3 671.5,238.3 672.5,238.3 673.5,238.3 674.5,238.3 675.5,238.3 676.5,238.3 677.5,238.3 678.5,238.3 679.5,238.3 680.5,238.3 681.5,238.3 682.5,238.3 683.5,238.3 684.5,238.3 684.5,239.3 684.5,240.3 684.5,241.3 684.5,242.3 684.5,243.3 684.5,244.3 684.5,245.3 684.5,246.3 684.5,247.3 684.5,248.3 684.5,249.3 684.5,250.3 684.5,251.3 684.5,252.3 684.5,253.3 684.5,254.3 684.5,255.3 684.5,256.3 684.5,257.3 684.5,258.3 684.5,259.3 684.5,260.3 684.5,261.3 684.5,262.3 684.5,263.3 684.5,264.3 684.5,265.3 684.5,266.3 684.5,267.3 684.5,268.3 684.5,269.3 684.5,270.3 684.5,271.3 684.5,272.3 684.5,273.3 684.5,274.3 684.5,275.3 684.5,276.3 684.5,277.3 684.5,278.3 684.5,279.3 684.5,280.3 684.5,281.3 684.5,282.3 684.5,283.3 684.5,284.3 684.5,285.3 684.5,286.3 684.5,287.3 684.5,288.3 684.5,289.3 684.5,290.3 684.5,291.3 684.5,292.3 684.5,293.3 684.5,294.3 684.5,295.3 684.5,296.3 684.5,297.3 684.5,298.3 684.5,299.3 684.5,300.3 684.5,301.3 684.5,302.3 684.5,303.3 684.5,304.3 684.5,305.3 684.5,306.3 684.5,307.3 684.5,308.3 684.5,309.3 684.5,310.3 684.5,311.3 684.5,312.3 684.5,313.3 684.5,314.3 684.5,315.3 684.5,316.3 684.5,317.3 684.5,318.3 684.5,319.3 684.5,320.3 684.5,321.3 684.5,322.3 684.5,323.3 684.5,324.3 684.5,325.3 684.5,326.3 684.5,327.3 684.5,328.3 684.5,329.3 684.5,330.3 684.5,331.3 684.5,332.3 684.5,333.3 684.5,334.3 684.5,335.3 684.5,336.3 684.5,337.3 684.5,338.3 684.5,339.3 684.5,340.3 684.5,341.3 684.5,342.3 684.5,343.3 684.5,344.3 684.5,345.3 684.5,346.3 684.5,347.3 684.5,348.3 684.5,349.3 684.5,350.3 684.5,351.3 684.5,352.3 684.5,353.3 684.5,354.3 684.5,355.3 684.5,356.3 684.5,357.3 684.5,358.3 684.5,359.3 684.5,360.3 684.5,361.3 684.5,362.3 684.5,363.3 684.5,364.3 684.5,365.3 684.5,366.3 684.5,367.3 684.5,368.3 684.5,369.3 684.5,370.3 684.5,371.3 684.5,372.3 684.5,373.3 684.5,374.3 684.5,375.3 684.5,376.3 684.5,377.3 684.5,378.3 684.5,379.3 684.5,380.3 684.5,381.3 684.5,382.3 684.5,383.3 684.5,384.3 684.5,385.3 684.5,386.3 684.5,387.3 684.5,388.3 684.5,389.3 684.5,390.3 684.5,391.3 684.5,392.3 684.5,393.3 684.5,394.3 684.5,395.3 684.5,396.3 684.5,397.3 684.5,398.3 684.5,399.3 684.5,400.3 684.5,401.3 684.5,402.3 684.5,403.3 684.5,404.3 684.5,405.3 684.5,406.3 684.5,407.3 684.5,408.3 684.5,409.3 684.5,410.3 684.5,411.3 684.5,412.3 684.5,413.3 684.5,414.3 684.5,415.3 684.5,416.3 684.5,417.3 684.5,418.3 684.5,419.3 684.5,420.3 684.5,421.3 684.5,422.3 684.5,423.3 684.5,424.3 684.5,425.3 684.5,426.3 684.5,427.3 684.5,428.3 684.5,429.3 684.5,430.3 684.5,431.3 684.5,432.3 684.5,433.3 684.5,434.3Z"/>
<path fill-rule="evenodd" fill="#b2cefa" d="M684.5,434.3 683.5,434.3 682.5,434.3 681.5,434.3 680.5,434.3 679.5,434.3 678.5,434.3 677.5,434.3 676.5,434.3 675.5,434.3 674.5,434.3 673.5,434.3 672.5,434.3 671.5,434.3 670.5,434.3 669.5,434.3 668.5,434.3 667.5,434.3 666.5,434.3 665.5,434.3 664.5,434.3 663.5,434.3 662.5,434.3 661.5,434.3 660.5,434.3 659.5,434.3 658.5,434.3 657.5,434.3 656.5,434.3 655.5,434.3 654.5,434.3 653.5,434.3 652.5,434.3 651.5,434.3 650.5,434.3 649.5,434.3 648.5,434.3 647.5,434.3 646.5,434.3 645.5,434.3 644.5,434.3 643.5,434.3 642.5,434.3 641.5,434.3 640.5,434.3 639.5,434.3 638.5,434.3 637.5,434.3 636.5,434.3 635.5,434.3 634.5,434.3 633.5,434.3 632.5,434.3 631.5,434.3 630.5,434.3 629.5,434.3 628.5,434.3 627.5,434.3 626.5,434.3 625.5,434.3 624.5,434.3 623.5,434.3 622.5,434.3 621.5,434.3 620.5,434.3 619.5,434.3 618.5,434.3 617.5,434.3 616.5,434.3 615.5,434.3 614.5,434.3 613.5,434.3 612.5,434.3 611.5,434.3 610.5,434.3 609.5,434.3 608.5,434.3 607.5,434.3 606.5,434.3 605.5,434.3 604.5,434.3 603.5,434.3 602.5,434.3 601.5,434.3 600.5,434.3 599.5,434.3 598.5,434.3 597.5,434.3 596.5,434.3 595.5,434.3 594.5,434.3 593.5,434.3 592.5,434.3 591.5,434.3 590.5,434.3 589.5,434.3 588.5,434.3 587.5,434.3 586.5,434.3 585.5,434.3 584.5,434.3 583.5,434.3 582.5,434.3 581.5,434.3 580.5,434.3 579.5,434.3 578.5,434.3 577.5,434.3 576.5,434.3 575.5,434.3 574.5,434.3 573.5,434.3 572.5,434.3 571.5,434.3 570.5,434.3 569.5,434.3 568.5,434.3 567.5,434.3 566.5,434.3 565.5,434.3 564.5,434.3 563.5,434.3 562.5,434.3 561.5,434.3 560.5,434.3 559.5,434.3 558.5,434.3 557.5,434.3 556.5,434.3 555.5,434.3 554.5,434.3 553.5,434.3 552.5,434.3 551.5,434.3 550.5,434.3 549.5,434.3 548.5,434.3 547.5,434.3 546.5,434.3 545.5,434.3 544.5,434.3 543.5,434.3 542.5,434.3 541.5,434.3 540.5,434.3 539.5,434.3 538.5,434.3 537.5,434.3 536.5,434.3 535.5,434.3 534.5,434.3 533.5,434.3 532.5,434.3 531.5,434.3 530.5,434.3 529.5,434.3 528.5,434.3 527.8,433.3 527.9,432.3 527.9,431.3 527.9,430.3 527.9,429.3 528.0,428.3 528.0,427.3 528.0,426.3 528.1,425.3 528.1,424.3 528.1,423.3 528.2,422.3 528.2,421.3 528.2,420.3 528.3,419.3 528.3,418.3 528.3,417.3 528.3,416.3 528.4,415.3 528.4,414.3 528.4,413.3 528.4,412.3 528.4,411.3 528.5,410.3 528.5,409.3 528.5,408.3 528.5,407.3 528.5,406.3 528.5,405.3 528.5,404.3 528.6,403.3 528.6,402.3 528.6,401.3 528.6,400.3 528.6,399.3 528.6,398.3 528.7,397.3 528.7,396.3 528.7,395.3 528.7,394.3 528.7,393.3 528.7,392.3 528.8,391.3 528.8,390.3 528.8,389.3 528.8,388.3 528.9,387.3 528.9,386.3 528.9,385.3 529.0,384.3 529.0,383.3 529.0,382.3 529.1,381.3 529.1,380.3 529.2,379.3 529.2,378.3 529.3,377.3 529.3,376.3 529.4,375.3 529.5,374.3 529.5,373.3 529.6,372.3 529.7,371.3 529.7,370.3 529.8,369.3 529.9,368.3 530.0,367.3 530.1,366.3 530.2,365.3 530.3,364.3 530.4,363.3 530.6,362.3 530.7,361.3 530.8,360.3 531.0,359.3 531.2,358.3 531.3,357.3 531.5,356.3 531.7,355.3 532.0,354.3 532.2,353.3 532.4,352.3 532.7,351.3 533.0,350.3 533.2,349.3 533.6,348.3 533.9,347.3 534.2,346.3 534.6,345.3 534.9,344.3 535.3,343.3 535.7,342.3 536.2,341.3 536.6,340.3 537.1,339.3 537.6,338.3 538.1,337.3 538.6,336.3 539.1,335.3 539.6,334.3 540.2,333.3 540.7,332.3 541.3,331.3 541.9,330.3 542.5,329.3 542.9,328.3 543.4,327.3 543.8,326.3 544.2,325.3 544.6,324.3 545.0,323.3 545.3,322.3 545.7,321.3 546.0,320.3 546.3,319.3 546.6,318.3 546.9,317.3 547.1,316.3 547.4,315.3 547.6,314.3 547.8,313.3 547.9,312.3 548.1,311.3 548.2,310.3 548.3,309.3 548.4,308.3 548.5,307.4 548.6,306.3 548.7,305.3 548.8,304.3 548.8,303.3 548.9,302.3 549.0,301.3 549.1,300.3 549.2,299.3 549.2,298.3 549.3,297.3 549.4,296.3 549.5,295.4 549.6,294.3 549.7,293.3 549.8,292.3 549.9,291.3 549.9,290.3 550.0,289.3 550.1,288.3 550.2,287.3 550.3,286.3 550.4,285.3 550.5,284.3 550.5,283.3 550.6,282.3 550.7,281.3 550.7,280.3 550.8,279.3 550.9,278.3 550.9,277.3 551.0,276.3 551.0,275.3 551.1,274.3 551.1,273.3 551.2,272.3 551.2,271.3 551.3,270.3 551.3,269.3 551.3,268.3 551.4,267.3 551.4,266.3 551.5,265.3 551.5,264.3 551.5,263.3 551.5,262.3 551.6,261.3 551.6,260.3 551.6,259.3 551.6,258.3 551.6,257.3 551.6,256.3 551.7,255.3 551.7,254.3 551.7,253.3 551.7,252.3 551.7,251.3 551.7,250.3 551.7,249.3 551.7,248.3 551.8,247.3 551.8,246.3 551.8,245.3 551.8,244.3 551.8,243.3 551.8,242.3 551.8,241.3 551.8,240.3 551.8,239.3 551.8,238.3 553.5,238.3 554.5,238.3 555.5,238.3 556.5,238.3 557.5,238.3 558.5,238.3 559.5,238.3 560.5,238.3 561.5,238.3 562.5,238.3 563.5,238.3 564.5,238.3 565.5,238.3 566.5,238.3 567.5,238.3 568.5,238.3 569.5,238.3 570.5,238.3 571.5,238.3 572.5,238.3 573.5,238.3 574.5,238.3 575.5,238.3 576.5,238.3 577.5,238.3 578.5,238.3 579.5,238.3 580.5,238.3 581.5,238.3 582.5,238.3 583.5,238.3 584.5,238.3 585.5,238.3 586.5,238.3 587.5,238.3 588.5,238.3 589.5,238.3 590.5,238.3 591.5,238.3 592.5,238.3 593.5,238.3 594.5,238.3 595.5,238.3 596.5,238.3 597.5,238.3 598.5,238.3 599.5,238.3 600.5,238.3 601.5,238.3 602.5,238.3 603.5,238.3 604.5,238.3 605.5,238.3 606.5,238.3 607.5,238.3 608.5,238.3 609.5,238.3 610.5,238.3 611.5,238.3 612.5,238.3 613.5,238.3 614.5,238.3 615.5,238.3 616.5,238.3 617.5,238.3 618.5,238.3 619.5,238.3 620.5,238.3 621.5,238.3 622.5,238.3 623.5,238.3 624.5,238.3 625.5,238.3 626.5,238.3 627.5,238.3 628.5,238.3 629.5,238.3 630.5,238.3 631.5,238.3 632.5,238.3 633.5,238.3 634.5,238.3 635.5,238.3 636.5,238.3 637.5,238.3 638.5,238.3 639.5,238.3 640.5,238.3 641.5,238.3 642.5,238.3 643.5,238.3 644.5,238.3 645.5,238.3 646.5,238.3 647.5,238.3 648.5,238.3 649.5,238.3 650.5,238.3 651.5,238.3 652.5,238.3 653.5,238.3 654.5,238.3 655.5,238.3 656.5,238.3 657.5,238.3 658.5,238.3 659.5,238.3 660.5,238.3 661.5,238.3 662.5,238.3 663.5,238.3 664.5,238.3 665.5,238.3 666.5,238.3 667.5,238.3 668.5,238.3 669.5,238.3 670.5,238.3 671.5,238.3 672.5,238.3 673.5,238.3 674.5,238.3 675.5,238.3 676.5,238.3 677.5,238.3 678.5,238.3 679.5,238.3 680.5,238.3 681.5,238.3 682.5,238.3 683.5,238.3 684.5,238.3 684.5,239.3 684.5,240.3 684.5,241.3 684.5,242.3 684.5,243.3 684.5,244.3 684.5,245.3 684.5,246.3 684.5,247.3 684.5,248.3 684.5,249.3 684.5,250.3 684.5,251.3 684.5,252.3 684.5,253.3 684.5,254.3 684.5,255.3 684.5,256.3 684.5,257.3 684.5,258.3 684.5,259.3 684.5,260.3 684.5,261.3 684.5,262.3 684.5,263.3 684.5,264.3 684.5,265.3 684.5,266.3 684.5,267.3 684.5,268.3 684.5,269.3 684.5,270.3 684.5,271.3 684.5,272.3 684.5,273.3 684.5,274.3 684.5,275.3 684.5,276.3 684.5,277.3 684.5,278.3 684.5,279.3 684.5,280.3 684.5,281.3 684.5,282.3 684.5,283.3 684.5,284.3 684.5,285.3 684.5,286.3 684.5,287.3 684.5,288.3 684.5,289.3 684.5,290.3 684.5,291.3 684.5,292.3 684.5,293.3 684.5,294.3 684.5,295.3 684.5,296.3 684.5,297.3 684.5,298.3 684.5,299.3 684.5,300.3 684.5,301.3 684.5,302.3 684.5,303.3 684.5,304.3 684.5,305.3 684.5,306.3 684.5,307.3 684.5,308.3 684.5,309.3 684.5,310.3 684.5,311.3 684.5,312.3 684.5,313.3 684.5,314.3 684.5,315.3 684.5,316.3 684.5,317.3 684.5,318.3 684.5,319.3 684.5,320.3 684.5,321.3 684.5,322.3 684.5,323.3 684.5,324.3 684.5,325.3 684.5,326.3 684.5,327.3 684.5,328.3 684.5,329.3 684.5,330.3 684.5,331.3 684.5,332.3 684.5,333.3 684.5,334.3 684.5,335.3 684.5,336.3 684.5,337.3 684.5,338.3 684.5,339.3 684.5,340.3 684.5,341.3 684.5,342.3 684.5,343.3 684.5,344.3 684.5,345.3 684.5,346.3 684.5,347.3 684.5,348.3 684.5,349.3 684.5,350.3 684.5,351.3 684.5,352.3 684.5,353.3 684.5,354.3 684.5,355.3 684.5,356.3 684.5,357.3 684.5,358.3 684.5,359.3 684.5,360.3 684.5,361.3 684.5,362.3 684.5,363.3 684.5,364.3 684.5,365.3 684.5,366.3 684.5,367.3 684.5,368.3 684.5,369.3 684.5,370.3 684.5,371.3 684.5,372.3 684.5,373.3 684.5,374.3 684.5,375.3 684.5,376.3 684.5,377.3 684.5,378.3 684.5,379.3 684.5,380.3 684.5,381.3 684.5,382.3 684.5,383.3 684.5,384.3 684.5,385.3 684.5,386.3 684.5,387.3 684.5,388.3 684.5,389.3 684.5,390.3 684.5,391.3 684.5,392.3 684.5,393.3 684.5,394.3 684.5,395.3 684.5,396.3 684.5,397.3 684.5,398.3 684.5,399.3 684.5,400.3 684.5,401.3 684.5,402.3 684.5,403.3 684.5,404.3 684.5,405.3 684.5,406.3 684.5,407.3 684.5,408.3 684.5,409.3 684.5,410.3 684.5,411.3 684.5,412.3 684.5,413.3 684.5,414.3 684.5,415.3 684.5,416.3 684.5,417.3 684.5,418.3 684.5,419.3 684.5,420.3 684.5,421.3 684.5,422.3 684.5,423.3 684.5,424.3 684.5,425.3 684.5,426.3 684.5,427.3 684.5,428.3 684.5,429.3 684.5,430.3 684.5,431.3 684.5,432.3 684.5,433.3 684.5,434.3Z"/>
<path fill-rule="evenodd" fill="#8cb5fa" d="M684.5,434.3 683.5,434.3 682.5,434.3 681.5,434.3 680.5,434.3 679.5,434.3 678.5,434.3 677.5,434.3 676.5,434.3 675.5,434.3 674.5,434.3 673.5,434.3 672.5,434.3 671.5,434.3 670.5,434.3 669.5,434.3 668.5,434.3 667.5,434.3 666.5,434.3 665.5,434.3 664.5,434.3 663.5,434.3 662.5,434.3 661.5,434.3 660.5,434.3 659.5,434.3 658.5,434.3 657.5,434.3 656.5,434.3 655.5,434.3 654.5,434.3 653.5,434.3 652.5,434.3 651.5,434.3 650.5,434.3 649.5,434.3 648.5,434.3 647.5,434.3 646.5,434.3 645.5,434.3 644.5,434.3 643.5,434.3 642.5,434.3 641.5,434.3 640.5,434.3 639.5,434.3 638.5,434.3 637.5,434.3 636.5,434.3 635.5,434.3 634.5,434.3 633.5,434.3 632.5,434.3 631.5,434.3 630.5,434.3 629.5,434.3 628.5,434.3 627.5,434.3 626.5,434.3 625.5,434.3 624.5,434.3 623.5,434.3 622.5,434.3 621.5,434.3 620.5,434.3 619.5,434.3 618.5,434.3 617.5,434.3 616.5,434.3 615.5,434.3 614.5,434.3 613.5,434.3 612.5,434.3 611.5,434.3 610.5,434.3 609.5,434.3 608.5,434.3 607.5,434.3 606.5,434.3 605.5,434.3 604.5,434.3 603.5,434.3 602.5,434.3 601.5,434.3 600.5,434.3 599.5,434.3 598.5,434.3 597.5,434.3 596.5,434.3 595.5,434.3 594.5,434.3 593.5,434.3 592.5,434.3 591.5,434.3 590.5,434.3 589.5,434.3 588.5,434.3 587.5,434.3 586.5,434.3 585.5,434.3 584.5,434.3 583.5,434.3 582.5,434.3 581.5,434.3 580.5,434.3 579.5,434.3 578.5,434.3 577.5,434.3 576.5,434.3 575.5,434.3 574.5,434.3 573.5,434.3 572.5,434.3 571.5,434.3 570.5,434.3 569.5,434.3 568.5,434.3 567.5,434.3 566.5,434.3 565.5,434.3 564.5,434.3 563.5,434.3 562.5,434.3 561.5,434.3 560.5,434.3 559.5,434.3 558.5,434.3 557.5,434.3 556.5,434.3 555.5,434.3 554.5,434.3 553.5,434.3 552.5,434.3 551.5,434.3 550.5,434.3 549.5,434.3 548.5,434.3 547.5,434.3 546.5,434.3 545.5,434.3 544.5,434.3 543.5,434.3 542.5,434.3 541.5,434.3 540.5,434.3 539.5,434.3 538.5,434.3 537.5,434.3 536.9,433.3 537.0,432.3 537.0,431.3 537.1,430.3 537.2,429.3 537.3,428.3 537.3,427.3 537.4,426.3 537.5,425.3 537.6,424.3 537.6,423.3 537.7,422.3 537.8,421.3 537.9,420.3 537.9,419.3 538.0,418.3 538.0,417.3 538.1,416.3 538.2,415.3 538.2,414.3 538.3,413.3 538.3,412.3 538.4,411.3 538.4,410.3 538.5,409.3 538.5,408.3 538.5,407.3 538.6,406.3 538.6,405.3 538.6,404.3 538.6,403.3 538.7,402.3 538.7,401.3 538.7,400.3 538.7,399.3 538.8,398.3 538.8,397.3 538.8,396.3 538.9,395.3 538.9,394.3 538.9,393.3 539.0,392.3 539.0,391.3 539.0,390.3 539.1,389.3 539.1,388.3 539.1,387.3 539.2,386.3 539.2,385.3 539.3,384.3 539.3,383.3 539.4,382.3 539.4,381.3 539.5,380.3 539.5,379.3 539.6,378.3 539.6,377.3 539.7,376.3 539.7,375.3 539.8,374.3 539.9,373.3 539.9,372.3 540.0,371.3 540.1,370.3 540.1,369.3 540.2,368.3 540.3,367.3 540.4,366.3 540.5,365.3 540.5,364.3 540.6,363.3 540.7,362.3 540.8,361.3 540.9,360.3 541.0,359.3 541.1,358.3 541.1,357.3 541.2,356.3 541.3,355.3 541.5,354.3 541.6,353.3 541.7,352.3 541.8,351.3 541.9,350.3 542.0,349.3 542.2,348.3 542.3,347.3 542.5,346.3 542.7,345.3 542.8,344.3 543.0,343.3 543.3,342.3 543.5,341.3 543.7,340.3 544.0,339.3 544.2,338.3 544.5,337.3 544.7,336.3 545.0,335.3 545.3,334.3 545.6,333.3 545.9,332.3 546.2,331.3 546.5,330.4 546.9,329.3 547.2,328.3 547.6,327.3 548.0,326.3 548.4,325.3 548.8,324.3 549.2,323.3 549.5,322.4 549.9,321.3 550.3,320.3 550.6,319.3 550.8,318.3 551.0,317.3 551.2,316.3 551.4,315.3 551.5,314.3 551.6,313.3 551.7,312.3 551.8,311.3 551.8,310.3 551.9,309.3 551.9,308.3 552.0,307.3 552.0,306.3 552.1,305.3 552.1,304.3 552.1,303.3 552.2,302.3 552.3,301.3 552.3,300.3 552.4,299.3 552.4,298.3 552.5,297.3 552.6,296.3 552.6,295.3 552.7,294.3 552.8,293.3 552.8,292.3 552.9,291.3 553.0,290.3 553.0,289.3 553.1,288.3 553.2,287.3 553.2,286.3 553.3,285.3 553.4,284.3 553.4,283.3 553.5,282.3 553.6,281.3 553.6,280.3 553.7,279.3 553.8,278.3 553.8,277.3 553.9,276.3 553.9,275.3 554.0,274.3 554.1,273.3 554.1,272.3 554.1,271.3 554.2,270.3 554.2,269.3 554.3,268.3 554.3,267.3 554.3,266.3 554.4,265.3 554.4,264.3 554.4,263.3 554.5,262.3 554.5,261.3 554.5,260.3 554.6,259.3 554.6,258.3 554.6,257.3 554.7,256.3 554.7,255.3 554.7,254.3 554.8,253.3 554.8,252.3 554.8,251.3 554.8,250.3 554.9,249.3 554.9,248.3 554.9,247.3 554.9,246.3 554.9,245.3 554.9,244.3 555.0,243.3 555.0,242.3 555.0,241.3 555.0,240.3 555.0,239.3 555.0,238.3 556.5,238.3 557.5,238.3 558.5,238.3 559.5,238.3 560.5,238.3 561.5,238.3 562.5,238.3 563.5,238.3 564.5,238.3 565.5,238.3 566.5,238.3 567.5,238.3 568.5,238.3 569.5,238.3 570.5,238.3 571.5,238.3 572.5,238.3 573.5,238.3 574.5,238.3 575.5,238.3 576.5,238.3 577.5,238.3 578.5,238.3 579.5,238.3 580.5,238.3 581.5,238.3 582.5,238.3 583.5,238.3 584.5,238.3 585.5,238.3 586.5,238.3 587.5,238.3 588.5,238.3 589.5,238.3 590.5,238.3 591.5,238.3 592.5,238.3 593.5,238.3 594.5,238.3 595.5,238.3 596.5,238.3 597.5,238.3 598.5,238.3 599.5,238.3 600.5,238.3 601.5,238.3 602.5,238.3 603.5,238.3 604.5,238.3 605.5,238.3 606.5,238.3 607.5,238.3 608.5,238.3 609.5,238.3 610.5,238.3 611.5,238.3 612.5,238.3 613.5,238.3 614.5,238.3 615.5,238.3 616.5,238.3 617.5,238.3 618.5,238.3 619.5,238.3 620.5,238.3 621.5,238.3 622.5,238.3 623.5,238.3 624.5,238.3 625.5,238.3 626.5,238.3 627.5,238.3 628.5,238.3 629.5,238.3 630.5,238.3 631.5,238.3 632.5,238.3 633.5,238.3 634.5,238.3 635.5,238.3 636.5,238.3 637.5,238.3 638.5,238.3 639.5,238.3 640.5,238.3 641.5,238.3 642.5,238.3 643.5,238.3 644.5,238.3 645.5,238.3 646.5,238.3 647.5,238.3 648.5,238.3 649.5,238.3 650.5,238.3 651.5,238.3 652.5,238.3 653.5,238.3 654.5,238.3 655.5,238.3 656.5,238.3 657.5,238.3 658.5,238.3 659.5,238.3 660.5,238.3 661.5,238.3 662.5,238.3 663.5,238.3 664.5,238.3 665.5,238.3 666.5,238.3 667.5,238.3 668.5,238.3 669.5,238.3 670.5,238.3 671.5,238.3 672.5,238.3 673.5,238.3 674.5,238.3 675.5,238.3 676.5,238.3 677.5,238.3 678.5,238.3 679.5,238.3 680.5,238.3 681.5,238.3 682.5,238.3 683.5,238.3 684.5,238.3 684.5,239.3 684.5,240.3 684.5,241.3 684.5,242.3 684.5,243.3 684.5,244.3 684.5,245.3 684.5,246.3 684.5,247.3 684.5,248.3 684.5,249.3 684.5,250.3 684.5,251.3 684.5,252.3 684.5,253.3 684.5,254.3 684.5,255.3 684.5,256.3 684.5,257.3 684.5,258.3 684.5,259.3 684.5,260.3 684.5,261.3 684.5,262.3 684.5,263.3 684.5,264.3 684.5,265.3 684.5,266.3 684.5,267.3 684.5,268.3 684.5,269.3 684.5,270.3 684.5,271.3 684.5,272.3 684.5,273.3 684.5,274.3 684.5,275.3 684.5,276.3 684.5,277.3 684.5,278.3 684.5,279.3 684.5,280.3 684.5,281.3 684.5,282.3 684.5,283.3 684.5,284.3 684.5,285.3 684.5,286.3 684.5,287.3 684.5,288.3 684.5,289.3 684.5,290.3 684.5,291.3 684.5,292.3 684.5,293.3 684.5,294.3 684.5,295.3 684.5,296.3 684.5,297.3 684.5,298.3 684.5,299.3 684.5,300.3 684.5,301.3 684.5,302.3 684.5,303.3 684.5,304.3 684.5,305.3 684.5,306.3 684.5,307.3 684.5,308.3 684.5,309.3 684.5,310.3 684.5,311.3 684.5,312.3 684.5,313.3 684.5,314.3 684.5,315.3 684.5,316.3 684.5,317.3 684.5,318.3 684.5,319.3 684.5,320.3 684.5,321.3 684.5,322.3 684.5,323.3 684.5,324.3 684.5,325.3 684.5,326.3 684.5,327.3 684.5,328.3 684.5,329.3 684.5,330.3 684.5,331.3 684.5,332.3 684.5,333.3 684.5,334.3 684.5,335.3 684.5,336.3 684.5,337.3 684.5,338.3 684.5,339.3 684.5,340.3 684.5,341.3 684.5,342.3 684.5,343.3 684.5,344.3 684.5,345.3 684.5,346.3 684.5,347.3 684.5,348.3 684.5,349.3 684.5,350.3 684.5,351.3 684.5,352.3 684.5,353.3 684.5,354.3 684.5,355.3 684.5,356.3 684.5,357.3 684.5,358.3 684.5,359.3 684.5,360.3 684.5,361.3 684.5,362.3 684.5,363.3 684.5,364.3 684.5,365.3 684.5,366.3 684.5,367.3 684.5,368.3 684.5,369.3 684.5,370.3 684.5,371.3 684.5,372.3 684.5,373.3 684.5,374.3 684.5,375.3 684.5,376.3 684.5,377.3 684.5,378.3 684.5,379.3 684.5,380.3 684.5,381.3 684.5,382.3 684.5,383.3 684.5,384.3 684.5,385.3 684.5,386.3 684.5,387.3 684.5,388.3 684.5,389.3 684.5,390.3 684.5,391.3 684.5,392.3 684.5,393.3 684.5,394.3 684.5,395.3 684.5,396.3 684.5,397.3 684.5,398.3 684.5,399.3 684.5,400.3 684.5,401.3 684.5,402.3 684.5,403.3 684.5,404.3 684.5,405.3 684.5,406.3 684.5,407.3 684.5,408.3 684.5,409.3 684.5,410.3 684.5,411.3 684.5,412.3 684.5,413.3 684.5,414.3 684.5,415.3 684.5,416.3 684.5,417.3 684.5,418.3 684.5,419.3 684.5,420.3 684.5,421.3 684.5,422.3 684.5,423.3 684.5,424.3 684.5,425.3 684.5,426.3 684.5,427.3 684.5,428.3 684.5,429.3 684.5,430.3 684.5,431.3 684.5,432.3 684.5,433.3 684.5,434.3ZM670.9,418.3 672.5,417.5 673.5,416.8 674.5,416.0 675.2,415.3 676.1,414.3 677.0,413.3 677.7,412.3 678.4,411.3 679.0,410.3 679.5,409.4 680.1,408.3 680.5,407.3 680.9,406.3 681.2,405.3 681.5,404.3 681.7,403.3 681.9,402.3 682.0,401.3 682.1,400.3 682.1,399.3 682.1,398.3 682.0,397.3 681.8,396.3 681.6,395.3 681.3,394.3 681.0,393.3 680.6,392.3 680.1,391.3 679.5,390.4 678.8,389.3 677.9,388.3 676.9,387.3 675.6,386.3 674.5,385.6 673.5,385.1 672.5,384.8 671.5,384.5 670.5,384.3 669.5,384.2 668.5,384.2 667.5,384.3 666.5,384.6 665.5,384.9 664.5,385.3 663.5,385.9 662.5,386.5 661.6,387.3 660.7,388.3 659.9,389.3 659.2,390.3 658.6,391.3 658.2,392.3 657.8,393.3 657.4,394.3 657.2,395.3 656.9,396.3 656.8,397.3 656.6,398.3 656.5,399.3 656.5,400.3 656.5,401.3 656.5,402.3 656.6,403.3 656.7,404.3 656.8,405.3 657.0,406.3 657.2,407.3 657.5,408.3 657.8,409.3 658.2,410.3 658.7,411.3 659.2,412.3 659.8,413.3 660.5,414.3 661.3,415.3 662.3,416.3 663.5,417.3 664.5,417.9 665.5,418.3 666.5,418.6 667.5,418.8 668.5,418.8 669.5,418.7 670.5,418.5Z"/>
<path fill-rule="evenodd" fill="#629cfa" d="M684.5,434.3 683.5,434.3 682.5,434.3 681.5,434.3 680.5,434.3 679.5,434.3 678.5,434.3 677.5,434.3 676.5,434.3 675.5,434.3 674.5,434.3 673.5,434.3 672.5,434.3 671.5,434.3 670.5,434.3 669.5,434.3 668.5,434.3 667.5,434.3 666.5,434.3 665.5,434.3 664.5,434.3 663.5,434.3 662.5,434.3 661.5,434.3 660.5,434.3 659.5,434.3 658.5,434.3 657.5,434.3 656.5,434.3 655.5,434.3 654.5,434.3 653.5,434.3 652.5,434.3 651.5,434.3 650.5,434.3 649.5,434.3 648.5,434.3 647.5,434.3 646.5,434.3 645.5,434.3 644.5,434.3 643.5,434.3 642.5,434.3 641.5,434.3 640.5,434.3 639.5,434.3 638.5,434.3 637.5,434.3 636.5,434.3 635.5,434.3 634.5,434.3 633.5,434.3 632.5,434.3 631.5,434.3 630.5,434.3 629.5,434.3 628.5,434.3 627.5,434.3 626.5,434.3 625.5,434.3 624.5,434.3 623.5,434.3 622.5,434.3 621.5,434.3 620.5,434.3 619.5,434.3 618.5,434.3 617.5,434.3 616.5,434.3 615.5,434.3 614.5,434.3 613.5,434.3 612.5,434.3 611.5,434.3 610.5,434.3 609.5,434.3 608.5,434.3 607.5,434.3 606.5,434.3 605.5,434.3 604.5,434.3 603.5,434.3 602.5,434.3 601.5,434.3 600.5,434.3 599.5,434.3 598.5,434.3 597.5,434.3 596.5,434.3 595.5,434.3 594.5,434.3 593.5,434.3 592.5,434.3 591.5,434.3 590.5,434.3 589.5,434.3 588.5,434.3 587.5,434.3 586.5,434.3 585.5,434.3 584.5,434.3 583.5,434.3 582.5,434.3 581.5,434.3 580.5,434.3 579.5,434.3 578.5,434.3 577.5,434.3 576.5,434.3 575.5,434.3 574.5,434.3 573.5,434.3 572.5,434.3 571.5,434.3 570.5,434.3 569.5,434.3 568.5,434.3 567.5,434.3 566.5,434.3 565.5,434.3 564.5,434.3 563.5,434.3 562.5,434.3 561.5,434.3 560.5,434.3 559.5,434.3 558.5,434.3 557.5,434.3 556.5,434.3 555.5,434.3 554.5,434.3 553.5,434.3 552.5,434.3 551.5,434.3 550.5,434.3 549.5,434.3 548.5,434.3 547.5,434.3 546.5,434.3 545.5,434.3 544.5,434.3 543.5,434.3 542.5,434.3 542.5,433.3 542.6,432.3 542.7,431.3 542.7,430.3 542.8,429.3 542.9,428.3 543.0,427.3 543.1,426.3 543.2,425.3 543.3,424.3 543.4,423.3 543.5,422.3 543.5,421.3 543.6,420.3 543.7,419.3 543.7,418.3 543.8,417.3 543.9,416.3 543.9,415.3 544.0,414.3 544.0,413.3 544.1,412.3 544.1,411.3 544.2,410.3 544.2,409.3 544.2,408.3 544.3,407.3 544.3,406.3 544.3,405.3 544.4,404.3 544.4,403.3 544.4,402.3 544.5,401.3 544.5,400.3 544.5,399.3 544.5,398.3 544.6,397.3 544.6,396.3 544.6,395.3 544.6,394.3 544.6,393.3 544.7,392.3 544.7,391.3 544.7,390.3 544.7,389.3 544.8,388.3 544.8,387.3 544.8,386.3 544.8,385.3 544.9,384.3 544.9,383.3 544.9,382.3 544.9,381.3 545.0,380.3 545.0,379.3 545.0,378.3 545.1,377.3 545.1,376.3 545.1,375.3 545.2,374.3 545.2,373.3 545.2,372.3 545.2,371.3 545.3,370.3 545.3,369.3 545.3,368.3 545.4,367.3 545.4,366.3 545.4,365.3 545.4,364.3 545.4,363.3 545.5,362.3 545.5,361.3 545.5,360.3 545.5,359.3 545.5,358.3 545.5,357.3 545.6,356.3 545.6,355.3 545.6,354.3 545.6,353.3 545.6,352.3 545.7,351.3 545.7,350.3 545.8,349.3 545.8,348.3 545.9,347.3 546.0,346.3 546.1,345.3 546.2,344.3 546.4,343.3 546.5,342.3 546.7,341.3 546.9,340.3 547.1,339.3 547.4,338.3 547.7,337.3 548.0,336.3 548.3,335.3 548.6,334.3 549.0,333.3 549.4,332.3 549.8,331.3 550.2,330.3 550.6,329.3 551.0,328.3 551.5,327.3 551.8,326.3 552.2,325.3 552.5,324.4 552.9,323.3 553.2,322.3 553.4,321.3 553.7,320.3 554.0,319.3 554.2,318.3 554.3,317.3 554.4,316.3 554.5,315.3 554.6,314.3 554.7,313.3 554.8,312.3 554.8,311.3 554.9,310.3 554.9,309.3 554.9,308.3 555.0,307.3 555.1,306.3 555.1,305.3 555.2,304.3 555.3,303.3 555.4,302.3 555.5,301.3 555.6,300.3 555.8,299.3 556.0,298.3 556.2,297.3 556.4,296.3 556.7,295.3 557.0,294.3 557.3,293.3 557.6,292.3 558.0,291.3 558.4,290.3 558.8,289.3 559.2,288.3 559.6,287.3 560.0,286.3 560.5,285.3 560.9,284.3 561.4,283.3 561.8,282.3 562.3,281.3 562.7,280.3 563.2,279.3 563.6,278.3 564.0,277.3 564.4,276.3 564.7,275.3 565.1,274.3 565.4,273.3 565.7,272.3 566.0,271.3 566.3,270.3 566.6,269.3 566.8,268.3 567.0,267.3 567.3,266.3 567.5,265.3 567.7,264.3 567.8,263.3 568.0,262.3 568.1,261.3 568.3,260.3 568.4,259.3 568.5,258.3 568.6,257.3 568.7,256.3 568.8,255.3 568.8,254.3 568.9,253.3 568.9,252.3 569.0,251.3 569.1,250.3 569.1,249.3 569.2,248.3 569.2,247.3 569.2,246.3 569.3,245.3 569.3,244.3 569.3,243.3 569.4,242.3 569.4,241.3 569.4,240.3 569.4,239.3 569.5,238.3 570.5,238.3 571.5,238.3 572.5,238.3 573.5,238.3 574.5,238.3 575.5,238.3 576.5,238.3 577.5,238.3 578.5,238.3 579.5,238.3 580.5,238.3 581.5,238.3 582.5,238.3 583.5,238.3 584.5,238.3 585.5,238.3 586.5,238.3 587.5,238.3 588.5,238.3 589.5,238.3 590.5,238.3 591.5,238.3 592.5,238.3 593.5,238.3 594.5,238.3 595.5,238.3 596.5,238.3 597.5,238.3 598.5,238.3 599.5,238.3 600.5,238.3 601.5,238.3 602.5,238.3 603.5,238.3 604.5,238.3 605.5,238.3 606.5,238.3 607.5,238.3 608.5,238.3 609.5,238.3 610.5,238.3 611.5,238.3 612.5,238.3 613.5,238.3 614.5,238.3 615.5,238.3 616.5,238.3 617.5,238.3 618.5,238.3 619.5,238.3 620.5,238.3 621.5,238.3 622.5,238.3 623.5,238.3 624.5,238.3 625.5,238.3 626.5,238.3 627.5,238.3 628.5,238.3 629.5,238.3 630.5,238.3 631.5,238.3 632.5,238.3 633.5,238.3 634.5,238.3 635.5,238.3 636.5,238.3 637.5,238.3 638.5,238.3 639.5,238.3 640.5,238.3 641.5,238.3 642.5,238.3 643.5,238.3 644.5,238.3 645.5,238.3 646.5,238.3 647.5,238.3 648.5,238.3 649.5,238.3 650.5,238.3 651.5,238.3 652.5,238.3 653.5,238.3 654.5,238.3 655.5,238.3 656.5,238.3 657.5,238.3 658.5,238.3 659.5,238.3 660.5,238.3 661.5,238.3 662.5,238.3 663.5,238.3 664.5,238.3 665.5,238.3 666.5,238.3 667.5,238.3 668.5,238.3 669.5,238.3 670.5,238.3 671.5,238.3 672.5,238.3 673.5,238.3 674.5,238.3 675.5,238.3 676.5,238.3 677.5,238.3 678.5,238.3 679.5,238.3 680.5,238.3 681.5,238.3 682.5,238.3 683.5,238.3 684.5,238.3 684.5,239.3 684.5,240.3 684.5,241.3 684.5,242.3 684.5,243.3 684.5,244.3 684.5,245.3 684.5,246.3 684.5,247.3 684.5,248.3 684.5,249.3 684.5,250.3 684.5,251.3 684.5,252.3 684.5,253.3 684.5,254.3 684.5,255.3 684.5,256.3 684.5,257.3 684.5,258.3 684.5,259.3 684.5,260.3 684.5,261.3 684.5,262.3 684.5,263.3 684.5,264.3 684.5,265.3 684.5,266.3 684.5,267.3 684.5,268.3 684.5,269.3 684.5,270.3 684.5,271.3 684.5,272.3 684.5,273.3 684.5,274.3 684.5,275.3 684.5,276.3 684.5,277.3 684.5,278.3 684.5,279.3 684.5,280.3 684.5,281.3 684.5,282.3 684.5,283.3 684.5,284.3 684.5,285.3 684.5,286.3 684.5,287.3 684.5,288.3 684.5,289.3 684.5,290.3 684.5,291.3 684.5,292.3 684.5,293.3 684.5,294.3 684.5,295.3 684.5,296.3 684.5,297.3 684.5,298.3 684.5,299.3 684.5,300.3 684.5,301.3 684.5,302.3 684.5,303.3 684.5,304.3 684.5,305.3 684.5,306.3 684.5,307.3 684.5,308.3 684.5,309.3 684.5,310.3 684.5,311.3 684.5,312.3 684.5,313.3 684.5,314.3 684.5,315.3 684.5,316.3 684.5,317.3 684.5,318.3 684.5,319.3 684.5,320.3 684.5,321.3 684.5,322.3 684.5,323.3 684.5,324.3 684.5,325.3 684.5,326.3 684.5,327.3 684.5,328.3 684.5,329.3 684.5,330.3 684.5,331.3 684.5,332.3 684.5,333.3 684.5,334.3 684.5,335.3 684.5,336.3 684.5,337.3 684.5,338.3 684.5,339.3 684.5,340.3 684.5,341.3 684.5,342.3 684.5,343.3 684.5,344.3 684.5,345.3 684.5,346.3 684.5,347.3 684.5,348.3 684.5,349.3 684.5,350.3 684.5,351.3 684.5,352.3 684.5,353.3 684.5,354.3 684.5,355.3 684.5,356.3 684.5,357.3 684.5,358.3 684.5,359.3 684.5,360.3 684.5,361.3 684.5,362.3 684.5,363.3 684.5,364.3 684.5,365.3 684.5,366.3 684.5,367.3 684.5,368.3 684.5,369.3 684.5,370.3 684.5,371.3 684.5,372.3 684.5,373.3 684.5,374.3 684.5,375.3 684.5,376.3 684.5,377.3 684.5,378.3 684.5,379.3 684.5,380.3 684.5,381.3 684.5,382.3 684.5,383.3 684.5,384.3 683.5,384.0 682.7,383.3 681.5,382.3 680.5,381.5 679.5,380.8 678.5,380.1 677.5,379.6 676.5,379.1 675.5,378.6 674.5,378.2 673.5,377.9 672.5,377.6 671.5,377.4 670.5,377.2 669.5,377.1 668.5,377.1 667.5,377.2 666.5,377.3 665.5,377.5 664.5,377.7 663.5,378.0 662.5,378.4 661.5,378.9 660.5,379.5 659.5,380.1 658.5,380.8 657.5,381.7 656.8,382.3 655.9,383.3 655.1,384.3 654.5,385.1 653.7,386.3 653.2,387.3 652.7,388.3 652.3,389.3 651.9,390.3 651.6,391.3 651.3,392.3 651.0,393.3 650.8,394.3 650.6,395.3 650.5,396.3 650.4,397.3 650.3,398.3 650.2,399.3 650.2,400.3 650.2,401.3 650.2,402.3 650.3,403.3 650.3,404.3 650.4,405.3 650.6,406.3 650.7,407.3 650.9,408.3 651.2,409.3 651.4,410.3 651.7,411.3 652.0,412.3 652.4,413.3 652.8,414.3 653.2,415.3 653.7,416.3 654.2,417.3 654.8,418.3 655.4,419.3 656.1,420.3 656.9,421.3 657.5,422.0 658.5,423.2 659.5,424.1 660.5,425.0 661.5,425.8 662.3,426.3 663.5,427.1 664.5,427.6 665.5,428.0 666.4,428.3 667.5,428.6 668.5,428.8 669.5,428.9 670.5,428.9 671.5,428.8 672.5,428.5 673.5,428.2 674.5,427.8 675.4,427.3 676.5,426.5 677.5,425.7 678.5,424.8 679.5,423.7 680.5,422.5 681.4,421.3 682.1,420.3 682.8,419.3 683.5,418.4 684.5,417.5 684.5,419.3 684.5,420.3 684.5,421.3 684.5,422.3 684.5,423.3 684.5,424.3 684.5,425.3 684.5,426.3 684.5,427.3 684.5,428.3 684.5,429.3 684.5,430.3 684.5,431.3 684.5,432.3 684.5,433.3 684.5,434.3Z"/>
<path fill-rule="evenodd" fill="#3280f7" d="M658.5,434.3 657.5,434.3 656.5,434.3 655.5,434.3 654.5,434.3 653.5,434.3 652.5,434.3 651.5,434.3 650.5,434.3 649.5,434.3 648.5,434.3 647.5,434.3 646.5,434.3 645.5,434.3 644.5,434.3 643.5,434.3 642.5,434.3 641.5,434.3 640.5,434.3 639.5,434.3 638.5,434.3 637.5,434.3 636.5,434.3 635.5,434.3 634.5,434.3 633.5,434.3 632.5,434.3 631.5,434.3 630.5,434.3 629.5,434.3 628.5,434.3 627.5,434.3 626.5,434.3 625.5,434.3 624.5,434.3 623.5,434.3 622.5,434.3 621.5,434.3 620.5,434.3 619.5,434.3 618.5,434.3 617.5,434.3 616.5,434.3 615.5,434.3 614.5,434.3 613.5,434.3 612.5,434.3 611.5,434.3 610.5,434.3 609.5,434.3 608.5,434.3 607.5,434.3 606.5,434.3 605.5,434.3 604.5,434.3 603.5,434.3 602.5,434.3 601.5,434.3 600.5,434.3 599.5,434.3 598.5,434.3 597.5,434.3 596.5,434.3 595.5,434.3 594.5,434.3 593.5,434.3 592.5,434.3 591.5,434.3 590.5,434.3 589.5,434.3 588.5,434.3 587.5,434.3 586.5,434.3 585.5,434.3 584.5,434.3 583.5,434.3 582.5,434.3 581.5,434.3 580.5,434.3 579.5,434.3 578.5,434.3 577.5,434.3 576.5,434.3 575.5,434.3 574.5,434.3 573.5,434.3 572.5,434.3 571.5,434.3 570.5,434.3 569.5,434.3 568.5,434.3 567.5,434.3 566.5,434.3 565.5,434.3 564.5,434.3 563.5,434.3 562.5,434.3 561.5,434.3 560.5,434.3 559.5,434.3 558.5,434.3 557.5,434.3 556.5,434.3 555.5,434.3 554.5,434.3 553.5,434.3 552.5,434.3 551.5,434.3 550.5,434.3 549.5,434.3 548.5,434.3 547.5,434.3 546.5,434.3 545.8,433.3 545.9,432.3 546.0,431.3 546.0,430.3 546.1,429.3 546.2,428.3 546.2,427.3 546.3,426.3 546.4,425.3 546.5,424.3 546.6,423.3 546.6,422.3 546.7,421.3 546.8,420.3 546.9,419.3 547.0,418.3 547.0,417.3 547.1,416.3 547.2,415.3 547.2,414.3 547.3,413.3 547.3,412.3 547.4,411.3 547.4,410.3 547.5,409.3 547.5,408.3 547.6,407.3 547.6,406.3 547.6,405.3 547.7,404.3 547.7,403.3 547.8,402.3 547.8,401.3 547.8,400.3 547.9,399.3 547.9,398.3 547.9,397.3 548.0,396.3 548.0,395.3 548.0,394.3 548.1,393.3 548.1,392.3 548.1,391.3 548.1,390.3 548.2,389.3 548.2,388.3 548.2,387.3 548.3,386.3 548.3,385.3 548.3,384.3 548.4,383.3 548.4,382.3 548.4,381.3 548.5,380.3 548.5,379.3 548.5,378.3 548.5,377.3 548.6,376.3 548.6,375.3 548.6,374.3 548.6,373.3 548.7,372.3 548.7,371.3 548.7,370.3 548.7,369.3 548.7,368.3 548.7,367.3 548.7,366.3 548.7,365.3 548.6,364.3 548.6,363.3 548.6,362.3 548.6,361.3 548.5,360.3 548.5,359.3 548.5,358.3 548.5,357.3 548.4,356.3 548.4,355.3 548.4,354.3 548.4,353.3 548.4,352.3 548.4,351.3 548.5,350.3 548.5,349.3 548.6,348.3 548.7,347.3 548.8,346.3 548.9,345.3 549.1,344.3 549.2,343.3 549.4,342.3 549.7,341.3 549.9,340.3 550.2,339.3 550.5,338.3 550.8,337.3 551.2,336.3 551.5,335.3 551.9,334.3 552.2,333.3 552.6,332.3 553.0,331.3 553.4,330.3 553.9,329.3 554.4,328.3 555.1,327.3 556.3,326.3 557.5,325.5 558.5,324.9 559.4,324.3 560.5,323.3 561.1,322.3 561.5,321.4 561.7,320.3 561.8,319.3 561.9,318.3 561.8,317.3 561.8,316.3 561.7,315.3 561.7,314.3 561.7,313.3 561.6,312.3 561.6,311.3 561.6,310.3 561.7,309.3 561.8,308.3 561.9,307.3 562.0,306.3 562.2,305.3 562.4,304.3 562.6,303.3 562.9,302.3 563.2,301.3 563.5,300.3 563.9,299.3 564.3,298.3 564.8,297.3 565.3,296.3 565.9,295.3 566.5,294.3 567.2,293.3 567.9,292.3 568.5,291.5 569.3,290.3 569.8,289.3 570.2,288.3 570.6,287.3 570.8,286.3 571.1,285.3 571.3,284.3 571.5,283.3 571.7,282.3 571.8,281.3 571.9,280.3 572.1,279.3 572.2,278.3 572.3,277.3 572.4,276.3 572.5,275.3 572.6,274.3 572.7,273.3 572.7,272.3 572.8,271.3 572.9,270.3 573.0,269.3 573.0,268.3 573.1,267.3 573.1,266.3 573.2,265.3 573.2,264.3 573.3,263.3 573.3,262.3 573.3,261.3 573.4,260.3 573.4,259.3 573.4,258.3 573.5,257.3 573.5,256.3 573.5,255.3 573.5,254.3 573.6,253.3 573.6,252.3 573.6,251.3 573.6,250.3 573.7,249.3 573.7,248.3 573.7,247.3 573.7,246.3 573.7,245.3 573.7,244.3 573.8,243.3 573.8,242.3 573.8,241.3 573.8,240.3 573.8,239.3 573.8,238.3 575.5,238.3 576.5,238.3 577.5,238.3 578.5,238.3 579.5,238.3 580.5,238.3 581.5,238.3 582.5,238.3 583.5,238.3 584.5,238.3 585.5,238.3 586.5,238.3 587.5,238.3 588.5,238.3 589.5,238.3 590.5,238.3 591.5,238.3 592.5,238.3 593.5,238.3 594.5,238.3 595.5,238.3 596.5,238.3 597.5,238.3 598.5,238.3 599.5,238.3 600.5,238.3 601.5,238.3 602.5,238.3 603.5,238.3 604.5,238.3 605.5,238.3 606.5,238.3 607.5,238.3 608.5,238.3 609.5,238.3 610.5,238.3 611.5,238.3 612.5,238.3 613.5,238.3 614.5,238.3 615.5,238.3 616.5,238.3 617.5,238.3 618.5,238.3 619.5,238.3 620.5,238.3 621.5,238.3 622.5,238.3 623.5,238.3 624.5,238.3 625.5,238.3 626.5,238.3 627.5,238.3 628.5,238.3 629.5,238.3 630.5,238.3 631.5,238.3 632.5,238.3 633.5,238.3 634.5,238.3 635.5,238.3 636.5,238.3 637.5,238.3 638.5,238.3 639.5,238.3 640.5,238.3 641.5,238.3 642.5,238.3 643.5,238.3 644.5,238.3 645.5,238.3 646.5,238.3 647.5,238.3 648.5,238.3 649.5,238.3 650.5,238.3 651.5,238.3 652.5,238.3 653.5,238.3 654.5,238.3 655.5,238.3 656.5,238.3 657.5,238.3 658.5,238.3 659.5,238.3 660.5,238.3 661.5,238.3 662.5,238.3 663.5,238.3 664.5,238.3 665.5,238.3 666.5,238.3 667.5,238.3 668.5,238.3 669.5,238.3 670.5,238.3 671.5,238.3 672.5,238.3 673.5,238.3 674.5,238.3 675.5,238.3 676.5,238.3 677.5,238.3 678.5,238.3 679.5,238.3 680.5,238.3 681.5,238.3 682.5,238.3 683.5,238.3 684.5,238.3 684.5,239.3 684.5,240.3 684.5,241.3 684.5,242.3 684.5,243.3 684.5,244.3 684.5,245.3 684.5,246.3 684.5,247.3 684.5,248.3 684.5,249.3 684.5,250.3 684.5,251.3 684.5,252.3 684.5,253.3 684.5,254.3 684.5,255.3 684.5,256.3 684.5,257.3 684.5,258.3 684.5,259.3 684.5,260.3 684.5,261.3 684.5,262.3 684.5,263.3 684.5,264.3 684.5,265.3 684.5,266.3 684.5,267.3 684.5,268.3 684.5,269.3 684.5,270.3 684.5,271.3 684.5,272.3 684.5,273.3 684.5,274.3 684.5,275.3 684.5,276.3 684.5,277.3 684.5,278.3 684.5,279.3 684.5,280.3 684.5,281.3 684.5,282.3 684.5,283.3 684.5,284.3 684.5,285.3 684.5,286.3 684.5,287.3 684.5,288.3 684.5,289.3 684.5,290.3 684.5,291.3 684.5,292.3 684.5,293.3 684.5,294.3 684.5,295.3 684.5,296.3 684.5,297.3 684.5,298.3 684.5,299.3 684.5,300.3 684.5,301.3 684.5,302.3 684.5,303.3 684.5,304.3 684.5,305.3 684.5,306.3 684.5,307.3 684.5,308.3 684.5,309.3 684.5,310.3 684.5,311.3 684.5,312.3 684.5,313.3 684.5,314.3 684.5,315.3 684.5,316.3 684.5,317.3 684.5,318.3 684.5,319.3 684.5,320.3 684.5,321.3 684.5,322.3 684.5,323.3 684.5,324.3 684.5,325.3 684.5,326.3 684.5,327.3 684.5,328.3 684.5,329.3 684.5,330.3 684.5,331.3 684.5,332.3 684.5,333.3 684.5,334.3 684.5,335.3 684.5,336.3 684.5,337.3 684.5,338.3 684.5,339.3 684.5,340.3 684.5,341.3 684.5,342.3 684.5,343.3 684.5,344.3 684.5,345.3 684.5,346.3 684.5,347.3 684.5,348.3 684.5,349.3 684.5,350.3 684.5,351.3 684.5,352.3 684.5,353.3 684.5,354.3 684.5,355.3 684.5,356.3 684.5,357.3 684.5,358.3 684.5,359.3 684.5,360.3 684.5,361.3 684.5,362.3 684.5,363.3 684.5,364.3 684.5,365.3 684.5,366.3 684.5,367.3 684.5,368.3 684.5,369.3 684.5,370.3 684.5,371.3 684.5,372.3 684.5,373.3 684.5,374.3 684.5,375.3 684.5,376.3 683.5,376.6 682.5,376.1 681.5,375.6 680.5,375.1 679.5,374.6 678.5,374.1 677.5,373.7 676.5,373.2 675.5,372.8 674.5,372.4 673.5,372.0 672.5,371.7 671.5,371.5 670.5,371.3 669.5,371.1 668.5,371.0 667.5,371.0 666.5,371.0 665.5,371.1 664.5,371.3 663.5,371.5 662.5,371.8 661.5,372.2 660.5,372.6 659.5,373.0 658.5,373.5 657.5,374.1 656.5,374.7 655.6,375.3 654.5,376.1 653.5,376.9 652.5,377.8 651.5,378.7 650.5,379.8 649.5,381.1 648.7,382.3 648.1,383.3 647.5,384.3 647.1,385.3 646.6,386.3 646.3,387.3 645.9,388.3 645.7,389.3 645.4,390.3 645.2,391.3 645.0,392.3 644.8,393.3 644.7,394.3 644.6,395.3 644.5,396.3 644.4,397.3 644.4,398.3 644.3,399.3 644.3,400.3 644.3,401.3 644.4,402.3 644.4,403.3 644.5,404.3 644.6,405.3 644.7,406.3 644.8,407.3 645.0,408.3 645.2,409.3 645.4,410.3 645.6,411.3 645.8,412.3 646.1,413.3 646.4,414.3 646.7,415.3 647.1,416.3 647.5,417.3 647.9,418.3 648.3,419.3 648.8,420.3 649.3,421.3 649.8,422.3 650.4,423.3 651.0,424.3 651.7,425.3 652.4,426.3 653.1,427.3 653.9,428.3 654.5,429.0 655.5,430.1 656.5,431.2 657.5,432.1 658.5,433.1 659.4,434.3 658.5,434.3Z"/>
<path fill-rule="evenodd" fill="#208be8" d="M648.5,434.3 647.5,434.3 646.5,434.3 645.5,434.3 644.5,434.3 643.5,434.3 642.5,434.3 641.5,434.3 640.5,434.3 639.5,434.3 638.5,434.3 637.5,434.3 636.5,434.3 635.5,434.3 634.5,434.3 633.5,434.3 632.5,434.3 631.5,434.3 630.5,434.3 629.5,434.3 628.5,434.3 627.5,434.3 626.5,434.3 625.5,434.3 624.5,434.3 623.5,434.3 622.5,434.3 621.5,434.3 620.5,434.3 619.5,434.3 618.5,434.3 617.5,434.3 616.5,434.3 615.5,434.3 614.5,434.3 613.5,434.3 612.5,434.3 611.5,434.3 610.5,434.3 609.5,434.3 608.5,434.3 607.5,434.3 606.5,434.3 605.5,434.3 604.5,434.3 603.5,434.3 602.5,434.3 601.5,434.3 600.5,434.3 599.5,434.3 598.5,434.3 597.5,434.3 596.5,434.3 595.5,434.3 594.5,434.3 593.5,434.3 592.5,434.3 591.5,434.3 590.5,434.3 589.5,434.3 588.5,434.3 587.5,434.3 586.5,434.3 585.5,434.3 584.5,434.3 583.5,434.3 582.5,434.3 581.5,434.3 580.5,434.3 579.5,434.3 578.5,434.3 577.5,434.3 576.5,434.3 575.5,434.3 574.5,434.3 573.5,434.3 572.5,434.3 571.5,434.3 570.5,434.3 569.5,434.3 568.5,434.3 567.5,434.3 566.5,434.3 565.5,434.3 564.5,434.3 563.5,434.3 562.5,434.3 561.5,434.3 560.5,434.3 559.5,434.3 558.5,434.3 557.5,434.3 556.5,434.3 555.5,434.3 554.5,434.3 553.5,434.3 552.5,434.3 551.5,434.3 550.5,434.3 549.5,434.3 548.5,434.3 548.2,433.3 548.3,432.3 548.4,431.3 548.5,430.3 548.7,429.3 548.8,428.3 548.9,427.3 549.1,426.3 549.2,425.3 549.4,424.3 549.5,423.3 549.6,422.3 549.8,421.3 549.9,420.3 550.1,419.3 550.2,418.3 550.3,417.3 550.4,416.3 550.6,415.3 550.7,414.3 550.8,413.3 550.8,412.3 550.9,411.3 551.0,410.3 551.1,409.3 551.1,408.3 551.2,407.3 551.2,406.3 551.3,405.3 551.3,404.3 551.4,403.3 551.4,402.3 551.5,401.3 551.5,400.3 551.5,399.3 551.6,398.3 551.6,397.3 551.6,396.3 551.6,395.3 551.7,394.3 551.7,393.3 551.7,392.3 551.7,391.3 551.8,390.3 551.8,389.3 551.8,388.3 551.8,387.3 551.8,386.3 551.8,385.3 551.9,384.3 551.9,383.3 551.9,382.3 551.9,381.3 551.9,380.3 551.9,379.3 551.9,378.3 551.9,377.3 551.9,376.3 551.9,375.3 551.9,374.3 551.9,373.3 551.8,372.3 551.8,371.3 551.8,370.3 551.7,369.3 551.7,368.3 551.6,367.3 551.6,366.3 551.5,365.3 551.4,364.3 551.3,363.3 551.3,362.3 551.2,361.3 551.1,360.3 551.0,359.3 551.0,358.3 550.9,357.3 550.8,356.3 550.8,355.3 550.7,354.3 550.7,353.3 550.7,352.3 550.7,351.3 550.7,350.3 550.8,349.3 550.8,348.3 550.9,347.3 551.0,346.3 551.1,345.3 551.3,344.3 551.5,343.3 551.7,342.3 551.9,341.3 552.2,340.3 552.4,339.3 552.7,338.3 553.1,337.3 553.4,336.3 553.8,335.3 554.3,334.3 555.0,333.3 555.9,332.3 557.3,331.3 558.5,330.7 559.4,330.3 560.5,329.9 561.5,329.6 562.4,329.3 563.5,328.9 564.5,328.6 565.5,328.1 566.5,327.3 567.2,326.3 567.6,325.3 567.7,324.3 567.7,323.3 567.6,322.3 567.5,321.3 567.4,320.3 567.2,319.3 567.1,318.3 566.9,317.3 566.8,316.3 566.7,315.3 566.6,314.3 566.6,313.3 566.6,312.3 566.6,311.3 566.6,310.3 566.7,309.3 566.9,308.3 567.0,307.3 567.2,306.3 567.5,305.3 567.8,304.3 568.1,303.3 568.5,302.4 568.9,301.3 569.4,300.3 569.8,299.3 570.2,298.3 570.6,297.3 571.0,296.3 571.4,295.3 571.7,294.3 572.0,293.3 572.3,292.3 572.6,291.3 573.0,290.3 573.3,289.3 573.6,288.3 573.9,287.3 574.3,286.3 574.7,285.3 575.1,284.3 575.5,283.3 575.9,282.3 576.2,281.3 576.6,280.3 576.9,279.3 577.2,278.3 577.5,277.3 577.8,276.3 578.0,275.3 578.2,274.3 578.4,273.3 578.6,272.3 578.8,271.3 579.0,270.3 579.1,269.3 579.3,268.3 579.4,267.3 579.5,266.3 579.6,265.3 579.7,264.3 579.8,263.3 579.9,262.3 580.0,261.3 580.0,260.3 580.1,259.3 580.2,258.3 580.2,257.3 580.3,256.3 580.3,255.3 580.4,254.3 580.4,253.3 580.4,252.3 580.5,251.3 580.5,250.3 580.5,249.3 580.6,248.3 580.6,247.3 580.6,246.3 580.6,245.3 580.6,244.3 580.7,243.3 580.7,242.3 580.7,241.3 580.7,240.3 580.7,239.3 580.7,238.3 582.5,238.3 583.5,238.3 584.5,238.3 585.5,238.3 586.5,238.3 587.5,238.3 588.5,238.3 589.5,238.3 590.5,238.3 591.5,238.3 592.5,238.3 593.5,238.3 594.5,238.3 595.5,238.3 596.5,238.3 597.5,238.3 598.5,238.3 599.5,238.3 600.5,238.3 601.5,238.3 602.5,238.3 603.5,238.3 604.5,238.3 605.5,238.3 606.5,238.3 607.5,238.3 608.5,238.3 609.5,238.3 610.5,238.3 611.5,238.3 612.5,238.3 613.5,238.3 614.5,238.3 615.5,238.3 616.5,238.3 617.5,238.3 618.5,238.3 619.5,238.3 620.5,238.3 621.5,238.3 622.5,238.3 623.5,238.3 624.5,238.3 625.5,238.3 626.5,238.3 627.5,238.3 628.5,238.3 629.5,238.3 630.5,238.3 631.5,238.3 632.5,238.3 633.5,238.3 634.5,238.3 635.5,238.3 636.5,238.3 637.5,238.3 638.5,238.3 639.5,238.3 640.5,238.3 641.5,238.3 642.5,238.3 642.6,239.3 642.6,240.3 642.6,241.3 642.6,242.3 642.6,243.3 642.6,244.3 642.7,245.3 642.7,246.3 642.7,247.3 642.7,248.3 642.8,249.3 642.8,250.3 642.8,251.3 642.9,252.3 643.0,253.3 643.0,254.3 643.1,255.3 643.2,256.3 643.3,257.3 643.4,258.3 643.5,259.3 643.7,260.3 643.9,261.3 644.0,262.3 644.3,263.3 644.5,264.3 644.8,265.3 645.0,266.3 645.4,267.3 645.7,268.3 646.2,269.3 646.7,270.3 647.3,271.3 648.2,272.3 649.5,273.2 650.5,273.8 651.5,274.3 652.5,274.8 653.5,275.3 654.5,275.8 655.5,276.3 656.5,276.8 657.5,277.3 658.5,277.6 659.5,277.6 660.5,277.2 661.5,276.4 662.5,275.5 663.5,274.5 664.5,273.6 665.5,272.7 666.5,271.8 667.5,270.8 668.5,269.9 669.2,269.3 670.2,268.3 671.3,267.3 672.2,266.3 673.0,265.3 673.7,264.3 674.3,263.3 674.8,262.3 675.3,261.3 675.8,260.3 676.3,259.3 676.7,258.3 677.1,257.3 677.4,256.3 677.7,255.3 678.0,254.3 678.3,253.3 678.6,252.3 678.8,251.3 679.0,250.3 679.2,249.3 679.3,248.3 679.5,247.3 679.6,246.3 679.7,245.3 679.8,244.3 679.9,243.3 680.0,242.3 680.0,241.3 680.1,240.3 680.1,239.3 680.2,238.3 681.5,238.3 682.5,238.3 683.5,238.3 684.5,238.3 684.5,239.3 684.5,240.3 684.5,241.3 684.5,242.3 684.5,243.3 684.5,244.3 684.5,245.3 684.5,246.3 684.5,247.3 684.5,248.3 684.5,249.3 684.5,250.3 684.5,251.3 684.5,252.3 684.5,253.3 684.5,254.3 684.5,255.3 684.5,256.3 684.5,257.3 684.5,258.3 684.5,259.3 684.5,260.3 684.5,261.3 684.5,262.3 684.5,263.3 684.5,264.3 684.5,265.3 684.5,266.3 684.5,267.3 684.5,268.3 684.5,269.3 684.5,270.3 684.5,271.3 684.5,272.3 684.5,273.3 684.5,274.3 684.5,275.3 684.5,276.3 684.5,277.3 684.5,278.3 684.5,279.3 684.5,280.3 684.5,281.3 684.5,282.3 684.5,283.3 684.5,284.3 684.5,285.3 684.5,286.3 684.5,287.3 684.5,288.3 684.5,289.3 684.5,290.3 684.5,291.3 684.5,292.3 684.5,293.3 684.5,294.3 684.5,295.3 684.5,296.3 684.5,297.3 684.5,298.3 684.5,299.3 684.5,300.3 684.5,301.3 684.5,302.3 684.5,303.3 684.5,304.3 684.5,305.3 684.5,306.3 684.5,307.3 684.5,308.3 684.5,309.3 684.5,310.3 684.5,311.3 684.5,312.3 684.5,313.3 684.5,314.3 684.5,315.3 684.5,316.3 684.5,317.3 684.5,318.3 684.5,319.3 684.5,320.3 684.5,321.3 684.5,322.3 684.5,323.3 684.5,324.3 684.5,325.3 684.5,326.3 684.5,327.3 684.5,328.3 684.5,329.3 684.5,330.3 684.5,331.3 684.5,332.3 684.5,333.3 684.5,334.3 684.5,335.3 684.5,336.3 684.5,337.3 684.5,338.3 684.5,339.3 684.5,340.3 684.5,341.3 684.5,342.3 684.5,343.3 684.5,344.3 684.5,345.3 684.5,346.3 684.5,347.3 684.5,348.3 684.5,349.3 684.5,350.3 684.5,351.3 684.5,352.3 684.5,353.3 684.5,354.3 684.5,355.3 684.5,356.3 684.5,357.3 684.5,358.3 684.5,359.3 684.5,360.3 684.5,361.3 684.5,362.3 684.5,363.3 684.5,364.3 684.5,365.3 684.5,366.3 684.5,367.3 684.5,368.3 684.5,369.3 684.5,370.3 684.5,371.3 684.5,372.3 683.5,372.4 682.5,372.0 681.5,371.6 680.5,371.1 679.5,370.6 678.5,370.2 677.5,369.7 676.5,369.2 675.5,368.7 674.6,368.3 673.5,367.8 672.5,367.4 671.5,367.0 670.5,366.6 669.5,366.3 668.5,366.1 667.5,365.9 666.5,365.8 665.5,365.8 664.5,365.9 663.5,366.1 662.5,366.3 661.5,366.6 660.5,367.0 659.5,367.4 658.5,367.9 657.7,368.3 656.5,368.9 655.5,369.5 654.5,370.1 653.5,370.7 652.6,371.3 651.5,372.0 650.5,372.8 649.8,373.3 648.5,374.3 647.5,375.1 646.5,376.1 645.5,377.1 644.5,378.3 643.8,379.3 643.1,380.3 642.5,381.3 642.1,382.3 641.6,383.3 641.3,384.3 640.9,385.3 640.6,386.3 640.4,387.3 640.2,388.3 640.0,389.3 639.8,390.3 639.7,391.3 639.6,392.3 639.5,393.2 639.4,394.3 639.3,395.3 639.3,396.3 639.3,397.3 639.2,398.3 639.2,399.3 639.2,400.3 639.2,401.3 639.3,402.3 639.3,403.3 639.3,404.3 639.4,405.3 639.5,406.3 639.6,407.3 639.7,408.3 639.8,409.3 640.0,410.3 640.2,411.3 640.3,412.3 640.5,413.3 640.8,414.3 641.0,415.3 641.3,416.3 641.6,417.3 641.9,418.3 642.2,419.3 642.5,420.3 642.9,421.3 643.2,422.3 643.6,423.3 644.1,424.3 644.5,425.3 644.9,426.3 645.4,427.3 645.9,428.3 646.4,429.3 646.9,430.3 647.4,431.3 648.0,432.3 648.5,433.3 648.8,434.3Z"/>
<path fill-rule="evenodd" fill="#129bdc" d="M638.5,434.3 637.5,434.3 636.5,434.3 635.5,434.3 634.5,434.3 633.5,434.3 632.5,434.3 631.5,434.3 630.5,434.3 629.5,434.3 628.5,434.3 627.5,434.3 626.5,434.3 625.5,434.3 624.5,434.3 623.5,434.3 622.5,434.3 621.5,434.3 620.5,434.3 619.5,434.3 618.5,434.3 617.5,434.3 616.5,434.3 615.5,434.3 614.5,434.3 613.5,434.3 612.5,434.3 611.5,434.3 610.5,434.3 609.5,434.3 608.5,434.3 607.5,434.3 606.5,434.3 605.5,434.3 604.5,434.3 603.5,434.3 602.5,434.3 601.5,434.3 600.5,434.3 599.5,434.3 598.5,434.3 597.5,434.3 596.5,434.3 595.5,434.3 594.5,434.3 593.5,434.3 592.5,434.3 591.5,434.3 590.5,434.3 589.5,434.3 588.5,434.3 587.5,434.3 586.5,434.3 585.5,434.3 584.5,434.3 583.5,434.3 582.5,434.3 581.5,434.3 580.5,434.3 579.5,434.3 578.5,434.3 577.5,434.3 576.5,434.3 575.5,434.3 574.5,434.3 573.5,434.3 572.5,434.3 571.5,434.3 570.5,434.3 569.5,434.3 568.5,434.3 567.5,434.3 566.5,434.3 565.5,434.3 564.5,434.3 563.5,434.3 562.5,434.3 561.5,434.3 560.5,434.3 559.5,434.3 558.5,434.3 557.5,434.3 556.5,434.3 555.5,434.3 554.5,434.3 553.5,434.3 552.5,434.3 551.5,434.3 551.1,433.3 551.2,432.3 551.3,431.3 551.5,430.3 551.6,429.3 551.8,428.3 551.9,427.3 552.1,426.3 552.3,425.3 552.4,424.3 552.6,423.3 552.8,422.3 552.9,421.3 553.1,420.3 553.2,419.3 553.4,418.3 553.5,417.3 553.7,416.3 553.8,415.3 553.9,414.3 554.1,413.3 554.2,412.3 554.3,411.3 554.4,410.3 554.5,409.3 554.6,408.3 554.6,407.3 554.7,406.3 554.8,405.3 554.8,404.3 554.9,403.3 555.0,402.3 555.0,401.3 555.0,400.3 555.1,399.3 555.1,398.3 555.1,397.3 555.2,396.3 555.2,395.3 555.2,394.3 555.2,393.3 555.2,392.3 555.3,391.3 555.3,390.3 555.3,389.3 555.3,388.3 555.3,387.3 555.3,386.3 555.3,385.3 555.3,384.3 555.3,383.3 555.3,382.3 555.2,381.3 555.2,380.3 555.2,379.3 555.1,378.3 555.1,377.3 555.0,376.3 554.9,375.3 554.9,374.3 554.8,373.3 554.7,372.3 554.6,371.3 554.4,370.3 554.3,369.3 554.2,368.3 554.1,367.3 554.0,366.3 553.8,365.3 553.7,364.3 553.6,363.3 553.5,362.3 553.3,361.3 553.2,360.3 553.1,359.3 553.0,358.3 552.9,357.3 552.8,356.3 552.7,355.3 552.7,354.3 552.6,353.3 552.6,352.3 552.6,351.3 552.6,350.3 552.7,349.3 552.7,348.3 552.8,347.3 552.9,346.3 553.0,345.3 553.2,344.3 553.4,343.3 553.6,342.3 553.9,341.3 554.3,340.3 554.7,339.3 555.2,338.3 555.9,337.3 556.9,336.3 558.2,335.3 559.5,334.5 560.5,334.1 561.5,333.7 562.5,333.4 563.5,333.2 564.5,333.0 565.5,332.8 566.5,332.6 567.5,332.5 568.5,332.3 569.5,331.9 570.3,331.3 571.0,330.3 571.3,329.3 571.5,328.3 571.6,327.3 571.6,326.3 571.5,325.3 571.4,324.3 571.3,323.3 571.1,322.3 571.0,321.3 570.8,320.3 570.7,319.3 570.6,318.3 570.5,317.3 570.4,316.3 570.3,315.3 570.3,314.3 570.3,313.3 570.3,312.3 570.3,311.3 570.4,310.3 570.5,309.3 570.6,308.3 570.7,307.3 570.9,306.3 571.1,305.3 571.3,304.3 571.6,303.3 571.8,302.3 572.1,301.3 572.4,300.3 572.7,299.3 573.1,298.3 573.5,297.3 574.0,296.3 574.5,295.4 575.3,294.3 576.2,293.3 577.1,292.3 578.1,291.3 579.2,290.3 580.2,289.3 581.2,288.3 582.3,287.3 583.5,286.3 584.5,285.6 585.5,284.9 586.2,284.3 587.3,283.3 588.2,282.3 589.1,281.3 589.9,280.3 590.5,279.5 591.3,278.3 592.0,277.3 592.5,276.5 593.2,275.3 593.8,274.3 594.4,273.3 595.0,272.3 595.5,271.5 596.2,270.3 596.8,269.3 597.5,268.3 598.4,267.3 599.4,266.3 600.5,265.4 601.5,264.5 602.5,263.6 603.5,262.8 604.5,261.9 605.5,261.0 606.3,260.3 607.5,259.4 608.5,258.9 609.5,258.9 610.5,259.1 611.5,259.4 612.5,259.8 613.5,260.1 614.5,260.5 615.5,260.9 616.5,261.2 617.5,261.6 618.5,261.9 619.5,262.3 620.5,262.7 621.5,263.1 622.5,263.5 623.5,264.1 624.5,264.8 625.2,265.3 626.5,266.2 627.5,266.9 628.5,267.6 629.5,268.3 630.5,269.0 631.5,269.7 632.3,270.3 633.5,271.1 634.5,271.8 635.5,272.6 636.4,273.3 637.4,274.3 638.2,275.3 639.0,276.3 639.7,277.3 640.5,278.2 641.4,279.3 642.3,280.3 643.3,281.3 644.3,282.3 645.3,283.3 646.4,284.3 647.5,285.2 648.5,285.8 649.4,286.3 650.5,286.9 651.4,287.3 652.5,287.9 653.4,288.3 654.5,288.9 655.4,289.3 656.5,289.9 657.4,290.3 658.5,290.7 659.5,290.7 660.5,290.3 661.5,289.5 662.5,288.6 663.5,287.7 664.5,286.8 665.5,285.9 666.5,284.9 667.2,284.3 668.3,283.3 669.4,282.3 670.4,281.3 671.5,280.3 672.5,279.4 673.5,278.5 674.5,277.6 675.5,276.6 676.5,275.7 677.5,274.7 678.5,273.7 679.5,272.7 680.5,271.7 681.5,270.7 682.5,269.6 683.5,268.7 684.5,268.1 684.5,269.3 684.5,270.3 684.5,271.3 684.5,272.3 684.5,273.3 684.5,274.3 684.5,275.3 684.5,276.3 684.5,277.3 684.5,278.3 684.5,279.3 684.5,280.3 684.5,281.3 684.5,282.3 684.5,283.3 684.5,284.3 684.5,285.3 684.5,286.3 684.5,287.3 684.5,288.3 684.5,289.3 684.5,290.3 684.5,291.3 684.5,292.3 684.5,293.3 684.5,294.3 684.5,295.3 684.5,296.3 684.5,297.3 684.5,298.3 684.5,299.3 684.5,300.3 684.5,301.3 684.5,302.3 684.5,303.3 684.5,304.3 684.5,305.3 684.5,306.3 684.5,307.3 684.5,308.3 684.5,309.3 684.5,310.3 684.5,311.3 684.5,312.3 684.5,313.3 684.5,314.3 684.5,315.3 684.5,316.3 684.5,317.3 684.5,318.3 684.5,319.3 684.5,320.3 684.5,321.3 684.5,322.3 684.5,323.3 684.5,324.3 684.5,325.3 684.5,326.3 684.5,327.3 684.5,328.3 684.5,329.3 684.5,330.3 684.5,331.3 684.5,332.3 684.5,333.3 684.5,334.3 684.5,335.3 684.5,336.3 684.5,337.3 684.5,338.3 684.5,339.3 684.5,340.3 684.5,341.3 684.5,342.3 684.5,343.3 684.5,344.3 684.5,345.3 684.5,346.3 684.5,347.3 684.5,348.3 684.5,349.3 684.5,350.3 684.5,351.3 684.5,352.3 684.5,353.3 684.5,354.3 684.5,355.3 684.5,356.3 684.5,357.3 684.5,358.3 684.5,359.3 684.5,360.3 684.5,361.3 684.5,362.3 684.5,363.3 684.5,364.3 684.5,365.3 684.5,366.3 684.5,367.3 684.5,368.3 684.5,369.3 683.5,369.1 682.5,368.7 681.5,368.3 680.5,367.9 679.5,367.4 678.5,366.8 677.5,366.3 676.5,365.7 675.5,365.1 674.5,364.5 673.5,363.9 672.6,363.3 671.5,362.6 670.5,362.0 669.5,361.5 668.5,361.0 667.5,360.6 666.6,360.3 665.5,360.0 664.5,359.9 663.5,360.0 662.5,360.1 661.5,360.3 660.5,360.7 659.5,361.1 658.5,361.7 657.5,362.2 656.5,362.9 655.5,363.5 654.5,364.2 653.5,364.8 652.5,365.5 651.5,366.1 650.5,366.8 649.7,367.3 648.5,368.1 647.5,368.7 646.5,369.3 645.5,370.0 644.5,370.6 643.5,371.2 642.5,371.9 641.5,372.7 640.7,373.3 639.5,374.3 638.6,375.3 637.7,376.3 637.1,377.3 636.5,378.3 636.0,379.3 635.6,380.3 635.3,381.3 635.0,382.3 634.8,383.3 634.7,384.3 634.5,385.3 634.4,386.3 634.3,387.3 634.2,388.3 634.1,389.3 634.0,390.3 634.0,391.3 633.9,392.3 633.9,393.3 633.9,394.3 633.8,395.3 633.8,396.3 633.7,397.3 633.7,398.3 633.7,399.3 633.7,400.3 633.6,401.3 633.6,402.3 633.6,403.3 633.6,404.3 633.6,405.3 633.7,406.3 633.7,407.3 633.7,408.3 633.8,409.3 633.9,410.3 634.0,411.3 634.1,412.3 634.2,413.3 634.3,414.3 634.5,415.3 634.7,416.3 634.9,417.3 635.1,418.3 635.3,419.3 635.5,420.3 635.8,421.3 636.0,422.3 636.3,423.3 636.6,424.3 636.9,425.3 637.2,426.3 637.4,427.3 637.7,428.3 638.0,429.3 638.3,430.3 638.5,431.3 638.8,432.3 639.0,433.3 639.2,434.3Z"/>
<path fill-rule="evenodd" fill="#08acd0" d="M631.5,434.3 630.5,434.3 629.5,434.3 628.5,434.3 627.5,434.3 626.5,434.3 625.5,434.3 624.5,434.3 623.5,434.3 622.5,434.3 621.5,434.3 620.5,434.3 619.5,434.3 618.5,434.3 617.5,434.3 616.5,434.3 615.5,434.3 614.5,434.3 613.5,434.3 612.5,434.3 611.5,434.3 610.5,434.3 609.5,434.3 608.5,434.3 607.5,434.3 606.5,434.3 605.5,434.3 604.5,434.3 603.5,434.3 602.5,434.3 601.5,434.3 600.5,434.3 599.5,434.3 598.5,434.3 597.5,434.3 596.5,434.3 595.5,434.3 594.5,434.3 593.5,434.3 592.5,434.3 591.5,434.3 590.5,434.3 589.5,434.3 588.5,434.3 587.5,434.3 586.5,434.3 585.5,434.3 584.5,434.3 583.5,434.3 582.5,434.3 581.5,434.3 580.5,434.3 579.5,434.3 578.5,434.3 577.5,434.3 576.5,434.3 575.5,434.3 574.5,434.3 573.5,434.3 572.5,434.3 571.5,434.3 570.5,434.3 569.5,434.3 568.5,434.3 567.5,434.3 566.5,434.3 565.5,434.3 564.5,434.3 563.5,434.3 562.5,434.3 561.5,434.3 560.5,434.3 559.5,434.3 558.5,434.3 557.5,434.3 556.5,434.3 555.5,434.3 554.5,434.3 553.6,434.3 553.7,433.3 553.8,432.3 554.0,431.3 554.1,430.3 554.3,429.3 554.5,428.4 554.8,427.3 555.0,426.3 555.2,425.3 555.5,424.3 555.8,423.3 556.1,422.3 556.4,421.3 556.7,420.3 557.0,419.3 557.2,418.3 557.5,417.4 557.8,416.3 558.1,415.3 558.3,414.3 558.5,413.4 558.7,412.3 558.9,411.3 559.1,410.3 559.3,409.3 559.4,408.3 559.6,407.3 559.7,406.3 559.8,405.3 559.9,404.3 560.0,403.3 560.0,402.3 560.1,401.3 560.1,400.3 560.2,399.3 560.2,398.3 560.3,397.3 560.3,396.3 560.3,395.3 560.3,394.3 560.4,393.3 560.4,392.3 560.4,391.3 560.4,390.3 560.3,389.3 560.3,388.3 560.3,387.3 560.3,386.3 560.2,385.3 560.2,384.3 560.1,383.3 560.0,382.3 559.9,381.3 559.8,380.3 559.7,379.3 559.5,378.3 559.4,377.3 559.2,376.3 559.0,375.3 558.8,374.3 558.6,373.3 558.3,372.3 558.1,371.3 557.8,370.3 557.6,369.3 557.3,368.3 557.1,367.3 556.8,366.3 556.5,365.3 556.3,364.3 556.0,363.3 555.8,362.3 555.6,361.3 555.4,360.3 555.2,359.3 555.0,358.3 554.9,357.3 554.7,356.3 554.6,355.3 554.5,354.3 554.5,353.3 554.4,352.3 554.4,351.3 554.4,350.3 554.5,349.3 554.6,348.3 554.7,347.3 554.9,346.3 555.1,345.3 555.4,344.3 555.7,343.3 556.2,342.3 556.8,341.3 557.5,340.3 558.5,339.3 559.5,338.4 560.5,337.8 561.3,337.3 562.5,336.8 563.5,336.5 564.5,336.2 565.5,336.0 566.5,335.9 567.5,335.8 568.5,335.7 569.5,335.5 570.5,335.3 571.5,334.8 572.3,334.3 573.3,333.3 574.0,332.3 574.4,331.3 574.5,330.3 574.6,329.3 574.5,328.3 574.3,327.3 574.2,326.3 574.0,325.3 573.8,324.3 573.6,323.3 573.4,322.3 573.2,321.3 573.0,320.3 572.9,319.3 572.8,318.3 572.7,317.3 572.6,316.3 572.5,315.3 572.5,314.3 572.5,313.3 572.5,312.3 572.5,311.3 572.6,310.3 572.7,309.3 572.8,308.3 573.0,307.3 573.2,306.3 573.4,305.3 573.8,304.3 574.1,303.3 574.5,302.4 575.2,301.3 575.9,300.3 576.5,299.5 577.5,298.5 578.5,297.6 579.5,296.8 580.2,296.3 581.5,295.5 582.5,294.9 583.5,294.4 584.5,293.9 585.5,293.4 586.5,292.8 587.3,292.3 588.5,291.5 589.5,290.8 590.5,290.0 591.4,289.3 592.5,288.3 593.5,287.3 594.5,286.3 595.4,285.3 596.3,284.3 597.2,283.3 598.4,282.3 599.5,281.6 600.5,281.1 601.5,280.6 602.5,280.0 603.5,279.4 604.5,278.9 605.4,278.3 606.5,277.6 607.5,277.1 608.5,276.8 609.5,276.8 610.5,277.1 611.5,277.4 612.5,277.8 613.5,278.2 614.5,278.6 615.5,279.0 616.5,279.4 617.5,279.8 618.5,280.2 619.5,280.6 620.5,281.0 621.5,281.4 622.5,281.9 623.5,282.5 624.5,283.2 625.5,283.9 626.5,284.6 627.5,285.3 628.5,286.0 629.5,286.7 630.4,287.3 631.5,288.1 632.5,288.8 633.5,289.5 634.5,290.2 635.5,291.0 636.5,291.7 637.2,292.3 638.4,293.3 639.5,294.3 640.5,295.2 641.5,296.0 642.5,296.8 643.5,297.6 644.4,298.3 645.5,299.2 646.5,299.9 647.5,300.6 648.5,301.2 649.5,301.8 650.4,302.3 651.5,302.9 652.5,303.4 653.5,304.0 654.5,304.5 655.5,305.1 656.5,305.6 657.5,306.1 658.5,306.5 659.5,306.6 660.4,306.3 661.5,305.6 662.5,304.7 663.5,303.9 664.5,303.0 665.3,302.3 666.4,301.3 667.5,300.3 668.5,299.4 669.5,298.5 670.5,297.6 671.5,296.7 672.5,295.8 673.5,294.9 674.3,294.3 675.5,293.3 676.5,292.5 677.5,291.7 678.5,290.8 679.5,290.0 680.4,289.3 681.5,288.4 682.5,287.5 683.5,286.8 684.4,286.3 684.5,287.3 684.5,288.3 684.5,289.3 684.5,290.3 684.5,291.3 684.5,292.3 684.5,293.3 684.5,294.3 684.5,295.3 684.5,296.3 684.5,297.3 684.5,298.3 684.5,299.3 684.5,300.3 684.5,301.3 684.5,302.3 684.5,303.3 684.5,304.3 684.5,305.3 684.5,306.3 684.5,307.3 684.5,308.3 684.5,309.3 684.5,310.3 684.5,311.3 684.5,312.3 684.5,313.3 684.5,314.3 684.5,315.3 684.5,316.3 684.5,317.3 684.5,318.3 684.5,319.3 684.5,320.3 684.5,321.3 684.5,322.3 684.5,323.3 684.5,324.3 684.5,325.3 684.5,326.3 684.5,327.3 684.5,328.3 684.5,329.3 684.5,330.3 684.5,331.3 684.5,332.3 684.5,333.3 684.5,334.3 684.5,335.3 684.5,336.3 684.5,337.3 684.5,338.3 684.5,339.3 684.5,340.3 684.5,341.3 684.5,342.3 684.5,343.3 684.5,344.3 684.5,345.3 684.5,346.3 684.5,347.3 684.5,348.3 684.5,349.3 684.5,350.3 684.5,351.3 684.5,352.3 684.5,353.3 684.5,354.3 684.5,355.3 684.5,356.3 684.5,357.3 684.5,358.3 684.5,359.3 684.5,360.3 684.5,361.3 684.5,362.3 684.5,363.3 684.5,364.3 684.5,365.3 684.5,366.3 683.5,366.4 682.5,366.0 681.5,365.6 680.5,365.1 679.5,364.5 678.5,363.9 677.5,363.3 676.5,362.6 675.5,361.8 674.5,361.0 673.7,360.3 672.6,359.3 671.5,358.3 670.5,357.3 669.5,356.3 668.5,355.3 667.5,354.3 666.5,353.3 665.5,352.4 664.5,351.7 663.5,351.1 662.5,350.7 661.5,350.6 660.5,350.8 659.5,351.3 658.5,352.1 657.5,353.0 656.5,354.1 655.5,355.3 654.7,356.3 653.8,357.3 652.9,358.3 651.9,359.3 650.8,360.3 649.7,361.3 648.5,362.2 647.5,363.0 646.5,363.6 645.5,364.3 644.5,364.8 643.7,365.3 642.5,365.9 641.7,366.3 640.5,366.9 639.5,367.3 638.5,367.7 637.5,368.2 636.5,368.6 635.5,369.1 634.5,369.6 633.5,370.2 632.5,370.8 631.5,371.6 630.8,372.3 630.1,373.3 629.5,374.3 629.1,375.3 628.8,376.3 628.6,377.3 628.5,378.3 628.4,379.3 628.4,380.3 628.4,381.3 628.3,382.3 628.3,383.3 628.4,384.3 628.4,385.3 628.4,386.3 628.4,387.3 628.4,388.3 628.4,389.3 628.4,390.3 628.3,391.3 628.3,392.3 628.3,393.3 628.2,394.3 628.1,395.3 628.1,396.3 628.0,397.3 627.9,398.3 627.7,399.3 627.6,400.3 627.5,401.3 627.4,402.3 627.2,403.3 627.1,404.3 627.0,405.3 626.9,406.3 626.8,407.3 626.8,408.3 626.7,409.3 626.7,410.3 626.7,411.3 626.8,412.3 626.9,413.3 627.0,414.3 627.2,415.3 627.3,416.3 627.6,417.3 627.8,418.3 628.0,419.3 628.3,420.3 628.6,421.3 628.9,422.3 629.2,423.3 629.5,424.3 629.8,425.3 630.1,426.3 630.3,427.3 630.6,428.3 630.9,429.3 631.2,430.3 631.4,431.3 631.6,432.3 631.8,433.3 631.9,434.3Z"/>
<path fill-rule="evenodd" fill="#0fb8c2" d="M625.5,434.3 624.5,434.3 623.5,434.3 622.5,434.3 621.5,434.3 620.5,434.3 619.5,434.3 618.5,434.3 617.5,434.3 616.5,434.3 615.5,434.3 614.5,434.3 613.5,434.3 612.5,434.3 611.5,434.3 610.5,434.3 609.5,434.3 608.5,434.3 607.5,434.3 606.5,434.3 605.5,434.3 604.5,434.3 603.5,434.3 602.5,434.3 601.5,434.3 600.5,434.3 599.5,434.3 598.5,434.3 597.5,434.3 596.5,434.3 595.5,434.3 594.5,434.3 593.5,434.3 592.5,434.3 591.5,434.3 590.5,434.3 589.5,434.3 588.5,434.3 587.5,434.3 586.5,434.3 585.5,434.3 584.5,434.3 583.5,434.3 582.5,434.3 581.5,434.3 580.5,434.3 579.5,434.3 578.5,434.3 577.5,434.3 576.5,434.3 575.5,434.3 574.5,434.3 573.5,434.3 572.5,434.3 571.5,434.3 570.5,434.3 569.5,434.3 568.5,434.3 567.5,434.3 566.5,434.3 565.5,434.3 564.5,434.3 563.5,434.3 562.5,434.3 561.5,434.3 560.5,434.3 559.5,434.3 558.5,434.3 557.5,434.3 556.5,434.3 556.6,433.3 556.8,432.3 557.0,431.3 557.3,430.3 557.6,429.3 557.9,428.3 558.2,427.3 558.6,426.3 558.9,425.3 559.3,424.3 559.7,423.3 560.1,422.3 560.5,421.3 560.8,420.3 561.2,419.3 561.6,418.3 562.0,417.3 562.3,416.3 562.7,415.3 563.0,414.3 563.3,413.3 563.6,412.3 563.9,411.3 564.1,410.3 564.3,409.3 564.5,408.3 564.7,407.3 564.9,406.3 565.1,405.3 565.2,404.3 565.3,403.3 565.5,402.3 565.6,401.3 565.7,400.3 565.7,399.3 565.8,398.3 565.9,397.3 565.9,396.3 566.0,395.3 566.0,394.3 566.0,393.3 566.0,392.3 566.0,391.3 565.9,390.3 565.9,389.3 565.8,388.3 565.7,387.3 565.6,386.3 565.4,385.3 565.2,384.3 565.0,383.3 564.8,382.3 564.5,381.3 564.3,380.3 564.0,379.3 563.7,378.3 563.3,377.3 563.0,376.3 562.7,375.3 562.3,374.3 562.0,373.3 561.6,372.3 561.3,371.3 560.9,370.3 560.6,369.3 560.2,368.3 559.9,367.3 559.5,366.3 559.2,365.3 558.9,364.3 558.6,363.3 558.3,362.3 558.0,361.3 557.7,360.3 557.5,359.3 557.3,358.3 557.1,357.3 556.9,356.3 556.8,355.3 556.7,354.3 556.6,353.3 556.6,352.3 556.6,351.3 556.6,350.3 556.7,349.3 556.9,348.3 557.1,347.3 557.4,346.3 557.8,345.3 558.2,344.3 558.9,343.3 559.5,342.4 560.5,341.4 561.5,340.6 562.5,339.9 563.5,339.5 564.5,339.1 565.5,338.8 566.5,338.6 567.5,338.4 568.5,338.3 569.5,338.2 570.5,338.1 571.5,337.8 572.5,337.5 573.5,337.2 574.5,337.0 575.5,337.0 576.5,336.9 577.5,336.8 578.5,336.6 579.5,335.9 579.8,334.3 579.5,333.3 579.2,332.3 578.9,331.3 578.5,330.4 578.1,329.3 577.7,328.3 577.4,327.3 577.1,326.3 576.7,325.3 576.4,324.3 576.1,323.3 575.9,322.3 575.6,321.3 575.4,320.3 575.2,319.3 575.1,318.3 574.9,317.3 574.8,316.3 574.8,315.3 574.7,314.3 574.7,313.3 574.8,312.3 574.9,311.3 575.0,310.3 575.2,309.3 575.4,308.3 575.8,307.3 576.2,306.3 576.7,305.3 577.3,304.3 578.0,303.3 578.9,302.3 580.0,301.3 581.3,300.3 582.5,299.5 583.5,299.0 584.5,298.5 585.5,298.1 586.5,297.6 587.5,297.2 588.5,296.8 589.5,296.5 590.5,296.2 591.5,295.9 592.5,295.7 593.5,295.6 594.5,295.6 595.5,295.6 596.5,295.7 597.5,295.9 598.5,296.2 599.5,296.5 600.5,296.8 601.5,297.2 602.5,297.6 603.5,298.1 604.5,298.5 605.5,299.0 606.5,299.5 607.5,300.0 608.5,300.5 609.5,301.1 610.5,301.7 611.5,302.3 612.5,302.8 613.5,303.5 614.5,304.1 615.5,304.7 616.4,305.3 617.5,306.0 618.5,306.7 619.3,307.3 620.5,308.1 621.5,308.9 622.5,309.6 623.4,310.3 624.5,311.1 625.5,311.9 626.5,312.7 627.5,313.6 628.3,314.3 629.5,315.3 630.5,316.2 631.5,317.1 632.5,318.0 633.5,319.0 634.5,320.0 635.5,321.0 636.5,322.0 637.5,323.1 638.5,324.2 639.5,325.3 640.3,326.3 641.1,327.3 641.9,328.3 642.5,329.1 643.4,330.3 644.1,331.3 644.8,332.3 645.4,333.3 646.0,334.3 646.5,335.2 647.1,336.3 647.5,337.1 648.0,338.3 648.4,339.3 648.8,340.3 649.2,341.3 649.4,342.3 649.7,343.3 649.9,344.3 650.0,345.3 650.1,346.3 650.1,347.3 650.1,348.3 650.0,349.3 649.9,350.3 649.7,351.3 649.4,352.3 649.0,353.3 648.6,354.3 648.0,355.3 647.5,356.1 646.6,357.3 645.7,358.3 644.6,359.3 643.5,360.1 642.5,360.8 641.6,361.3 640.5,361.8 639.5,362.3 638.5,362.7 637.5,363.0 636.6,363.3 635.5,363.6 634.5,363.9 633.5,364.1 632.5,364.3 631.5,364.5 630.5,364.7 629.5,364.8 628.5,365.0 627.5,365.2 626.5,365.4 625.5,365.7 624.5,366.1 623.5,366.6 622.6,367.3 621.9,368.3 621.6,369.3 621.4,370.3 621.4,371.3 621.5,372.3 621.6,373.3 621.7,374.3 621.8,375.3 622.0,376.3 622.2,377.3 622.3,378.3 622.5,379.3 622.6,380.3 622.8,381.3 622.9,382.3 623.0,383.3 623.1,384.3 623.2,385.3 623.2,386.3 623.2,387.3 623.2,388.3 623.2,389.3 623.2,390.3 623.1,391.3 623.0,392.3 622.8,393.3 622.6,394.3 622.4,395.3 622.2,396.3 621.9,397.3 621.5,398.3 621.2,399.3 620.8,400.3 620.4,401.3 620.0,402.3 619.6,403.3 619.1,404.3 618.8,405.3 618.5,406.3 618.2,407.3 618.0,408.3 617.9,409.3 617.9,410.3 618.0,411.3 618.1,412.3 618.3,413.3 618.6,414.3 618.9,415.3 619.3,416.3 619.7,417.3 620.2,418.3 620.6,419.3 621.1,420.3 621.5,421.1 622.1,422.3 622.5,423.3 623.0,424.3 623.4,425.3 623.8,426.3 624.3,427.3 624.6,428.3 625.0,429.3 625.3,430.3 625.7,431.3 625.9,432.3 626.2,433.3 626.3,434.3ZM684.5,364.2 683.5,364.0 682.5,363.7 681.5,363.2 680.5,362.6 679.5,362.0 678.5,361.3 677.5,360.5 676.5,359.6 675.5,358.7 674.5,357.6 673.5,356.4 672.7,355.3 672.0,354.3 671.5,353.5 670.8,352.3 670.2,351.3 669.8,350.3 669.3,349.3 668.9,348.3 668.6,347.3 668.3,346.3 668.1,345.3 667.8,344.3 667.7,343.3 667.5,342.3 667.5,341.3 667.4,340.3 667.4,339.3 667.4,338.3 667.5,337.3 667.5,336.3 667.7,335.3 667.8,334.3 668.0,333.3 668.2,332.3 668.5,331.3 668.8,330.3 669.1,329.3 669.5,328.3 669.9,327.3 670.3,326.3 670.8,325.3 671.4,324.3 671.9,323.3 672.5,322.4 673.3,321.3 674.1,320.3 674.9,319.3 675.9,318.3 677.0,317.3 678.3,316.3 679.5,315.5 680.5,314.9 681.5,314.4 682.5,314.0 683.5,313.7 684.5,313.6 684.5,315.3 684.5,316.3 684.5,317.3 684.5,318.3 684.5,319.3 684.5,320.3 684.5,321.3 684.5,322.3 684.5,323.3 684.5,324.3 684.5,325.3 684.5,326.3 684.5,327.3 684.5,328.3 684.5,329.3 684.5,330.3 684.5,331.3 684.5,332.3 684.5,333.3 684.5,334.3 684.5,335.3 684.5,336.3 684.5,337.3 684.5,338.3 684.5,339.3 684.5,340.3 684.5,341.3 684.5,342.3 684.5,343.3 684.5,344.3 684.5,345.3 684.5,346.3 684.5,347.3 684.5,348.3 684.5,349.3 684.5,350.3 684.5,351.3 684.5,352.3 684.5,353.3 684.5,354.3 684.5,355.3 684.5,356.3 684.5,357.3 684.5,358.3 684.5,359.3 684.5,360.3 684.5,361.3 684.5,362.3 684.5,363.3 684.5,364.2Z"/>
<path fill-rule="evenodd" fill="#28beaa" d="M621.5,434.3 620.5,434.3 619.5,434.3 618.5,434.3 617.5,434.3 616.5,434.3 615.5,434.3 614.5,434.3 613.5,434.3 612.5,434.3 611.5,434.3 610.5,434.3 609.5,434.3 608.5,434.3 607.5,434.3 606.5,434.3 605.5,434.3 604.5,434.3 603.5,434.3 602.5,434.3 601.5,434.3 600.5,434.3 599.5,434.3 598.5,434.3 597.5,434.3 596.5,434.3 595.5,434.3 594.5,434.3 593.5,434.3 592.5,434.3 591.5,434.3 590.5,434.3 589.5,434.3 588.5,434.3 587.5,434.3 586.5,434.3 585.5,434.3 584.5,434.3 583.5,434.3 582.5,434.3 581.5,434.3 580.5,434.3 579.5,434.3 578.5,434.3 577.5,434.3 576.5,434.3 575.5,434.3 574.5,434.3 573.5,434.3 572.5,434.3 571.5,434.3 570.5,434.3 569.5,434.3 568.5,434.3 567.5,434.3 566.5,434.3 565.5,434.3 564.5,434.3 563.5,434.3 562.5,434.3 561.5,434.3 560.5,434.3 559.5,434.3 559.7,433.3 559.9,432.3 560.2,431.3 560.6,430.3 560.9,429.3 561.3,428.3 561.7,427.3 562.1,426.3 562.5,425.4 563.0,424.3 563.5,423.3 564.0,422.3 564.5,421.3 565.1,420.3 565.5,419.5 566.2,418.3 566.8,417.3 567.4,416.3 568.0,415.3 568.5,414.4 569.2,413.3 569.8,412.3 570.4,411.3 571.0,410.3 571.5,409.3 572.0,408.3 572.4,407.3 572.8,406.3 573.2,405.3 573.5,404.3 573.7,403.3 574.0,402.3 574.2,401.3 574.3,400.3 574.5,399.3 574.6,398.3 574.7,397.3 574.7,396.3 574.7,395.3 574.7,394.3 574.6,393.3 574.5,392.3 574.3,391.3 574.1,390.3 573.8,389.3 573.5,388.4 573.1,387.3 572.6,386.3 572.2,385.3 571.6,384.3 571.1,383.3 570.5,382.4 569.8,381.3 569.2,380.3 568.6,379.3 567.9,378.3 567.3,377.3 566.7,376.3 566.1,375.3 565.6,374.3 565.1,373.3 564.6,372.3 564.1,371.3 563.6,370.3 563.2,369.3 562.7,368.3 562.3,367.3 561.9,366.3 561.5,365.3 561.1,364.3 560.8,363.3 560.5,362.4 560.2,361.3 559.9,360.3 559.6,359.3 559.4,358.3 559.2,357.3 559.0,356.3 558.9,355.3 558.8,354.3 558.7,353.3 558.7,352.3 558.8,351.3 558.9,350.3 559.1,349.3 559.3,348.3 559.6,347.3 560.1,346.3 560.6,345.3 561.4,344.3 562.3,343.3 563.5,342.4 564.5,341.9 565.5,341.4 566.5,341.1 567.5,340.9 568.5,340.7 569.5,340.5 570.5,340.4 571.5,340.2 572.5,340.0 573.5,339.9 574.5,339.9 575.5,340.1 576.4,340.3 577.5,340.6 578.5,340.9 579.5,341.2 580.5,341.5 581.5,341.8 582.5,342.1 583.5,342.4 584.5,342.7 585.5,342.9 586.5,343.1 587.5,343.2 588.5,343.0 589.2,342.3 589.1,341.3 588.8,340.3 588.3,339.3 587.7,338.3 587.0,337.3 586.5,336.5 585.6,335.3 584.9,334.3 584.2,333.3 583.5,332.3 582.8,331.3 582.1,330.3 581.5,329.4 580.9,328.3 580.3,327.3 579.8,326.3 579.4,325.3 579.0,324.3 578.7,323.3 578.4,322.3 578.1,321.3 577.9,320.3 577.7,319.3 577.5,318.3 577.4,317.3 577.3,316.3 577.3,315.3 577.3,314.3 577.3,313.3 577.4,312.3 577.6,311.3 577.8,310.3 578.1,309.3 578.5,308.4 579.1,307.3 579.7,306.3 580.5,305.3 581.4,304.3 582.5,303.4 583.5,302.7 584.5,302.2 585.5,301.7 586.5,301.3 587.5,300.9 588.5,300.7 589.5,300.5 590.5,300.4 591.5,300.4 592.5,300.4 593.5,300.5 594.5,300.7 595.5,300.9 596.5,301.2 597.5,301.5 598.5,301.9 599.5,302.2 600.5,302.6 601.5,303.1 602.5,303.5 603.5,304.0 604.5,304.5 605.5,305.0 606.5,305.5 607.5,306.0 608.5,306.6 609.5,307.1 610.5,307.7 611.4,308.3 612.5,308.9 613.5,309.6 614.5,310.2 615.5,310.9 616.5,311.6 617.5,312.3 618.5,313.0 619.5,313.8 620.5,314.5 621.5,315.3 622.5,316.1 623.5,316.9 624.5,317.8 625.5,318.6 626.3,319.3 627.4,320.3 628.4,321.3 629.5,322.3 630.5,323.3 631.5,324.3 632.4,325.3 633.3,326.3 634.2,327.3 635.1,328.3 635.9,329.3 636.5,330.0 637.5,331.3 638.2,332.3 638.9,333.3 639.5,334.2 640.2,335.3 640.8,336.3 641.4,337.3 641.9,338.3 642.4,339.3 642.9,340.3 643.3,341.3 643.6,342.3 644.0,343.3 644.2,344.3 644.4,345.3 644.6,346.3 644.7,347.3 644.7,348.3 644.7,349.3 644.5,350.3 644.3,351.3 644.0,352.3 643.6,353.3 643.0,354.3 642.3,355.3 641.5,356.1 640.5,357.0 639.5,357.7 638.5,358.3 637.5,358.7 636.5,359.1 635.5,359.5 634.5,359.7 633.5,359.9 632.5,360.1 631.5,360.2 630.5,360.3 629.5,360.4 628.5,360.4 627.5,360.4 626.5,360.4 625.5,360.4 624.6,360.3 623.5,360.2 622.5,360.1 621.5,360.0 620.5,359.9 619.5,359.8 618.5,359.7 617.5,359.6 616.5,359.5 615.5,359.5 614.5,359.5 613.5,359.8 612.7,360.3 612.4,361.3 612.4,362.3 612.7,363.3 613.0,364.3 613.4,365.3 613.7,366.3 614.1,367.3 614.5,368.2 614.9,369.3 615.3,370.3 615.7,371.3 616.1,372.3 616.4,373.3 616.8,374.3 617.1,375.3 617.4,376.3 617.7,377.3 617.9,378.3 618.1,379.3 618.3,380.3 618.5,381.3 618.7,382.3 618.8,383.3 618.8,384.3 618.9,385.3 618.9,386.3 618.8,387.3 618.7,388.3 618.6,389.3 618.4,390.3 618.1,391.3 617.8,392.3 617.4,393.3 616.9,394.3 616.3,395.3 615.7,396.3 614.9,397.3 614.0,398.3 612.9,399.3 611.8,400.3 610.7,401.3 609.6,402.3 608.6,403.3 607.9,404.3 607.3,405.3 606.9,406.3 606.7,407.3 606.7,408.3 606.9,409.3 607.1,410.3 607.5,411.3 608.0,412.3 608.5,413.2 609.2,414.3 609.9,415.3 610.5,416.0 611.5,417.3 612.3,418.3 613.1,419.3 613.9,420.3 614.5,421.1 615.4,422.3 616.2,423.3 616.9,424.3 617.5,425.2 618.2,426.3 618.8,427.3 619.3,428.3 619.8,429.3 620.3,430.3 620.7,431.3 621.1,432.3 621.4,433.3 621.6,434.3ZM684.5,362.2 683.5,361.9 682.5,361.5 681.5,361.0 680.5,360.4 679.5,359.6 678.5,358.8 677.5,357.9 676.5,356.8 675.5,355.5 674.7,354.3 674.1,353.3 673.5,352.3 673.0,351.3 672.6,350.3 672.2,349.3 671.9,348.3 671.6,347.3 671.4,346.3 671.2,345.3 671.0,344.3 670.9,343.3 670.8,342.3 670.8,341.3 670.8,340.3 670.8,339.3 670.9,338.3 671.0,337.3 671.1,336.3 671.3,335.3 671.5,334.3 671.8,333.3 672.1,332.3 672.4,331.3 672.8,330.3 673.2,329.3 673.7,328.3 674.2,327.3 674.8,326.3 675.5,325.3 676.2,324.3 677.1,323.3 678.1,322.3 679.2,321.3 680.5,320.4 681.5,319.8 682.5,319.3 683.5,318.9 684.5,318.7 684.5,320.3 684.5,321.3 684.5,322.3 684.5,323.3 684.5,324.3 684.5,325.3 684.5,326.3 684.5,327.3 684.5,328.3 684.5,329.3 684.5,330.3 684.5,331.3 684.5,332.3 684.5,333.3 684.5,334.3 684.5,335.3 684.5,336.3 684.5,337.3 684.5,338.3 684.5,339.3 684.5,340.3 684.5,341.3 684.5,342.3 684.5,343.3 684.5,344.3 684.5,345.3 684.5,346.3 684.5,347.3 684.5,348.3 684.5,349.3 684.5,350.3 684.5,351.3 684.5,352.3 684.5,353.3 684.5,354.3 684.5,355.3 684.5,356.3 684.5,357.3 684.5,358.3 684.5,359.3 684.5,360.3 684.5,361.3Z"/>
<path fill-rule="evenodd" fill="#4bc18c" d="M633.5,356.4 632.5,356.6 631.5,356.8 630.5,357.0 629.5,357.0 628.5,357.1 627.5,357.1 626.5,357.0 625.5,357.0 624.5,356.9 623.5,356.7 622.5,356.5 621.5,356.4 620.5,356.1 619.5,355.9 618.5,355.6 617.5,355.3 616.5,355.0 615.5,354.7 614.5,354.4 613.5,354.0 612.5,353.6 611.5,353.2 610.5,352.8 609.5,352.3 608.5,351.8 607.5,351.3 606.5,350.8 605.7,350.3 604.5,349.6 603.5,349.0 602.6,348.3 601.5,347.5 600.5,346.8 599.5,345.9 598.8,345.3 597.7,344.3 596.6,343.3 595.6,342.3 594.7,341.3 593.7,340.3 592.8,339.3 591.9,338.3 591.0,337.3 590.1,336.3 589.5,335.6 588.5,334.4 587.6,333.3 586.8,332.3 586.0,331.3 585.2,330.3 584.5,329.3 583.8,328.3 583.1,327.3 582.5,326.3 582.0,325.3 581.5,324.3 581.1,323.3 580.7,322.3 580.4,321.3 580.2,320.3 580.0,319.3 579.8,318.3 579.7,317.3 579.7,316.3 579.7,315.3 579.7,314.3 579.8,313.3 580.0,312.3 580.3,311.3 580.6,310.3 581.1,309.3 581.7,308.3 582.4,307.3 583.4,306.3 584.5,305.5 585.5,304.9 586.5,304.5 587.5,304.1 588.5,303.9 589.5,303.7 590.5,303.7 591.5,303.7 592.5,303.8 593.5,303.9 594.5,304.1 595.5,304.4 596.5,304.6 597.5,304.9 598.5,305.3 599.5,305.7 600.5,306.0 601.5,306.5 602.5,306.9 603.4,307.3 604.5,307.8 605.4,308.3 606.5,308.8 607.3,309.3 608.5,309.9 609.5,310.5 610.5,311.1 611.5,311.7 612.4,312.3 613.5,313.0 614.5,313.7 615.4,314.3 616.5,315.1 617.5,315.8 618.5,316.6 619.5,317.3 620.5,318.1 621.5,318.9 622.5,319.8 623.5,320.6 624.2,321.3 625.3,322.3 626.4,323.3 627.4,324.3 628.4,325.3 629.3,326.3 630.3,327.3 631.2,328.3 632.0,329.3 632.8,330.3 633.5,331.2 634.4,332.3 635.1,333.3 635.8,334.3 636.4,335.3 637.0,336.3 637.5,337.2 638.1,338.3 638.6,339.3 639.1,340.3 639.4,341.3 639.8,342.3 640.1,343.3 640.3,344.3 640.5,345.2 640.6,346.3 640.7,347.3 640.6,348.3 640.5,349.3 640.2,350.3 639.9,351.3 639.3,352.3 638.6,353.3 637.6,354.3 636.5,355.1 635.5,355.6 634.5,356.0 633.5,356.4ZM684.5,360.2 683.5,360.0 682.5,359.5 681.5,358.9 680.6,358.3 679.5,357.4 678.5,356.4 677.6,355.3 676.8,354.3 676.2,353.3 675.6,352.3 675.1,351.3 674.7,350.3 674.3,349.3 674.0,348.3 673.7,347.3 673.5,346.4 673.3,345.3 673.1,344.3 673.0,343.3 673.0,342.3 673.0,341.3 673.0,340.3 673.0,339.3 673.1,338.3 673.3,337.3 673.5,336.3 673.7,335.3 673.9,334.3 674.3,333.3 674.6,332.3 675.0,331.3 675.5,330.3 676.0,329.3 676.5,328.5 677.3,327.3 678.1,326.3 679.0,325.3 680.1,324.3 681.5,323.3 682.5,322.7 683.5,322.3 684.5,322.0 684.5,323.3 684.5,324.3 684.5,325.3 684.5,326.3 684.5,327.3 684.5,328.3 684.5,329.3 684.5,330.3 684.5,331.3 684.5,332.3 684.5,333.3 684.5,334.3 684.5,335.3 684.5,336.3 684.5,337.3 684.5,338.3 684.5,339.3 684.5,340.3 684.5,341.3 684.5,342.3 684.5,343.3 684.5,344.3 684.5,345.3 684.5,346.3 684.5,347.3 684.5,348.3 684.5,349.3 684.5,350.3 684.5,351.3 684.5,352.3 684.5,353.3 684.5,354.3 684.5,355.3 684.5,356.3 684.5,357.3 684.5,358.3 684.5,359.3 684.5,360.2ZM616.5,434.3 615.5,434.3 614.5,434.3 613.5,434.3 612.5,434.3 611.5,434.3 610.5,434.3 609.5,434.3 608.5,434.3 607.5,434.3 606.5,434.3 605.5,434.3 604.5,434.3 603.5,434.3 602.5,434.3 601.5,434.3 600.5,434.3 599.5,434.3 598.5,434.3 597.5,434.3 596.5,434.3 595.5,434.3 594.5,434.3 593.5,434.3 592.5,434.3 591.5,434.3 590.5,434.3 589.5,434.3 588.5,434.3 587.5,434.3 586.5,434.3 585.5,434.3 584.5,434.3 583.5,434.3 582.5,434.3 581.5,434.3 580.5,434.3 579.5,434.3 578.5,434.3 577.5,434.3 576.5,434.3 575.5,434.3 574.5,434.3 573.5,434.3 572.5,434.3 571.5,434.3 570.5,434.3 569.5,434.3 568.5,434.3 567.5,434.3 566.5,434.3 565.5,434.3 564.5,434.3 563.5,434.3 562.5,434.3 562.7,433.3 563.0,432.3 563.3,431.3 563.7,430.3 564.2,429.3 564.6,428.3 565.2,427.3 565.7,426.3 566.4,425.3 567.1,424.3 567.8,423.3 568.5,422.5 569.5,421.3 570.5,420.3 571.5,419.3 572.5,418.4 573.5,417.4 574.5,416.5 575.5,415.6 576.5,414.6 577.5,413.6 578.5,412.6 579.5,411.5 580.5,410.4 581.4,409.3 582.2,408.3 583.0,407.3 583.7,406.3 584.4,405.3 584.9,404.3 585.3,403.3 585.6,402.3 585.7,401.3 585.6,400.3 585.4,399.3 585.2,398.3 584.8,397.3 584.4,396.3 583.9,395.3 583.4,394.3 582.8,393.3 582.2,392.3 581.6,391.3 581.0,390.3 580.5,389.5 579.7,388.3 579.0,387.3 578.2,386.3 577.5,385.3 576.7,384.3 575.9,383.3 575.1,382.3 574.5,381.5 573.5,380.3 572.7,379.3 571.9,378.3 571.1,377.3 570.5,376.6 569.5,375.3 568.7,374.3 568.0,373.3 567.3,372.3 566.7,371.3 566.1,370.3 565.5,369.3 565.0,368.3 564.5,367.4 564.0,366.3 563.6,365.3 563.2,364.3 562.8,363.3 562.4,362.3 562.1,361.3 561.8,360.3 561.5,359.3 561.3,358.3 561.1,357.3 560.9,356.3 560.8,355.3 560.8,354.3 560.7,353.3 560.8,352.3 560.9,351.3 561.1,350.3 561.4,349.3 561.7,348.3 562.2,347.3 562.9,346.3 563.8,345.3 565.1,344.3 566.5,343.6 567.5,343.2 568.5,342.9 569.5,342.7 570.5,342.5 571.5,342.3 572.5,342.2 573.5,342.2 574.5,342.3 575.5,342.5 576.5,342.8 577.5,343.1 578.5,343.4 579.5,343.8 580.5,344.2 581.5,344.6 582.5,345.0 583.5,345.4 584.5,345.9 585.5,346.3 586.5,346.7 587.5,347.2 588.5,347.7 589.5,348.2 590.5,348.6 591.5,349.2 592.5,349.7 593.5,350.3 594.5,350.8 595.5,351.5 596.5,352.1 597.5,352.8 598.5,353.6 599.4,354.3 600.5,355.3 601.5,356.2 602.5,357.2 603.5,358.3 604.4,359.3 605.2,360.3 606.0,361.3 606.7,362.3 607.4,363.3 608.1,364.3 608.8,365.3 609.4,366.3 610.0,367.3 610.5,368.3 611.1,369.3 611.5,370.2 612.0,371.3 612.5,372.3 612.9,373.3 613.3,374.3 613.7,375.3 614.0,376.3 614.3,377.3 614.5,378.2 614.7,379.3 614.9,380.3 615.1,381.3 615.2,382.3 615.2,383.3 615.2,384.3 615.1,385.3 615.0,386.3 614.8,387.3 614.6,388.3 614.2,389.3 613.7,390.3 613.1,391.3 612.5,392.1 611.5,393.2 610.5,394.0 609.5,394.7 608.5,395.3 607.5,395.9 606.5,396.3 605.5,396.7 604.5,397.1 603.5,397.5 602.5,397.8 601.5,398.2 600.5,398.6 599.5,399.0 598.6,399.3 597.5,399.8 596.6,400.3 595.5,401.1 594.5,402.0 593.7,403.3 593.6,404.3 593.7,405.3 593.9,406.3 594.4,407.3 594.9,408.3 595.5,409.1 596.4,410.3 597.2,411.3 598.1,412.3 599.0,413.3 600.0,414.3 601.1,415.3 602.2,416.3 603.3,417.3 604.5,418.3 605.5,419.2 606.5,420.0 607.5,420.9 608.5,421.8 609.5,422.8 610.5,423.8 611.5,424.8 612.5,426.0 613.5,427.2 614.3,428.3 615.0,429.3 615.5,430.2 616.1,431.3 616.6,432.3 617.0,433.3 617.2,434.3Z"/>
<path fill-rule="evenodd" fill="#73c26e" d="M631.5,353.6 630.5,353.9 629.5,354.1 628.5,354.2 627.5,354.2 626.5,354.2 625.5,354.2 624.5,354.1 623.5,354.0 622.5,353.8 621.5,353.6 620.5,353.4 619.5,353.1 618.5,352.9 617.5,352.6 616.5,352.2 615.5,351.8 614.5,351.5 613.5,351.0 612.5,350.6 611.5,350.1 610.5,349.6 609.5,349.1 608.5,348.6 607.5,348.0 606.5,347.4 605.5,346.8 604.5,346.1 603.5,345.4 602.5,344.7 601.5,344.0 600.7,343.3 599.5,342.3 598.5,341.5 597.5,340.6 596.5,339.7 595.5,338.7 594.5,337.8 593.5,336.7 592.5,335.7 591.5,334.6 590.5,333.5 589.5,332.3 588.7,331.3 587.9,330.3 587.1,329.3 586.5,328.4 585.7,327.3 585.1,326.3 584.5,325.3 583.9,324.3 583.5,323.4 583.0,322.3 582.7,321.3 582.4,320.3 582.2,319.3 582.0,318.3 581.9,317.3 581.9,316.3 581.9,315.3 582.1,314.3 582.3,313.3 582.5,312.4 583.0,311.3 583.5,310.3 584.3,309.3 585.4,308.3 586.5,307.6 587.5,307.1 588.5,306.8 589.5,306.6 590.5,306.5 591.5,306.5 592.5,306.6 593.5,306.7 594.5,306.8 595.5,307.0 596.5,307.3 597.5,307.6 598.5,307.9 599.5,308.2 600.5,308.6 601.5,309.0 602.5,309.4 603.5,309.9 604.4,310.3 605.5,310.8 606.4,311.3 607.5,311.9 608.5,312.4 609.5,313.0 610.5,313.6 611.5,314.2 612.5,314.9 613.5,315.5 614.5,316.2 615.5,316.9 616.5,317.7 617.4,318.3 618.5,319.2 619.5,320.0 620.5,320.8 621.5,321.7 622.2,322.3 623.3,323.3 624.4,324.3 625.4,325.3 626.4,326.3 627.3,327.3 628.2,328.3 629.1,329.3 629.9,330.3 630.5,331.0 631.5,332.3 632.2,333.3 632.9,334.3 633.5,335.3 634.1,336.3 634.7,337.3 635.2,338.3 635.6,339.3 636.1,340.3 636.4,341.3 636.7,342.3 637.0,343.3 637.1,344.3 637.2,345.3 637.3,346.3 637.2,347.3 637.0,348.3 636.6,349.3 636.1,350.3 635.5,351.1 634.5,352.1 633.5,352.8 632.5,353.3 631.5,353.6ZM684.5,358.4 683.5,358.1 682.5,357.6 681.5,356.9 680.8,356.3 679.7,355.3 678.8,354.3 678.1,353.3 677.5,352.3 676.9,351.3 676.5,350.4 676.1,349.3 675.7,348.3 675.4,347.3 675.2,346.3 675.0,345.3 674.9,344.3 674.8,343.3 674.7,342.3 674.7,341.3 674.8,340.3 674.8,339.3 675.0,338.3 675.1,337.3 675.4,336.3 675.6,335.3 675.9,334.3 676.3,333.3 676.7,332.3 677.2,331.3 677.8,330.3 678.5,329.3 679.2,328.3 680.2,327.3 681.3,326.3 682.5,325.5 683.5,325.0 684.5,324.7 684.5,326.3 684.5,327.3 684.5,328.3 684.5,329.3 684.5,330.3 684.5,331.3 684.5,332.3 684.5,333.3 684.5,334.3 684.5,335.3 684.5,336.3 684.5,337.3 684.5,338.3 684.5,339.3 684.5,340.3 684.5,341.3 684.5,342.3 684.5,343.3 684.5,344.3 684.5,345.3 684.5,346.3 684.5,347.3 684.5,348.3 684.5,349.3 684.5,350.3 684.5,351.3 684.5,352.3 684.5,353.3 684.5,354.3 684.5,355.3 684.5,356.3 684.5,357.3 684.5,358.3ZM598.5,393.3 597.5,393.4 596.5,393.3 595.5,393.2 594.5,393.1 593.5,392.9 592.5,392.6 591.5,392.3 590.5,391.9 589.5,391.4 588.5,390.8 587.7,390.3 586.5,389.5 585.5,388.7 584.5,387.8 583.5,386.9 582.8,386.3 581.8,385.3 580.8,384.3 579.8,383.3 578.8,382.3 577.9,381.3 576.9,380.3 576.0,379.3 575.1,378.3 574.2,377.3 573.5,376.6 572.5,375.4 571.5,374.3 570.7,373.3 569.9,372.3 569.1,371.3 568.5,370.4 567.7,369.3 567.1,368.3 566.5,367.3 566.0,366.3 565.5,365.3 565.0,364.3 564.6,363.3 564.2,362.3 563.9,361.3 563.6,360.3 563.3,359.3 563.1,358.3 562.9,357.3 562.8,356.3 562.7,355.3 562.7,354.3 562.7,353.3 562.8,352.3 563.0,351.3 563.3,350.3 563.7,349.3 564.3,348.3 565.1,347.3 566.3,346.3 567.5,345.6 568.5,345.2 569.5,344.8 570.5,344.6 571.5,344.4 572.5,344.2 573.5,344.2 574.5,344.3 575.5,344.5 576.5,344.8 577.5,345.2 578.5,345.5 579.5,345.9 580.5,346.3 581.5,346.7 582.5,347.2 583.5,347.6 584.5,348.1 585.5,348.6 586.5,349.1 587.5,349.6 588.5,350.2 589.5,350.7 590.5,351.3 591.5,351.9 592.5,352.6 593.5,353.3 594.5,354.0 595.5,354.7 596.3,355.3 597.5,356.3 598.5,357.2 599.5,358.1 600.5,359.1 601.5,360.1 602.5,361.3 603.4,362.3 604.2,363.3 605.0,364.3 605.5,365.0 606.4,366.3 607.0,367.3 607.5,368.1 608.2,369.3 608.7,370.3 609.2,371.3 609.7,372.3 610.1,373.3 610.5,374.2 610.9,375.3 611.2,376.3 611.5,377.3 611.7,378.3 611.9,379.3 612.0,380.3 612.1,381.3 612.1,382.3 612.0,383.3 611.9,384.3 611.7,385.3 611.3,386.3 610.9,387.3 610.3,388.3 609.5,389.3 608.5,390.2 607.5,390.9 606.5,391.5 605.5,392.0 604.6,392.3 603.5,392.6 602.5,392.9 601.5,393.1 600.5,393.2 599.5,393.3 598.5,393.3ZM612.5,434.3 611.5,434.3 610.5,434.3 609.5,434.3 608.5,434.3 607.5,434.3 606.5,434.3 605.5,434.3 604.5,434.3 603.5,434.3 602.5,434.3 601.5,434.3 600.5,434.3 599.5,434.3 598.5,434.3 597.5,434.3 596.5,434.3 595.5,434.3 594.5,434.3 593.5,434.3 592.5,434.3 591.5,434.3 590.5,434.3 589.5,434.3 588.5,434.3 587.5,434.3 586.5,434.3 585.5,434.3 584.5,434.3 583.5,434.3 582.5,434.3 581.5,434.3 580.5,434.3 579.5,434.3 578.5,434.3 577.5,434.3 576.5,434.3 575.5,434.3 574.5,434.3 573.5,434.3 572.5,434.3 571.5,434.3 570.5,434.3 569.5,434.3 568.5,434.3 567.5,434.3 566.5,434.3 565.5,434.3 565.7,433.3 566.1,432.3 566.5,431.5 567.1,430.3 567.8,429.3 568.5,428.3 569.3,427.3 570.2,426.3 571.2,425.3 572.3,424.3 573.5,423.3 574.5,422.5 575.5,421.7 576.5,421.0 577.5,420.3 578.5,419.7 579.5,419.1 580.5,418.5 581.5,418.0 582.5,417.5 583.5,417.1 584.5,416.7 585.5,416.4 586.5,416.3 587.5,416.1 588.5,416.1 589.5,416.2 590.5,416.3 591.5,416.5 592.5,416.8 593.5,417.2 594.5,417.6 595.5,418.1 596.5,418.6 597.5,419.1 598.5,419.7 599.5,420.3 600.5,421.0 601.5,421.6 602.5,422.3 603.5,423.0 604.5,423.8 605.5,424.6 606.4,425.3 607.5,426.3 608.5,427.3 609.5,428.3 610.3,429.3 611.1,430.3 611.8,431.3 612.4,432.3 612.9,433.3 613.2,434.3Z"/>
<path fill-rule="evenodd" fill="#a0bf55" d="M628.5,351.4 627.5,351.6 626.5,351.7 625.5,351.7 624.5,351.7 623.5,351.6 622.5,351.5 621.5,351.3 620.5,351.1 619.5,350.9 618.5,350.6 617.6,350.3 616.5,349.9 615.5,349.6 614.5,349.2 613.5,348.7 612.5,348.3 611.5,347.8 610.5,347.3 609.5,346.8 608.7,346.3 607.5,345.6 606.5,345.0 605.5,344.3 604.5,343.7 603.5,343.0 602.6,342.3 601.5,341.5 600.5,340.7 599.5,339.8 598.5,339.0 597.8,338.3 596.7,337.3 595.7,336.3 594.7,335.3 593.7,334.3 592.8,333.3 591.9,332.3 591.1,331.3 590.5,330.6 589.5,329.3 588.8,328.3 588.1,327.3 587.5,326.4 586.9,325.3 586.3,324.3 585.8,323.3 585.4,322.3 585.0,321.3 584.7,320.3 584.5,319.3 584.3,318.3 584.2,317.3 584.2,316.3 584.4,315.3 584.6,314.3 584.9,313.3 585.5,312.3 586.3,311.3 587.5,310.3 588.5,309.8 589.5,309.4 590.5,309.2 591.5,309.1 592.5,309.1 593.5,309.1 594.5,309.3 595.5,309.4 596.5,309.6 597.5,309.9 598.5,310.1 599.5,310.5 600.5,310.8 601.5,311.2 602.5,311.6 603.5,312.0 604.5,312.5 605.5,312.9 606.5,313.4 607.5,314.0 608.5,314.5 609.5,315.1 610.5,315.7 611.5,316.3 612.5,317.0 613.5,317.6 614.4,318.3 615.5,319.1 616.5,319.8 617.5,320.6 618.4,321.3 619.5,322.2 620.5,323.1 621.5,324.0 622.5,325.0 623.5,325.9 624.5,327.0 625.5,328.0 626.5,329.2 627.5,330.3 628.3,331.3 629.0,332.3 629.7,333.3 630.4,334.3 631.0,335.3 631.5,336.1 632.1,337.3 632.6,338.3 633.1,339.3 633.4,340.3 633.7,341.3 634.0,342.3 634.1,343.3 634.2,344.3 634.2,345.3 634.1,346.3 633.8,347.3 633.3,348.3 632.5,349.3 631.5,350.2 630.5,350.7 629.5,351.1 628.5,351.4ZM684.5,356.6 683.5,356.3 682.5,355.7 681.5,354.9 680.5,353.9 679.5,352.7 678.6,351.3 678.1,350.3 677.7,349.3 677.3,348.3 677.0,347.3 676.7,346.3 676.5,345.3 676.4,344.3 676.3,343.3 676.3,342.3 676.3,341.3 676.3,340.3 676.4,339.3 676.6,338.3 676.8,337.3 677.0,336.3 677.3,335.3 677.7,334.3 678.2,333.3 678.7,332.3 679.3,331.3 680.0,330.3 680.9,329.3 682.0,328.3 683.5,327.4 684.5,327.1 684.5,328.3 684.5,329.3 684.5,330.3 684.5,331.3 684.5,332.3 684.5,333.3 684.5,334.3 684.5,335.3 684.5,336.3 684.5,337.3 684.5,338.3 684.5,339.3 684.5,340.3 684.5,341.3 684.5,342.3 684.5,343.3 684.5,344.3 684.5,345.3 684.5,346.3 684.5,347.3 684.5,348.3 684.5,349.3 684.5,350.3 684.5,351.3 684.5,352.3 684.5,353.3 684.5,354.3 684.5,355.3 684.5,356.3ZM602.5,389.3 601.5,389.5 600.5,389.7 599.5,389.8 598.5,389.8 597.5,389.8 596.5,389.7 595.5,389.6 594.5,389.4 593.5,389.1 592.5,388.8 591.5,388.5 590.5,388.0 589.5,387.6 588.5,387.0 587.5,386.4 586.5,385.8 585.5,385.1 584.5,384.3 583.5,383.5 582.5,382.7 581.5,381.8 580.5,380.9 579.8,380.3 578.8,379.3 577.8,378.3 576.8,377.3 575.8,376.3 574.9,375.3 574.0,374.3 573.1,373.3 572.2,372.3 571.5,371.4 570.6,370.3 569.9,369.3 569.1,368.3 568.5,367.3 567.9,366.3 567.3,365.3 566.8,364.3 566.4,363.3 566.0,362.3 565.6,361.3 565.3,360.3 565.0,359.3 564.8,358.3 564.6,357.3 564.5,356.3 564.5,355.3 564.5,354.3 564.7,353.3 564.9,352.3 565.2,351.3 565.7,350.3 566.4,349.3 567.4,348.3 568.5,347.5 569.5,347.0 570.5,346.7 571.5,346.4 572.5,346.2 573.5,346.2 574.5,346.3 575.5,346.5 576.5,346.7 577.5,347.0 578.5,347.4 579.5,347.7 580.5,348.1 581.5,348.6 582.5,349.0 583.5,349.5 584.5,350.0 585.5,350.5 586.5,351.0 587.5,351.6 588.5,352.2 589.5,352.8 590.3,353.3 591.5,354.1 592.5,354.8 593.5,355.5 594.5,356.3 595.5,357.1 596.5,358.0 597.5,358.9 598.5,359.8 599.5,360.9 600.5,361.9 601.5,363.1 602.5,364.3 603.2,365.3 604.0,366.3 604.5,367.1 605.3,368.3 605.8,369.3 606.4,370.3 606.9,371.3 607.4,372.3 607.8,373.3 608.2,374.3 608.5,375.3 608.8,376.3 609.0,377.3 609.2,378.3 609.3,379.3 609.3,380.3 609.3,381.3 609.2,382.3 608.9,383.3 608.6,384.3 608.1,385.3 607.5,386.2 606.5,387.2 605.5,388.0 604.5,388.6 603.5,389.0 602.5,389.3ZM608.5,434.3 607.5,434.3 606.5,434.3 605.5,434.3 604.5,434.3 603.5,434.3 602.5,434.3 601.5,434.3 600.5,434.3 599.5,434.3 598.5,434.3 597.5,434.3 596.5,434.3 595.5,434.3 594.5,434.3 593.5,434.3 592.5,434.3 591.5,434.3 590.5,434.3 589.5,434.3 588.5,434.3 587.5,434.3 586.5,434.3 585.5,434.3 584.5,434.3 583.5,434.3 582.5,434.3 581.5,434.3 580.5,434.3 579.5,434.3 578.5,434.3 577.5,434.3 576.5,434.3 575.5,434.3 574.5,434.3 573.5,434.3 572.5,434.3 571.5,434.3 570.5,434.3 569.5,434.3 569.3,433.3 569.8,432.3 570.5,431.3 571.3,430.3 572.2,429.3 573.2,428.3 574.3,427.3 575.5,426.4 576.5,425.6 577.5,424.9 578.5,424.3 579.5,423.8 580.4,423.3 581.5,422.8 582.5,422.4 583.5,422.0 584.5,421.8 585.5,421.5 586.5,421.4 587.5,421.3 588.5,421.3 589.5,421.3 590.5,421.4 591.5,421.6 592.5,421.8 593.5,422.0 594.5,422.4 595.5,422.8 596.5,423.2 597.5,423.6 598.5,424.2 599.5,424.7 600.5,425.3 601.5,426.0 602.5,426.7 603.3,427.3 604.5,428.3 605.5,429.2 606.5,430.2 607.5,431.3 608.2,432.3 608.8,433.3 609.2,434.3Z"/>
<path fill-rule="evenodd" fill="#cdba3e" d="M624.5,349.3 623.5,349.3 622.5,349.3 621.5,349.1 620.5,349.0 619.5,348.8 618.5,348.5 617.5,348.2 616.5,347.9 615.5,347.6 614.5,347.2 613.5,346.8 612.5,346.3 611.5,345.8 610.5,345.3 609.5,344.8 608.7,344.3 607.5,343.6 606.5,343.0 605.5,342.3 604.5,341.6 603.5,340.9 602.7,340.3 601.5,339.3 600.5,338.5 599.5,337.7 598.5,336.8 597.5,335.8 596.5,334.8 595.5,333.8 594.5,332.7 593.5,331.5 592.5,330.3 591.7,329.3 591.0,328.3 590.3,327.3 589.7,326.3 589.1,325.3 588.6,324.3 588.1,323.3 587.7,322.3 587.3,321.3 587.1,320.3 586.9,319.3 586.8,318.3 586.8,317.3 586.9,316.3 587.2,315.3 587.7,314.3 588.5,313.3 589.5,312.6 590.5,312.1 591.5,311.8 592.5,311.6 593.5,311.5 594.5,311.6 595.5,311.6 596.5,311.8 597.5,312.0 598.5,312.2 599.5,312.5 600.5,312.8 601.5,313.1 602.5,313.5 603.5,313.9 604.4,314.3 605.5,314.8 606.5,315.3 607.5,315.8 608.4,316.3 609.5,317.0 610.5,317.6 611.5,318.2 612.5,318.9 613.5,319.5 614.5,320.3 615.5,321.0 616.5,321.8 617.5,322.6 618.3,323.3 619.5,324.3 620.5,325.2 621.5,326.2 622.5,327.2 623.5,328.3 624.4,329.3 625.3,330.3 626.1,331.3 626.8,332.3 627.5,333.3 628.2,334.3 628.8,335.3 629.4,336.3 629.9,337.3 630.3,338.3 630.7,339.3 631.0,340.3 631.2,341.3 631.4,342.3 631.4,343.3 631.3,344.3 631.1,345.3 630.6,346.3 629.9,347.3 628.6,348.3 627.5,348.8 626.5,349.1 625.5,349.2 624.5,349.3ZM684.5,354.8 683.5,354.4 682.5,353.7 681.5,352.8 680.5,351.5 679.7,350.3 679.2,349.3 678.8,348.3 678.4,347.3 678.2,346.3 678.0,345.3 677.8,344.3 677.7,343.3 677.7,342.3 677.7,341.3 677.8,340.3 677.9,339.3 678.1,338.3 678.3,337.3 678.6,336.3 679.0,335.3 679.4,334.3 680.0,333.3 680.5,332.5 681.5,331.3 682.5,330.3 683.5,329.6 684.4,329.3 684.5,330.3 684.5,331.3 684.5,332.3 684.5,333.3 684.5,334.3 684.5,335.3 684.5,336.3 684.5,337.3 684.5,338.3 684.5,339.3 684.5,340.3 684.5,341.3 684.5,342.3 684.5,343.3 684.5,344.3 684.5,345.3 684.5,346.3 684.5,347.3 684.5,348.3 684.5,349.3 684.5,350.3 684.5,351.3 684.5,352.3 684.5,353.3 684.5,354.3ZM601.5,386.4 600.5,386.7 599.5,386.9 598.5,387.0 597.5,387.0 596.5,386.9 595.5,386.8 594.5,386.6 593.5,386.4 592.5,386.1 591.5,385.7 590.5,385.3 589.5,384.9 588.5,384.3 587.5,383.8 586.5,383.1 585.5,382.5 584.5,381.8 583.5,381.0 582.6,380.3 581.5,379.4 580.5,378.5 579.5,377.6 578.5,376.6 577.5,375.7 576.5,374.6 575.5,373.6 574.5,372.5 573.5,371.3 572.7,370.3 571.9,369.3 571.1,368.3 570.5,367.4 569.7,366.3 569.1,365.3 568.6,364.3 568.1,363.3 567.7,362.3 567.3,361.3 567.0,360.3 566.7,359.3 566.5,358.3 566.4,357.3 566.3,356.3 566.3,355.3 566.5,354.3 566.7,353.3 567.1,352.3 567.5,351.5 568.4,350.3 569.5,349.4 570.5,348.9 571.5,348.5 572.5,348.2 573.5,348.1 574.5,348.2 575.5,348.3 576.5,348.6 577.5,348.8 578.5,349.1 579.5,349.5 580.5,349.9 581.5,350.3 582.5,350.7 583.5,351.2 584.5,351.7 585.5,352.2 586.5,352.7 587.4,353.3 588.5,353.9 589.5,354.6 590.5,355.3 591.5,356.0 592.5,356.7 593.2,357.3 594.5,358.3 595.5,359.2 596.5,360.2 597.5,361.1 598.5,362.2 599.5,363.3 600.3,364.3 601.1,365.3 601.8,366.3 602.5,367.3 603.2,368.3 603.8,369.3 604.3,370.3 604.8,371.3 605.2,372.3 605.6,373.3 606.0,374.3 606.3,375.3 606.5,376.3 606.7,377.3 606.7,378.3 606.8,379.3 606.7,380.3 606.5,381.3 606.2,382.3 605.7,383.3 604.9,384.3 603.8,385.3 602.5,386.1 601.5,386.4ZM604.5,434.3 603.5,434.3 602.5,434.3 601.5,434.3 600.5,434.3 599.5,434.3 598.5,434.3 597.5,434.3 596.5,434.3 595.5,434.3 594.5,434.3 593.5,434.3 592.5,434.3 591.5,434.3 590.5,434.3 589.5,434.3 588.5,434.3 587.5,434.3 586.5,434.3 585.5,434.3 584.5,434.3 583.5,434.3 582.5,434.3 581.5,434.3 580.5,434.3 579.5,434.3 578.5,434.3 577.5,434.3 576.5,434.3 575.5,434.3 574.5,434.3 573.5,434.3 573.4,433.3 574.1,432.3 575.0,431.3 576.0,430.3 577.2,429.3 578.5,428.4 579.5,427.8 580.4,427.3 581.5,426.8 582.5,426.3 583.5,426.0 584.5,425.7 585.5,425.5 586.5,425.3 587.5,425.2 588.5,425.2 589.5,425.2 590.5,425.3 591.5,425.4 592.5,425.6 593.5,425.9 594.5,426.2 595.5,426.6 596.5,427.0 597.5,427.5 598.5,428.0 599.5,428.6 600.5,429.3 601.5,430.0 602.5,430.9 603.5,431.9 604.5,433.1 605.1,434.3Z"/>
<path fill-rule="evenodd" fill="#eeb637" d="M625.5,346.5 624.5,346.8 623.5,347.0 622.5,347.0 621.5,347.0 620.5,346.9 619.5,346.8 618.5,346.6 617.5,346.3 616.5,346.0 615.5,345.7 614.5,345.3 613.5,344.9 612.5,344.5 611.5,344.0 610.5,343.5 609.5,342.9 608.5,342.4 607.5,341.8 606.5,341.1 605.5,340.4 604.5,339.7 603.5,339.0 602.6,338.3 601.5,337.4 600.5,336.5 599.5,335.6 598.5,334.7 597.5,333.6 596.5,332.6 595.5,331.4 594.6,330.3 593.8,329.3 593.1,328.3 592.5,327.4 591.8,326.3 591.2,325.3 590.7,324.3 590.3,323.3 590.0,322.3 589.7,321.3 589.5,320.3 589.4,319.3 589.5,318.3 589.7,317.3 590.2,316.3 591.0,315.3 592.5,314.4 593.5,314.1 594.5,314.0 595.5,313.9 596.5,313.9 597.5,314.0 598.5,314.2 599.5,314.4 600.5,314.7 601.5,315.0 602.4,315.3 603.5,315.7 604.5,316.1 605.5,316.6 606.5,317.1 607.5,317.6 608.5,318.1 609.5,318.7 610.5,319.3 611.5,320.0 612.5,320.6 613.5,321.3 614.5,322.1 615.5,322.8 616.5,323.6 617.3,324.3 618.4,325.3 619.5,326.3 620.5,327.3 621.5,328.3 622.4,329.3 623.2,330.3 624.0,331.3 624.8,332.3 625.5,333.3 626.1,334.3 626.7,335.3 627.2,336.3 627.6,337.3 628.0,338.3 628.3,339.3 628.6,340.3 628.7,341.3 628.6,342.3 628.5,343.2 628.1,344.3 627.5,345.1 626.5,346.0 625.5,346.5ZM684.5,352.9 683.5,352.4 682.5,351.6 681.5,350.4 680.8,349.3 680.3,348.3 679.9,347.3 679.6,346.3 679.4,345.3 679.2,344.3 679.1,343.3 679.1,342.3 679.1,341.3 679.2,340.3 679.3,339.3 679.5,338.3 679.8,337.3 680.2,336.3 680.7,335.3 681.2,334.3 682.0,333.3 683.0,332.3 684.5,331.4 684.5,333.3 684.5,334.3 684.5,335.3 684.5,336.3 684.5,337.3 684.5,338.3 684.5,339.3 684.5,340.3 684.5,341.3 684.5,342.3 684.5,343.3 684.5,344.3 684.5,345.3 684.5,346.3 684.5,347.3 684.5,348.3 684.5,349.3 684.5,350.3 684.5,351.3 684.5,352.3ZM598.5,384.3 597.5,384.4 596.5,384.4 595.5,384.4 594.5,384.2 593.5,384.0 592.5,383.8 591.5,383.4 590.5,383.0 589.5,382.6 588.5,382.1 587.5,381.6 586.5,381.0 585.5,380.3 584.5,379.6 583.5,378.9 582.8,378.3 581.6,377.3 580.5,376.4 579.5,375.5 578.5,374.5 577.5,373.5 576.5,372.5 575.5,371.3 574.6,370.3 573.8,369.3 573.0,368.3 572.3,367.3 571.6,366.3 571.0,365.3 570.5,364.5 569.9,363.3 569.4,362.3 569.0,361.3 568.7,360.3 568.4,359.3 568.3,358.3 568.2,357.3 568.2,356.3 568.3,355.3 568.5,354.3 569.0,353.3 569.5,352.5 570.5,351.4 571.5,350.8 572.5,350.4 573.5,350.2 574.5,350.2 575.5,350.2 576.5,350.4 577.5,350.6 578.5,350.9 579.5,351.2 580.5,351.5 581.5,351.9 582.4,352.3 583.5,352.8 584.5,353.3 585.5,353.8 586.3,354.3 587.5,355.0 588.5,355.6 589.5,356.3 590.5,357.0 591.5,357.8 592.5,358.5 593.4,359.3 594.5,360.3 595.5,361.2 596.5,362.2 597.5,363.3 598.3,364.3 599.1,365.3 599.9,366.3 600.5,367.2 601.2,368.3 601.8,369.3 602.3,370.3 602.8,371.3 603.2,372.3 603.6,373.3 603.9,374.3 604.1,375.3 604.3,376.3 604.4,377.3 604.3,378.3 604.2,379.3 603.9,380.3 603.5,381.2 602.7,382.3 601.5,383.3 600.5,383.8 599.5,384.1 598.5,384.3ZM600.5,434.3 599.5,434.3 598.5,434.3 597.5,434.3 596.5,434.3 595.5,434.3 594.5,434.3 593.5,434.3 592.5,434.3 591.5,434.3 590.5,434.3 589.5,434.3 588.5,434.3 587.5,434.3 586.5,434.3 585.5,434.3 584.5,434.3 583.5,434.3 582.5,434.3 581.5,434.3 580.5,434.3 579.5,434.3 578.5,434.3 577.5,434.3 578.0,433.3 579.0,432.3 580.4,431.3 581.5,430.6 582.5,430.1 583.5,429.7 584.5,429.4 585.5,429.1 586.5,428.9 587.5,428.8 588.5,428.7 589.5,428.7 590.5,428.8 591.5,429.0 592.5,429.2 593.5,429.5 594.5,429.8 595.5,430.2 596.5,430.7 597.5,431.3 598.5,432.0 599.5,432.8 600.5,434.2Z"/>
<path fill-rule="evenodd" fill="#fabe30" d="M622.5,344.5 621.5,344.7 620.5,344.7 619.5,344.7 618.5,344.6 617.5,344.4 616.5,344.1 615.5,343.8 614.5,343.5 613.5,343.1 612.5,342.7 611.7,342.3 610.5,341.7 609.5,341.2 608.5,340.6 607.5,340.0 606.5,339.3 605.5,338.6 604.5,337.9 603.7,337.3 602.5,336.3 601.5,335.4 600.5,334.5 599.5,333.5 598.5,332.5 597.5,331.4 596.6,330.3 595.8,329.3 595.1,328.3 594.5,327.3 593.9,326.3 593.4,325.3 593.0,324.3 592.6,323.3 592.3,322.3 592.2,321.3 592.2,320.3 592.4,319.3 592.8,318.3 593.5,317.5 594.5,316.8 595.5,316.5 596.4,316.3 597.5,316.2 598.5,316.3 599.5,316.4 600.5,316.6 601.5,316.9 602.5,317.2 603.5,317.5 604.5,317.9 605.4,318.3 606.5,318.8 607.5,319.3 608.5,319.8 609.3,320.3 610.5,321.0 611.5,321.7 612.4,322.3 613.5,323.1 614.5,323.9 615.5,324.7 616.3,325.3 617.4,326.3 618.4,327.3 619.4,328.3 620.3,329.3 621.2,330.3 622.0,331.3 622.7,332.3 623.4,333.3 624.0,334.3 624.5,335.2 625.0,336.3 625.4,337.3 625.7,338.3 625.9,339.3 626.0,340.3 625.8,341.3 625.5,342.3 624.8,343.3 623.5,344.2 622.5,344.5ZM684.5,350.8 683.6,350.3 682.6,349.3 682.0,348.3 681.5,347.4 681.1,346.3 680.8,345.3 680.6,344.3 680.5,343.3 680.5,342.3 680.5,341.3 680.6,340.3 680.8,339.3 681.1,338.3 681.5,337.3 682.0,336.3 682.5,335.4 683.5,334.3 684.5,333.7 684.5,335.3 684.5,336.3 684.5,337.3 684.5,338.3 684.5,339.3 684.5,340.3 684.5,341.3 684.5,342.3 684.5,343.3 684.5,344.3 684.5,345.3 684.5,346.3 684.5,347.3 684.5,348.3 684.5,349.3 684.5,350.3ZM598.5,381.6 597.5,381.9 596.5,382.0 595.5,382.1 594.5,382.0 593.5,381.8 592.5,381.6 591.5,381.3 590.5,381.0 589.5,380.6 588.5,380.1 587.5,379.6 586.5,379.0 585.5,378.3 584.5,377.6 583.5,376.9 582.7,376.3 581.5,375.3 580.5,374.4 579.5,373.5 578.5,372.5 577.5,371.4 576.5,370.3 575.6,369.3 574.9,368.3 574.1,367.3 573.5,366.4 572.8,365.3 572.2,364.3 571.7,363.3 571.2,362.3 570.8,361.3 570.5,360.3 570.3,359.3 570.2,358.3 570.2,357.3 570.3,356.3 570.6,355.3 571.1,354.3 572.0,353.3 573.5,352.5 574.5,352.3 575.5,352.3 576.4,352.3 577.5,352.4 578.5,352.6 579.5,352.9 580.5,353.2 581.5,353.6 582.5,354.0 583.5,354.4 584.5,354.9 585.5,355.4 586.5,356.0 587.5,356.6 588.5,357.3 589.5,358.0 590.5,358.7 591.2,359.3 592.4,360.3 593.5,361.3 594.5,362.2 595.5,363.3 596.4,364.3 597.2,365.3 598.0,366.3 598.7,367.3 599.3,368.3 599.9,369.3 600.4,370.3 600.9,371.3 601.3,372.3 601.6,373.3 601.8,374.3 601.9,375.3 602.0,376.3 601.9,377.3 601.7,378.3 601.3,379.3 600.5,380.3 599.5,381.1 598.5,381.6ZM593.5,434.3 592.5,434.3 591.5,434.3 590.5,434.3 589.5,434.3 588.5,434.3 587.5,434.3 586.5,434.3 585.5,434.3 584.5,434.3 585.2,433.3 586.5,432.9 587.5,432.7 588.5,432.6 589.5,432.6 590.5,432.7 591.5,432.9 592.5,433.2 593.5,433.8Z"/>
<path fill-rule="evenodd" fill="#facf2a" d="M619.5,342.3 618.5,342.3 617.5,342.3 616.5,342.1 615.5,341.9 614.5,341.6 613.6,341.3 612.5,340.9 611.5,340.4 610.5,339.9 609.5,339.4 608.5,338.8 607.7,338.3 606.5,337.5 605.5,336.8 604.5,336.0 603.6,335.3 602.5,334.3 601.5,333.4 600.5,332.4 599.5,331.3 598.7,330.3 598.0,329.3 597.3,328.3 596.7,327.3 596.1,326.3 595.7,325.3 595.3,324.3 595.1,323.3 595.1,322.3 595.2,321.3 595.6,320.3 596.5,319.4 597.5,318.9 598.5,318.7 599.5,318.7 600.5,318.7 601.5,318.9 602.5,319.1 603.5,319.4 604.5,319.7 605.5,320.1 606.5,320.6 607.5,321.1 608.5,321.6 609.5,322.2 610.5,322.8 611.3,323.3 612.5,324.2 613.5,324.9 614.5,325.7 615.5,326.6 616.3,327.3 617.3,328.3 618.2,329.3 619.1,330.3 619.9,331.3 620.5,332.1 621.3,333.3 621.8,334.3 622.3,335.3 622.7,336.3 623.0,337.3 623.1,338.3 623.1,339.3 622.8,340.3 622.0,341.3 620.5,342.1 619.5,342.3ZM684.5,348.3 683.5,347.5 682.9,346.3 682.5,345.4 682.2,344.3 682.1,343.3 682.0,342.3 682.1,341.3 682.2,340.3 682.5,339.3 682.9,338.3 683.5,337.3 684.5,336.4 684.5,337.3 684.5,338.3 684.5,339.3 684.5,340.3 684.5,341.3 684.5,342.3 684.5,343.3 684.5,344.3 684.5,345.3 684.5,346.3 684.5,347.3 684.5,348.3ZM596.5,379.4 595.5,379.6 594.5,379.7 593.5,379.6 592.5,379.5 591.5,379.3 590.5,378.9 589.5,378.6 588.5,378.1 587.5,377.6 586.5,377.0 585.5,376.4 584.5,375.7 583.5,375.0 582.6,374.3 581.5,373.3 580.5,372.4 579.5,371.4 578.5,370.4 577.6,369.3 576.7,368.3 576.0,367.3 575.3,366.3 574.7,365.3 574.1,364.3 573.6,363.3 573.2,362.3 572.8,361.3 572.6,360.3 572.4,359.3 572.4,358.3 572.6,357.3 573.0,356.3 574.0,355.3 575.5,354.6 576.5,354.5 577.5,354.5 578.5,354.6 579.5,354.7 580.5,355.0 581.5,355.3 582.5,355.7 583.5,356.1 584.5,356.6 585.5,357.1 586.5,357.7 587.5,358.3 588.5,359.0 589.5,359.7 590.3,360.3 591.5,361.3 592.5,362.2 593.5,363.2 594.5,364.3 595.3,365.3 596.1,366.3 596.8,367.3 597.4,368.3 598.0,369.3 598.5,370.3 598.9,371.3 599.2,372.3 599.5,373.3 599.6,374.3 599.6,375.3 599.4,376.3 599.0,377.3 598.5,378.1 597.5,378.9 596.5,379.4Z"/>
<path fill-rule="evenodd" fill="#f9e123" d="M618.5,339.3 617.5,339.6 616.5,339.7 615.5,339.6 614.5,339.4 613.5,339.2 612.5,338.8 611.5,338.4 610.5,337.9 609.5,337.4 608.5,336.8 607.7,336.3 606.5,335.5 605.5,334.7 604.5,333.9 603.5,333.0 602.8,332.3 601.9,331.3 601.0,330.3 600.3,329.3 599.6,328.3 599.1,327.3 598.6,326.3 598.3,325.3 598.2,324.3 598.3,323.3 598.9,322.3 600.5,321.4 601.5,321.3 602.5,321.4 603.5,321.6 604.5,321.8 605.5,322.2 606.5,322.6 607.5,323.0 608.5,323.5 609.5,324.1 610.5,324.7 611.3,325.3 612.5,326.2 613.5,327.0 614.5,327.9 615.5,328.9 616.5,329.9 617.5,331.2 618.3,332.3 618.9,333.3 619.4,334.3 619.8,335.3 620.0,336.3 620.0,337.3 619.6,338.3 618.6,339.3ZM684.5,343.6 684.3,342.3 684.5,341.3 684.5,342.3 684.5,343.3ZM595.5,376.5 594.5,377.0 593.5,377.2 592.5,377.2 591.5,377.0 590.5,376.8 589.5,376.5 588.5,376.1 587.5,375.6 586.5,375.1 585.5,374.4 584.5,373.7 583.5,373.0 582.7,372.3 581.5,371.3 580.5,370.3 579.6,369.3 578.8,368.3 578.0,367.3 577.3,366.3 576.7,365.3 576.1,364.3 575.7,363.3 575.3,362.3 575.1,361.3 575.0,360.3 575.1,359.3 575.5,358.3 576.5,357.3 577.5,357.0 578.5,356.8 579.5,356.8 580.5,357.0 581.5,357.2 582.5,357.5 583.5,357.9 584.3,358.3 585.5,358.9 586.5,359.5 587.5,360.1 588.5,360.8 589.5,361.6 590.3,362.3 591.4,363.3 592.4,364.3 593.3,365.3 594.1,366.3 594.8,367.3 595.4,368.3 595.9,369.3 596.4,370.3 596.7,371.3 596.9,372.3 597.0,373.3 596.9,374.3 596.6,375.3 595.8,376.3Z"/>
<path fill-rule="evenodd" fill="#f8f21e" d="M614.5,336.3 613.5,336.3 612.5,336.2 611.5,335.9 610.5,335.5 609.5,334.9 608.5,334.4 607.5,333.7 606.5,332.9 605.8,332.3 604.8,331.3 603.9,330.3 603.2,329.3 602.7,328.3 602.3,327.3 602.2,326.3 602.6,325.3 603.5,324.8 604.5,324.7 605.5,324.8 606.5,325.1 607.5,325.5 608.5,326.0 609.5,326.5 610.5,327.2 611.5,328.0 612.5,328.8 613.5,329.8 614.5,331.0 615.3,332.3 615.8,333.3 616.0,334.3 615.9,335.3 614.5,336.3ZM593.5,373.3 592.5,374.0 591.5,374.3 590.5,374.3 589.5,374.1 588.5,373.8 587.5,373.3 586.5,372.8 585.7,372.3 584.5,371.5 583.5,370.7 582.5,369.8 581.5,368.7 580.5,367.5 579.6,366.3 579.0,365.3 578.6,364.3 578.2,363.3 578.1,362.3 578.2,361.3 578.7,360.3 579.5,359.8 580.5,359.6 581.5,359.6 582.5,359.8 583.5,360.1 584.5,360.5 585.5,361.0 586.5,361.6 587.5,362.2 588.5,363.0 589.5,363.9 590.5,364.9 591.5,366.0 592.5,367.3 593.0,368.3 593.5,369.3 593.8,370.3 594.0,371.3 593.9,372.3 593.5,373.3Z"/>
<path d="M526.9,238.3V434.3M487.5,277.5H684.5M566.3,238.3V434.3M487.5,316.7H684.5M605.7,238.3V434.3M487.5,355.9H684.5M645.1,238.3V434.3M487.5,395.1H684.5" stroke="#000" stroke-opacity="0.13" stroke-width="1" fill="none"/>
<line x1="487.5" y1="238.3" x2="684.5" y2="434.3" stroke="#1a1a1a" stroke-width="1.05"/>
</g>
<path d="M526.9,238.3v2.2M526.9,434.3v-2.2M487.5,277.5h2.2M684.5,277.5h-2.2M566.3,238.3v2.2M566.3,434.3v-2.2M487.5,316.7h2.2M684.5,316.7h-2.2M605.7,238.3v2.2M605.7,434.3v-2.2M487.5,355.9h2.2M684.5,355.9h-2.2M645.1,238.3v2.2M645.1,434.3v-2.2M487.5,395.1h2.2M684.5,395.1h-2.2" stroke="#444" stroke-width="0.9" fill="none"/>
<rect x="487.5" y="238.3" width="197.0" height="196.0" fill="none" stroke="#4a4a4a" stroke-width="1.1"/>
<text x="585.7" y="253.60000000000002" font-size="14.2" text-anchor="middle" font-weight="normal" font-style="normal" fill="#000" >Simulation</text>
<text x="526.9" y="450.7" font-size="13" text-anchor="middle" font-weight="normal" font-style="normal" fill="#000" >2.04</text>
<text x="566.3" y="450.7" font-size="13" text-anchor="middle" font-weight="normal" font-style="normal" fill="#000" >2.05</text>
<text x="605.7" y="450.7" font-size="13" text-anchor="middle" font-weight="normal" font-style="normal" fill="#000" >2.06</text>
<text x="645.1" y="450.7" font-size="13" text-anchor="middle" font-weight="normal" font-style="normal" fill="#000" >2.07</text>
<text x="587.8" y="467.1" font-size="14" text-anchor="middle"><tspan font-style="italic">ħω</tspan><tspan font-size="7.5" dy="3.8">3</tspan><tspan dy="-3.8"> (eV)</tspan></text>
<linearGradient id="cbg" x1="0" x2="1" y1="0" y2="0">
<stop offset="0" stop-color="rgb(238, 243, 255)"/>
<stop offset="0.1" stop-color="rgb(200, 215, 250)"/>
<stop offset="0.2" stop-color="rgb(120, 160, 250)"/>
<stop offset="0.26" stop-color="rgb(50, 120, 250)"/>
<stop offset="0.36" stop-color="rgb(30, 140, 230)"/>
<stop offset="0.46" stop-color="rgb(10, 180, 210)"/>
<stop offset="0.52" stop-color="rgb(20, 190, 190)"/>
<stop offset="0.62" stop-color="rgb(60, 195, 140)"/>
<stop offset="0.72" stop-color="rgb(140, 190, 80)"/>
<stop offset="0.78" stop-color="rgb(200, 180, 50)"/>
<stop offset="0.86" stop-color="rgb(250, 175, 60)"/>
<stop offset="0.95" stop-color="rgb(250, 220, 40)"/>
<stop offset="1" stop-color="rgb(250, 240, 30)"/>
</linearGradient>
<rect x="299.7" y="165.7" width="38.2" height="13.5" fill="url(#cbg)" stroke="#444" stroke-width="1"/>
<path d="M318.8,165.7v1.5M318.8,179.2v-1.5" stroke="#333" stroke-width="0.8"/>
<text x="298.5" y="192.6" font-size="14.5" text-anchor="middle" font-weight="normal" font-style="normal" fill="#000" >0</text>
<text x="338.3" y="192.6" font-size="14.5" text-anchor="middle" font-weight="normal" font-style="normal" fill="#000" >1</text>
<text x="319.7" y="202.9" font-size="9.8" text-anchor="middle" font-weight="normal" font-style="normal" fill="#000" >Norm. Amp.</text>
</svg>
</body></html>
